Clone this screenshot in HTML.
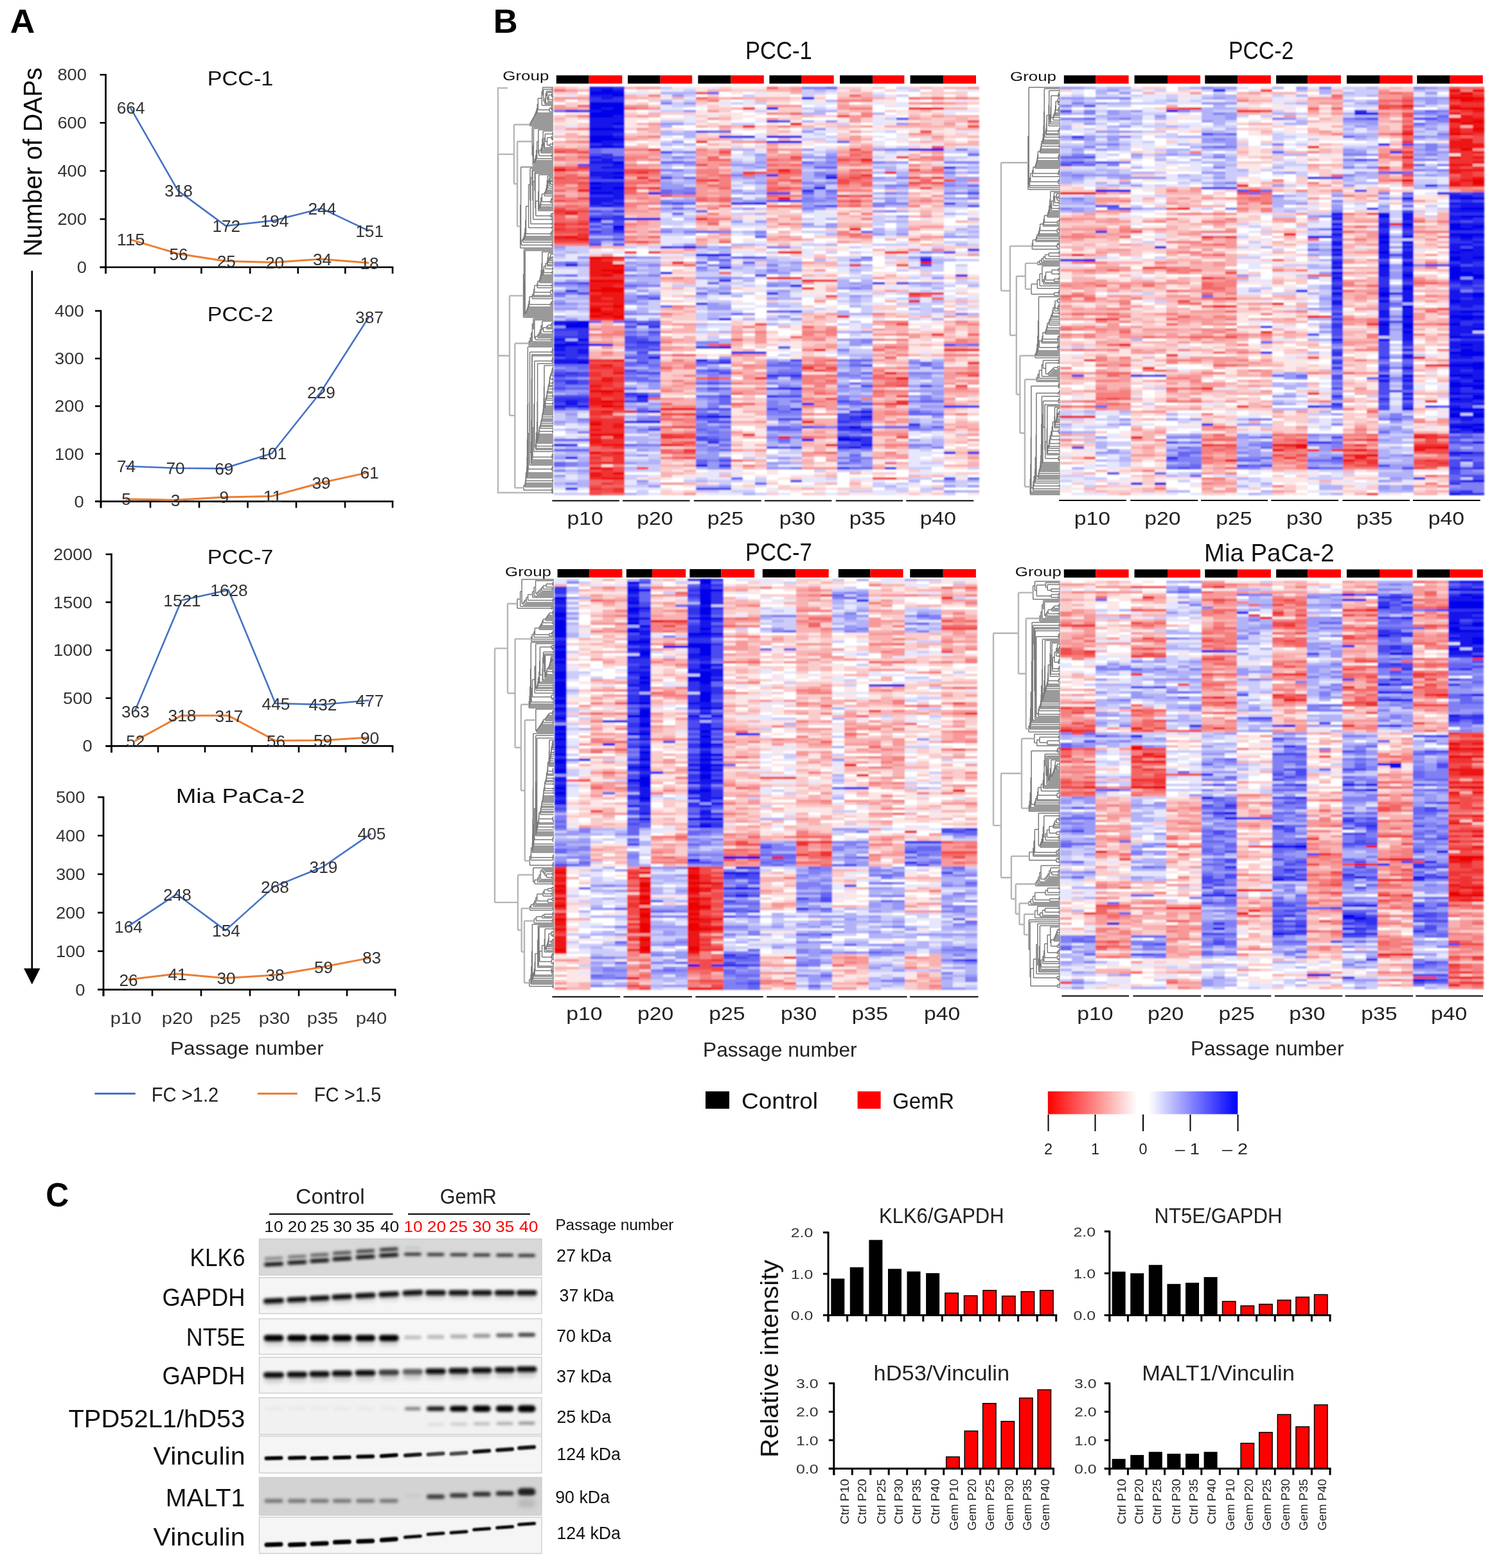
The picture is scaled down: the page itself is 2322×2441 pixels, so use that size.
<!DOCTYPE html>
<html><head><meta charset="utf-8"><title>Figure</title>
<style>html,body{margin:0;padding:0;background:#fff;overflow:hidden;}svg{display:block;}</style></head>
<body><svg width="2322" height="2441" viewBox="0 0 2322 2441" font-family="'Liberation Sans', Arial, sans-serif">
<rect x="0" y="0" width="2322" height="2441" fill="#fff"/>
<text x="15.8" y="50.8" font-size="52.5" font-weight="bold" textLength="38.6" lengthAdjust="spacingAndGlyphs">A</text>
<text x="64.5" y="399.5" font-size="40.5" textLength="294.5" lengthAdjust="spacingAndGlyphs" transform="rotate(-90 64.5 399.5)">Number of DAPs</text>
<line x1="155.5" y1="416.0" x2="164.5" y2="416.0" stroke="#000" stroke-width="2.6" />
<text x="135.0" y="425.0" font-size="25" text-anchor="end" fill="#333" textLength="15.2" lengthAdjust="spacingAndGlyphs">0</text>
<line x1="155.5" y1="341.1" x2="164.5" y2="341.1" stroke="#000" stroke-width="2.6" />
<text x="135.0" y="350.1" font-size="25" text-anchor="end" fill="#333" textLength="45.6" lengthAdjust="spacingAndGlyphs">200</text>
<line x1="155.5" y1="266.1" x2="164.5" y2="266.1" stroke="#000" stroke-width="2.6" />
<text x="135.0" y="275.1" font-size="25" text-anchor="end" fill="#333" textLength="45.6" lengthAdjust="spacingAndGlyphs">400</text>
<line x1="155.5" y1="191.2" x2="164.5" y2="191.2" stroke="#000" stroke-width="2.6" />
<text x="135.0" y="200.2" font-size="25" text-anchor="end" fill="#333" textLength="45.6" lengthAdjust="spacingAndGlyphs">600</text>
<line x1="155.5" y1="116.3" x2="164.5" y2="116.3" stroke="#000" stroke-width="2.6" />
<text x="135.0" y="125.3" font-size="25" text-anchor="end" fill="#333" textLength="45.6" lengthAdjust="spacingAndGlyphs">800</text>
<line x1="164.5" y1="115.0" x2="164.5" y2="426.0" stroke="#000" stroke-width="2.7" />
<line x1="155.5" y1="416.0" x2="612.3" y2="416.0" stroke="#000" stroke-width="2.7" />
<line x1="164.5" y1="416.0" x2="164.5" y2="426.0" stroke="#000" stroke-width="2.6" />
<line x1="240.7" y1="416.0" x2="240.7" y2="426.0" stroke="#000" stroke-width="2.6" />
<line x1="313.4" y1="416.0" x2="313.4" y2="426.0" stroke="#000" stroke-width="2.6" />
<line x1="389.2" y1="416.0" x2="389.2" y2="426.0" stroke="#000" stroke-width="2.6" />
<line x1="463.8" y1="416.0" x2="463.8" y2="426.0" stroke="#000" stroke-width="2.6" />
<line x1="537.3" y1="416.0" x2="537.3" y2="426.0" stroke="#000" stroke-width="2.6" />
<line x1="611.0" y1="416.0" x2="611.0" y2="426.0" stroke="#000" stroke-width="2.6" />
<text x="374.0" y="132.5" font-size="31.5" text-anchor="middle" fill="#111" textLength="102.6" lengthAdjust="spacingAndGlyphs">PCC-1</text>
<polyline points="202.6,372.9 277.0,395.0 351.3,406.6 426.5,408.5 500.5,403.3 574.1,409.3" fill="none" stroke="#ED7D31" stroke-width="3.0" stroke-linejoin="round"/>
<polyline points="202.6,167.2 277.0,296.9 351.3,351.6 426.5,343.3 500.5,324.6 574.1,359.4" fill="none" stroke="#4472C4" stroke-width="2.6" stroke-linejoin="round"/>
<text x="203.6" y="176.7" font-size="25" text-anchor="middle" fill="#333" textLength="43.8" lengthAdjust="spacingAndGlyphs">664</text>
<text x="278.0" y="306.4" font-size="25" text-anchor="middle" fill="#333" textLength="43.8" lengthAdjust="spacingAndGlyphs">318</text>
<text x="352.3" y="361.1" font-size="25" text-anchor="middle" fill="#333" textLength="43.8" lengthAdjust="spacingAndGlyphs">172</text>
<text x="427.5" y="352.8" font-size="25" text-anchor="middle" fill="#333" textLength="43.8" lengthAdjust="spacingAndGlyphs">194</text>
<text x="501.5" y="334.1" font-size="25" text-anchor="middle" fill="#333" textLength="43.8" lengthAdjust="spacingAndGlyphs">244</text>
<text x="575.1" y="368.9" font-size="25" text-anchor="middle" fill="#333" textLength="43.8" lengthAdjust="spacingAndGlyphs">151</text>
<text x="203.6" y="382.4" font-size="25" text-anchor="middle" fill="#333" textLength="43.8" lengthAdjust="spacingAndGlyphs">115</text>
<text x="278.0" y="404.5" font-size="25" text-anchor="middle" fill="#333" textLength="29.2" lengthAdjust="spacingAndGlyphs">56</text>
<text x="352.3" y="416.1" font-size="25" text-anchor="middle" fill="#333" textLength="29.2" lengthAdjust="spacingAndGlyphs">25</text>
<text x="427.5" y="418.0" font-size="25" text-anchor="middle" fill="#333" textLength="29.2" lengthAdjust="spacingAndGlyphs">20</text>
<text x="501.5" y="412.8" font-size="25" text-anchor="middle" fill="#333" textLength="29.2" lengthAdjust="spacingAndGlyphs">34</text>
<text x="575.1" y="418.8" font-size="25" text-anchor="middle" fill="#333" textLength="29.2" lengthAdjust="spacingAndGlyphs">18</text>
<line x1="148.0" y1="780.6" x2="157.0" y2="780.6" stroke="#000" stroke-width="2.6" />
<text x="130.6" y="789.6" font-size="25" text-anchor="end" fill="#333" textLength="15.2" lengthAdjust="spacingAndGlyphs">0</text>
<line x1="148.0" y1="706.5" x2="157.0" y2="706.5" stroke="#000" stroke-width="2.6" />
<text x="130.6" y="715.5" font-size="25" text-anchor="end" fill="#333" textLength="45.6" lengthAdjust="spacingAndGlyphs">100</text>
<line x1="148.0" y1="632.3" x2="157.0" y2="632.3" stroke="#000" stroke-width="2.6" />
<text x="130.6" y="641.3" font-size="25" text-anchor="end" fill="#333" textLength="45.6" lengthAdjust="spacingAndGlyphs">200</text>
<line x1="148.0" y1="558.1" x2="157.0" y2="558.1" stroke="#000" stroke-width="2.6" />
<text x="130.6" y="567.1" font-size="25" text-anchor="end" fill="#333" textLength="45.6" lengthAdjust="spacingAndGlyphs">300</text>
<line x1="148.0" y1="484.0" x2="157.0" y2="484.0" stroke="#000" stroke-width="2.6" />
<text x="130.6" y="493.0" font-size="25" text-anchor="end" fill="#333" textLength="45.6" lengthAdjust="spacingAndGlyphs">400</text>
<line x1="157.0" y1="482.7" x2="157.0" y2="790.6" stroke="#000" stroke-width="2.7" />
<line x1="148.0" y1="780.6" x2="612.3" y2="780.6" stroke="#000" stroke-width="2.7" />
<line x1="157.0" y1="780.6" x2="157.0" y2="790.6" stroke="#000" stroke-width="2.6" />
<line x1="234.0" y1="780.6" x2="234.0" y2="790.6" stroke="#000" stroke-width="2.6" />
<line x1="310.0" y1="780.6" x2="310.0" y2="790.6" stroke="#000" stroke-width="2.6" />
<line x1="385.5" y1="780.6" x2="385.5" y2="790.6" stroke="#000" stroke-width="2.6" />
<line x1="461.0" y1="780.6" x2="461.0" y2="790.6" stroke="#000" stroke-width="2.6" />
<line x1="537.0" y1="780.6" x2="537.0" y2="790.6" stroke="#000" stroke-width="2.6" />
<line x1="611.0" y1="780.6" x2="611.0" y2="790.6" stroke="#000" stroke-width="2.6" />
<text x="374.0" y="500.0" font-size="31.5" text-anchor="middle" fill="#111" textLength="102.6" lengthAdjust="spacingAndGlyphs">PCC-2</text>
<polyline points="195.5,776.9 272.0,778.4 347.8,773.9 423.2,772.4 499.0,751.7 574.0,735.4" fill="none" stroke="#ED7D31" stroke-width="3.0" stroke-linejoin="round"/>
<polyline points="195.5,725.7 272.0,728.7 347.8,729.4 423.2,705.7 499.0,610.8 574.0,493.6" fill="none" stroke="#4472C4" stroke-width="2.6" stroke-linejoin="round"/>
<text x="196.5" y="735.2" font-size="25" text-anchor="middle" fill="#333" textLength="29.2" lengthAdjust="spacingAndGlyphs">74</text>
<text x="273.0" y="738.2" font-size="25" text-anchor="middle" fill="#333" textLength="29.2" lengthAdjust="spacingAndGlyphs">70</text>
<text x="348.8" y="738.9" font-size="25" text-anchor="middle" fill="#333" textLength="29.2" lengthAdjust="spacingAndGlyphs">69</text>
<text x="424.2" y="715.2" font-size="25" text-anchor="middle" fill="#333" textLength="43.8" lengthAdjust="spacingAndGlyphs">101</text>
<text x="500.0" y="620.3" font-size="25" text-anchor="middle" fill="#333" textLength="43.8" lengthAdjust="spacingAndGlyphs">229</text>
<text x="575.0" y="503.1" font-size="25" text-anchor="middle" fill="#333" textLength="43.8" lengthAdjust="spacingAndGlyphs">387</text>
<text x="196.5" y="786.4" font-size="25" text-anchor="middle" fill="#333" textLength="14.6" lengthAdjust="spacingAndGlyphs">5</text>
<text x="273.0" y="787.9" font-size="25" text-anchor="middle" fill="#333" textLength="14.6" lengthAdjust="spacingAndGlyphs">3</text>
<text x="348.8" y="783.4" font-size="25" text-anchor="middle" fill="#333" textLength="14.6" lengthAdjust="spacingAndGlyphs">9</text>
<text x="424.2" y="781.9" font-size="25" text-anchor="middle" fill="#333" textLength="29.2" lengthAdjust="spacingAndGlyphs">11</text>
<text x="500.0" y="761.2" font-size="25" text-anchor="middle" fill="#333" textLength="29.2" lengthAdjust="spacingAndGlyphs">39</text>
<text x="575.0" y="744.9" font-size="25" text-anchor="middle" fill="#333" textLength="29.2" lengthAdjust="spacingAndGlyphs">61</text>
<line x1="164.5" y1="1161.4" x2="173.5" y2="1161.4" stroke="#000" stroke-width="2.6" />
<text x="143.7" y="1170.4" font-size="25" text-anchor="end" fill="#333" textLength="15.2" lengthAdjust="spacingAndGlyphs">0</text>
<line x1="164.5" y1="1086.8" x2="173.5" y2="1086.8" stroke="#000" stroke-width="2.6" />
<text x="143.7" y="1095.8" font-size="25" text-anchor="end" fill="#333" textLength="45.6" lengthAdjust="spacingAndGlyphs">500</text>
<line x1="164.5" y1="1012.2" x2="173.5" y2="1012.2" stroke="#000" stroke-width="2.6" />
<text x="143.7" y="1021.2" font-size="25" text-anchor="end" fill="#333" textLength="60.8" lengthAdjust="spacingAndGlyphs">1000</text>
<line x1="164.5" y1="937.5" x2="173.5" y2="937.5" stroke="#000" stroke-width="2.6" />
<text x="143.7" y="946.5" font-size="25" text-anchor="end" fill="#333" textLength="60.8" lengthAdjust="spacingAndGlyphs">1500</text>
<line x1="164.5" y1="862.9" x2="173.5" y2="862.9" stroke="#000" stroke-width="2.6" />
<text x="143.7" y="871.9" font-size="25" text-anchor="end" fill="#333" textLength="60.8" lengthAdjust="spacingAndGlyphs">2000</text>
<line x1="173.5" y1="861.6" x2="173.5" y2="1171.4" stroke="#000" stroke-width="2.7" />
<line x1="164.5" y1="1161.4" x2="612.3" y2="1161.4" stroke="#000" stroke-width="2.7" />
<line x1="173.5" y1="1161.4" x2="173.5" y2="1171.4" stroke="#000" stroke-width="2.6" />
<line x1="246.0" y1="1161.4" x2="246.0" y2="1171.4" stroke="#000" stroke-width="2.6" />
<line x1="319.0" y1="1161.4" x2="319.0" y2="1171.4" stroke="#000" stroke-width="2.6" />
<line x1="392.0" y1="1161.4" x2="392.0" y2="1171.4" stroke="#000" stroke-width="2.6" />
<line x1="465.0" y1="1161.4" x2="465.0" y2="1171.4" stroke="#000" stroke-width="2.6" />
<line x1="538.0" y1="1161.4" x2="538.0" y2="1171.4" stroke="#000" stroke-width="2.6" />
<line x1="611.0" y1="1161.4" x2="611.0" y2="1171.4" stroke="#000" stroke-width="2.6" />
<text x="374.0" y="877.8" font-size="31.5" text-anchor="middle" fill="#111" textLength="102.6" lengthAdjust="spacingAndGlyphs">PCC-7</text>
<polyline points="209.8,1153.6 282.5,1113.9 355.5,1114.1 428.5,1153.0 501.5,1152.6 574.5,1148.0" fill="none" stroke="#ED7D31" stroke-width="3.0" stroke-linejoin="round"/>
<polyline points="209.8,1107.2 282.5,934.4 355.5,918.4 428.5,1095.0 501.5,1096.9 574.5,1090.2" fill="none" stroke="#4472C4" stroke-width="2.6" stroke-linejoin="round"/>
<text x="210.8" y="1116.7" font-size="25" text-anchor="middle" fill="#333" textLength="43.8" lengthAdjust="spacingAndGlyphs">363</text>
<text x="283.5" y="943.9" font-size="25" text-anchor="middle" fill="#333" textLength="58.4" lengthAdjust="spacingAndGlyphs">1521</text>
<text x="356.5" y="927.9" font-size="25" text-anchor="middle" fill="#333" textLength="58.4" lengthAdjust="spacingAndGlyphs">1628</text>
<text x="429.5" y="1104.5" font-size="25" text-anchor="middle" fill="#333" textLength="43.8" lengthAdjust="spacingAndGlyphs">445</text>
<text x="502.5" y="1106.4" font-size="25" text-anchor="middle" fill="#333" textLength="43.8" lengthAdjust="spacingAndGlyphs">432</text>
<text x="575.5" y="1099.7" font-size="25" text-anchor="middle" fill="#333" textLength="43.8" lengthAdjust="spacingAndGlyphs">477</text>
<text x="210.8" y="1163.1" font-size="25" text-anchor="middle" fill="#333" textLength="29.2" lengthAdjust="spacingAndGlyphs">52</text>
<text x="283.5" y="1123.4" font-size="25" text-anchor="middle" fill="#333" textLength="43.8" lengthAdjust="spacingAndGlyphs">318</text>
<text x="356.5" y="1123.6" font-size="25" text-anchor="middle" fill="#333" textLength="43.8" lengthAdjust="spacingAndGlyphs">317</text>
<text x="429.5" y="1162.5" font-size="25" text-anchor="middle" fill="#333" textLength="29.2" lengthAdjust="spacingAndGlyphs">56</text>
<text x="502.5" y="1162.1" font-size="25" text-anchor="middle" fill="#333" textLength="29.2" lengthAdjust="spacingAndGlyphs">59</text>
<text x="575.5" y="1157.5" font-size="25" text-anchor="middle" fill="#333" textLength="29.2" lengthAdjust="spacingAndGlyphs">90</text>
<line x1="152.0" y1="1540.7" x2="161.0" y2="1540.7" stroke="#000" stroke-width="2.6" />
<text x="132.5" y="1549.7" font-size="25" text-anchor="end" fill="#333" textLength="15.2" lengthAdjust="spacingAndGlyphs">0</text>
<line x1="152.0" y1="1480.8" x2="161.0" y2="1480.8" stroke="#000" stroke-width="2.6" />
<text x="132.5" y="1489.8" font-size="25" text-anchor="end" fill="#333" textLength="45.6" lengthAdjust="spacingAndGlyphs">100</text>
<line x1="152.0" y1="1420.8" x2="161.0" y2="1420.8" stroke="#000" stroke-width="2.6" />
<text x="132.5" y="1429.8" font-size="25" text-anchor="end" fill="#333" textLength="45.6" lengthAdjust="spacingAndGlyphs">200</text>
<line x1="152.0" y1="1360.9" x2="161.0" y2="1360.9" stroke="#000" stroke-width="2.6" />
<text x="132.5" y="1369.9" font-size="25" text-anchor="end" fill="#333" textLength="45.6" lengthAdjust="spacingAndGlyphs">300</text>
<line x1="152.0" y1="1300.9" x2="161.0" y2="1300.9" stroke="#000" stroke-width="2.6" />
<text x="132.5" y="1309.9" font-size="25" text-anchor="end" fill="#333" textLength="45.6" lengthAdjust="spacingAndGlyphs">400</text>
<line x1="152.0" y1="1241.0" x2="161.0" y2="1241.0" stroke="#000" stroke-width="2.6" />
<text x="132.5" y="1250.0" font-size="25" text-anchor="end" fill="#333" textLength="45.6" lengthAdjust="spacingAndGlyphs">500</text>
<line x1="161.0" y1="1239.7" x2="161.0" y2="1550.7" stroke="#000" stroke-width="2.7" />
<line x1="152.0" y1="1540.7" x2="616.3" y2="1540.7" stroke="#000" stroke-width="2.7" />
<line x1="161.0" y1="1540.7" x2="161.0" y2="1550.7" stroke="#000" stroke-width="2.6" />
<line x1="237.0" y1="1540.7" x2="237.0" y2="1550.7" stroke="#000" stroke-width="2.6" />
<line x1="313.0" y1="1540.7" x2="313.0" y2="1550.7" stroke="#000" stroke-width="2.6" />
<line x1="389.0" y1="1540.7" x2="389.0" y2="1550.7" stroke="#000" stroke-width="2.6" />
<line x1="465.0" y1="1540.7" x2="465.0" y2="1550.7" stroke="#000" stroke-width="2.6" />
<line x1="540.0" y1="1540.7" x2="540.0" y2="1550.7" stroke="#000" stroke-width="2.6" />
<line x1="615.0" y1="1540.7" x2="615.0" y2="1550.7" stroke="#000" stroke-width="2.6" />
<text x="374.0" y="1250.4" font-size="31.5" text-anchor="middle" fill="#111" textLength="200.6" lengthAdjust="spacingAndGlyphs">Mia PaCa-2</text>
<polyline points="199.0,1525.1 275.0,1516.1 351.0,1522.7 427.0,1517.9 502.5,1505.3 577.5,1490.9" fill="none" stroke="#ED7D31" stroke-width="3.0" stroke-linejoin="round"/>
<polyline points="199.0,1442.4 275.0,1392.0 351.0,1448.4 427.0,1380.1 502.5,1349.5 577.5,1297.9" fill="none" stroke="#4472C4" stroke-width="2.6" stroke-linejoin="round"/>
<text x="200.0" y="1451.9" font-size="25" text-anchor="middle" fill="#333" textLength="43.8" lengthAdjust="spacingAndGlyphs">164</text>
<text x="276.0" y="1401.5" font-size="25" text-anchor="middle" fill="#333" textLength="43.8" lengthAdjust="spacingAndGlyphs">248</text>
<text x="352.0" y="1457.9" font-size="25" text-anchor="middle" fill="#333" textLength="43.8" lengthAdjust="spacingAndGlyphs">154</text>
<text x="428.0" y="1389.6" font-size="25" text-anchor="middle" fill="#333" textLength="43.8" lengthAdjust="spacingAndGlyphs">268</text>
<text x="503.5" y="1359.0" font-size="25" text-anchor="middle" fill="#333" textLength="43.8" lengthAdjust="spacingAndGlyphs">319</text>
<text x="578.5" y="1307.4" font-size="25" text-anchor="middle" fill="#333" textLength="43.8" lengthAdjust="spacingAndGlyphs">405</text>
<text x="200.0" y="1534.6" font-size="25" text-anchor="middle" fill="#333" textLength="29.2" lengthAdjust="spacingAndGlyphs">26</text>
<text x="276.0" y="1525.6" font-size="25" text-anchor="middle" fill="#333" textLength="29.2" lengthAdjust="spacingAndGlyphs">41</text>
<text x="352.0" y="1532.2" font-size="25" text-anchor="middle" fill="#333" textLength="29.2" lengthAdjust="spacingAndGlyphs">30</text>
<text x="428.0" y="1527.4" font-size="25" text-anchor="middle" fill="#333" textLength="29.2" lengthAdjust="spacingAndGlyphs">38</text>
<text x="503.5" y="1514.8" font-size="25" text-anchor="middle" fill="#333" textLength="29.2" lengthAdjust="spacingAndGlyphs">59</text>
<text x="578.5" y="1500.4" font-size="25" text-anchor="middle" fill="#333" textLength="29.2" lengthAdjust="spacingAndGlyphs">83</text>
<text x="196.0" y="1593.7" font-size="26" text-anchor="middle" fill="#333" textLength="48.5" lengthAdjust="spacingAndGlyphs">p10</text>
<text x="276.0" y="1593.7" font-size="26" text-anchor="middle" fill="#333" textLength="48.5" lengthAdjust="spacingAndGlyphs">p20</text>
<text x="350.7" y="1593.7" font-size="26" text-anchor="middle" fill="#333" textLength="48.5" lengthAdjust="spacingAndGlyphs">p25</text>
<text x="427.0" y="1593.7" font-size="26" text-anchor="middle" fill="#333" textLength="48.5" lengthAdjust="spacingAndGlyphs">p30</text>
<text x="502.0" y="1593.7" font-size="26" text-anchor="middle" fill="#333" textLength="48.5" lengthAdjust="spacingAndGlyphs">p35</text>
<text x="578.0" y="1593.7" font-size="26" text-anchor="middle" fill="#333" textLength="48.5" lengthAdjust="spacingAndGlyphs">p40</text>
<text x="384.4" y="1642.0" font-size="29.5" text-anchor="middle" fill="#222" textLength="238.7" lengthAdjust="spacingAndGlyphs">Passage number</text>
<line x1="147.4" y1="1702.6" x2="210.8" y2="1702.6" stroke="#4472C4" stroke-width="3" />
<text x="235.8" y="1715.0" font-size="31" fill="#222" textLength="104.5" lengthAdjust="spacingAndGlyphs">FC &gt;1.2</text>
<line x1="401.0" y1="1702.6" x2="462.7" y2="1702.6" stroke="#ED7D31" stroke-width="3" />
<text x="488.8" y="1715.0" font-size="31" fill="#222" textLength="104.5" lengthAdjust="spacingAndGlyphs">FC &gt;1.5</text>
<line x1="49.8" y1="421.6" x2="49.8" y2="1510.0" stroke="#000" stroke-width="2.7" />
<polygon points="37.0,1507.5 62.5,1507.5 49.8,1532.5" fill="#000" />
<text x="767.8" y="51.2" font-size="52.5" font-weight="bold" textLength="38.0" lengthAdjust="spacingAndGlyphs">B</text>
<defs><filter id="hb"><feGaussianBlur stdDeviation="0.9"/></filter></defs>
<polyline points="790.0,137.0 775.0,137.0 775.0,767.0 861.0,767.0" fill="none" stroke="#b9b9b9" stroke-width="2.4" />
<path d="M858.6 138.0V140.0M858.6 138.0H861.0M858.6 140.0H861.0M859.6 150.0V152.0M859.6 150.0H861.0M859.6 152.0H861.0M859.0 148.0V151.0M859.0 148.0H861.0M859.0 151.0H859.6M858.3 146.0V149.5M858.3 146.0H861.0M858.3 149.5H859.0M859.5 154.0V156.0M859.5 154.0H861.0M859.5 156.0H861.0M853.9 147.8V155.0M853.9 147.8H858.3M853.9 155.0H859.5M852.8 151.4V158.0M852.8 151.4H853.9M852.8 158.0H861.0M851.6 144.0V154.7M851.6 144.0H861.0M851.6 154.7H852.8M850.4 142.0V149.3M850.4 142.0H861.0M850.4 149.3H851.6M849.2 145.7V160.0M849.2 145.7H850.4M849.2 160.0H861.0M848.0 152.8V162.0M848.0 152.8H849.2M848.0 162.0H861.0M845.7 139.0V157.4M845.7 139.0H858.6M845.7 157.4H848.0M844.5 136.0V148.2M844.5 136.0H861.0M844.5 148.2H845.7M843.3 142.1V164.0M843.3 142.1H844.5M843.3 164.0H861.0M859.5 168.0V170.0M859.5 168.0H861.0M859.5 170.0H861.0M858.7 169.0V172.0M858.7 169.0H859.5M858.7 172.0H861.0M858.0 166.0V170.5M858.0 166.0H861.0M858.0 170.5H858.7M855.1 168.2V174.0M855.1 168.2H858.0M855.1 174.0H861.0M837.4 153.1V171.1M837.4 153.1H843.3M837.4 171.1H855.1M836.3 162.1V176.0M836.3 162.1H837.4M836.3 176.0H861.0M835.1 169.0V178.0M835.1 169.0H836.3M835.1 178.0H861.0M833.9 173.5V180.0M833.9 173.5H835.1M833.9 180.0H861.0M832.7 176.8V182.0M832.7 176.8H833.9M832.7 182.0H861.0M831.5 179.4V184.0M831.5 179.4H832.7M831.5 184.0H861.0M830.4 181.7V186.0M830.4 181.7H831.5M830.4 186.0H861.0M829.2 183.8V188.0M829.2 183.8H830.4M829.2 188.0H861.0M828.0 185.9V190.0M828.0 185.9H829.2M828.0 190.0H861.0M826.8 188.0V192.0M826.8 188.0H828.0M826.8 192.0H861.0M825.7 190.0V194.0M825.7 190.0H826.8M825.7 194.0H861.0M824.5 192.0V196.0M824.5 192.0H825.7M824.5 196.0H861.0M860.0 206.0V208.0M860.0 206.0H861.0M860.0 208.0H861.0M859.6 207.0V210.0M859.6 207.0H860.0M859.6 210.0H861.0M859.7 214.0V216.0M859.7 214.0H861.0M859.7 216.0H861.0M859.1 215.0V218.0M859.1 215.0H859.7M859.1 218.0H861.0M858.5 212.0V216.5M858.5 212.0H861.0M858.5 216.5H859.1M860.2 221.0V224.0M860.2 221.0H860.4M860.2 224.0H861.0M859.9 222.5V226.0M859.9 222.5H860.2M859.9 226.0H861.0M855.7 224.2V228.0M855.7 224.2H859.9M855.7 228.0H861.0M851.5 214.2V226.1M851.5 214.2H858.5M851.5 226.1H855.7M848.3 208.5V220.2M848.3 208.5H859.6M848.3 220.2H851.5M847.3 214.3V230.0M847.3 214.3H848.3M847.3 230.0H861.0M846.2 222.2V232.0M846.2 222.2H847.3M846.2 232.0H861.0M845.2 204.0V227.1M845.2 204.0H861.0M845.2 227.1H846.2M844.1 215.5V234.0M844.1 215.5H845.2M844.1 234.0H861.0M843.1 224.8V236.0M843.1 224.8H844.1M843.1 236.0H861.0M842.0 230.4V238.0M842.0 230.4H843.1M842.0 238.0H861.0M859.2 240.0V242.0M859.2 240.0H861.0M859.2 242.0H861.0M858.3 241.0V244.0M858.3 241.0H859.2M858.3 244.0H861.0M838.8 234.2V242.5M838.8 234.2H842.0M838.8 242.5H858.3M837.8 202.0V238.3M837.8 202.0H861.0M837.8 238.3H838.8M859.2 246.0V248.0M859.2 246.0H861.0M859.2 248.0H861.0M835.7 220.2V247.0M835.7 220.2H837.8M835.7 247.0H859.2M834.6 233.6V250.0M834.6 233.6H835.7M834.6 250.0H861.0M833.6 241.8V252.0M833.6 241.8H834.6M833.6 252.0H861.0M832.5 246.9V254.0M832.5 246.9H833.6M832.5 254.0H861.0M831.5 250.4V256.0M831.5 250.4H832.5M831.5 256.0H861.0M830.4 200.0V253.2M830.4 200.0H861.0M830.4 253.2H831.5M829.4 226.6V258.0M829.4 226.6H830.4M829.4 258.0H861.0M828.3 198.0V242.3M828.3 198.0H861.0M828.3 242.3H829.4M859.8 282.0V284.0M859.8 282.0H861.0M859.8 284.0H861.0M858.6 280.0V283.0M858.6 280.0H861.0M858.6 283.0H859.8M859.4 286.0V288.0M859.4 286.0H861.0M859.4 288.0H861.0M857.0 281.5V287.0M857.0 281.5H858.6M857.0 287.0H859.4M856.2 278.0V284.2M856.2 278.0H861.0M856.2 284.2H857.0M855.4 281.1V290.0M855.4 281.1H856.2M855.4 290.0H861.0M854.6 276.0V285.6M854.6 276.0H861.0M854.6 285.6H855.4M859.4 292.0V294.0M859.4 292.0H861.0M859.4 294.0H861.0M853.0 280.8V293.0M853.0 280.8H854.6M853.0 293.0H859.4M852.2 274.0V286.9M852.2 274.0H861.0M852.2 286.9H853.0M851.4 280.4V296.0M851.4 280.4H852.2M851.4 296.0H861.0M850.6 288.2V298.0M850.6 288.2H851.4M850.6 298.0H861.0M849.8 293.1V300.0M849.8 293.1H850.6M849.8 300.0H861.0M849.0 296.6V302.0M849.0 296.6H849.8M849.0 302.0H861.0M859.4 304.0V306.0M859.4 304.0H861.0M859.4 306.0H861.0M847.4 299.3V305.0M847.4 299.3H849.0M847.4 305.0H859.4M859.4 310.0V312.0M859.4 310.0H861.0M859.4 312.0H861.0M858.6 308.0V311.0M858.6 308.0H861.0M858.6 311.0H859.4M857.8 309.5V314.0M857.8 309.5H858.6M857.8 314.0H861.0M857.0 311.8V316.0M857.0 311.8H857.8M857.0 316.0H861.0M843.4 302.1V313.9M843.4 302.1H847.4M843.4 313.9H857.0M859.4 318.0V320.0M859.4 318.0H861.0M859.4 320.0H861.0M841.8 308.0V319.0M841.8 308.0H843.4M841.8 319.0H859.4M841.0 313.5V322.0M841.0 313.5H841.8M841.0 322.0H861.0M840.2 317.8V324.0M840.2 317.8H841.0M840.2 324.0H861.0M839.4 320.9V326.0M839.4 320.9H840.2M839.4 326.0H861.0M838.6 272.0V323.4M838.6 272.0H861.0M838.6 323.4H839.4M837.8 297.7V328.0M837.8 297.7H838.6M837.8 328.0H861.0M859.9 331.0V334.0M859.9 331.0H860.2M859.9 334.0H861.0M857.8 332.5V336.0M857.8 332.5H859.9M857.8 336.0H861.0M857.0 334.2V338.0M857.0 334.2H857.8M857.0 338.0H861.0M833.8 312.9V336.1M833.8 312.9H837.8M833.8 336.1H857.0M833.0 270.0V324.5M833.0 270.0H861.0M833.0 324.5H833.8M832.2 268.0V297.2M832.2 268.0H861.0M832.2 297.2H833.0M859.4 342.0V344.0M859.4 342.0H861.0M859.4 344.0H861.0M858.6 340.0V343.0M858.6 340.0H861.0M858.6 343.0H859.4M829.8 282.6V341.5M829.8 282.6H832.2M829.8 341.5H858.6M829.0 266.0V312.1M829.0 266.0H861.0M829.0 312.1H829.8M828.2 264.0V289.0M828.2 264.0H861.0M828.2 289.0H829.0M859.4 346.0V348.0M859.4 346.0H861.0M859.4 348.0H861.0M858.6 347.0V350.0M858.6 347.0H859.4M858.6 350.0H861.0M825.8 276.5V348.5M825.8 276.5H828.2M825.8 348.5H858.6M825.0 262.0V312.5M825.0 262.0H861.0M825.0 312.5H825.8M859.8 352.0V354.0M859.8 352.0H861.0M859.8 354.0H861.0M858.6 353.0V356.0M858.6 353.0H859.8M858.6 356.0H861.0M822.6 287.3V354.5M822.6 287.3H825.0M822.6 354.5H858.6M859.7 358.0V360.0M859.7 358.0H861.0M859.7 360.0H861.0M859.0 359.0V362.0M859.0 359.0H859.7M859.0 362.0H861.0M858.3 360.5V364.0M858.3 360.5H859.0M858.3 364.0H861.0M857.0 362.2V366.0M857.0 362.2H858.3M857.0 366.0H861.0M818.6 320.9V364.1M818.6 320.9H822.6M818.6 364.1H857.0M817.8 342.5V368.0M817.8 342.5H818.6M817.8 368.0H861.0M817.0 355.3V370.0M817.0 355.3H817.8M817.0 370.0H861.0M816.2 362.6V372.0M816.2 362.6H817.0M816.2 372.0H861.0M815.4 367.3V374.0M815.4 367.3H816.2M815.4 374.0H861.0M859.4 376.0V378.0M859.4 376.0H861.0M859.4 378.0H861.0M813.8 370.7V377.0M813.8 370.7H815.4M813.8 377.0H859.4M859.4 382.0V384.0M859.4 382.0H861.0M859.4 384.0H861.0M858.6 380.0V383.0M858.6 380.0H861.0M858.6 383.0H859.4M811.4 373.8V381.5M811.4 373.8H813.8M811.4 381.5H858.6M810.6 260.0V377.7M810.6 260.0H861.0M810.6 377.7H811.4M809.8 318.8V386.0M809.8 318.8H810.6M809.8 386.0H861.0M860.0 399.0V402.0M860.0 399.0H860.3M860.0 402.0H861.0M857.9 400.5V404.0M857.9 400.5H860.0M857.9 404.0H861.0M856.7 396.0V402.2M856.7 396.0H861.0M856.7 402.2H857.9M855.8 399.1V406.0M855.8 399.1H856.7M855.8 406.0H861.0M859.3 408.0V410.0M859.3 408.0H861.0M859.3 410.0H861.0M854.1 402.6V409.0M854.1 402.6H855.8M854.1 409.0H859.3M853.3 394.0V405.8M853.3 394.0H861.0M853.3 405.8H854.1M852.4 399.9V412.0M852.4 399.9H853.3M852.4 412.0H861.0M851.5 405.9V414.0M851.5 405.9H852.4M851.5 414.0H861.0M860.2 416.0V418.0M860.2 416.0H861.0M860.2 418.0H861.0M859.8 417.0V420.0M859.8 417.0H860.2M859.8 420.0H861.0M849.0 410.0V418.5M849.0 410.0H851.5M849.0 418.5H859.8M859.5 422.0V424.0M859.5 422.0H861.0M859.5 424.0H861.0M858.8 423.0V426.0M858.8 423.0H859.5M858.8 426.0H861.0M846.4 414.2V424.5M846.4 414.2H849.0M846.4 424.5H858.8M845.5 419.4V428.0M845.5 419.4H846.4M845.5 428.0H861.0M844.7 423.7V430.0M844.7 423.7H845.5M844.7 430.0H861.0M843.8 392.0V426.8M843.8 392.0H861.0M843.8 426.8H844.7M843.0 409.4V432.0M843.0 409.4H843.8M843.0 432.0H861.0M842.1 420.7V434.0M842.1 420.7H843.0M842.1 434.0H861.0M841.2 427.4V436.0M841.2 427.4H842.1M841.2 436.0H861.0M840.4 431.7V438.0M840.4 431.7H841.2M840.4 438.0H861.0M839.5 434.8V440.0M839.5 434.8H840.4M839.5 440.0H861.0M859.3 442.0V444.0M859.3 442.0H861.0M859.3 444.0H861.0M858.4 443.0V446.0M858.4 443.0H859.3M858.4 446.0H861.0M836.9 437.4V444.5M836.9 437.4H839.5M836.9 444.5H858.4M836.1 441.0V448.0M836.1 441.0H836.9M836.1 448.0H861.0M860.2 452.0V454.0M860.2 452.0H861.0M860.2 454.0H861.0M859.8 453.0V456.0M859.8 453.0H860.2M859.8 456.0H861.0M859.4 450.0V454.5M859.4 450.0H861.0M859.4 454.5H859.8M856.7 452.2V458.0M856.7 452.2H859.4M856.7 458.0H861.0M831.8 444.5V455.1M831.8 444.5H836.1M831.8 455.1H856.7M830.9 449.8V460.0M830.9 449.8H831.8M830.9 460.0H861.0M830.1 454.9V462.0M830.1 454.9H830.9M830.1 462.0H861.0M859.3 464.0V466.0M859.3 464.0H861.0M859.3 466.0H861.0M828.4 458.5V465.0M828.4 458.5H830.1M828.4 465.0H859.3M859.9 468.0V470.0M859.9 468.0H861.0M859.9 470.0H861.0M858.6 469.0V472.0M858.6 469.0H859.9M858.6 472.0H861.0M857.8 470.5V474.0M857.8 470.5H858.6M857.8 474.0H861.0M856.7 472.2V476.0M856.7 472.2H857.8M856.7 476.0H861.0M824.1 461.7V474.1M824.1 461.7H828.4M824.1 474.1H856.7M823.2 467.9V478.0M823.2 467.9H824.1M823.2 478.0H861.0M822.3 473.0V480.0M822.3 473.0H823.2M822.3 480.0H861.0M821.5 476.5V482.0M821.5 476.5H822.3M821.5 482.0H861.0M820.6 479.2V484.0M820.6 479.2H821.5M820.6 484.0H861.0M819.8 481.6V486.0M819.8 481.6H820.6M819.8 486.0H861.0M818.9 483.8V488.0M818.9 483.8H819.8M818.9 488.0H861.0M818.0 485.9V490.0M818.0 485.9H818.9M818.0 490.0H861.0M817.2 390.0V488.0M817.2 390.0H861.0M817.2 488.0H818.0M816.3 439.0V492.0M816.3 439.0H817.2M816.3 492.0H861.0M815.5 388.0V465.5M815.5 388.0H861.0M815.5 465.5H816.3M814.6 426.7V494.0M814.6 426.7H815.5M814.6 494.0H861.0M859.2 502.0V504.0M859.2 502.0H861.0M859.2 504.0H861.0M858.3 503.0V506.0M858.3 503.0H859.2M858.3 506.0H861.0M857.4 504.5V508.0M857.4 504.5H858.3M857.4 508.0H861.0M852.4 506.2V510.0M852.4 506.2H857.4M852.4 510.0H861.0M850.7 508.1V512.0M850.7 508.1H852.4M850.7 512.0H861.0M860.0 514.0V516.0M860.0 514.0H861.0M860.0 516.0H861.0M859.4 515.0V518.0M859.4 515.0H860.0M859.4 518.0H861.0M845.5 510.1V516.5M845.5 510.1H850.7M845.5 516.5H859.4M843.8 500.0V513.3M843.8 500.0H861.0M843.8 513.3H845.5M842.1 506.6V520.0M842.1 506.6H843.8M842.1 520.0H861.0M840.4 513.3V522.0M840.4 513.3H842.1M840.4 522.0H861.0M838.7 517.7V524.0M838.7 517.7H840.4M838.7 524.0H861.0M837.0 520.8V526.0M837.0 520.8H838.7M837.0 526.0H861.0M857.6 528.0V530.0M857.6 528.0H861.0M857.6 530.0H861.0M833.5 523.4V529.0M833.5 523.4H837.0M833.5 529.0H857.6M831.8 498.0V526.2M831.8 498.0H861.0M831.8 526.2H833.5M830.1 496.0V512.1M830.1 496.0H861.0M830.1 512.1H831.8M828.4 504.1V532.0M828.4 504.1H830.1M828.4 532.0H861.0M826.7 518.0V534.0M826.7 518.0H828.4M826.7 534.0H861.0M824.9 526.0V536.0M824.9 526.0H826.7M824.9 536.0H861.0M823.2 531.0V538.0M823.2 531.0H824.9M823.2 538.0H861.0M860.2 544.0V546.0M860.2 544.0H861.0M860.2 546.0H861.0M859.8 542.0V545.0M859.8 542.0H861.0M859.8 545.0H860.2M859.4 543.5V548.0M859.4 543.5H859.8M859.4 548.0H861.0M859.0 545.8V550.0M859.0 545.8H859.4M859.0 550.0H861.0M860.2 556.0V558.0M860.2 556.0H861.0M860.2 558.0H861.0M859.8 557.0V560.0M859.8 557.0H860.2M859.8 560.0H861.0M859.4 558.5V562.0M859.4 558.5H859.8M859.4 562.0H861.0M859.0 560.2V564.0M859.0 560.2H859.4M859.0 564.0H861.0M860.2 568.0V570.0M860.2 568.0H861.0M860.2 570.0H861.0M860.2 574.0V576.0M860.2 574.0H861.0M860.2 576.0H861.0M859.8 572.0V575.0M859.8 572.0H861.0M859.8 575.0H860.2M859.4 573.5V578.0M859.4 573.5H859.8M859.4 578.0H861.0M859.0 575.8V580.0M859.0 575.8H859.4M859.0 580.0H861.0M858.6 577.9V582.0M858.6 577.9H859.0M858.6 582.0H861.0M860.2 584.0V586.0M860.2 584.0H861.0M860.2 586.0H861.0M857.8 579.9V585.0M857.8 579.9H858.6M857.8 585.0H860.2M860.2 588.0V590.0M860.2 588.0H861.0M860.2 590.0H861.0M859.8 589.0V592.0M859.8 589.0H860.2M859.8 592.0H861.0M856.6 582.5V590.5M856.6 582.5H857.8M856.6 590.5H859.8M860.2 594.0V596.0M860.2 594.0H861.0M860.2 596.0H861.0M859.8 595.0V598.0M859.8 595.0H860.2M859.8 598.0H861.0M855.4 586.5V596.5M855.4 586.5H856.6M855.4 596.5H859.8M855.0 591.5V600.0M855.0 591.5H855.4M855.0 600.0H861.0M854.6 595.7V602.0M854.6 595.7H855.0M854.6 602.0H861.0M860.2 606.0V608.0M860.2 606.0H861.0M860.2 608.0H861.0M859.8 604.0V607.0M859.8 604.0H861.0M859.8 607.0H860.2M853.4 598.9V605.5M853.4 598.9H854.6M853.4 605.5H859.8M853.0 602.2V610.0M853.0 602.2H853.4M853.0 610.0H861.0M852.6 606.1V612.0M852.6 606.1H853.0M852.6 612.0H861.0M860.2 614.0V616.0M860.2 614.0H861.0M860.2 616.0H861.0M859.8 615.0V618.0M859.8 615.0H860.2M859.8 618.0H861.0M851.4 609.0V616.5M851.4 609.0H852.6M851.4 616.5H859.8M851.0 612.8V620.0M851.0 612.8H851.4M851.0 620.0H861.0M860.2 622.0V624.0M860.2 622.0H861.0M860.2 624.0H861.0M850.2 616.4V623.0M850.2 616.4H851.0M850.2 623.0H860.2M860.2 626.0V628.0M860.2 626.0H861.0M860.2 628.0H861.0M859.8 627.0V630.0M859.8 627.0H860.2M859.8 630.0H861.0M849.0 619.7V628.5M849.0 619.7H850.2M849.0 628.5H859.8M848.6 624.1V632.0M848.6 624.1H849.0M848.6 632.0H861.0M848.2 628.0V634.0M848.2 628.0H848.6M848.2 634.0H861.0M847.8 631.0V636.0M847.8 631.0H848.2M847.8 636.0H861.0M847.0 569.0V633.5M847.0 569.0H860.2M847.0 633.5H847.8M846.6 601.3V638.0M846.6 601.3H847.0M846.6 638.0H861.0M846.2 619.6V640.0M846.2 619.6H846.6M846.2 640.0H861.0M845.8 629.8V642.0M845.8 629.8H846.2M845.8 642.0H861.0M845.4 635.9V644.0M845.4 635.9H845.8M845.4 644.0H861.0M845.0 640.0V646.0M845.0 640.0H845.4M845.0 646.0H861.0M860.2 648.0V650.0M860.2 648.0H861.0M860.2 650.0H861.0M844.2 643.0V649.0M844.2 643.0H845.0M844.2 649.0H860.2M843.8 646.0V652.0M843.8 646.0H844.2M843.8 652.0H861.0M843.4 649.0V654.0M843.4 649.0H843.8M843.4 654.0H861.0M843.0 651.5V656.0M843.0 651.5H843.4M843.0 656.0H861.0M860.2 658.0V660.0M860.2 658.0H861.0M860.2 660.0H861.0M842.2 653.7V659.0M842.2 653.7H843.0M842.2 659.0H860.2M841.8 656.4V662.0M841.8 656.4H842.2M841.8 662.0H861.0M841.4 659.2V664.0M841.4 659.2H841.8M841.4 664.0H861.0M860.2 666.0V668.0M860.2 666.0H861.0M860.2 668.0H861.0M840.6 661.6V667.0M840.6 661.6H841.4M840.6 667.0H860.2M860.2 672.0V674.0M860.2 672.0H861.0M860.2 674.0H861.0M859.8 670.0V673.0M859.8 670.0H861.0M859.8 673.0H860.2M839.4 664.3V671.5M839.4 664.3H840.6M839.4 671.5H859.8M839.0 667.9V676.0M839.0 667.9H839.4M839.0 676.0H861.0M838.6 671.9V678.0M838.6 671.9H839.0M838.6 678.0H861.0M838.2 675.0V680.0M838.2 675.0H838.6M838.2 680.0H861.0M837.8 677.5V682.0M837.8 677.5H838.2M837.8 682.0H861.0M837.4 679.7V684.0M837.4 679.7H837.8M837.4 684.0H861.0M837.0 681.9V686.0M837.0 681.9H837.4M837.0 686.0H861.0M836.6 566.0V683.9M836.6 566.0H861.0M836.6 683.9H837.0M836.2 625.0V688.0M836.2 625.0H836.6M836.2 688.0H861.0M835.8 656.5V690.0M835.8 656.5H836.2M835.8 690.0H861.0M860.2 692.0V694.0M860.2 692.0H861.0M860.2 694.0H861.0M859.8 693.0V696.0M859.8 693.0H860.2M859.8 696.0H861.0M834.6 673.2V694.5M834.6 673.2H835.8M834.6 694.5H859.8M834.2 683.9V698.0M834.2 683.9H834.6M834.2 698.0H861.0M833.8 690.9V700.0M833.8 690.9H834.2M833.8 700.0H861.0M831.8 562.1V695.5M831.8 562.1H859.0M831.8 695.5H833.8M860.2 702.0V704.0M860.2 702.0H861.0M860.2 704.0H861.0M831.0 628.8V703.0M831.0 628.8H831.8M831.0 703.0H860.2M860.2 706.0V708.0M860.2 706.0H861.0M860.2 708.0H861.0M860.2 710.0V712.0M860.2 710.0H861.0M860.2 712.0H861.0M859.4 707.0V711.0M859.4 707.0H860.2M859.4 711.0H860.2M859.0 709.0V714.0M859.0 709.0H859.4M859.0 714.0H861.0M829.0 665.9V711.5M829.0 665.9H831.0M829.0 711.5H859.0M828.6 688.7V716.0M828.6 688.7H829.0M828.6 716.0H861.0M828.2 554.0V702.3M828.2 554.0H861.0M828.2 702.3H828.6M827.8 552.0V628.2M827.8 552.0H861.0M827.8 628.2H828.2M827.4 590.1V718.0M827.4 590.1H827.8M827.4 718.0H861.0M827.0 654.0V720.0M827.0 654.0H827.4M827.0 720.0H861.0M826.6 687.0V722.0M826.6 687.0H827.0M826.6 722.0H861.0M824.6 547.9V704.5M824.6 547.9H859.0M824.6 704.5H826.6M824.2 626.2V724.0M824.2 626.2H824.6M824.2 724.0H861.0M860.2 728.0V730.0M860.2 728.0H861.0M860.2 730.0H861.0M859.8 726.0V729.0M859.8 726.0H861.0M859.8 729.0H860.2M860.2 732.0V734.0M860.2 732.0H861.0M860.2 734.0H861.0M859.0 727.5V733.0M859.0 727.5H859.8M859.0 733.0H860.2M822.2 675.1V730.2M822.2 675.1H824.2M822.2 730.2H859.0M821.8 702.7V736.0M821.8 702.7H822.2M821.8 736.0H861.0M821.4 540.0V719.3M821.4 540.0H861.0M821.4 719.3H821.8M821.0 629.7V738.0M821.0 629.7H821.4M821.0 738.0H861.0M820.6 683.8V740.0M820.6 683.8H821.0M820.6 740.0H861.0M820.2 711.9V742.0M820.2 711.9H820.6M820.2 742.0H861.0M819.8 727.0V744.0M819.8 727.0H820.2M819.8 744.0H861.0M860.2 746.0V748.0M860.2 746.0H861.0M860.2 748.0H861.0M859.8 747.0V750.0M859.8 747.0H860.2M859.8 750.0H861.0M818.6 735.5V748.5M818.6 735.5H819.8M818.6 748.5H859.8M818.2 742.0V752.0M818.2 742.0H818.6M818.2 752.0H861.0M817.8 747.0V754.0M817.8 747.0H818.2M817.8 754.0H861.0M817.4 750.5V756.0M817.4 750.5H817.8M817.4 756.0H861.0M817.0 753.2V758.0M817.0 753.2H817.4M817.0 758.0H861.0M860.2 762.0V764.0M860.2 762.0H861.0M860.2 764.0H861.0M859.8 763.0V766.0M859.8 763.0H860.2M859.8 766.0H861.0M859.4 764.5V768.0M859.4 764.5H859.8M859.4 768.0H861.0M859.0 760.0V766.2M859.0 760.0H861.0M859.0 766.2H859.4M815.0 755.6V763.1M815.0 755.6H817.0M815.0 763.1H859.0" stroke="#7a7a7a" stroke-width="1.5" fill="none"/>
<path d="M805.1 220.2V352.4M805.1 220.2H828.3M805.1 352.4H809.8M800.0 194.0V286.3M800.0 194.0H824.5M800.0 286.3H805.1M801.3 534.5V759.4M801.3 534.5H823.2M801.3 759.4H815.0M793.0 460.4V646.9M793.0 460.4H814.6M793.0 646.9H801.3M775.0 240.1V553.7M775.0 240.1H800.0M775.0 553.7H793.0" stroke="#b5b5b5" stroke-width="2.4" fill="none"/>
<path d="M1648.8 140.0V142.0M1648.8 140.0H1650.0M1648.8 142.0H1650.0M1648.9 146.0V148.0M1648.9 146.0H1650.0M1648.9 148.0H1650.0M1648.4 147.0V150.0M1648.4 147.0H1648.9M1648.4 150.0H1650.0M1647.5 144.0V148.5M1647.5 144.0H1650.0M1647.5 148.5H1648.4M1646.9 146.2V152.0M1646.9 146.2H1647.5M1646.9 152.0H1650.0M1648.8 156.0V158.0M1648.8 156.0H1650.0M1648.8 158.0H1650.0M1648.1 157.0V160.0M1648.1 157.0H1648.8M1648.1 160.0H1650.0M1648.8 162.0V164.0M1648.8 162.0H1650.0M1648.8 164.0H1650.0M1646.9 158.5V163.0M1646.9 158.5H1648.1M1646.9 163.0H1648.8M1646.3 154.0V160.8M1646.3 154.0H1650.0M1646.3 160.8H1646.9M1648.8 166.0V168.0M1648.8 166.0H1650.0M1648.8 168.0H1650.0M1648.8 170.0V172.0M1648.8 170.0H1650.0M1648.8 172.0H1650.0M1647.5 167.0V171.0M1647.5 167.0H1648.8M1647.5 171.0H1648.8M1646.9 169.0V174.0M1646.9 169.0H1647.5M1646.9 174.0H1650.0M1643.2 157.4V171.5M1643.2 157.4H1646.3M1643.2 171.5H1646.9M1642.6 164.4V176.0M1642.6 164.4H1643.2M1642.6 176.0H1650.0M1642.0 170.2V178.0M1642.0 170.2H1642.6M1642.0 178.0H1650.0M1641.4 174.1V180.0M1641.4 174.1H1642.0M1641.4 180.0H1650.0M1648.8 182.0V184.0M1648.8 182.0H1650.0M1648.8 184.0H1650.0M1640.1 177.1V183.0M1640.1 177.1H1641.4M1640.1 183.0H1648.8M1648.8 186.0V188.0M1648.8 186.0H1650.0M1648.8 188.0H1650.0M1638.9 180.0V187.0M1638.9 180.0H1640.1M1638.9 187.0H1648.8M1635.8 149.1V183.5M1635.8 149.1H1646.9M1635.8 183.5H1638.9M1635.2 166.3V190.0M1635.2 166.3H1635.8M1635.2 190.0H1650.0M1648.8 192.0V194.0M1648.8 192.0H1650.0M1648.8 194.0H1650.0M1634.0 178.2V193.0M1634.0 178.2H1635.2M1634.0 193.0H1648.8M1632.7 141.0V185.6M1632.7 141.0H1648.8M1632.7 185.6H1634.0M1632.1 163.3V196.0M1632.1 163.3H1632.7M1632.1 196.0H1650.0M1649.2 198.0V200.0M1649.2 198.0H1650.0M1649.2 200.0H1650.0M1648.8 199.0V202.0M1648.8 199.0H1649.2M1648.8 202.0H1650.0M1648.4 200.5V204.0M1648.4 200.5H1648.8M1648.4 204.0H1650.0M1646.9 202.2V206.0M1646.9 202.2H1648.4M1646.9 206.0H1650.0M1629.0 179.6V204.1M1629.0 179.6H1632.1M1629.0 204.1H1646.9M1628.4 191.9V208.0M1628.4 191.9H1629.0M1628.4 208.0H1650.0M1627.8 199.9V210.0M1627.8 199.9H1628.4M1627.8 210.0H1650.0M1648.8 214.0V216.0M1648.8 214.0H1650.0M1648.8 216.0H1650.0M1648.1 212.0V215.0M1648.1 212.0H1650.0M1648.1 215.0H1648.8M1625.9 205.0V213.5M1625.9 205.0H1627.8M1625.9 213.5H1648.1M1625.3 138.0V209.2M1625.3 138.0H1650.0M1625.3 209.2H1625.9M1624.7 173.6V218.0M1624.7 173.6H1625.3M1624.7 218.0H1650.0M1624.1 195.8V220.0M1624.1 195.8H1624.7M1624.1 220.0H1650.0M1623.5 207.9V222.0M1623.5 207.9H1624.1M1623.5 222.0H1650.0M1622.8 215.0V224.0M1622.8 215.0H1623.5M1622.8 224.0H1650.0M1648.8 228.0V230.0M1648.8 228.0H1650.0M1648.8 230.0H1650.0M1648.1 226.0V229.0M1648.1 226.0H1650.0M1648.1 229.0H1648.8M1621.0 219.5V227.5M1621.0 219.5H1622.8M1621.0 227.5H1648.1M1620.4 223.5V232.0M1620.4 223.5H1621.0M1620.4 232.0H1650.0M1619.8 227.7V234.0M1619.8 227.7H1620.4M1619.8 234.0H1650.0M1619.1 230.9V236.0M1619.1 230.9H1619.8M1619.1 236.0H1650.0M1618.5 233.4V238.0M1618.5 233.4H1619.1M1618.5 238.0H1650.0M1648.8 242.0V244.0M1648.8 242.0H1650.0M1648.8 244.0H1650.0M1648.1 240.0V243.0M1648.1 240.0H1650.0M1648.1 243.0H1648.8M1647.5 241.5V246.0M1647.5 241.5H1648.1M1647.5 246.0H1650.0M1646.9 243.8V248.0M1646.9 243.8H1647.5M1646.9 248.0H1650.0M1615.4 235.7V245.9M1615.4 235.7H1618.5M1615.4 245.9H1646.9M1614.8 240.8V250.0M1614.8 240.8H1615.4M1614.8 250.0H1650.0M1614.2 245.4V252.0M1614.2 245.4H1614.8M1614.2 252.0H1650.0M1613.6 248.7V254.0M1613.6 248.7H1614.2M1613.6 254.0H1650.0M1613.0 251.3V256.0M1613.0 251.3H1613.6M1613.0 256.0H1650.0M1612.3 253.7V258.0M1612.3 253.7H1613.0M1612.3 258.0H1650.0M1611.7 255.8V260.0M1611.7 255.8H1612.3M1611.7 260.0H1650.0M1611.1 257.9V262.0M1611.1 257.9H1611.7M1611.1 262.0H1650.0M1648.8 264.0V266.0M1648.8 264.0H1650.0M1648.8 266.0H1650.0M1648.1 265.0V268.0M1648.1 265.0H1648.8M1648.1 268.0H1650.0M1647.5 266.5V270.0M1647.5 266.5H1648.1M1647.5 270.0H1650.0M1646.9 268.2V272.0M1646.9 268.2H1647.5M1646.9 272.0H1650.0M1608.0 260.0V270.1M1608.0 260.0H1611.1M1608.0 270.1H1646.9M1648.8 274.0V276.0M1648.8 274.0H1650.0M1648.8 276.0H1650.0M1606.8 265.0V275.0M1606.8 265.0H1608.0M1606.8 275.0H1648.8M1649.1 281.0V284.0M1649.1 281.0H1649.4M1649.1 284.0H1650.0M1648.8 278.0V282.5M1648.8 278.0H1650.0M1648.8 282.5H1649.1M1646.9 280.2V286.0M1646.9 280.2H1648.8M1646.9 286.0H1650.0M1603.7 270.0V283.1M1603.7 270.0H1606.8M1603.7 283.1H1646.9M1648.8 288.0V290.0M1648.8 288.0H1650.0M1648.8 290.0H1650.0M1602.5 276.6V289.0M1602.5 276.6H1603.7M1602.5 289.0H1648.8M1601.9 282.8V292.0M1601.9 282.8H1602.5M1601.9 292.0H1650.0M1601.2 136.0V287.4M1601.2 136.0H1650.0M1601.2 287.4H1601.9M1648.8 294.0V296.0M1648.8 294.0H1650.0M1648.8 296.0H1650.0M1600.0 211.7V295.0M1600.0 211.7H1601.2M1600.0 295.0H1648.8M1648.7 304.0V306.0M1648.7 304.0H1650.0M1648.7 306.0H1650.0M1648.7 308.0V310.0M1648.7 308.0H1650.0M1648.7 310.0H1650.0M1647.4 305.0V309.0M1647.4 305.0H1648.7M1647.4 309.0H1648.7M1645.3 307.0V312.0M1645.3 307.0H1647.4M1645.3 312.0H1650.0M1644.3 302.0V309.5M1644.3 302.0H1650.0M1644.3 309.5H1645.3M1648.9 316.0V318.0M1648.9 316.0H1650.0M1648.9 318.0H1650.0M1647.5 314.0V317.0M1647.5 314.0H1650.0M1647.5 317.0H1648.9M1641.5 305.8V315.5M1641.5 305.8H1644.3M1641.5 315.5H1647.5M1640.5 300.0V310.6M1640.5 300.0H1650.0M1640.5 310.6H1641.5M1639.6 305.3V320.0M1639.6 305.3H1640.5M1639.6 320.0H1650.0M1648.8 322.0V324.0M1648.8 322.0H1650.0M1648.8 324.0H1650.0M1648.2 323.0V326.0M1648.2 323.0H1648.8M1648.2 326.0H1650.0M1636.7 312.7V324.5M1636.7 312.7H1639.6M1636.7 324.5H1648.2M1635.8 318.6V328.0M1635.8 318.6H1636.7M1635.8 328.0H1650.0M1634.8 298.0V323.3M1634.8 298.0H1650.0M1634.8 323.3H1635.8M1633.9 310.6V330.0M1633.9 310.6H1634.8M1633.9 330.0H1650.0M1632.9 320.3V332.0M1632.9 320.3H1633.9M1632.9 332.0H1650.0M1632.0 326.2V334.0M1632.0 326.2H1632.9M1632.0 334.0H1650.0M1631.0 330.1V336.0M1631.0 330.1H1632.0M1631.0 336.0H1650.0M1630.1 333.0V338.0M1630.1 333.0H1631.0M1630.1 338.0H1650.0M1649.2 340.0V342.0M1649.2 340.0H1650.0M1649.2 342.0H1650.0M1648.8 341.0V344.0M1648.8 341.0H1649.2M1648.8 344.0H1650.0M1647.9 342.5V346.0M1647.9 342.5H1648.8M1647.9 346.0H1650.0M1645.3 344.2V348.0M1645.3 344.2H1647.9M1645.3 348.0H1650.0M1625.3 335.5V346.1M1625.3 335.5H1630.1M1625.3 346.1H1645.3M1624.4 340.8V350.0M1624.4 340.8H1625.3M1624.4 350.0H1650.0M1623.4 345.4V352.0M1623.4 345.4H1624.4M1623.4 352.0H1650.0M1648.9 356.0V358.0M1648.9 356.0H1650.0M1648.9 358.0H1650.0M1648.3 357.0V360.0M1648.3 357.0H1648.9M1648.3 360.0H1650.0M1647.7 354.0V358.5M1647.7 354.0H1650.0M1647.7 358.5H1648.3M1645.3 356.2V362.0M1645.3 356.2H1647.7M1645.3 362.0H1650.0M1618.7 348.7V359.1M1618.7 348.7H1623.4M1618.7 359.1H1645.3M1617.8 353.9V364.0M1617.8 353.9H1618.7M1617.8 364.0H1650.0M1616.8 359.0V366.0M1616.8 359.0H1617.8M1616.8 366.0H1650.0M1615.9 362.5V368.0M1615.9 362.5H1616.8M1615.9 368.0H1650.0M1648.1 370.0V372.0M1648.1 370.0H1650.0M1648.1 372.0H1650.0M1614.0 365.2V371.0M1614.0 365.2H1615.9M1614.0 371.0H1648.1M1613.0 368.1V374.0M1613.0 368.1H1614.0M1613.0 374.0H1650.0M1612.1 371.1V376.0M1612.1 371.1H1613.0M1612.1 376.0H1650.0M1648.7 382.0V384.0M1648.7 382.0H1650.0M1648.7 384.0H1650.0M1648.1 380.0V383.0M1648.1 380.0H1650.0M1648.1 383.0H1648.7M1647.3 378.0V381.5M1647.3 378.0H1650.0M1647.3 381.5H1648.1M1645.3 379.8V386.0M1645.3 379.8H1647.3M1645.3 386.0H1650.0M1607.3 373.5V382.9M1607.3 373.5H1612.1M1607.3 382.9H1645.3M1606.4 378.2V388.0M1606.4 378.2H1607.3M1606.4 388.0H1650.0M1649.0 392.0V394.0M1649.0 392.0H1650.0M1649.0 394.0H1650.0M1648.6 390.0V393.0M1648.6 390.0H1650.0M1648.6 393.0H1649.0M1648.1 391.5V396.0M1648.1 391.5H1648.6M1648.1 396.0H1650.0M1648.1 398.0V400.0M1648.1 398.0H1650.0M1648.1 400.0H1650.0M1632.4 393.8V399.0M1632.4 393.8H1648.1M1632.4 399.0H1648.1M1648.9 402.0V404.0M1648.9 402.0H1650.0M1648.9 404.0H1650.0M1626.5 396.4V403.0M1626.5 396.4H1632.4M1626.5 403.0H1648.9M1623.6 399.7V406.0M1623.6 399.7H1626.5M1623.6 406.0H1650.0M1620.7 402.8V408.0M1620.7 402.8H1623.6M1620.7 408.0H1650.0M1617.7 405.4V410.0M1617.7 405.4H1620.7M1617.7 410.0H1650.0M1614.8 407.7V412.0M1614.8 407.7H1617.7M1614.8 412.0H1650.0M1648.9 416.0V418.0M1648.9 416.0H1650.0M1648.9 418.0H1650.0M1648.3 417.0V420.0M1648.3 417.0H1648.9M1648.3 420.0H1650.0M1646.7 418.5V422.0M1646.7 418.5H1648.3M1646.7 422.0H1650.0M1648.5 424.0V426.0M1648.5 424.0H1650.0M1648.5 426.0H1650.0M1647.8 425.0V428.0M1647.8 425.0H1648.5M1647.8 428.0H1650.0M1636.9 420.2V426.5M1636.9 420.2H1646.7M1636.9 426.5H1647.8M1648.8 430.0V432.0M1648.8 430.0H1650.0M1648.8 432.0H1650.0M1648.2 431.0V434.0M1648.2 431.0H1648.8M1648.2 434.0H1650.0M1647.6 432.5V436.0M1647.6 432.5H1648.2M1647.6 436.0H1650.0M1640.6 434.2V438.0M1640.6 434.2H1647.6M1640.6 438.0H1650.0M1627.5 423.4V436.1M1627.5 423.4H1636.9M1627.5 436.1H1640.6M1625.7 429.8V440.0M1625.7 429.8H1627.5M1625.7 440.0H1650.0M1623.8 434.9V442.0M1623.8 434.9H1625.7M1623.8 442.0H1650.0M1621.9 414.0V438.4M1621.9 414.0H1650.0M1621.9 438.4H1623.8M1648.7 444.0V446.0M1648.7 444.0H1650.0M1648.7 446.0H1650.0M1618.2 426.2V445.0M1618.2 426.2H1621.9M1618.2 445.0H1648.7M1648.0 448.0V450.0M1648.0 448.0H1650.0M1648.0 450.0H1650.0M1614.4 435.6V449.0M1614.4 435.6H1618.2M1614.4 449.0H1648.0M1648.7 454.0V456.0M1648.7 454.0H1650.0M1648.7 456.0H1650.0M1648.1 452.0V455.0M1648.1 452.0H1650.0M1648.1 455.0H1648.7M1647.5 453.5V458.0M1647.5 453.5H1648.1M1647.5 458.0H1650.0M1640.6 455.8V460.0M1640.6 455.8H1647.5M1640.6 460.0H1650.0M1605.1 442.3V457.9M1605.1 442.3H1614.4M1605.1 457.9H1640.6M1649.1 466.0V468.0M1649.1 466.0H1650.0M1649.1 468.0H1650.0M1648.6 464.0V467.0M1648.6 464.0H1650.0M1648.6 467.0H1649.1M1648.4 470.0V472.0M1648.4 470.0H1650.0M1648.4 472.0H1650.0M1646.0 465.5V471.0M1646.0 465.5H1648.6M1646.0 471.0H1648.4M1648.4 476.0V478.0M1648.4 476.0H1650.0M1648.4 478.0H1650.0M1647.6 474.0V477.0M1647.6 474.0H1650.0M1647.6 477.0H1648.4M1646.8 475.5V480.0M1646.8 475.5H1647.6M1646.8 480.0H1650.0M1646.0 477.8V482.0M1646.0 477.8H1646.8M1646.0 482.0H1650.0M1642.0 468.2V479.9M1642.0 468.2H1646.0M1642.0 479.9H1646.0M1641.2 474.1V484.0M1641.2 474.1H1642.0M1641.2 484.0H1650.0M1648.4 488.0V490.0M1648.4 488.0H1650.0M1648.4 490.0H1650.0M1647.6 486.0V489.0M1647.6 486.0H1650.0M1647.6 489.0H1648.4M1638.8 479.0V487.5M1638.8 479.0H1641.2M1638.8 487.5H1647.6M1638.0 483.3V492.0M1638.0 483.3H1638.8M1638.0 492.0H1650.0M1637.2 487.6V494.0M1637.2 487.6H1638.0M1637.2 494.0H1650.0M1648.5 496.0V498.0M1648.5 496.0H1650.0M1648.5 498.0H1650.0M1635.6 490.8V497.0M1635.6 490.8H1637.2M1635.6 497.0H1648.5M1634.8 493.9V500.0M1634.8 493.9H1635.6M1634.8 500.0H1650.0M1648.4 502.0V504.0M1648.4 502.0H1650.0M1648.4 504.0H1650.0M1633.2 497.0V503.0M1633.2 497.0H1634.8M1633.2 503.0H1648.4M1632.4 500.0V506.0M1632.4 500.0H1633.2M1632.4 506.0H1650.0M1649.0 509.0V512.0M1649.0 509.0H1649.3M1649.0 512.0H1650.0M1630.0 503.0V510.5M1630.0 503.0H1632.4M1630.0 510.5H1649.0M1629.2 506.7V514.0M1629.2 506.7H1630.0M1629.2 514.0H1650.0M1628.4 510.4V516.0M1628.4 510.4H1629.2M1628.4 516.0H1650.0M1627.6 513.2V518.0M1627.6 513.2H1628.4M1627.6 518.0H1650.0M1626.8 515.6V520.0M1626.8 515.6H1627.6M1626.8 520.0H1650.0M1648.7 524.0V526.0M1648.7 524.0H1650.0M1648.7 526.0H1650.0M1648.0 522.0V525.0M1648.0 522.0H1650.0M1648.0 525.0H1648.7M1646.8 523.5V528.0M1646.8 523.5H1648.0M1646.8 528.0H1650.0M1646.0 525.8V530.0M1646.0 525.8H1646.8M1646.0 530.0H1650.0M1622.9 517.8V527.9M1622.9 517.8H1626.8M1622.9 527.9H1646.0M1622.1 522.8V532.0M1622.1 522.8H1622.9M1622.1 532.0H1650.0M1621.3 527.4V534.0M1621.3 527.4H1622.1M1621.3 534.0H1650.0M1648.4 538.0V540.0M1648.4 538.0H1650.0M1648.4 540.0H1650.0M1647.6 539.0V542.0M1647.6 539.0H1648.4M1647.6 542.0H1650.0M1646.8 536.0V540.5M1646.8 536.0H1650.0M1646.8 540.5H1647.6M1646.0 538.2V544.0M1646.0 538.2H1646.8M1646.0 544.0H1650.0M1617.3 530.7V541.1M1617.3 530.7H1621.3M1617.3 541.1H1646.0M1616.5 462.0V535.9M1616.5 462.0H1650.0M1616.5 535.9H1617.3M1615.7 499.0V546.0M1615.7 499.0H1616.5M1615.7 546.0H1650.0M1614.9 522.5V548.0M1614.9 522.5H1615.7M1614.9 548.0H1650.0M1614.1 535.2V550.0M1614.1 535.2H1614.9M1614.1 550.0H1650.0M1613.3 542.6V552.0M1613.3 542.6H1614.1M1613.3 552.0H1650.0M1612.5 547.3V554.0M1612.5 547.3H1613.3M1612.5 554.0H1650.0M1648.4 556.0V558.0M1648.4 556.0H1650.0M1648.4 558.0H1650.0M1610.9 550.7V557.0M1610.9 550.7H1612.5M1610.9 557.0H1648.4M1646.4 560.0V562.0M1646.4 560.0H1650.0M1646.4 562.0H1650.0M1646.6 564.0V566.0M1646.6 564.0H1650.0M1646.6 566.0H1650.0M1648.8 569.0V572.0M1648.8 569.0H1649.2M1648.8 572.0H1650.0M1646.1 570.5V574.0M1646.1 570.5H1648.8M1646.1 574.0H1650.0M1639.8 572.2V576.0M1639.8 572.2H1646.1M1639.8 576.0H1650.0M1637.7 574.1V578.0M1637.7 574.1H1639.8M1637.7 578.0H1650.0M1635.7 576.1V580.0M1635.7 576.1H1637.7M1635.7 580.0H1650.0M1633.6 578.0V582.0M1633.6 578.0H1635.7M1633.6 582.0H1650.0M1631.6 580.0V584.0M1631.6 580.0H1633.6M1631.6 584.0H1650.0M1627.5 565.0V582.0M1627.5 565.0H1646.6M1627.5 582.0H1631.6M1623.4 561.0V573.5M1623.4 561.0H1646.4M1623.4 573.5H1627.5M1621.4 567.3V586.0M1621.4 567.3H1623.4M1621.4 586.0H1650.0M1646.1 588.0V590.0M1646.1 588.0H1650.0M1646.1 590.0H1650.0M1617.3 576.6V589.0M1617.3 576.6H1621.4M1617.3 589.0H1646.1M1615.2 582.8V592.0M1615.2 582.8H1617.3M1615.2 592.0H1650.0M1613.2 587.4V594.0M1613.2 587.4H1615.2M1613.2 594.0H1650.0M1648.9 598.0V600.0M1648.9 598.0H1650.0M1648.9 600.0H1650.0M1648.4 599.0V602.0M1648.4 599.0H1648.9M1648.4 602.0H1650.0M1647.9 596.0V600.5M1647.9 596.0H1650.0M1647.9 600.5H1648.4M1647.3 598.2V604.0M1647.3 598.2H1647.9M1647.3 604.0H1650.0M1649.0 607.0V610.0M1649.0 607.0H1649.3M1649.0 610.0H1650.0M1648.7 608.5V612.0M1648.7 608.5H1649.0M1648.7 612.0H1650.0M1647.3 610.2V614.0M1647.3 610.2H1648.7M1647.3 614.0H1650.0M1648.9 616.0V618.0M1648.9 616.0H1650.0M1648.9 618.0H1650.0M1648.9 622.0V624.0M1648.9 622.0H1650.0M1648.9 624.0H1650.0M1648.4 620.0V623.0M1648.4 620.0H1650.0M1648.4 623.0H1648.9M1648.9 626.0V628.0M1648.9 626.0H1650.0M1648.9 628.0H1650.0M1647.3 621.5V627.0M1647.3 621.5H1648.4M1647.3 627.0H1648.9M1648.8 639.0V642.0M1648.8 639.0H1649.2M1648.8 642.0H1650.0M1648.4 640.5V644.0M1648.4 640.5H1648.8M1648.4 644.0H1650.0M1647.3 642.2V646.0M1647.3 642.2H1648.4M1647.3 646.0H1650.0M1648.9 648.0V650.0M1648.9 648.0H1650.0M1648.9 650.0H1650.0M1646.3 644.1V649.0M1646.3 644.1H1647.3M1646.3 649.0H1648.9M1645.8 646.6V652.0M1645.8 646.6H1646.3M1645.8 652.0H1650.0M1645.2 636.0V649.3M1645.2 636.0H1650.0M1645.2 649.3H1645.8M1644.7 642.6V654.0M1644.7 642.6H1645.2M1644.7 654.0H1650.0M1644.2 648.3V656.0M1644.2 648.3H1644.7M1644.2 656.0H1650.0M1643.6 652.2V658.0M1643.6 652.2H1644.2M1643.6 658.0H1650.0M1648.9 660.0V662.0M1648.9 660.0H1650.0M1648.9 662.0H1650.0M1642.6 655.1V661.0M1642.6 655.1H1643.6M1642.6 661.0H1648.9M1642.0 658.0V664.0M1642.0 658.0H1642.6M1642.0 664.0H1650.0M1641.5 634.0V661.0M1641.5 634.0H1650.0M1641.5 661.0H1642.0M1641.0 647.5V666.0M1641.0 647.5H1641.5M1641.0 666.0H1650.0M1648.9 668.0V670.0M1648.9 668.0H1650.0M1648.9 670.0H1650.0M1648.9 674.0V676.0M1648.9 674.0H1650.0M1648.9 676.0H1650.0M1648.4 672.0V675.0M1648.4 672.0H1650.0M1648.4 675.0H1648.9M1647.3 669.0V673.5M1647.3 669.0H1648.9M1647.3 673.5H1648.4M1638.3 656.8V671.2M1638.3 656.8H1641.0M1638.3 671.2H1647.3M1648.9 678.0V680.0M1648.9 678.0H1650.0M1648.9 680.0H1650.0M1637.3 664.0V679.0M1637.3 664.0H1638.3M1637.3 679.0H1648.9M1648.9 682.0V684.0M1648.9 682.0H1650.0M1648.9 684.0H1650.0M1648.4 683.0V686.0M1648.4 683.0H1648.9M1648.4 686.0H1650.0M1635.7 671.5V684.5M1635.7 671.5H1637.3M1635.7 684.5H1648.4M1648.9 688.0V690.0M1648.9 688.0H1650.0M1648.9 690.0H1650.0M1648.4 689.0V692.0M1648.4 689.0H1648.9M1648.4 692.0H1650.0M1634.1 678.0V690.5M1634.1 678.0H1635.7M1634.1 690.5H1648.4M1648.9 694.0V696.0M1648.9 694.0H1650.0M1648.9 696.0H1650.0M1633.0 684.3V695.0M1633.0 684.3H1634.1M1633.0 695.0H1648.9M1632.5 689.6V698.0M1632.5 689.6H1633.0M1632.5 698.0H1650.0M1648.9 702.0V704.0M1648.9 702.0H1650.0M1648.9 704.0H1650.0M1648.4 700.0V703.0M1648.4 700.0H1650.0M1648.4 703.0H1648.9M1630.9 693.8V701.5M1630.9 693.8H1632.5M1630.9 701.5H1648.4M1630.4 697.7V706.0M1630.4 697.7H1630.9M1630.4 706.0H1650.0M1629.8 632.0V701.8M1629.8 632.0H1650.0M1629.8 701.8H1630.4M1629.3 666.9V708.0M1629.3 666.9H1629.8M1629.3 708.0H1650.0M1648.9 710.0V712.0M1648.9 710.0H1650.0M1648.9 712.0H1650.0M1648.9 714.0V716.0M1648.9 714.0H1650.0M1648.9 716.0H1650.0M1648.4 715.0V718.0M1648.4 715.0H1648.9M1648.4 718.0H1650.0M1647.3 711.0V716.5M1647.3 711.0H1648.9M1647.3 716.5H1648.4M1626.7 687.5V713.8M1626.7 687.5H1629.3M1626.7 713.8H1647.3M1626.1 630.0V700.6M1626.1 630.0H1650.0M1626.1 700.6H1626.7M1623.5 624.2V665.3M1623.5 624.2H1647.3M1623.5 665.3H1626.1M1623.0 644.8V720.0M1623.0 644.8H1623.5M1623.0 720.0H1650.0M1622.4 682.4V722.0M1622.4 682.4H1623.0M1622.4 722.0H1650.0M1621.4 617.0V702.2M1621.4 617.0H1648.9M1621.4 702.2H1622.4M1620.8 659.6V724.0M1620.8 659.6H1621.4M1620.8 724.0H1650.0M1620.3 691.8V726.0M1620.3 691.8H1620.8M1620.3 726.0H1650.0M1619.8 708.9V728.0M1619.8 708.9H1620.3M1619.8 728.0H1650.0M1619.2 718.4V730.0M1619.2 718.4H1619.8M1619.2 730.0H1650.0M1618.7 724.2V732.0M1618.7 724.2H1619.2M1618.7 732.0H1650.0M1618.2 728.1V734.0M1618.2 728.1H1618.7M1618.2 734.0H1650.0M1648.9 736.0V738.0M1648.9 736.0H1650.0M1648.9 738.0H1650.0M1617.1 731.1V737.0M1617.1 731.1H1618.2M1617.1 737.0H1648.9M1616.6 734.0V740.0M1616.6 734.0H1617.1M1616.6 740.0H1650.0M1616.1 737.0V742.0M1616.1 737.0H1616.6M1616.1 742.0H1650.0M1615.5 739.5V744.0M1615.5 739.5H1616.1M1615.5 744.0H1650.0M1612.9 612.1V741.8M1612.9 612.1H1647.3M1612.9 741.8H1615.5M1612.4 676.9V746.0M1612.4 676.9H1612.9M1612.4 746.0H1650.0M1648.9 748.0V750.0M1648.9 748.0H1650.0M1648.9 750.0H1650.0M1611.3 711.5V749.0M1611.3 711.5H1612.4M1611.3 749.0H1648.9M1610.8 730.2V752.0M1610.8 730.2H1611.3M1610.8 752.0H1650.0M1648.9 754.0V756.0M1648.9 754.0H1650.0M1648.9 756.0H1650.0M1648.4 755.0V758.0M1648.4 755.0H1648.9M1648.4 758.0H1650.0M1609.2 741.1V756.5M1609.2 741.1H1610.8M1609.2 756.5H1648.4M1648.9 760.0V762.0M1648.9 760.0H1650.0M1648.9 762.0H1650.0M1608.1 748.8V761.0M1608.1 748.8H1609.2M1608.1 761.0H1648.9M1607.6 754.9V764.0M1607.6 754.9H1608.1M1607.6 764.0H1650.0M1604.9 601.1V759.5M1604.9 601.1H1647.3M1604.9 759.5H1607.6M1604.4 680.3V766.0M1604.4 680.3H1604.9M1604.4 766.0H1650.0M1603.9 723.1V768.0M1603.9 723.1H1604.4M1603.9 768.0H1650.0M1603.3 745.6V770.0M1603.3 745.6H1603.9M1603.3 770.0H1650.0" stroke="#7a7a7a" stroke-width="1.5" fill="none"/>
<path d="M1595.9 409.9V450.1M1595.9 409.9H1614.8M1595.9 450.1H1605.1M1594.9 590.7V757.8M1594.9 590.7H1613.2M1594.9 757.8H1603.3M1587.4 553.8V674.2M1587.4 553.8H1610.9M1587.4 674.2H1594.9M1581.9 430.0V614.0M1581.9 430.0H1595.9M1581.9 614.0H1587.4M1572.0 383.1V522.0M1572.0 383.1H1606.4M1572.0 522.0H1581.9M1558.0 253.3V452.6M1558.0 253.3H1600.0M1558.0 452.6H1572.0" stroke="#b5b5b5" stroke-width="2.4" fill="none"/>
<path d="M861.0 906.0V908.0M861.0 906.0H862.0M861.0 908.0H862.0M861.0 910.0V912.0M861.0 910.0H862.0M861.0 912.0H862.0M859.9 907.0V911.0M859.9 907.0H861.0M859.9 911.0H861.0M850.1 909.0V914.0M850.1 909.0H859.9M850.1 914.0H862.0M858.9 916.0V918.0M858.9 916.0H862.0M858.9 918.0H862.0M845.4 911.5V917.0M845.4 911.5H850.1M845.4 917.0H858.9M843.0 914.2V920.0M843.0 914.2H845.4M843.0 920.0H862.0M840.6 917.1V922.0M840.6 917.1H843.0M840.6 922.0H862.0M838.2 919.6V924.0M838.2 919.6H840.6M838.2 924.0H862.0M835.9 921.8V926.0M835.9 921.8H838.2M835.9 926.0H862.0M833.5 904.0V923.9M833.5 904.0H862.0M833.5 923.9H835.9M831.1 913.9V928.0M831.1 913.9H833.5M831.1 928.0H862.0M828.7 921.0V930.0M828.7 921.0H831.1M828.7 930.0H862.0M860.8 932.0V934.0M860.8 932.0H862.0M860.8 934.0H862.0M860.2 933.0V936.0M860.2 933.0H860.8M860.2 936.0H862.0M821.6 925.5V934.5M821.6 925.5H828.7M821.6 934.5H860.2M819.2 930.0V938.0M819.2 930.0H821.6M819.2 938.0H862.0M816.8 934.0V940.0M816.8 934.0H819.2M816.8 940.0H862.0M814.5 937.0V942.0M814.5 937.0H816.8M814.5 942.0H862.0M812.1 902.0V939.5M812.1 902.0H862.0M812.1 939.5H814.5M809.7 920.7V944.0M809.7 920.7H812.1M809.7 944.0H862.0M858.0 946.0V948.0M858.0 946.0H862.0M858.0 948.0H862.0M805.0 932.4V947.0M805.0 932.4H809.7M805.0 947.0H858.0M861.0 950.0V952.0M861.0 950.0H862.0M861.0 952.0H862.0M860.5 951.0V954.0M860.5 951.0H861.0M860.5 954.0H862.0M860.0 952.5V956.0M860.0 952.5H860.5M860.0 956.0H862.0M854.9 954.2V958.0M854.9 954.2H860.0M854.9 958.0H862.0M853.5 956.1V960.0M853.5 956.1H854.9M853.5 960.0H862.0M852.1 958.1V962.0M852.1 958.1H853.5M852.1 962.0H862.0M850.7 960.0V964.0M850.7 960.0H852.1M850.7 964.0H862.0M849.3 962.0V966.0M849.3 962.0H850.7M849.3 966.0H862.0M860.7 970.0V972.0M860.7 970.0H862.0M860.7 972.0H862.0M860.0 968.0V971.0M860.0 968.0H862.0M860.0 971.0H860.7M845.1 964.0V969.5M845.1 964.0H849.3M845.1 969.5H860.0M843.7 966.8V974.0M843.7 966.8H845.1M843.7 974.0H862.0M842.2 970.4V976.0M842.2 970.4H843.7M842.2 976.0H862.0M840.8 973.2V978.0M840.8 973.2H842.2M840.8 978.0H862.0M839.4 975.6V980.0M839.4 975.6H840.8M839.4 980.0H862.0M860.8 982.0V984.0M860.8 982.0H862.0M860.8 984.0H862.0M860.1 983.0V986.0M860.1 983.0H860.8M860.1 986.0H862.0M858.6 984.5V988.0M858.6 984.5H860.1M858.6 988.0H862.0M854.9 986.2V990.0M854.9 986.2H858.6M854.9 990.0H862.0M832.4 977.8V988.1M832.4 977.8H839.4M832.4 988.1H854.9M831.0 983.0V992.0M831.0 983.0H832.4M831.0 992.0H862.0M860.9 994.0V996.0M860.9 994.0H862.0M860.9 996.0H862.0M828.1 987.5V995.0M828.1 987.5H831.0M828.1 995.0H860.9M826.7 991.2V998.0M826.7 991.2H828.1M826.7 998.0H862.0M860.5 1004.0V1006.0M860.5 1004.0H862.0M860.5 1006.0H862.0M860.5 1010.0V1012.0M860.5 1010.0H862.0M860.5 1012.0H862.0M859.8 1008.0V1011.0M859.8 1008.0H862.0M859.8 1011.0H860.5M858.3 1005.0V1009.5M858.3 1005.0H860.5M858.3 1009.5H859.8M860.5 1014.0V1016.0M860.5 1014.0H862.0M860.5 1016.0H862.0M860.5 1026.0V1028.0M860.5 1026.0H862.0M860.5 1028.0H862.0M859.8 1027.0V1030.0M859.8 1027.0H860.5M859.8 1030.0H862.0M859.0 1024.0V1028.5M859.0 1024.0H862.0M859.0 1028.5H859.8M858.3 1026.2V1032.0M858.3 1026.2H859.0M858.3 1032.0H862.0M857.5 1022.0V1029.1M857.5 1022.0H862.0M857.5 1029.1H858.3M856.8 1025.6V1034.0M856.8 1025.6H857.5M856.8 1034.0H862.0M856.1 1029.8V1036.0M856.1 1029.8H856.8M856.1 1036.0H862.0M855.3 1032.9V1038.0M855.3 1032.9H856.1M855.3 1038.0H862.0M854.6 1035.4V1040.0M854.6 1035.4H855.3M854.6 1040.0H862.0M853.8 1037.7V1042.0M853.8 1037.7H854.6M853.8 1042.0H862.0M860.5 1046.0V1048.0M860.5 1046.0H862.0M860.5 1048.0H862.0M859.8 1044.0V1047.0M859.8 1044.0H862.0M859.8 1047.0H860.5M851.6 1039.9V1045.5M851.6 1039.9H853.8M851.6 1045.5H859.8M850.8 1042.7V1050.0M850.8 1042.7H851.6M850.8 1050.0H862.0M850.1 1046.3V1052.0M850.1 1046.3H850.8M850.1 1052.0H862.0M849.4 1049.2V1054.0M849.4 1049.2H850.1M849.4 1054.0H862.0M848.6 1020.0V1051.6M848.6 1020.0H862.0M848.6 1051.6H849.4M847.9 1035.8V1056.0M847.9 1035.8H848.6M847.9 1056.0H862.0M847.1 1018.0V1045.9M847.1 1018.0H862.0M847.1 1045.9H847.9M845.6 1015.0V1031.9M845.6 1015.0H860.5M845.6 1031.9H847.1M844.9 1023.5V1058.0M844.9 1023.5H845.6M844.9 1058.0H862.0M844.2 1040.7V1060.0M844.2 1040.7H844.9M844.2 1060.0H862.0M840.4 1007.2V1050.4M840.4 1007.2H858.3M840.4 1050.4H844.2M839.7 1028.8V1062.0M839.7 1028.8H840.4M839.7 1062.0H862.0M839.0 1045.4V1064.0M839.0 1045.4H839.7M839.0 1064.0H862.0M860.5 1066.0V1068.0M860.5 1066.0H862.0M860.5 1068.0H862.0M837.5 1054.7V1067.0M837.5 1054.7H839.0M837.5 1067.0H860.5M836.7 1060.9V1070.0M836.7 1060.9H837.5M836.7 1070.0H862.0M836.0 1065.4V1072.0M836.0 1065.4H836.7M836.0 1072.0H862.0M860.5 1074.0V1076.0M860.5 1074.0H862.0M860.5 1076.0H862.0M834.5 1068.7V1075.0M834.5 1068.7H836.0M834.5 1075.0H860.5M833.8 1002.0V1071.9M833.8 1002.0H862.0M833.8 1071.9H834.5M860.5 1078.0V1080.0M860.5 1078.0H862.0M860.5 1080.0H862.0M832.3 1036.9V1079.0M832.3 1036.9H833.8M832.3 1079.0H860.5M860.9 1085.0V1088.0M860.9 1085.0H861.3M860.9 1088.0H862.0M860.6 1086.5V1090.0M860.6 1086.5H860.9M860.6 1090.0H862.0M858.3 1082.0V1088.2M858.3 1082.0H862.0M858.3 1088.2H860.6M828.5 1058.0V1085.1M828.5 1058.0H832.3M828.5 1085.1H858.3M860.5 1092.0V1094.0M860.5 1092.0H862.0M860.5 1094.0H862.0M827.1 1071.5V1093.0M827.1 1071.5H828.5M827.1 1093.0H860.5M826.3 1000.0V1082.3M826.3 1000.0H862.0M826.3 1082.3H827.1M825.6 1041.1V1096.0M825.6 1041.1H826.3M825.6 1096.0H862.0M824.8 1068.6V1098.0M824.8 1068.6H825.6M824.8 1098.0H862.0M824.1 1083.3V1100.0M824.1 1083.3H824.8M824.1 1100.0H862.0M823.3 1091.6V1102.0M823.3 1091.6H824.1M823.3 1102.0H862.0M860.7 1106.0V1108.0M860.7 1106.0H862.0M860.7 1108.0H862.0M860.0 1107.0V1110.0M860.0 1107.0H860.7M860.0 1110.0H862.0M859.3 1108.5V1112.0M859.3 1108.5H860.0M859.3 1112.0H862.0M854.6 1110.2V1114.0M854.6 1110.2H859.3M854.6 1114.0H862.0M853.1 1112.1V1116.0M853.1 1112.1H854.6M853.1 1116.0H862.0M851.6 1114.1V1118.0M851.6 1114.1H853.1M851.6 1118.0H862.0M850.2 1116.0V1120.0M850.2 1116.0H851.6M850.2 1120.0H862.0M848.7 1118.0V1122.0M848.7 1118.0H850.2M848.7 1122.0H862.0M860.0 1124.0V1126.0M860.0 1124.0H862.0M860.0 1126.0H862.0M845.7 1120.0V1125.0M845.7 1120.0H848.7M845.7 1125.0H860.0M844.2 1122.5V1128.0M844.2 1122.5H845.7M844.2 1128.0H862.0M842.8 1125.3V1130.0M842.8 1125.3H844.2M842.8 1130.0H862.0M841.3 1127.6V1132.0M841.3 1127.6H842.8M841.3 1132.0H862.0M839.8 1129.8V1134.0M839.8 1129.8H841.3M839.8 1134.0H862.0M838.3 1131.9V1136.0M838.3 1131.9H839.8M838.3 1136.0H862.0M836.8 1134.0V1138.0M836.8 1134.0H838.3M836.8 1138.0H862.0M835.4 1136.0V1140.0M835.4 1136.0H836.8M835.4 1140.0H862.0M833.9 1104.0V1138.0M833.9 1104.0H862.0M833.9 1138.0H835.4M861.2 1158.0V1160.5M861.2 1158.0H862.0M861.2 1160.5H862.0M861.2 1163.0V1165.0M861.2 1163.0H862.0M861.2 1165.0H862.0M860.4 1159.2V1164.0M860.4 1159.2H861.2M860.4 1164.0H861.2M860.1 1156.0V1161.6M860.1 1156.0H862.0M860.1 1161.6H860.4M859.7 1154.0V1158.8M859.7 1154.0H862.0M859.7 1158.8H860.1M859.4 1156.4V1167.0M859.4 1156.4H859.7M859.4 1167.0H862.0M860.9 1170.0V1173.0M860.9 1170.0H861.2M860.9 1173.0H862.0M858.2 1161.7V1171.5M858.2 1161.7H859.4M858.2 1171.5H860.9M857.9 1166.6V1175.0M857.9 1166.6H858.2M857.9 1175.0H862.0M857.2 1170.8V1178.0M857.2 1170.8H857.9M857.2 1178.0H861.3M856.8 1174.4V1181.0M856.8 1174.4H857.2M856.8 1181.0H862.0M856.1 1177.7V1184.0M856.1 1177.7H856.8M856.1 1184.0H861.3M855.7 1180.9V1187.0M855.7 1180.9H856.1M855.7 1187.0H862.0M855.4 1183.9V1189.0M855.4 1183.9H855.7M855.4 1189.0H862.0M855.0 1152.0V1186.5M855.0 1152.0H862.0M855.0 1186.5H855.4M854.6 1169.2V1191.0M854.6 1169.2H855.0M854.6 1191.0H862.0M854.3 1180.1V1193.0M854.3 1180.1H854.6M854.3 1193.0H862.0M860.5 1196.0V1200.0M860.5 1196.0H861.3M860.5 1200.0H861.3M860.2 1198.0V1203.0M860.2 1198.0H860.5M860.2 1203.0H862.0M852.5 1186.6V1200.5M852.5 1186.6H854.3M852.5 1200.5H860.2M852.1 1193.5V1205.0M852.1 1193.5H852.5M852.1 1205.0H862.0M851.7 1199.3V1207.0M851.7 1199.3H852.1M851.7 1207.0H862.0M860.9 1210.0V1213.0M860.9 1210.0H861.3M860.9 1213.0H862.0M850.7 1203.1V1211.5M850.7 1203.1H851.7M850.7 1211.5H860.9M850.3 1207.3V1215.0M850.3 1207.3H850.7M850.3 1215.0H862.0M850.0 1211.2V1217.0M850.0 1211.2H850.3M850.0 1217.0H862.0M860.9 1219.0V1222.0M860.9 1219.0H862.0M860.9 1222.0H861.3M848.9 1214.1V1220.5M848.9 1214.1H850.0M848.9 1220.5H860.9M860.9 1226.0V1229.0M860.9 1226.0H861.3M860.9 1229.0H862.0M847.8 1217.3V1227.5M847.8 1217.3H848.9M847.8 1227.5H860.9M847.4 1222.4V1231.0M847.4 1222.4H847.8M847.4 1231.0H862.0M861.0 1233.0V1236.0M861.0 1233.0H862.0M861.0 1236.0H861.3M846.4 1226.7V1234.5M846.4 1226.7H847.4M846.4 1234.5H861.0M846.0 1230.6V1239.0M846.0 1230.6H846.4M846.0 1239.0H862.0M845.7 1234.8V1241.0M845.7 1234.8H846.0M845.7 1241.0H862.0M845.3 1237.9V1243.0M845.3 1237.9H845.7M845.3 1243.0H862.0M844.9 1240.4V1245.0M844.9 1240.4H845.3M844.9 1245.0H862.0M844.6 1242.7V1247.0M844.6 1242.7H844.9M844.6 1247.0H862.0M844.2 1244.9V1249.0M844.2 1244.9H844.6M844.2 1249.0H862.0M843.5 1246.9V1252.0M843.5 1246.9H844.2M843.5 1252.0H861.3M843.1 1249.5V1255.0M843.1 1249.5H843.5M843.1 1255.0H862.0M842.8 1252.2V1257.0M842.8 1252.2H843.1M842.8 1257.0H862.0M842.1 1254.6V1260.0M842.1 1254.6H842.8M842.1 1260.0H861.3M841.7 1257.3V1263.0M841.7 1257.3H842.1M841.7 1263.0H862.0M841.4 1260.2V1265.0M841.4 1260.2H841.7M841.4 1265.0H862.0M840.6 1262.6V1268.0M840.6 1262.6H841.4M840.6 1268.0H861.3M860.9 1276.0V1279.0M860.9 1276.0H861.3M860.9 1279.0H862.0M860.2 1272.0V1277.5M860.2 1272.0H861.3M860.2 1277.5H860.9M838.8 1265.3V1274.8M838.8 1265.3H840.6M838.8 1274.8H860.2M838.5 1270.0V1281.0M838.5 1270.0H838.8M838.5 1281.0H862.0M838.1 1275.5V1283.0M838.1 1275.5H838.5M838.1 1283.0H862.0M860.9 1286.0V1289.0M860.9 1286.0H861.3M860.9 1289.0H862.0M837.0 1279.3V1287.5M837.0 1279.3H838.1M837.0 1287.5H860.9M836.3 1283.4V1292.0M836.3 1283.4H837.0M836.3 1292.0H861.3M835.6 1149.0V1287.7M835.6 1149.0H861.3M835.6 1287.7H836.3M835.3 1218.3V1295.0M835.3 1218.3H835.6M835.3 1295.0H862.0M834.9 1256.7V1297.0M834.9 1256.7H835.3M834.9 1297.0H862.0M834.5 1276.8V1299.0M834.5 1276.8H834.9M834.5 1299.0H862.0M833.8 1145.0V1287.9M833.8 1145.0H861.3M833.8 1287.9H834.5M833.5 1216.5V1301.0M833.5 1216.5H833.8M833.5 1301.0H862.0M860.9 1303.0V1306.0M860.9 1303.0H862.0M860.9 1306.0H861.3M860.2 1304.5V1310.0M860.2 1304.5H860.9M860.2 1310.0H861.3M831.7 1258.7V1307.2M831.7 1258.7H833.5M831.7 1307.2H860.2M830.9 1283.0V1314.0M830.9 1283.0H831.7M830.9 1314.0H861.3M830.6 1298.5V1317.0M830.6 1298.5H830.9M830.6 1317.0H862.0M830.2 1307.7V1319.0M830.2 1307.7H830.6M830.2 1319.0H862.0M829.9 1142.0V1313.4M829.9 1142.0H862.0M829.9 1313.4H830.2M829.5 1227.7V1321.0M829.5 1227.7H829.9M829.5 1321.0H862.0M829.1 1274.3V1323.0M829.1 1274.3H829.5M829.1 1323.0H862.0M828.8 1298.7V1325.0M828.8 1298.7H829.1M828.8 1325.0H862.0M828.4 1311.8V1327.0M828.4 1311.8H828.8M828.4 1327.0H862.0M860.9 1330.0V1333.0M860.9 1330.0H861.3M860.9 1333.0H862.0M860.6 1331.5V1335.0M860.6 1331.5H860.9M860.6 1335.0H862.0M860.2 1333.2V1337.0M860.2 1333.2H860.6M860.2 1337.0H862.0M826.6 1319.4V1335.1M826.6 1319.4H828.4M826.6 1335.1H860.2M826.3 1327.3V1339.0M826.3 1327.3H826.6M826.3 1339.0H862.0M861.0 1342.0V1345.0M861.0 1342.0H861.3M861.0 1345.0H862.0M860.7 1343.5V1347.0M860.7 1343.5H861.0M860.7 1347.0H862.0M860.2 1345.2V1349.0M860.2 1345.2H860.7M860.2 1349.0H862.0M824.4 1333.1V1347.1M824.4 1333.1H826.3M824.4 1347.1H860.2M860.2 1361.0V1363.0M860.2 1361.0H862.0M860.2 1363.0H862.0M859.4 1359.0V1362.0M859.4 1359.0H862.0M859.4 1362.0H860.2M858.4 1365.0V1367.0M858.4 1365.0H862.0M858.4 1367.0H862.0M850.5 1360.5V1366.0M850.5 1360.5H859.4M850.5 1366.0H858.4M848.2 1357.0V1363.2M848.2 1357.0H862.0M848.2 1363.2H850.5M845.9 1355.0V1360.1M845.9 1355.0H862.0M845.9 1360.1H848.2M843.6 1353.0V1357.6M843.6 1353.0H862.0M843.6 1357.6H845.9M841.3 1355.3V1369.0M841.3 1355.3H843.6M841.3 1369.0H862.0M839.0 1362.1V1371.0M839.0 1362.1H841.3M839.0 1371.0H862.0M836.7 1366.6V1373.0M836.7 1366.6H839.0M836.7 1373.0H862.0M859.2 1375.0V1377.0M859.2 1375.0H862.0M859.2 1377.0H862.0M832.1 1369.8V1376.0M832.1 1369.8H836.7M832.1 1376.0H859.2M829.8 1351.0V1372.9M829.8 1351.0H862.0M829.8 1372.9H832.1M860.8 1380.0V1383.0M860.8 1380.0H861.2M860.8 1383.0H862.0M858.8 1381.5V1385.0M858.8 1381.5H860.8M858.8 1385.0H862.0M852.6 1383.2V1387.0M852.6 1383.2H858.8M852.6 1387.0H862.0M859.6 1389.0V1391.0M859.6 1389.0H862.0M859.6 1391.0H862.0M858.4 1390.0V1393.0M858.4 1390.0H859.6M858.4 1393.0H862.0M847.0 1385.1V1391.5M847.0 1385.1H852.6M847.0 1391.5H858.4M845.1 1388.3V1395.0M845.1 1388.3H847.0M845.1 1395.0H862.0M860.5 1397.0V1399.0M860.5 1397.0H862.0M860.5 1399.0H862.0M860.5 1401.0V1403.0M860.5 1401.0H862.0M860.5 1403.0H862.0M859.1 1398.0V1402.0M859.1 1398.0H860.5M859.1 1402.0H860.5M852.6 1400.0V1405.0M852.6 1400.0H859.1M852.6 1405.0H862.0M835.8 1391.7V1402.5M835.8 1391.7H845.1M835.8 1402.5H852.6M833.9 1397.1V1407.0M833.9 1397.1H835.8M833.9 1407.0H862.0M832.0 1402.0V1409.0M832.0 1402.0H833.9M832.0 1409.0H862.0M830.2 1405.5V1411.0M830.2 1405.5H832.0M830.2 1411.0H862.0M859.7 1413.0V1415.0M859.7 1413.0H862.0M859.7 1415.0H862.0M826.4 1408.3V1414.0M826.4 1408.3H830.2M826.4 1414.0H859.7M824.5 1411.1V1417.0M824.5 1411.1H826.4M824.5 1417.0H862.0M861.2 1419.0V1421.0M861.2 1419.0H862.0M861.2 1421.0H862.0M860.7 1420.0V1423.0M860.7 1420.0H861.2M860.7 1423.0H862.0M859.9 1421.5V1425.0M859.9 1421.5H860.7M859.9 1425.0H862.0M846.7 1423.2V1427.0M846.7 1423.2H859.9M846.7 1427.0H862.0M843.7 1425.1V1429.0M843.7 1425.1H846.7M843.7 1429.0H862.0M860.0 1431.0V1433.0M860.0 1431.0H862.0M860.0 1433.0H862.0M859.0 1432.0V1435.0M859.0 1432.0H860.0M859.0 1435.0H862.0M834.5 1427.1V1433.5M834.5 1427.1H843.7M834.5 1433.5H859.0M831.4 1430.3V1437.0M831.4 1430.3H834.5M831.4 1437.0H862.0M860.5 1445.0V1447.0M860.5 1445.0H862.0M860.5 1447.0H862.0M860.4 1449.5V1452.0M860.4 1449.5H862.0M860.4 1452.0H862.0M860.7 1454.0V1456.0M860.7 1454.0H862.0M860.7 1456.0H862.0M860.0 1455.0V1458.0M860.0 1455.0H860.7M860.0 1458.0H862.0M858.0 1450.8V1456.5M858.0 1450.8H860.4M858.0 1456.5H860.0M861.0 1461.0V1464.0M861.0 1461.0H861.3M861.0 1464.0H862.0M859.7 1462.5V1466.0M859.7 1462.5H861.0M859.7 1466.0H862.0M858.0 1464.2V1468.0M858.0 1464.2H859.7M858.0 1468.0H862.0M854.1 1453.6V1466.1M854.1 1453.6H858.0M854.1 1466.1H858.0M853.4 1459.9V1470.0M853.4 1459.9H854.1M853.4 1470.0H862.0M852.6 1464.9V1472.0M852.6 1464.9H853.4M852.6 1472.0H862.0M851.8 1468.5V1474.0M851.8 1468.5H852.6M851.8 1474.0H862.0M860.5 1476.0V1478.0M860.5 1476.0H862.0M860.5 1478.0H862.0M850.4 1471.2V1477.0M850.4 1471.2H851.8M850.4 1477.0H860.5M849.6 1474.1V1480.0M849.6 1474.1H850.4M849.6 1480.0H862.0M848.1 1446.0V1477.1M848.1 1446.0H860.5M848.1 1477.1H849.6M847.3 1461.5V1482.0M847.3 1461.5H848.1M847.3 1482.0H862.0M860.8 1486.0V1488.0M860.8 1486.0H862.0M860.8 1488.0H862.0M860.2 1484.0V1487.0M860.2 1484.0H862.0M860.2 1487.0H860.8M858.9 1485.5V1490.0M858.9 1485.5H860.2M858.9 1490.0H862.0M858.1 1487.8V1492.0M858.1 1487.8H858.9M858.1 1492.0H862.0M843.5 1471.8V1489.9M843.5 1471.8H847.3M843.5 1489.9H858.1M861.0 1497.0V1500.0M861.0 1497.0H861.3M861.0 1500.0H862.0M860.7 1498.5V1502.0M860.7 1498.5H861.0M860.7 1502.0H862.0M858.3 1494.0V1500.2M858.3 1494.0H862.0M858.3 1500.2H860.7M839.8 1480.8V1497.1M839.8 1480.8H843.5M839.8 1497.1H858.3M839.0 1443.0V1489.0M839.0 1443.0H862.0M839.0 1489.0H839.8M838.3 1466.0V1504.0M838.3 1466.0H839.0M838.3 1504.0H862.0M837.5 1441.0V1485.0M837.5 1441.0H862.0M837.5 1485.0H838.3M836.7 1463.0V1506.0M836.7 1463.0H837.5M836.7 1506.0H862.0M860.5 1512.0V1514.0M860.5 1512.0H862.0M860.5 1514.0H862.0M859.7 1510.0V1513.0M859.7 1510.0H862.0M859.7 1513.0H860.5M858.9 1511.5V1516.0M858.9 1511.5H859.7M858.9 1516.0H862.0M858.2 1508.0V1513.8M858.2 1508.0H862.0M858.2 1513.8H858.9M832.9 1484.5V1510.9M832.9 1484.5H836.7M832.9 1510.9H858.2M832.2 1497.7V1518.0M832.2 1497.7H832.9M832.2 1518.0H862.0M831.4 1507.8V1520.0M831.4 1507.8H832.2M831.4 1520.0H862.0M860.5 1522.0V1524.0M860.5 1522.0H862.0M860.5 1524.0H862.0M829.9 1513.9V1523.0M829.9 1513.9H831.4M829.9 1523.0H860.5M829.1 1518.5V1526.0M829.1 1518.5H829.9M829.1 1526.0H862.0M828.4 1439.0V1522.2M828.4 1439.0H862.0M828.4 1522.2H829.1M827.6 1480.6V1528.0M827.6 1480.6H828.4M827.6 1528.0H862.0M826.9 1504.3V1530.0M826.9 1504.3H827.6M826.9 1530.0H862.0M826.1 1517.2V1532.0M826.1 1517.2H826.9M826.1 1532.0H862.0M860.9 1536.0V1538.0M860.9 1536.0H862.0M860.9 1538.0H862.0M859.7 1534.0V1537.0M859.7 1534.0H862.0M859.7 1537.0H860.9M823.8 1524.6V1535.5M823.8 1524.6H826.1M823.8 1535.5H859.7" stroke="#7a7a7a" stroke-width="1.5" fill="none"/>
<path d="M816.8 1121.0V1340.1M816.8 1121.0H833.9M816.8 1340.1H824.4M810.9 1096.8V1230.6M810.9 1096.8H823.3M810.9 1230.6H816.8M801.6 994.6V1163.7M801.6 994.6H826.7M801.6 1163.7H810.9M790.0 939.7V1079.2M790.0 939.7H805.0M790.0 1079.2H801.6M816.0 1433.6V1530.0M816.0 1433.6H831.4M816.0 1530.0H823.8M811.7 1414.1V1481.8M811.7 1414.1H824.5M811.7 1481.8H816.0M806.0 1361.9V1448.0M806.0 1361.9H829.8M806.0 1448.0H811.7M770.0 1009.4V1404.9M770.0 1009.4H790.0M770.0 1404.9H806.0" stroke="#b5b5b5" stroke-width="2.4" fill="none"/>
<path d="M1648.4 909.0V911.0M1648.4 909.0H1650.0M1648.4 911.0H1650.0M1649.1 913.0V916.0M1649.1 913.0H1650.0M1649.1 916.0H1649.4M1648.9 914.5V919.0M1648.9 914.5H1649.1M1648.9 919.0H1650.0M1635.9 916.8V921.0M1635.9 916.8H1648.9M1635.9 921.0H1650.0M1630.2 910.0V918.9M1630.2 910.0H1648.4M1630.2 918.9H1635.9M1627.4 907.0V914.4M1627.4 907.0H1650.0M1627.4 914.4H1630.2M1648.2 923.0V925.0M1648.2 923.0H1650.0M1648.2 925.0H1650.0M1647.4 924.0V927.0M1647.4 924.0H1648.2M1647.4 927.0H1650.0M1646.4 929.0V931.0M1646.4 929.0H1650.0M1646.4 931.0H1650.0M1635.9 925.5V930.0M1635.9 925.5H1647.4M1635.9 930.0H1646.4M1613.3 910.7V927.8M1613.3 910.7H1627.4M1613.3 927.8H1635.9M1610.5 905.0V919.2M1610.5 905.0H1650.0M1610.5 919.2H1613.3M1607.7 912.1V933.0M1607.7 912.1H1610.5M1607.7 933.0H1650.0M1648.9 939.0V941.0M1648.9 939.0H1650.0M1648.9 941.0H1650.0M1648.3 940.0V943.0M1648.3 940.0H1648.9M1648.3 943.0H1650.0M1647.7 941.5V945.0M1647.7 941.5H1648.3M1647.7 945.0H1650.0M1640.6 943.2V947.0M1640.6 943.2H1647.7M1640.6 947.0H1650.0M1638.7 945.1V949.0M1638.7 945.1H1640.6M1638.7 949.0H1650.0M1636.8 947.1V951.0M1636.8 947.1H1638.7M1636.8 951.0H1650.0M1648.7 953.0V955.0M1648.7 953.0H1650.0M1648.7 955.0H1650.0M1647.7 954.0V957.0M1647.7 954.0H1648.7M1647.7 957.0H1650.0M1631.2 949.0V955.5M1631.2 949.0H1636.8M1631.2 955.5H1647.7M1629.3 952.3V959.0M1629.3 952.3H1631.2M1629.3 959.0H1650.0M1627.4 955.6V961.0M1627.4 955.6H1629.3M1627.4 961.0H1650.0M1625.6 937.0V958.3M1625.6 937.0H1650.0M1625.6 958.3H1627.4M1623.7 935.0V947.7M1623.7 935.0H1650.0M1623.7 947.7H1625.6M1621.8 941.3V963.0M1621.8 941.3H1623.7M1621.8 963.0H1650.0M1619.9 952.2V965.0M1619.9 952.2H1621.8M1619.9 965.0H1650.0M1618.0 958.6V967.0M1618.0 958.6H1619.9M1618.0 967.0H1650.0M1648.9 971.0V973.0M1648.9 971.0H1650.0M1648.9 973.0H1650.0M1648.3 972.0V975.0M1648.3 972.0H1648.9M1648.3 975.0H1650.0M1648.9 981.0V983.0M1648.9 981.0H1650.0M1648.9 983.0H1650.0M1648.9 985.0V987.0M1648.9 985.0H1650.0M1648.9 987.0H1650.0M1648.3 986.0V989.0M1648.3 986.0H1648.9M1648.3 989.0H1650.0M1647.7 987.5V991.0M1647.7 987.5H1648.3M1647.7 991.0H1650.0M1647.2 989.2V993.0M1647.2 989.2H1647.7M1647.2 993.0H1650.0M1649.2 1005.0V1007.0M1649.2 1005.0H1650.0M1649.2 1007.0H1650.0M1648.8 1006.0V1009.0M1648.8 1006.0H1649.2M1648.8 1009.0H1650.0M1648.3 1007.5V1011.0M1648.3 1007.5H1648.8M1648.3 1011.0H1650.0M1647.2 1009.2V1013.0M1647.2 1009.2H1648.3M1647.2 1013.0H1650.0M1646.6 1011.1V1015.0M1646.6 1011.1H1647.2M1646.6 1015.0H1650.0M1646.1 1013.1V1017.0M1646.1 1013.1H1646.6M1646.1 1017.0H1650.0M1645.5 1003.0V1015.0M1645.5 1003.0H1650.0M1645.5 1015.0H1646.1M1648.9 1019.0V1021.0M1648.9 1019.0H1650.0M1648.9 1021.0H1650.0M1648.3 1020.0V1023.0M1648.3 1020.0H1648.9M1648.3 1023.0H1650.0M1643.8 1009.0V1021.5M1643.8 1009.0H1645.5M1643.8 1021.5H1648.3M1648.9 1025.0V1027.0M1648.9 1025.0H1650.0M1648.9 1027.0H1650.0M1648.3 1026.0V1029.0M1648.3 1026.0H1648.9M1648.3 1029.0H1650.0M1647.7 1027.5V1031.0M1647.7 1027.5H1648.3M1647.7 1031.0H1650.0M1647.2 1029.2V1033.0M1647.2 1029.2H1647.7M1647.2 1033.0H1650.0M1641.0 1015.3V1031.1M1641.0 1015.3H1643.8M1641.0 1031.1H1647.2M1648.9 1036.0V1039.0M1648.9 1036.0H1649.3M1648.9 1039.0H1650.0M1648.3 1037.5V1041.0M1648.3 1037.5H1648.9M1648.3 1041.0H1650.0M1647.2 1039.2V1043.0M1647.2 1039.2H1648.3M1647.2 1043.0H1650.0M1638.2 1023.2V1041.1M1638.2 1023.2H1641.0M1638.2 1041.1H1647.2M1637.6 1032.2V1045.0M1637.6 1032.2H1638.2M1637.6 1045.0H1650.0M1637.1 1001.0V1038.6M1637.1 1001.0H1650.0M1637.1 1038.6H1637.6M1648.9 1047.0V1049.0M1648.9 1047.0H1650.0M1648.9 1049.0H1650.0M1648.3 1048.0V1051.0M1648.3 1048.0H1648.9M1648.3 1051.0H1650.0M1635.4 1019.8V1049.5M1635.4 1019.8H1637.1M1635.4 1049.5H1648.3M1634.8 999.0V1034.6M1634.8 999.0H1650.0M1634.8 1034.6H1635.4M1634.2 1016.8V1053.0M1634.2 1016.8H1634.8M1634.2 1053.0H1650.0M1649.0 1055.0V1057.0M1649.0 1055.0H1650.0M1649.0 1057.0H1650.0M1648.6 1056.0V1059.0M1648.6 1056.0H1649.0M1648.6 1059.0H1650.0M1648.9 1061.0V1063.0M1648.9 1061.0H1650.0M1648.9 1063.0H1650.0M1647.2 1057.5V1062.0M1647.2 1057.5H1648.6M1647.2 1062.0H1648.9M1631.4 1034.9V1059.8M1631.4 1034.9H1634.2M1631.4 1059.8H1647.2M1630.9 1047.3V1065.0M1630.9 1047.3H1631.4M1630.9 1065.0H1650.0M1630.3 1056.2V1067.0M1630.3 1056.2H1630.9M1630.3 1067.0H1650.0M1629.7 1061.6V1069.0M1629.7 1061.6H1630.3M1629.7 1069.0H1650.0M1648.9 1071.0V1073.0M1648.9 1071.0H1650.0M1648.9 1073.0H1650.0M1628.6 1065.3V1072.0M1628.6 1065.3H1629.7M1628.6 1072.0H1648.9M1628.0 1068.6V1075.0M1628.0 1068.6H1628.6M1628.0 1075.0H1650.0M1627.5 1071.8V1077.0M1627.5 1071.8H1628.0M1627.5 1077.0H1650.0M1626.9 1074.4V1079.0M1626.9 1074.4H1627.5M1626.9 1079.0H1650.0M1626.4 997.0V1076.7M1626.4 997.0H1650.0M1626.4 1076.7H1626.9M1625.8 1036.9V1081.0M1625.8 1036.9H1626.4M1625.8 1081.0H1650.0M1625.2 1058.9V1083.0M1625.2 1058.9H1625.8M1625.2 1083.0H1650.0M1624.7 1071.0V1085.0M1624.7 1071.0H1625.2M1624.7 1085.0H1650.0M1624.1 1078.0V1087.0M1624.1 1078.0H1624.7M1624.1 1087.0H1650.0M1623.5 1082.5V1089.0M1623.5 1082.5H1624.1M1623.5 1089.0H1650.0M1623.0 1085.7V1091.0M1623.0 1085.7H1623.5M1623.0 1091.0H1650.0M1622.4 995.0V1088.4M1622.4 995.0H1650.0M1622.4 1088.4H1623.0M1621.9 1041.7V1093.0M1621.9 1041.7H1622.4M1621.9 1093.0H1650.0M1648.9 1095.0V1097.0M1648.9 1095.0H1650.0M1648.9 1097.0H1650.0M1620.7 1067.3V1096.0M1620.7 1067.3H1621.9M1620.7 1096.0H1648.9M1620.2 1081.7V1099.0M1620.2 1081.7H1620.7M1620.2 1099.0H1650.0M1619.6 1090.3V1101.0M1619.6 1090.3H1620.2M1619.6 1101.0H1650.0M1619.0 1095.7V1103.0M1619.0 1095.7H1619.6M1619.0 1103.0H1650.0M1648.9 1105.0V1108.0M1648.9 1105.0H1650.0M1648.9 1108.0H1649.3M1617.4 1099.3V1106.5M1617.4 1099.3H1619.0M1617.4 1106.5H1648.9M1648.9 1111.0V1113.0M1648.9 1111.0H1650.0M1648.9 1113.0H1650.0M1616.2 1102.9V1112.0M1616.2 1102.9H1617.4M1616.2 1112.0H1648.9M1615.7 1107.5V1115.0M1615.7 1107.5H1616.2M1615.7 1115.0H1650.0M1612.8 991.1V1111.2M1612.8 991.1H1647.2M1612.8 1111.2H1615.7M1612.3 1051.2V1117.0M1612.3 1051.2H1612.8M1612.3 1117.0H1650.0M1611.2 982.0V1084.1M1611.2 982.0H1648.9M1611.2 1084.1H1612.3M1610.6 1033.0V1119.0M1610.6 1033.0H1611.2M1610.6 1119.0H1650.0M1610.0 979.0V1076.0M1610.0 979.0H1650.0M1610.0 1076.0H1610.6M1609.5 977.0V1027.5M1609.5 977.0H1650.0M1609.5 1027.5H1610.0M1607.8 973.5V1002.3M1607.8 973.5H1648.3M1607.8 1002.3H1609.5M1607.2 987.9V1121.0M1607.2 987.9H1607.8M1607.2 1121.0H1650.0M1606.7 1054.4V1123.0M1606.7 1054.4H1607.2M1606.7 1123.0H1650.0M1606.1 969.0V1088.7M1606.1 969.0H1650.0M1606.1 1088.7H1606.7M1605.5 1028.9V1125.0M1605.5 1028.9H1606.1M1605.5 1125.0H1650.0M1648.9 1127.0V1129.0M1648.9 1127.0H1650.0M1648.9 1129.0H1650.0M1604.4 1076.9V1128.0M1604.4 1076.9H1605.5M1604.4 1128.0H1648.9M1603.8 1102.5V1131.0M1603.8 1102.5H1604.4M1603.8 1131.0H1650.0M1603.3 1116.7V1133.0M1603.3 1116.7H1603.8M1603.3 1133.0H1650.0M1602.7 1124.9V1135.0M1602.7 1124.9H1603.3M1602.7 1135.0H1650.0M1649.1 1137.0V1139.0M1649.1 1137.0H1650.0M1649.1 1139.0H1650.0M1648.7 1138.0V1141.0M1648.7 1138.0H1649.1M1648.7 1141.0H1650.0M1601.0 1129.9V1139.5M1601.0 1129.9H1602.7M1601.0 1139.5H1648.7M1648.3 1145.0V1147.0M1648.3 1145.0H1650.0M1648.3 1147.0H1650.0M1647.5 1146.0V1149.0M1647.5 1146.0H1648.3M1647.5 1149.0H1650.0M1648.8 1154.0V1157.0M1648.8 1154.0H1649.2M1648.8 1157.0H1650.0M1648.4 1151.0V1155.5M1648.4 1151.0H1650.0M1648.4 1155.5H1648.8M1629.9 1153.2V1159.0M1629.9 1153.2H1648.4M1629.9 1159.0H1650.0M1617.9 1147.5V1156.1M1617.9 1147.5H1647.5M1617.9 1156.1H1629.9M1613.8 1151.8V1161.0M1613.8 1151.8H1617.9M1613.8 1161.0H1650.0M1609.8 1143.0V1156.4M1609.8 1143.0H1650.0M1609.8 1156.4H1613.8M1648.8 1165.0V1167.0M1648.8 1165.0H1650.0M1648.8 1167.0H1650.0M1648.3 1163.0V1166.0M1648.3 1163.0H1650.0M1648.3 1166.0H1648.8M1646.3 1164.5V1169.0M1646.3 1164.5H1648.3M1646.3 1169.0H1650.0M1645.2 1166.8V1171.0M1645.2 1166.8H1646.3M1645.2 1171.0H1650.0M1648.1 1173.0V1175.0M1648.1 1173.0H1650.0M1648.1 1175.0H1650.0M1649.2 1187.0V1189.0M1649.2 1187.0H1650.0M1649.2 1189.0H1650.0M1648.7 1188.0V1191.0M1648.7 1188.0H1649.2M1648.7 1191.0H1650.0M1648.1 1193.0V1195.0M1648.1 1193.0H1650.0M1648.1 1195.0H1650.0M1645.2 1189.5V1194.0M1645.2 1189.5H1648.7M1645.2 1194.0H1648.1M1644.3 1191.8V1197.0M1644.3 1191.8H1645.2M1644.3 1197.0H1650.0M1643.3 1194.4V1199.0M1643.3 1194.4H1644.3M1643.3 1199.0H1650.0M1642.4 1185.0V1196.7M1642.4 1185.0H1650.0M1642.4 1196.7H1643.3M1641.4 1190.8V1201.0M1641.4 1190.8H1642.4M1641.4 1201.0H1650.0M1640.5 1195.9V1203.0M1640.5 1195.9H1641.4M1640.5 1203.0H1650.0M1639.5 1199.5V1205.0M1639.5 1199.5H1640.5M1639.5 1205.0H1650.0M1638.5 1202.2V1207.0M1638.5 1202.2H1639.5M1638.5 1207.0H1650.0M1637.6 1204.6V1209.0M1637.6 1204.6H1638.5M1637.6 1209.0H1650.0M1636.6 1206.8V1211.0M1636.6 1206.8H1637.6M1636.6 1211.0H1650.0M1635.7 1183.0V1208.9M1635.7 1183.0H1650.0M1635.7 1208.9H1636.6M1634.7 1196.0V1213.0M1634.7 1196.0H1635.7M1634.7 1213.0H1650.0M1633.8 1204.5V1215.0M1633.8 1204.5H1634.7M1633.8 1215.0H1650.0M1632.8 1209.7V1217.0M1632.8 1209.7H1633.8M1632.8 1217.0H1650.0M1631.9 1181.0V1213.4M1631.9 1181.0H1650.0M1631.9 1213.4H1632.8M1630.9 1197.2V1219.0M1630.9 1197.2H1631.9M1630.9 1219.0H1650.0M1630.0 1179.0V1208.1M1630.0 1179.0H1650.0M1630.0 1208.1H1630.9M1629.0 1193.5V1221.0M1629.0 1193.5H1630.0M1629.0 1221.0H1650.0M1628.0 1177.0V1207.3M1628.0 1177.0H1650.0M1628.0 1207.3H1629.0M1626.1 1174.0V1192.1M1626.1 1174.0H1648.1M1626.1 1192.1H1628.0M1625.2 1183.1V1223.0M1625.2 1183.1H1626.1M1625.2 1223.0H1650.0M1624.2 1203.0V1225.0M1624.2 1203.0H1625.2M1624.2 1225.0H1650.0M1623.3 1214.0V1227.0M1623.3 1214.0H1624.2M1623.3 1227.0H1650.0M1648.5 1229.0V1231.0M1648.5 1229.0H1650.0M1648.5 1231.0H1650.0M1647.5 1230.0V1233.0M1647.5 1230.0H1648.5M1647.5 1233.0H1650.0M1620.4 1220.5V1231.5M1620.4 1220.5H1623.3M1620.4 1231.5H1647.5M1649.1 1237.0V1239.0M1649.1 1237.0H1650.0M1649.1 1239.0H1650.0M1648.6 1238.0V1241.0M1648.6 1238.0H1649.1M1648.6 1241.0H1650.0M1648.1 1239.5V1243.0M1648.1 1239.5H1648.6M1648.1 1243.0H1650.0M1645.2 1235.0V1241.2M1645.2 1235.0H1650.0M1645.2 1241.2H1648.1M1615.6 1226.0V1238.1M1615.6 1226.0H1620.4M1615.6 1238.1H1645.2M1614.7 1232.1V1245.0M1614.7 1232.1H1615.6M1614.7 1245.0H1650.0M1613.7 1238.5V1247.0M1613.7 1238.5H1614.7M1613.7 1247.0H1650.0M1648.1 1249.0V1251.0M1648.1 1249.0H1650.0M1648.1 1251.0H1650.0M1611.8 1242.8V1250.0M1611.8 1242.8H1613.7M1611.8 1250.0H1648.1M1610.9 1246.4V1253.0M1610.9 1246.4H1611.8M1610.9 1253.0H1650.0M1609.9 1249.7V1255.0M1609.9 1249.7H1610.9M1609.9 1255.0H1650.0M1605.1 1168.9V1252.3M1605.1 1168.9H1645.2M1605.1 1252.3H1609.9M1604.2 1210.6V1257.0M1604.2 1210.6H1605.1M1604.2 1257.0H1650.0M1603.2 1233.8V1259.0M1603.2 1233.8H1604.2M1603.2 1259.0H1650.0M1602.3 1246.4V1261.0M1602.3 1246.4H1603.2M1602.3 1261.0H1650.0M1601.3 1253.7V1263.0M1601.3 1253.7H1602.3M1601.3 1263.0H1650.0M1648.3 1265.0V1267.0M1648.3 1265.0H1650.0M1648.3 1267.0H1650.0M1647.8 1269.0V1271.0M1647.8 1269.0H1650.0M1647.8 1271.0H1650.0M1648.9 1277.0V1279.0M1648.9 1277.0H1650.0M1648.9 1279.0H1650.0M1648.4 1275.0V1278.0M1648.4 1275.0H1650.0M1648.4 1278.0H1648.9M1647.2 1273.0V1276.5M1647.2 1273.0H1650.0M1647.2 1276.5H1648.4M1644.0 1274.8V1281.0M1644.0 1274.8H1647.2M1644.0 1281.0H1650.0M1647.8 1283.0V1285.0M1647.8 1283.0H1650.0M1647.8 1285.0H1650.0M1641.6 1277.9V1284.0M1641.6 1277.9H1644.0M1641.6 1284.0H1647.8M1640.4 1280.9V1287.0M1640.4 1280.9H1641.6M1640.4 1287.0H1650.0M1639.2 1284.0V1289.0M1639.2 1284.0H1640.4M1639.2 1289.0H1650.0M1649.0 1293.0V1297.0M1649.0 1293.0H1649.2M1649.0 1297.0H1650.0M1644.0 1295.0V1299.0M1644.0 1295.0H1649.0M1644.0 1299.0H1650.0M1633.1 1286.5V1297.0M1633.1 1286.5H1639.2M1633.1 1297.0H1644.0M1648.1 1301.0V1303.0M1648.1 1301.0H1650.0M1648.1 1303.0H1650.0M1647.1 1302.0V1305.0M1647.1 1302.0H1648.1M1647.1 1305.0H1650.0M1629.5 1291.7V1303.5M1629.5 1291.7H1633.1M1629.5 1303.5H1647.1M1647.7 1307.0V1309.0M1647.7 1307.0H1650.0M1647.7 1309.0H1650.0M1627.1 1297.6V1308.0M1627.1 1297.6H1629.5M1627.1 1308.0H1647.7M1624.7 1270.0V1302.8M1624.7 1270.0H1647.8M1624.7 1302.8H1627.1M1623.5 1286.4V1311.0M1623.5 1286.4H1624.7M1623.5 1311.0H1650.0M1622.3 1298.7V1313.0M1622.3 1298.7H1623.5M1622.3 1313.0H1650.0M1621.1 1305.9V1315.0M1621.1 1305.9H1622.3M1621.1 1315.0H1650.0M1619.9 1310.4V1317.0M1619.9 1310.4H1621.1M1619.9 1317.0H1650.0M1618.7 1313.7V1319.0M1618.7 1313.7H1619.9M1618.7 1319.0H1650.0M1616.3 1266.0V1316.4M1616.3 1266.0H1648.3M1616.3 1316.4H1618.7M1649.0 1323.0V1325.0M1649.0 1323.0H1650.0M1649.0 1325.0H1650.0M1648.5 1321.0V1324.0M1648.5 1321.0H1650.0M1648.5 1324.0H1649.0M1646.8 1322.5V1327.0M1646.8 1322.5H1648.5M1646.8 1327.0H1650.0M1644.0 1324.8V1329.0M1644.0 1324.8H1646.8M1644.0 1329.0H1650.0M1610.3 1291.2V1326.9M1610.3 1291.2H1616.3M1610.3 1326.9H1644.0M1609.1 1309.0V1331.0M1609.1 1309.0H1610.3M1609.1 1331.0H1650.0M1607.9 1320.0V1333.0M1607.9 1320.0H1609.1M1607.9 1333.0H1650.0M1647.9 1337.0V1339.0M1647.9 1337.0H1650.0M1647.9 1339.0H1650.0M1646.8 1335.0V1338.0M1646.8 1335.0H1650.0M1646.8 1338.0H1647.9M1647.6 1341.0V1343.0M1647.6 1341.0H1650.0M1647.6 1343.0H1650.0M1644.0 1336.5V1342.0M1644.0 1336.5H1646.8M1644.0 1342.0H1647.6M1601.9 1326.5V1339.2M1601.9 1326.5H1607.9M1601.9 1339.2H1644.0M1649.1 1345.0V1347.0M1649.1 1345.0H1650.0M1649.1 1347.0H1650.0M1648.7 1346.0V1349.0M1648.7 1346.0H1649.1M1648.7 1349.0H1650.0M1648.8 1353.0V1355.0M1648.8 1353.0H1650.0M1648.8 1355.0H1650.0M1648.2 1354.0V1357.0M1648.2 1354.0H1648.8M1648.2 1357.0H1650.0M1647.0 1355.5V1359.0M1647.0 1355.5H1648.2M1647.0 1359.0H1650.0M1646.1 1361.0V1363.0M1646.1 1361.0H1650.0M1646.1 1363.0H1650.0M1637.2 1357.2V1362.0M1637.2 1357.2H1647.0M1637.2 1362.0H1646.1M1635.1 1351.0V1359.6M1635.1 1351.0H1650.0M1635.1 1359.6H1637.2M1632.9 1355.3V1365.0M1632.9 1355.3H1635.1M1632.9 1365.0H1650.0M1630.8 1360.2V1367.0M1630.8 1360.2H1632.9M1630.8 1367.0H1650.0M1628.6 1363.6V1369.0M1628.6 1363.6H1630.8M1628.6 1369.0H1650.0M1626.5 1366.3V1371.0M1626.5 1366.3H1628.6M1626.5 1371.0H1650.0M1620.1 1347.5V1368.6M1620.1 1347.5H1648.7M1620.1 1368.6H1626.5M1618.0 1358.1V1373.0M1618.0 1358.1H1620.1M1618.0 1373.0H1650.0M1615.8 1365.5V1375.0M1615.8 1365.5H1618.0M1615.8 1375.0H1650.0M1613.7 1370.3V1377.0M1613.7 1370.3H1615.8M1613.7 1377.0H1650.0M1611.6 1373.6V1379.0M1611.6 1373.6H1613.7M1611.6 1379.0H1650.0M1648.5 1383.0V1385.0M1648.5 1383.0H1650.0M1648.5 1385.0H1650.0M1647.8 1381.0V1384.0M1647.8 1381.0H1650.0M1647.8 1384.0H1648.5M1649.1 1387.0V1389.0M1649.1 1387.0H1650.0M1649.1 1389.0H1650.0M1648.6 1388.0V1391.0M1648.6 1388.0H1649.1M1648.6 1391.0H1650.0M1630.4 1382.5V1389.5M1630.4 1382.5H1647.8M1630.4 1389.5H1648.6M1627.1 1386.0V1393.0M1627.1 1386.0H1630.4M1627.1 1393.0H1650.0M1649.0 1395.0V1397.0M1649.0 1395.0H1650.0M1649.0 1397.0H1650.0M1648.5 1396.0V1399.0M1648.5 1396.0H1649.0M1648.5 1399.0H1650.0M1648.0 1397.5V1401.0M1648.0 1397.5H1648.5M1648.0 1401.0H1650.0M1633.6 1399.2V1403.0M1633.6 1399.2H1648.0M1633.6 1403.0H1650.0M1610.7 1389.5V1401.1M1610.7 1389.5H1627.1M1610.7 1401.1H1633.6M1607.5 1395.3V1405.0M1607.5 1395.3H1610.7M1607.5 1405.0H1650.0M1604.2 1400.2V1407.0M1604.2 1400.2H1607.5M1604.2 1407.0H1650.0M1600.9 1403.6V1409.0M1600.9 1403.6H1604.2M1600.9 1409.0H1650.0M1647.3 1413.0V1415.0M1647.3 1413.0H1650.0M1647.3 1415.0H1650.0M1649.1 1417.0V1419.0M1649.1 1417.0H1650.0M1649.1 1419.0H1650.0M1649.1 1421.0V1423.0M1649.1 1421.0H1650.0M1649.1 1423.0H1650.0M1648.2 1418.0V1422.0M1648.2 1418.0H1649.1M1648.2 1422.0H1649.1M1626.4 1414.0V1420.0M1626.4 1414.0H1647.3M1626.4 1420.0H1648.2M1622.5 1417.0V1425.0M1622.5 1417.0H1626.4M1622.5 1425.0H1650.0M1618.6 1421.0V1427.0M1618.6 1421.0H1622.5M1618.6 1427.0H1650.0M1614.6 1411.0V1424.0M1614.6 1411.0H1650.0M1614.6 1424.0H1618.6M1610.7 1417.5V1429.0M1610.7 1417.5H1614.6M1610.7 1429.0H1650.0M1648.2 1431.0V1433.0M1648.2 1431.0H1650.0M1648.2 1433.0H1650.0M1648.2 1437.0V1439.0M1648.2 1437.0H1650.0M1648.2 1439.0H1650.0M1648.6 1445.0V1447.0M1648.6 1445.0H1650.0M1648.6 1447.0H1650.0M1647.8 1446.0V1449.0M1647.8 1446.0H1648.6M1647.8 1449.0H1650.0M1648.2 1451.0V1453.0M1648.2 1451.0H1650.0M1648.2 1453.0H1650.0M1645.5 1447.5V1452.0M1645.5 1447.5H1647.8M1645.5 1452.0H1648.2M1644.6 1449.8V1455.0M1644.6 1449.8H1645.5M1644.6 1455.0H1650.0M1643.7 1452.4V1457.0M1643.7 1452.4H1644.6M1643.7 1457.0H1650.0M1642.8 1454.7V1459.0M1642.8 1454.7H1643.7M1642.8 1459.0H1650.0M1641.9 1456.8V1461.0M1641.9 1456.8H1642.8M1641.9 1461.0H1650.0M1641.0 1458.9V1463.0M1641.0 1458.9H1641.9M1641.0 1463.0H1650.0M1640.1 1461.0V1465.0M1640.1 1461.0H1641.0M1640.1 1465.0H1650.0M1649.0 1467.0V1469.0M1649.0 1467.0H1650.0M1649.0 1469.0H1650.0M1648.5 1468.0V1471.0M1648.5 1468.0H1649.0M1648.5 1471.0H1650.0M1648.0 1469.5V1473.0M1648.0 1469.5H1648.5M1648.0 1473.0H1650.0M1645.5 1471.2V1475.0M1645.5 1471.2H1648.0M1645.5 1475.0H1650.0M1635.6 1463.0V1473.1M1635.6 1463.0H1640.1M1635.6 1473.1H1645.5M1634.7 1443.0V1468.1M1634.7 1443.0H1650.0M1634.7 1468.1H1635.6M1649.0 1477.0V1479.0M1649.0 1477.0H1650.0M1649.0 1479.0H1650.0M1648.5 1478.0V1481.0M1648.5 1478.0H1649.0M1648.5 1481.0H1650.0M1647.2 1479.5V1483.0M1647.2 1479.5H1648.5M1647.2 1483.0H1650.0M1645.5 1481.2V1485.0M1645.5 1481.2H1647.2M1645.5 1485.0H1650.0M1630.2 1455.5V1483.1M1630.2 1455.5H1634.7M1630.2 1483.1H1645.5M1648.2 1487.0V1489.0M1648.2 1487.0H1650.0M1648.2 1489.0H1650.0M1648.6 1491.0V1493.0M1648.6 1491.0H1650.0M1648.6 1493.0H1650.0M1647.9 1492.0V1495.0M1647.9 1492.0H1648.6M1647.9 1495.0H1650.0M1645.5 1488.0V1493.5M1645.5 1488.0H1648.2M1645.5 1493.5H1647.9M1625.6 1469.3V1490.8M1625.6 1469.3H1630.2M1625.6 1490.8H1645.5M1624.7 1480.0V1497.0M1624.7 1480.0H1625.6M1624.7 1497.0H1650.0M1648.2 1499.0V1501.0M1648.2 1499.0H1650.0M1648.2 1501.0H1650.0M1622.9 1488.5V1500.0M1622.9 1488.5H1624.7M1622.9 1500.0H1648.2M1648.7 1503.0V1505.0M1648.7 1503.0H1650.0M1648.7 1505.0H1650.0M1648.1 1504.0V1507.0M1648.1 1504.0H1648.7M1648.1 1507.0H1650.0M1620.2 1494.3V1505.5M1620.2 1494.3H1622.9M1620.2 1505.5H1648.1M1619.3 1499.9V1509.0M1619.3 1499.9H1620.2M1619.3 1509.0H1650.0M1618.4 1441.0V1504.4M1618.4 1441.0H1650.0M1618.4 1504.4H1619.3M1617.5 1472.7V1511.0M1617.5 1472.7H1618.4M1617.5 1511.0H1650.0M1616.6 1491.9V1513.0M1616.6 1491.9H1617.5M1616.6 1513.0H1650.0M1614.8 1438.0V1502.4M1614.8 1438.0H1648.2M1614.8 1502.4H1616.6M1648.2 1515.0V1517.0M1648.2 1515.0H1650.0M1648.2 1517.0H1650.0M1613.0 1470.2V1516.0M1613.0 1470.2H1614.8M1613.0 1516.0H1648.2M1648.2 1519.0V1521.0M1648.2 1519.0H1650.0M1648.2 1521.0H1650.0M1648.2 1525.0V1527.0M1648.2 1525.0H1650.0M1648.2 1527.0H1650.0M1647.3 1523.0V1526.0M1647.3 1523.0H1650.0M1647.3 1526.0H1648.2M1645.5 1520.0V1524.5M1645.5 1520.0H1648.2M1645.5 1524.5H1647.3M1608.5 1493.1V1522.2M1608.5 1493.1H1613.0M1608.5 1522.2H1645.5M1648.9 1530.0V1533.0M1648.9 1530.0H1649.3M1648.9 1533.0H1650.0M1648.5 1531.5V1535.0M1648.5 1531.5H1648.9M1648.5 1535.0H1650.0M1645.5 1533.2V1537.0M1645.5 1533.2H1648.5M1645.5 1537.0H1650.0M1604.0 1507.7V1535.1M1604.0 1507.7H1608.5M1604.0 1535.1H1645.5M1603.1 1435.0V1521.4M1603.1 1435.0H1650.0M1603.1 1521.4H1604.0M1601.3 1432.0V1478.2M1601.3 1432.0H1648.2M1601.3 1478.2H1603.1" stroke="#7a7a7a" stroke-width="1.5" fill="none"/>
<path d="M1596.7 962.8V1134.7M1596.7 962.8H1618.0M1596.7 1134.7H1601.0M1585.0 922.6V1048.8M1585.0 922.6H1607.7M1585.0 1048.8H1596.7M1590.0 1149.7V1258.4M1590.0 1149.7H1609.8M1590.0 1258.4H1601.3M1594.0 1423.2V1455.1M1594.0 1423.2H1610.7M1594.0 1455.1H1601.3M1586.5 1406.3V1439.2M1586.5 1406.3H1600.9M1586.5 1439.2H1594.0M1580.7 1376.3V1422.7M1580.7 1376.3H1611.6M1580.7 1422.7H1586.5M1573.9 1332.9V1399.5M1573.9 1332.9H1601.9M1573.9 1399.5H1580.7M1558.0 1204.0V1366.2M1558.0 1204.0H1590.0M1558.0 1366.2H1573.9M1546.0 985.7V1285.1M1546.0 985.7H1585.0M1546.0 1285.1H1558.0" stroke="#b5b5b5" stroke-width="2.4" fill="none"/>
<g stroke-width="4" fill="none" filter="url(#hb)">
<path stroke="#0000e9" d="M936 141h18m-37 4h55m-18 4h18m-55 12h55m-55 4h55m-55 4h19m18 0h18m-36 4h36m-55 4h55m-55 4h37m0 12h18m-55 8h55m-55 12h37m202 0h19m18 0h18m-294 4h55m-55 4h19m275 0h19m-313 8h55m-18 24h18m-18 16h18m-18 8h18m-55 8h19m-19 8h19m18 0h18m-55 8h37m-37 40h19m36 0h19m-37 12h18m-73 148h18m-37 4h37m-37 4h37m-18 20h18m-55 8h37m0 28h18m202 84h19m184 16h18m-37 20h37m-478 8h18"/>
<path stroke="#1919eb" d="M917 137h37m-37 4h19m18 0h18m-55 8h37m-18 4h18m294 0h19m-331 16h18m239 0h18m-331 4h19m18 0h19m18 8h18m-55 4h55m-55 4h55m-55 4h37m-37 4h37m-37 8h55m-55 4h37m0 4h18m239 0h37m-312 8h36m258 0h18m-312 4h18m460 8h55m-552 12h19m0 4h18m-37 4h37m0 4h18m-36 4h36m-55 8h37m-37 4h55m-36 4h18m331 0h18m-367 8h36m-55 4h55m-36 4h18m313 0h18m-368 4h55m-18 4h18m37 0h19m-74 4h18m-55 4h55m-55 4h37m-37 4h19m18 0h18m203 0h18m-257 4h18m37 20h37m-74 16h18m92 28h19m0 12h55m294 8h18m-570 8h19m220 4h19m-110 8h18m184 20h18m-129 52h19m-276 4h37m-37 4h18m-18 24h18m0 4h19m0 4h37m-74 4h18m239 0h19m-276 4h18m19 0h18m-18 4h18m-55 4h18m129 4h19m-166 4h55m166 0h18m-239 4h37m331 40h18m-257 12h18m-129 8h19m-19 4h19m-37 4h18m19 0h18m92 8h19m312 0h18m-257 8h18m221 0h18m-367 8h37m312 12h18m-55 12h19m-74 4h19m73 8h18m-36 4h18m129 8h18m-607 8h19m184 12h18"/>
<path stroke="#3333ed" d="M954 137h18m-55 16h19m18 0h18m-55 4h55m-73 16h18m276 16h18m-257 8h18m-18 12h18m147 4h37m37 8h18m-294 4h19m18 0h18m-36 16h18m-18 4h36m-55 4h19m-19 8h37m-37 4h19m533 0h18m-570 4h55m221 8h18m-294 4h19m312 20h19m-350 8h37m0 8h18m239 0h19m-294 4h18m184 0h37m-258 4h19m18 0h18m-18 8h18m-18 8h18m-36 4h36m-55 4h19m-19 16h19m18 0h18m56 24h18m460 4h18m-37 40h19m-387 8h19m220 4h19m-497 12h19m294 4h18m-128 16h18m-110 32h18m0 4h19m-166 4h55m-18 4h18m-18 4h18m-55 4h55m-55 8h18m19 0h18m74 0h37m-92 4h18m-74 4h37m166 0h36m-239 4h19m-37 4h37m239 0h55m-313 4h37m-37 4h19m220 8h19m-258 16h19m-37 4h18m313 0h18m19 0h18m-368 8h19m-19 4h19m312 8h19m-258 8h19m202 4h18m-349 4h55m74 0h18m-147 4h18m19 0h18m74 0h18m239 4h19m-387 4h19m570 0h55m-294 4h18m74 4h18m-257 8h18m221 0h18m-18 4h36m-386 4h19m312 0h19m92 4h18m-129 4h19m-19 4h37m-18 12h36m-18 4h18m-257 4h18m221 0h18m-478 4h19m404 4h19m184 8h18m-405 20h19m165 4h19m55 0h18m-515 32h19"/>
<path stroke="#4c4cf0" d="M1395 185h19m-203 4h19m-147 16h18m-73 32h18m-129 4h19m18 8h18m-73 8h18m368 16h18m-275 4h18m-129 4h55m221 20h37m276 0h18m-294 12h18m-202 4h18m405 0h18m-202 4h18m203 0h18m-607 8h19m-19 8h37m0 8h18m-36 4h36m-55 4h19m18 20h18m-55 8h19m18 0h18m74 4h18m405 8h18m-331 8h19m257 0h18m-18 12h18m-275 16h18m-294 12h18m478 0h19m-515 16h18m92 8h19m202 20h18m-276 16h19m18 0h19m-19 4h19m-56 4h19m-129 8h37m110 0h19m-166 4h37m73 4h19m-19 4h37m-37 4h19m0 4h37m441 0h18m-515 4h37m202 0h19m-221 4h19m-37 4h18m-147 8h18m19 0h18m55 0h19m128 4h19m92 0h18m-257 4h18m92 0h18m221 4h18m-386 8h19m110 0h18m-257 4h18m19 0h18m74 0h37m91 0h19m-258 4h37m294 0h19m-368 8h18m19 0h18m-18 4h18m184 0h18m221 4h18m74 0h18m-588 4h18m221 0h18m74 0h18m-220 8h18m-147 4h55m55 0h19m128 0h19m73 0h37m-276 8h19m312 0h19m-460 4h18m19 0h18m423 0h18m-496 8h18m221 0h37m55 0h18m-220 4h18m92 4h18m184 0h19m18 0h18m-55 4h19m-111 4h37m55 0h19m-221 4h37m184 0h18m-92 8h19m73 0h18m-349 4h19m312 4h18m-275 8h18m-18 4h36m203 4h18m-37 4h37m-147 4h18m19 0h18m92 0h18m-239 20h19m331 28h18m-257 4h18m-165 12h55"/>
<path stroke="#6666f2" d="M1285 137h18m-202 8h18m-257 28h18m221 32h37m165 16h19m-405 12h19m-19 4h19m570 4h18m-496 12h36m184 0h19m0 8h36m-239 16h19m423 12h18m-496 8h18m239 0h18m-275 4h18m18 0h19m165 0h19m-74 12h18m-183 4h18m18 0h19m184 4h18m-239 4h18m-128 4h18m129 0h18m-165 4h18m92 0h18m-128 24h18m-18 4h18m129 0h36m221 0h18m-441 4h55m203 4h18m-276 4h37m-37 4h19m202 24h18m19 0h18m-74 4h19m-258 4h19m184 0h18m55 0h19m-295 20h19m-37 12h37m202 0h18m-147 4h19m-129 12h18m203 0h18m18 0h19m-147 4h18m19 16h18m147 8h37m-92 4h18m-239 12h19m18 0h18m19 0h18m-37 16h19m18 4h19m-37 4h18m-37 12h19m515 0h18m-515 4h19m-56 4h37m-18 8h37m-37 4h18m-18 4h18m313 0h36m-386 4h19m92 0h18m110 0h19m202 0h18m-588 4h55m55 0h19m18 0h19m165 0h55m74 0h18m92 0h18m-551 4h18m-55 4h18m203 0h18m18 0h19m-166 4h19m220 0h37m92 0h18m-496 8h18m92 0h37m184 0h18m19 0h18m-257 4h37m-166 4h18m203 0h18m18 0h19m184 0h18m-478 4h18m0 4h37m55 0h19m128 0h19m-129 12h19m55 0h36m0 4h19m-19 4h19m92 0h18m74 0h18m92 0h37m-350 4h19m184 0h18m-441 8h18m74 0h18m74 0h18m239 0h18m-147 4h19m184 0h18m-349 4h18m221 0h18m74 0h55m-386 8h36m221 4h18m-55 4h37m-221 4h19m55 0h37m37 0h18m92 0h55m18 0h19m-386 4h18m92 0h55m-147 4h18m203 0h18m-37 4h19m-221 4h18m-257 4h55m202 0h19m73 0h19m73 4h19m-350 4h19m128 0h19m73 4h19m-368 4h55m202 0h19m184 8h18m-257 8h18m221 0h18m-478 4h18m203 0h18m202 0h19m-460 4h18m442 4h36m-220 16h18m350 0h18m-349 8h18"/>
<path stroke="#8080f4" d="M1248 137h37m-257 24h18m-110 72h36m405 0h37m73 0h19m-570 4h36m92 0h19m-129 4h18m74 4h18m221 0h18m-239 8h19m202 0h18m55 0h19m92 0h55m-496 12h36m203 4h18m184 0h18m-349 4h18m111 0h18m110 4h19m-166 8h19m18 0h18m-36 4h18m92 0h37m55 0h18m-423 4h19m-37 4h37m-37 4h18m221 0h18m74 0h18m74 0h37m-258 8h19m18 0h18m203 0h18m-496 4h18m202 0h37m73 4h56m-56 4h19m-423 4h18m276 0h19m110 4h18m-478 4h19m18 0h18m-55 16h19m0 4h18m-37 4h19m92 4h18m18 0h19m36 0h19m37 0h18m-239 8h18m111 16h18m92 0h37m202 8h18m-478 8h19m110 0h18m221 0h18m-257 4h18m203 0h18m-478 4h18m-18 4h18m129 0h19m73 0h37m55 0h18m-128 4h18m-129 4h19m202 0h18m-349 8h18m92 0h19m18 0h19m91 4h19m-239 12h18m74 0h37m165 0h18m111 4h18m-460 8h19m-37 4h18m129 0h19m-37 4h18m-37 4h19m-129 4h18m92 16h19m496 0h19m-534 16h19m0 12h18m-37 4h19m18 4h19m-19 4h19m312 0h18m-275 4h36m221 0h18m129 4h19m-203 8h19m-350 8h19m18 8h19m73 0h18m184 0h19m-313 4h19m165 0h18m19 0h18m74 0h18m74 0h18m-441 4h18m74 0h18m-221 4h19m110 0h19m202 0h18m202 0h19m-589 4h37m74 0h18m202 0h37m-165 4h36m74 0h18m92 0h19m92 0h36m-478 4h19m18 0h19m73 0h18m184 0h37m-460 4h19m441 0h18m-386 4h19m110 0h18m74 4h18m-331 4h37m294 0h19m73 0h19m-239 4h18m-239 4h18m221 0h18m111 0h18m-349 4h18m92 0h19m202 0h18m55 4h19m110 0h18m-478 4h19m110 0h18m184 0h19m110 0h18m-257 4h18m203 0h18m-331 4h18m74 0h18m92 0h19m-221 4h18m74 0h37m-350 4h19m312 0h19m73 0h19m-239 4h18m18 0h19m55 0h18m19 0h18m184 0h18m-331 4h19m55 0h55m-239 4h19m-129 4h18m74 0h37m55 8h18m-92 4h19m55 0h36m111 0h18m37 0h18m55 0h19m-386 4h18m92 0h18m295 0h36m-551 4h18m166 0h18m18 0h19m165 0h19m-221 4h37m184 0h18m-221 4h19m55 0h18m19 0h18m-37 8h19m-239 4h37m55 0h18m313 0h36m-349 4h18m331 0h19m-368 4h18m184 0h19m18 0h18m-239 12h19m165 0h55m-257 4h18m-239 4h19m220 0h19m184 0h18m-460 4h19m220 4h19m92 0h18m-386 4h18m0 20h19"/>
<path stroke="#9999f6" d="M1046 149h18m0 12h19m-19 12h19m202 16h18m-275 4h36m331 0h19m-147 8h18m-37 4h19m-221 16h18m184 12h19m91 0h19m-331 4h18m111 4h18m92 0h18m-239 4h19m165 0h37m0 4h18m-128 4h18m74 0h18m92 0h37m-350 4h19m55 0h37m73 0h55m-128 4h18m294 0h19m-221 8h18m203 0h18m-496 4h18m129 0h18m-147 4h18m92 0h19m92 0h18m73 0h19m110 0h37m-37 4h19m-478 4h18m129 0h18m74 0h18m184 0h18m-459 4h36m423 0h19m-478 4h36m184 0h19m110 0h18m-257 4h18m350 0h18m-368 4h19m220 0h19m-166 4h19m18 0h18m-165 4h18m111 0h18m92 0h18m74 0h37m-460 4h37m73 0h37m92 0h18m74 0h18m-147 4h19m-19 4h19m-350 4h37m74 0h18m18 0h19m73 0h19m92 0h18m73 4h19m18 8h19m-276 8h18m19 0h18m55 4h19m18 0h18m-18 4h18m-275 4h18m129 8h18m165 0h19m18 0h19m55 4h37m-552 8h18m92 4h19m-221 4h18m239 0h19m312 8h19m-570 8h18m74 0h37m386 0h18m-92 4h18m-386 4h19m128 0h19m92 0h18m-349 4h18m74 0h18m-37 4h19m92 4h18m129 0h18m-55 4h37m-239 4h18m74 4h36m19 0h18m294 0h19m-589 4h19m73 4h37m184 0h37m92 0h18m74 0h36m-588 4h37m312 0h19m110 0h18m-459 4h18m55 0h19m92 0h18m18 0h19m165 0h19m18 0h18m-459 4h18m74 0h18m92 0h18m92 0h19m-258 8h19m331 0h18m-368 4h19m202 0h18m-349 4h18m0 4h19m73 0h37m92 0h18m-18 4h37m-276 4h37m202 0h37m-166 4h19m0 4h37m128 0h19m-313 4h18m331 0h19m-350 4h19m73 0h19m110 0h18m111 0h18m-386 12h18m92 4h19m18 0h19m312 4h18m-367 4h18m294 8h37m-18 4h18m-257 4h18m221 0h18m-221 20h19m55 4h18m203 0h18m18 4h19m-166 4h19m128 0h19m-607 4h18m221 0h18m74 0h37m92 0h18m74 0h18m-423 4h19m165 0h18m111 0h18m-18 4h18m110 0h19m-478 4h18m110 0h19m276 0h36m-551 4h18m92 0h19m294 0h18m92 0h18m-367 4h18m18 0h19m92 0h18m-239 4h19m183 0h19m110 0h18m-349 4h19m202 0h18m166 0h18m18 0h19m-460 4h19m275 0h55m-478 4h37m166 0h18m18 0h19m165 0h19m18 0h18m56 0h55m-589 4h19m220 0h19m73 0h19m220 0h19m-147 4h36m56 0h18m-349 4h18m92 0h55m202 0h19m-368 4h18m92 0h19m110 0h18m-349 4h19m183 0h19m-258 4h37m313 0h18m92 0h37m-460 4h19m386 0h18m18 4h19m-589 4h19m92 4h18m184 0h55m202 0h19m-350 4h19m55 0h18m-349 4h18m19 0h18m166 0h18m110 0h19m220 0h19m-350 4h19m92 0h18m92 0h18m-386 4h19m441 0h18m-331 4h19m312 0h19m-478 4h18m202 0h37m-165 4h18m92 0h18m129 0h18m-165 8h18m203 0h18m-313 4h19m-55 8h18m18 0h19m276 0h18m-441 4h18m74 0h18m221 0h18m-239 4h18m203 0h18m-349 4h18m74 0h36m-257 4h18m203 0h36m92 0h19m110 4h18m-459 4h18m55 0h19m110 0h18m74 0h37m110 0h18m-459 4h18m184 0h18m221 0h18m-257 4h18m74 0h37m-331 4h18m-55 8h18m111 8h18m460 0h18m-478 8h19m91 0h19m331 0h18m19 0h18m-55 8h18"/>
<path stroke="#b2b2f8" d="M1267 141h18m-257 4h55m-55 12h18m239 0h18m-36 16h36m-55 4h37m73 0h19m-129 12h19m-239 8h18m-18 8h18m18 0h19m-55 4h55m-19 4h19m-55 12h18m18 0h19m55 8h37m110 4h18m203 0h18m-496 4h18m202 0h19m-239 4h18m129 0h18m-147 4h18m111 0h18m-55 4h18m-128 4h18m129 0h18m-37 4h19m73 0h19m91 0h37m111 0h18m-460 4h19m202 0h18m74 0h18m74 0h18m-441 4h37m55 0h18m92 0h19m91 0h19m18 0h19m73 0h19m-460 4h18m184 0h19m128 0h19m55 0h18m-349 4h18m19 0h18m55 0h19m110 0h18m74 0h18m-459 4h18m18 0h19m92 0h18m55 0h19m18 0h18m55 0h37m-349 4h37m73 0h19m220 0h19m73 0h19m-258 4h19m91 0h19m18 4h19m55 0h55m-349 4h18m74 0h18m184 0h18m-349 4h18m19 0h18m74 0h18m73 0h19m-110 4h18m221 0h18m-460 4h19m92 0h18m165 0h19m18 0h19m-276 4h18m111 4h36m184 0h37m-478 4h18m313 0h37m55 0h37m-368 4h18m-128 4h18m202 0h19m128 0h19m-239 4h18m276 0h18m-423 8h19m202 0h18m203 0h18m-588 4h18m423 0h37m-166 8h37m221 0h18m-478 4h37m275 0h19m18 0h19m73 0h19m-460 4h18m92 0h19m183 0h19m18 0h19m92 0h18m-460 4h19m202 0h18m166 0h18m-570 4h37m552 0h18m-588 8h18m184 4h37m110 0h18m184 0h19m-405 4h18m-257 4h18m221 0h37m-258 4h19m220 0h19m-276 4h18m203 4h18m18 0h19m37 4h36m56 0h18m165 0h37m-588 4h18m74 0h37m165 0h37m220 0h19m-497 4h19m165 0h19m55 0h18m92 0h18m-349 4h19m110 0h18m37 0h55m166 0h18m-441 4h37m73 0h18m56 0h18m18 0h19m92 0h18m-331 4h19m147 0h18m-221 8h56m128 0h19m-276 4h18m74 0h37m128 0h19m128 0h19m18 0h18m-349 4h19m275 0h19m18 0h18m92 0h19m-350 4h19m165 0h37m92 0h18m56 0h18m-644 4h19m202 0h18m331 0h19m-607 4h18m239 0h19m55 0h18m-239 4h19m18 0h19m73 0h18m92 0h19m-331 4h18m166 0h18m37 0h18m55 0h19m110 0h18m-478 4h37m294 0h37m74 0h18m74 0h18m-441 4h18m313 0h18m110 0h19m-570 4h18m202 0h19m55 0h18m203 0h18m-570 4h37m294 0h37m92 0h18m-441 4h18m74 0h18m405 0h18m18 0h19m-478 4h18m294 0h19m128 0h19m-368 4h37m165 0h55m148 0h18m-423 4h18m-110 4h19m128 0h19m18 0h18m239 0h19m-386 8h18m92 0h18m-220 8h18m110 4h19m165 0h37m-460 12h19m220 0h19m-19 4h19m202 4h18m-386 12h19m312 0h19m0 4h36m-18 4h18m-386 4h19m220 0h19m220 0h19m-166 4h19m18 0h18m-257 4h18m295 0h18m-460 4h37m110 0h19m165 0h19m18 0h18m-275 12h18m239 0h18m-55 4h19m92 0h18m18 0h19m-276 4h37m220 0h19m-478 4h18m221 0h18m55 0h19m110 0h37m-497 4h19m110 0h18m-128 4h18m423 0h37m-276 4h37m92 0h18m-478 4h18m313 0h18m111 0h18m110 4h19m-147 4h18m74 0h18m-349 4h18m-129 4h19m92 0h18m129 0h18m166 0h55m-460 4h19m55 0h18m129 0h18m92 0h18m-386 4h19m331 0h18m92 0h37m-607 4h37m202 0h18m-239 8h19m73 0h19m-111 4h19m515 0h18m-552 4h19m515 0h18m-570 4h18m221 0h18m92 0h19m202 0h37m-478 4h18m-129 4h19m73 0h19m-19 4h19m202 0h18m-202 4h19m183 0h37m-276 4h37m-37 4h56m202 0h18m202 0h19m-478 4h18m74 0h18m92 0h18m19 0h18m202 0h19m-368 4h18m74 0h18m19 0h18m202 0h19m-589 4h37m55 0h56m404 0h18m-441 4h19m-148 4h37m166 0h18m202 0h19m-460 4h37m73 0h19m312 0h19m-423 4h18m276 0h18m19 0h18m-349 4h18m92 0h19m275 0h19m-331 4h37m202 0h18m-55 4h18m92 0h37m-368 4h19m92 0h18m-221 4h19m0 4h18m-18 12h18m166 0h18m313 0h18m18 0h19m37 0h18m-662 4h18m19 0h18m74 0h18m-110 4h18m166 0h36m258 0h18m55 4h19m18 4h37m-552 4h19m165 0h19"/>
<path stroke="#ccccfb" d="M1028 137h18m349 0h19m-350 4h19m165 0h19m18 0h18m111 0h18m-184 4h37m-221 4h19m73 0h19m73 0h19m91 0h19m18 0h19m-350 8h19m-37 4h18m74 0h18m19 0h18m-147 4h37m165 4h37m-257 4h36m111 0h18m184 12h18m-367 4h36m0 4h19m55 0h37m128 0h19m-74 8h19m-221 4h18m313 0h18m-128 4h18m0 4h18m-165 4h18m19 0h18m55 0h37m-257 4h18m239 0h18m-257 4h18m294 4h19m18 0h19m-368 4h18m221 0h18m166 0h18m19 0h18m-368 4h19m92 0h18m92 0h18m74 0h37m-442 4h19m73 0h19m183 4h19m92 0h37m-478 4h18m18 0h19m55 0h18m111 0h18m184 0h18m-331 4h19m-129 4h18m294 0h37m111 0h18m-496 4h18m92 0h18m-18 4h37m73 0h37m110 0h19m92 0h18m-496 4h18m0 12h18m74 0h37m92 0h18m110 0h19m92 4h18m-460 4h19m55 0h18m19 0h18m92 0h18m-128 4h18m92 0h18m55 0h19m-221 4h19m220 0h19m73 0h19m-129 8h37m55 0h18m-441 4h18m331 4h19m55 0h37m-478 8h18m129 4h18m92 0h18m-257 4h37m55 4h37m312 0h19m-460 4h37m275 0h37m-367 4h18m92 0h18m92 0h19m91 0h19m18 0h19m-386 4h55m275 0h19m-349 4h36m74 0h55m165 0h19m18 0h19m-19 4h19m92 4h18m-386 4h18m92 0h55m74 0h18m74 0h37m-478 4h36m92 0h19m202 0h18m111 0h18m-55 12h37m-570 4h18m92 0h18m111 0h18m55 0h37m73 0h56m92 0h18m-644 4h37m55 0h19m18 0h19m202 0h18m74 0h18m110 0h19m-589 4h37m166 0h18m-239 4h18m19 0h18m166 0h18m92 0h18m74 0h18m19 0h18m74 0h18m74 0h18m-460 4h19m-221 4h18m313 0h37m73 0h37m37 0h37m36 0h19m-570 4h18m74 0h37m55 0h18m55 0h19m36 0h37m55 0h19m92 0h18m55 0h37m-202 4h18m-257 4h18m37 0h18m19 0h18m18 0h19m73 0h19m128 0h19m18 0h19m-644 4h55m74 0h18m92 0h18m37 0h19m147 0h36m74 0h37m-570 4h18m221 0h37m165 0h18m37 0h19m18 0h37m-570 4h18m74 0h18m74 0h36m37 0h19m147 0h18m-441 4h18m166 0h55m73 0h19m110 0h18m74 0h37m-166 4h55m56 0h18m-570 4h18m92 0h19m110 0h18m92 0h37m239 0h19m-387 4h37m74 0h18m239 0h37m-478 4h37m73 0h19m239 0h18m18 0h37m-496 4h18m221 0h18m-239 4h19m55 0h18m129 0h18m74 0h36m74 0h18m-312 4h37m128 0h19m36 0h19m18 0h19m-534 4h19m294 0h18m92 0h19m128 0h19m-607 4h18m203 0h18m239 0h18m37 0h19m73 0h19m-626 4h37m92 0h19m73 0h37m165 0h19m18 0h18m-349 4h19m183 0h37m74 0h18m55 0h19m18 0h37m18 0h19m-607 4h18m74 0h37m55 0h18m129 0h18m92 0h18m74 0h18m-441 4h19m55 0h18m166 0h18m55 0h18m74 0h18m37 0h19m-644 4h18m19 0h18m184 0h55m92 0h19m73 0h18m74 0h18m-367 4h18m129 0h18m166 0h36m19 0h18m-607 4h37m166 0h18m18 0h19m55 0h18m-349 4h18m19 0h18m166 0h18m110 0h19m184 0h18m-110 4h18m-239 4h37m73 0h19m73 0h19m18 0h18m-367 4h18m74 0h18m239 0h18m-275 8h36m203 4h18m-239 4h18m-18 4h18m184 8h19m-19 4h19m0 4h36m-349 4h19m294 0h36m-147 4h19m73 0h19m0 4h18m-257 16h18m331 0h18m-147 4h19m18 0h18m56 0h55m-19 8h19m-258 4h19m73 4h19m18 0h18m56 0h18m-18 4h18m-441 4h18m74 0h18m18 0h19m184 0h18m74 4h18m-460 4h19m92 4h36m184 0h19m18 0h18m74 0h18m-441 12h19m-37 4h18m110 4h19m165 0h19m92 0h18m-533 8h18m386 0h19m-460 4h18m111 0h18m-147 4h18m-18 4h18m92 0h19m441 0h37m-239 4h18m184 0h18m-551 4h18m276 0h18m-349 8h18m19 0h18m-37 4h19m110 0h19m404 0h18m-588 8h18m19 0h18m92 0h19m422 0h19m-37 4h18m-588 4h55m92 0h19m386 0h36m-239 4h19m-368 4h18m350 4h18m184 0h18m-588 4h18m92 0h19m128 0h19m73 0h37m92 0h18m-459 4h18m92 0h19m165 0h18m129 0h18m-349 4h19m128 0h19m-313 4h18m92 0h37m202 0h19m202 4h37m-478 4h37m-166 4h18m19 0h18m92 0h19m386 0h36m56 0h18m-552 4h56m239 0h18m18 0h37m-460 4h19m220 0h19m-239 4h18m55 0h37m-147 4h18m19 0h18m55 0h19m92 0h18m74 0h18m92 0h18m111 0h36m-588 4h37m165 0h19m18 0h55m19 0h18m294 0h19m-497 4h19m91 0h19m220 0h19m18 0h19m55 0h37m-644 4h37m73 0h37m349 0h19m110 0h19m-129 4h37m18 0h18m-459 4h18m74 0h36m19 0h37m147 0h36m37 0h19m18 0h18m-588 4h55m74 0h18m166 0h18m276 0h18"/>
<path stroke="#e6e6fd" d="M1064 137h19m18 0h18m-91 4h36m331 0h19m73 0h37m-552 4h37m166 0h18m92 0h18m55 0h19m-497 4h19m129 0h18m331 0h18m-331 4h19m-37 4h18m92 0h19m73 0h19m220 0h19m-387 4h19m18 0h19m73 0h55m55 0h19m18 0h19m-386 4h18m221 0h18m92 0h37m-386 4h36m221 0h18m-294 4h19m128 0h19m73 0h19m202 0h55m-55 4h18m-423 4h19m18 0h18m258 0h18m-331 4h19m275 0h19m-313 4h19m92 0h18m74 0h18m73 0h19m-19 4h37m-515 4h19m386 4h18m-441 4h18m387 0h36m55 0h19m110 0h37m-349 4h18m55 0h19m128 0h19m-386 4h18m129 0h18m55 0h37m73 0h19m-331 4h37m73 0h19m110 0h18m74 0h37m18 0h18m-92 4h19m-239 4h18m19 0h18m221 0h18m18 0h19m-441 4h18m18 0h19m184 0h18m92 0h18m92 0h37m-496 4h18m18 0h19m92 0h18m74 0h18m-110 4h18m55 0h19m128 0h19m-368 4h18m74 0h18m111 0h18m73 0h56m-276 4h37m202 0h18m111 0h18m-368 4h19m73 0h19m91 0h19m110 0h37m-74 4h19m-74 4h19m55 0h37m-442 4h19m312 0h19m-239 4h18m165 0h19m110 0h19m-442 8h19m55 12h18m202 0h37m-239 4h19m-37 4h18m0 12h37m165 0h19m-349 4h18m110 0h19m183 4h19m-313 8h19m386 4h37m-239 4h18m184 0h18m-459 4h18m18 0h19m165 0h55m203 0h18m-496 4h18m221 0h36m166 0h18m-312 4h18m74 0h18m92 0h18m37 0h18m-294 4h19m73 0h37m-221 4h19m184 0h18m-239 4h18m74 0h55m165 0h19m92 0h37m-331 4h18m184 0h18m-257 8h18m111 0h18m202 0h19m-478 4h36m294 0h37m-367 4h55m423 0h18m-496 4h55m73 0h37m55 0h19m128 0h19m92 0h18m-496 4h18m55 0h18m350 0h18m-496 4h18m331 0h18m56 0h18m-423 4h19m220 0h37m92 0h18m37 0h18m-533 4h55m129 0h18m19 0h55m55 0h19m73 0h18m129 0h19m-626 4h37m55 0h19m37 0h36m92 0h19m73 0h19m147 0h36m-570 4h19m331 0h18m221 0h18m-625 4h37m73 0h19m37 0h36m74 0h18m129 0h18m74 0h18m-92 4h19m92 0h18m-55 4h18m19 0h18m-257 4h18m110 0h19m165 0h19m-644 4h37m220 0h19m165 0h19m165 0h19m-644 4h37m73 0h19m147 0h18m74 0h18m19 0h18m-147 4h18m166 0h18m74 0h18m-570 4h55m258 0h18m55 0h19m165 0h18m-367 4h18m37 0h18m37 0h18m295 0h18m-441 4h18m55 0h19m294 0h18m-404 4h36m19 0h18m19 0h18m184 0h18m-533 4h18m129 0h19m165 0h37m147 0h73m-478 4h19m55 0h18m111 0h18m221 0h18m18 0h56m-515 4h18m221 0h18m74 0h36m19 0h18m-294 4h37m92 0h55m184 0h18m19 0h18m-460 4h19m18 0h18m184 0h19m55 0h18m37 0h18m19 0h18m19 0h18m-441 4h18m110 0h19m202 0h18m-312 4h37m128 0h19m18 0h37m129 0h18m-349 4h18m221 0h18m-460 4h19m147 0h37m36 0h56m18 0h18m203 0h18m-644 4h19m110 0h19m55 0h18m257 0h19m18 0h37m-552 4h37m294 0h19m220 0h19m-497 4h56m202 0h18m74 0h36m-367 4h18m129 0h18m19 0h18m110 0h19m36 0h19m55 0h18m37 0h19m-313 4h18m19 0h18m-18 4h18m74 0h18m-239 4h37m184 0h18m92 0h18m-367 4h18m18 0h19m184 0h18m-257 8h18m239 0h18m-36 4h36m-275 4h18m110 4h19m73 0h19m0 8h18m-129 4h19m0 4h18m37 0h18m129 0h18m-367 8h18m92 0h18m239 0h19m-37 4h18m-331 8h19m294 24h18m-478 4h19m202 4h18m-220 8h18m-110 36h18m55 0h19m-92 4h18m497 0h36m-570 12h19m73 0h56m-148 4h37m497 8h18m18 0h19m18 0h19m-626 4h19m73 0h37m405 0h18m18 0h19m-589 4h19m533 0h18m-478 8h19m-19 12h19m220 0h19m184 0h18m-441 4h37m128 0h19m239 0h55m-350 4h19m73 0h37m166 0h36m-478 4h37m166 0h18m221 0h18m18 0h19m-589 4h19m478 0h18m19 0h36m-36 4h18m-460 4h19m220 0h37m166 0h55m-589 4h19m202 4h18m19 0h18m184 0h18m74 0h18m-588 4h18m203 0h36m295 0h55m-589 4h19m110 0h19m73 0h18m19 0h18m313 0h37m-626 4h19m165 0h19m18 0h37m110 0h37m37 0h36m-386 4h19m18 0h19m128 0h19m73 0h55m55 0h19m-405 4h19m386 0h18m19 0h18m74 0h18m-349 4h18m55 0h19m128 0h19m18 0h18m-588 4h18m19 0h18m55 0h56m110 0h37m-295 4h19m220 0h19m55 0h18m56 0h18m18 0h19m36 0h37m-386 4h19m73 0h55m55 0h19m55 0h18m55 0h37"/>
<path stroke="#ffffff" d="M1377 137h18m-423 4h19m18 0h19m330 0h19m55 0h18m19 0h18m-588 4h18m202 0h19m18 0h19m202 0h55m74 0h18m-441 4h18m18 0h37m74 0h18m37 0h18m111 0h18m37 0h18m19 0h18m-239 4h18m92 0h19m-534 4h19m92 0h18m129 0h18m239 0h19m18 0h18m-588 4h18m129 0h19m202 0h18m74 0h18m-202 4h18m19 0h18m55 0h19m18 0h18m55 0h19m55 0h18m56 0h18m-460 4h37m257 0h56m-423 4h18m129 0h18m202 0h19m-515 4h18m276 0h19m110 0h18m74 0h18m92 0h37m-496 4h36m111 0h36m184 0h19m-405 4h19m128 0h19m73 0h55m-404 4h18m74 0h18m92 0h18m19 0h37m0 4h18m18 0h19m110 0h18m-312 4h37m-19 4h55m111 0h18m92 0h18m-386 4h19m147 0h55m202 0h19m-258 4h19m110 0h18m37 0h55m-349 4h18m313 0h18m-533 4h18m148 0h18m147 0h18m147 0h19m37 0h18m55 0h19m-515 4h18m55 0h19m294 0h18m-423 4h19m92 0h18m55 0h19m92 0h55m55 0h37m-405 4h19m18 0h18m184 0h19m-129 8h18m313 4h37m-111 8h19m-423 4h18m405 0h18m-386 8h18m294 12h37m111 0h18m-368 20h19m183 4h19m37 0h18m-294 8h18m331 0h19m-295 12h19m-74 4h37m184 4h18m111 0h18m-386 4h18m74 0h18m239 0h19m-129 4h55m-184 4h19m220 0h19m-460 4h18m350 0h18m37 0h37m-221 4h18m166 0h18m-110 4h18m74 0h37m-478 4h18m18 0h19m294 0h18m-257 4h37m36 0h19m18 0h37m55 0h18m-165 4h18m221 0h37m-386 4h18m129 0h37m-203 4h19m55 0h37m73 0h19m-129 4h18m19 0h18m74 0h36m55 0h19m18 0h19m55 0h37m-368 4h18m111 0h18m73 0h37m37 0h18m-331 4h19m165 0h37m-92 4h19m91 0h19m-441 4h18m18 0h37m184 0h18m111 0h36m129 0h19m-515 4h18m258 0h18m18 0h19m-368 4h18m19 0h37m110 0h18m19 0h18m18 0h19m55 0h37m18 0h18m92 0h19m-111 4h19m110 0h37m-460 4h19m165 0h19m91 0h19m-276 4h18m221 0h37m92 0h55m-166 4h19m92 0h18m19 0h18m-496 4h36m313 0h18m74 0h18m19 0h18m-496 4h18m239 0h18m55 0h37m74 0h18m19 0h18m-184 4h18m37 0h37m18 0h37m19 0h18m-368 4h19m18 0h18m19 0h18m55 0h19m-147 8h18m129 0h18m18 0h19m37 0h18m37 0h18m-312 4h18m55 4h19m220 0h19m-37 4h18m-349 4h18m147 0h19m184 0h18m-460 4h19m92 0h18m92 0h18m166 0h18m-331 4h19m202 0h37m73 0h19m-478 4h36m55 0h56m73 0h19m91 0h19m-221 4h37m55 0h19m18 0h18m55 0h19m-349 4h55m92 0h18m55 0h19m18 0h18m74 0h18m-423 4h19m147 0h37m92 0h18m18 0h19m128 0h19m-294 4h36m92 0h37m55 0h19m55 0h18m-331 4h37m129 0h18m166 0h18m-662 4h18m295 0h18m-55 4h18m19 0h18m129 4h36m19 0h37m55 0h18m-386 4h37m73 0h19m73 0h19m18 0h18m56 0h36m-165 4h18m-275 4h18m147 0h18m92 0h19m36 0h19m37 0h18m18 0h19m-368 4h18m74 0h37m-19 4h37m-220 4h18m110 0h19m36 0h19m73 0h19m-203 4h19m165 0h19m55 0h18m55 4h19m-111 4h37m-239 8h19m18 0h18m129 0h18m92 0h19m-386 4h55m37 0h18m37 0h18m-220 4h18m18 0h74m55 0h37m-37 4h18m74 0h18m-202 4h18m92 0h19m73 0h19m92 0h18m-74 12h19m-239 20h18m166 4h18m166 8h18m-110 12h18m-368 4h19m55 0h18m19 0h18m294 4h19m-239 20h18m-18 8h36m166 0h18m19 0h18m-18 4h18m-662 12h18m258 0h37m-19 4h19m-313 4h18m-18 4h18m552 0h18m-36 4h18m74 0h18m-368 4h37m-294 8h18m570 0h19m-37 4h18m19 0h18m-331 4h18m239 0h19m-276 4h18m-73 4h18m294 0h19m-331 4h18m111 0h18m147 0h18m-257 4h18m56 0h18m110 0h19m-258 4h19m294 0h18m-37 8h19m-386 4h18m55 0h37m18 0h56m91 0h56m36 0h74m-552 4h56m147 0h18m18 0h56m36 0h19m73 0h19m-258 4h19m18 0h37m73 0h55m19 0h37m92 0h18m-478 4h18m92 0h19m18 0h18m92 0h19m128 0h19m-441 4h36m147 0h19m73 0h19m55 0h37m18 0h18m-312 4h18m55 0h56m36 0h19m18 0h18m74 0h37m-441 4h36m129 0h18m74 0h37m-276 4h37m92 0h18m165 0h19m37 0h18m37 0h55m-662 4h18m19 0h18m55 0h19m18 0h19m147 0h18m18 0h19m18 0h19m18 0h18m-73 4h18m239 0h19"/>
<path stroke="#fde6e6" d="M899 137h18m129 0h18m19 0h18m37 0h55m147 0h18m-367 4h18m74 0h18m202 0h19m18 0h18m-349 4h19m110 0h18m37 0h37m-368 4h18m295 0h55m37 0h18m147 0h18m-422 4h18m-74 4h19m128 0h19m92 0h18m19 0h18m73 0h37m19 0h18m37 0h18m19 0h18m-625 4h18m55 0h19m110 0h18m74 0h37m110 0h18m19 0h18m-312 4h18m18 0h19m18 0h19m239 0h18m18 0h56m-331 4h18m313 0h18m-552 4h19m92 0h18m92 0h18m184 0h19m36 0h19m-589 4h37m74 0h18m74 0h73m19 0h18m129 0h18m55 0h19m18 0h18m-312 4h37m36 0h19m128 0h19m-497 4h19m73 0h37m19 0h36m19 0h18m37 0h18m19 0h18m110 0h19m-442 4h19m73 0h19m18 0h19m91 0h19m92 0h18m55 0h19m55 0h55m-570 4h37m73 0h19m92 0h18m18 0h19m55 0h18m37 0h19m55 0h18m147 0h19m-534 4h37m258 0h18m73 0h19m-349 4h36m74 0h18m19 0h18m18 0h19m92 0h18m18 0h74m37 0h18m-607 4h37m313 0h18m55 0h19m92 0h18m18 0h37m-625 4h18m19 0h18m184 0h18m19 0h18m55 0h37m74 0h18m129 0h18m19 0h18m-129 4h19m-184 4h18m221 0h18m19 0h18m-552 4h19m18 0h19m73 0h37m110 0h19m73 0h18m37 0h19m73 0h19m-497 4h19m220 0h19m91 0h19m55 0h18m-349 4h37m18 0h19m36 0h37m37 0h18m129 0h18m-239 8h19m128 0h19m37 0h18m0 4h18m-73 8h18m-386 4h19m404 20h18m37 0h19m-515 24h18m423 0h18m-147 4h19m128 0h19m-37 4h18m56 8h18m-441 4h18m-92 4h19m110 0h18m276 0h18m-147 4h37m18 0h19m37 0h18m-331 4h18m37 0h37m92 0h18m203 0h18m-202 4h18m18 0h19m73 0h19m-313 4h55m295 0h18m-368 4h19m275 0h19m-129 4h18m92 0h19m-350 4h19m368 0h18m-331 8h18m92 0h19m147 0h18m-257 4h18m166 0h18m-18 4h18m18 0h19m-313 8h19m55 4h18m37 0h18m147 0h19m-276 4h18m19 0h18m92 0h18m56 0h18m-257 4h18m74 0h55m55 0h37m18 0h18m-533 4h19m18 0h18m166 0h37m36 0h19m73 0h19m36 4h19m-184 4h18m111 0h18m18 0h19m18 0h19m55 0h18m-423 4h19m165 0h19m-129 8h18m-92 8h19m165 0h55m55 0h19m18 0h19m-350 4h19m331 0h18m-184 4h19m18 0h37m36 0h37m92 0h19m-478 4h55m275 0h19m18 0h19m55 0h18m19 0h18m-257 4h36m74 4h37m18 0h37m-441 4h18m221 0h36m-275 4h18m221 0h18m73 0h19m18 0h19m-350 4h19m73 0h37m74 0h18m73 0h19m110 0h37m-496 4h18m18 0h19m73 0h19m73 0h37m-257 4h36m184 0h37m221 0h18m-496 4h18m129 0h18m165 0h19m-202 4h18m-129 4h19m55 0h18m74 0h18m147 0h19m-147 4h18m184 0h18m-202 4h18m184 0h19m-239 8h36m74 0h18m92 0h19m-313 4h18m-55 4h19m275 0h19m-441 4h18m460 0h18m-478 4h55m55 0h37m257 0h19m-515 4h18m184 0h19m239 0h55m-423 4h18m166 0h18m-92 4h19m55 0h18m55 0h19m110 0h37m-552 4h19m478 0h18m55 0h19m-460 4h37m36 0h19m55 0h18m19 0h18m239 0h19m-460 4h18m19 0h18m92 0h37m128 0h19m18 0h19m0 4h18m-239 4h18m19 0h18m166 0h55m-423 4h37m73 0h19m36 0h37m-331 4h19m294 0h18m166 0h36m-496 4h18m221 0h18m203 0h55m-423 4h18m203 0h18m129 0h18m18 0h19m37 0h18m-423 4h18m111 0h18m19 0h18m-257 4h18m129 0h18m37 0h18m147 0h19m18 0h18m56 0h18m-368 8h19m312 0h19m-129 4h18m74 0h37m-368 4h18m19 4h18m55 4h37m-147 20h37m294 0h18m-92 4h19m-405 4h19m0 8h36m442 4h18m-386 4h18m-18 12h18m111 0h18m221 0h18m-386 4h18m331 0h37m-515 4h19m110 0h37m0 4h18m55 0h19m220 0h19m-368 4h37m294 0h18m-294 4h18m258 0h18m-129 4h19m-239 8h18m19 0h18m-18 4h18m-294 4h18m258 0h18m276 0h18m-349 4h18m313 0h18m-349 4h18m129 0h18m92 0h19m-258 4h37m313 0h18m-368 4h19m294 0h18m-349 4h55m55 4h19m18 0h18m55 0h37m-257 4h18m0 4h19m294 0h18m-129 8h19m92 0h37m-460 4h18m74 0h18m129 0h18m55 0h19m110 0h19m-570 4h18m313 0h36m74 0h18m-331 4h19m55 0h18m313 0h37m-460 4h18m55 0h19m55 0h18m74 0h18m-165 4h37m18 0h18m56 0h18m55 0h18m111 0h18m-441 4h55m74 0h18m37 0h37m91 0h19m-386 4h18m19 0h18m165 0h19m257 0h19m-313 4h18m129 0h18m-257 4h18m37 0h19m-111 4h19m55 0h18m74 0h18m19 0h18m55 0h18m56 0h18m-404 4h18m147 0h18m74 0h18m-257 4h18m166 0h18m166 0h18m18 0h19m-386 4h18m221 0h36m37 0h19m18 0h18m56 0h18"/>
<path stroke="#fbcccc" d="M880 137h19m220 0h19m165 0h37m18 0h19m37 0h18m18 0h19m-331 4h55m184 0h18m55 0h19m-607 4h37m404 0h37m92 0h74m-607 4h18m74 0h18m92 0h18m184 0h19m128 0h19m18 0h19m-497 4h19m202 0h18m19 0h18m92 0h18m-496 4h18m92 0h19m165 0h37m220 0h19m-589 4h19m92 0h18m74 0h18m405 0h18m-644 4h19m110 0h19m73 0h18m-18 4h37m73 0h37m-129 4h19m73 0h37m55 0h19m55 0h18m19 0h18m-460 4h19m37 0h55m331 0h18m18 0h19m-607 4h18m203 0h18m18 0h19m92 0h18m19 0h36m129 0h18m-551 4h18m294 0h37m92 0h18m92 0h37m19 0h18m-662 4h18m203 0h18m239 0h18m74 0h37m-570 4h18m184 0h18m148 0h36m147 0h19m-607 4h18m19 0h18m184 0h18m56 0h18m92 0h18m184 0h19m-644 4h18m92 0h19m165 0h19m18 0h18m92 0h19m110 0h37m-478 4h18m184 0h18m129 0h18m-386 4h56m55 0h18m18 0h19m55 0h18m92 0h19m128 0h19m18 0h19m-423 4h36m184 0h19m18 0h18m56 0h36m19 0h37m-626 4h37m92 0h19m239 4h18m129 0h18m18 0h37m-625 4h55m74 0h18m110 0h19m73 0h37m74 0h18m-460 4h19m184 0h18m37 0h18m19 0h18m110 0h19m92 0h18m37 0h18m-625 12h18m239 4h19m-276 8h18m552 0h18m0 4h19m-350 4h19m165 0h55m74 0h18m0 12h19m-19 8h19m-92 16h18m55 0h19m-239 4h18m74 0h36m74 0h18m-36 4h18m18 4h19m-497 4h19m110 4h18m74 0h18m19 0h18m202 0h19m-386 8h18m18 0h19m73 0h19m110 0h18m37 0h19m18 0h37m-350 4h19m55 0h37m73 0h19m18 0h18m56 0h18m18 0h19m-386 4h18m18 0h19m55 0h55m-276 4h19m147 0h18m147 0h19m18 0h18m92 0h19m-258 4h19m73 0h37m-368 4h19m128 0h19m73 0h37m55 0h37m74 0h36m56 0h18m-331 4h18m203 0h55m-386 4h55m73 0h19m-221 4h19m73 0h18m111 0h18m37 0h18m129 0h37m-147 4h18m-368 4h19m18 0h19m73 0h18m74 0h37m202 0h18m-367 4h18m18 0h19m129 0h36m92 0h37m-331 4h18m184 0h37m110 0h19m-368 4h18m74 0h37m110 0h18m56 0h18m-460 4h19m18 0h19m422 0h19m-313 4h19m294 0h55m-496 4h36m111 0h18m37 0h18m37 0h18m92 0h19m55 0h18m-423 4h19m-166 4h19m294 0h18m19 0h18m92 0h18m92 0h19m-478 4h36m221 0h18m92 4h19m-460 4h18m56 0h18m129 0h18m184 0h37m-166 4h37m-239 8h18m184 0h19m-221 4h37m349 0h18m-183 4h18m92 4h37m55 0h18m19 0h18m-478 8h18m313 0h18m-110 4h18m-275 4h18m92 0h18m202 4h19m110 4h19m-460 4h18m203 4h18m-257 4h36m129 0h18m258 0h18m19 0h18m-276 8h19m91 0h56m55 0h18m19 0h18m-460 4h19m275 0h37m-367 4h36m0 4h19m184 0h18m110 0h19m-368 4h37m165 0h19m18 0h18m74 0h18m19 0h18m55 0h19m-460 4h37m165 0h19m18 0h18m-165 4h18m111 0h36m-386 4h19m202 0h18m92 0h37m184 0h18m0 4h19m-478 4h18m294 0h18m56 0h18m55 0h19m-313 4h18m147 0h37m37 0h37m-368 4h18m350 0h18m-331 4h19m257 0h18m37 0h19m-589 4h19m18 0h18m221 0h18m19 0h18m37 0h18m129 0h18m19 0h18m-331 4h19m73 0h55m-275 4h18m129 0h36m37 0h19m147 0h18m18 0h19m-515 4h18m166 0h18m19 0h18m-276 4h37m184 0h18m129 0h18m-55 4h19m91 0h19m110 0h19m-423 4h18m18 0h19m110 0h19m165 0h18m-514 4h36m74 0h37m55 0h18m202 0h19m110 0h19m-478 4h18m92 0h18m239 0h19m73 0h37m-166 4h19m92 0h18m-92 4h19m-368 8h37m294 0h37m-386 4h55m202 0h18m-275 4h18m92 0h18m-128 4h55m404 0h37m-496 8h18m441 0h19m-331 4h18m55 0h19m18 0h18m74 4h18m-331 4h19m-55 4h36m92 4h19m92 0h36m166 0h18m19 0h18m-349 4h18m165 0h19m18 0h19m-258 4h37m294 0h19m0 4h18m-368 4h37m165 0h19m18 0h19m-258 4h37m294 0h19m-258 4h19m18 0h18m166 0h18m19 4h18m-386 4h37m220 0h19m-239 4h18m184 0h18m92 0h19m0 4h18m-496 4h18m92 0h55m202 0h19m-239 4h18m276 0h18m-441 4h18m184 0h19m91 0h19m110 0h19m-350 4h19m110 0h18m166 0h18m19 0h18m-166 8h37m92 0h19m-239 4h18m73 0h19m92 0h37m-368 4h18m111 0h36m55 0h19m92 0h18m19 4h18m-496 4h36m184 0h19m18 0h18m55 0h19m110 0h19m-111 4h19m55 0h37m-331 4h18m202 0h19m-386 4h18m129 0h18m294 0h19m-258 4h19m202 0h37m-478 4h18m18 0h19m147 0h18m202 0h19m37 0h18m-496 4h18m18 0h19m92 0h18m74 0h18m-147 4h18m92 0h19m128 0h19m-386 4h36m111 0h18m202 0h19m-386 4h18m368 0h18m-368 4h19m202 0h18m55 0h37m92 0h37m-257 4h18m147 0h18m-441 4h19m202 0h18m74 4h18m-257 4h18m92 0h18m56 0h18m-129 4h19m36 0h19m92 0h18m110 0h19m-258 4h37m19 0h18m18 0h55m-330 4h18m18 0h19m-55 4h36m129 0h18m37 0h37m18 0h19m92 0h18m18 0h19"/>
<path stroke="#f9b2b2" d="M862 137h18m92 0h19m220 0h19m202 0h18m19 0h37m-607 4h18m184 0h37m55 0h37m92 0h18m-110 4h18m92 0h18m-386 4h19m349 0h18m-386 4h37m37 0h18m55 0h19m18 0h74m73 0h37m18 0h19m-515 4h18m203 0h18m74 0h18m110 4h19m165 0h19m-184 4h36m-459 4h18m221 0h18m313 0h37m-184 4h36m74 0h18m-441 4h19m275 0h19m-442 4h19m73 0h19m18 0h19m220 0h19m147 0h18m37 0h55m-662 4h18m239 0h19m294 0h18m37 0h19m-37 4h37m-515 4h18m423 0h18m56 0h18m-515 4h19m55 0h18m37 0h18m37 0h18m19 0h37m36 0h37m37 0h110m-478 4h19m91 0h19m349 0h37m-515 4h19m183 0h19m-350 4h19m-37 4h37m73 0h19m515 0h18m-533 4h18m74 0h18m18 0h19m73 0h19m73 0h19m18 0h18m92 0h19m-607 4h18m442 0h18m92 0h18m56 0h18m-423 4h18m221 0h18m111 0h55m-662 4h18m19 0h18m55 0h37m184 0h18m111 0h18m-239 4h18m184 0h19m-350 4h37m221 0h18m184 0h18m-570 4h19m202 0h18m74 0h18m92 0h19m92 0h18m18 0h19m-460 4h19m55 0h18m313 0h18m-552 8h37m55 0h19m239 0h18m-386 4h18m552 0h18m-441 4h19m55 0h18m313 0h18m-129 4h19m-423 4h18m202 0h19m276 4h18m-460 4h19m239 0h18m166 4h18m-331 4h18m92 0h19m-350 4h19m92 0h37m202 0h18m184 0h18m-110 4h18m56 0h18m18 0h19m-368 4h18m-257 4h37m515 0h18m-552 4h19m110 0h19m73 0h18m111 4h18m55 0h19m18 0h18m56 0h18m-441 4h18m-147 4h18m239 0h19m202 0h18m56 0h36m-459 4h18m441 0h19m-478 4h18m184 0h18m19 0h18m-239 4h19m294 0h18m92 0h18m-478 4h56m404 0h18m-570 4h19m92 0h37m73 0h37m73 0h37m74 0h18m74 0h18m-423 8h19m165 0h18m276 0h19m-497 4h19m55 0h18m202 0h55m-367 4h37m165 0h18m19 0h18m55 0h19m18 0h18m56 0h18m-460 4h37m74 0h18m-110 4h18m202 0h19m-239 4h18m92 4h18m74 0h18m19 0h18m55 0h19m-331 4h37m183 0h19m18 0h19m73 0h18m19 0h18m37 0h18m-367 4h18m221 0h18m-349 4h18m74 0h18m110 0h19m202 0h18m-514 4h36m166 0h18m202 4h19m-349 4h36m203 8h18m-221 8h19m184 0h36m-275 4h18m239 0h18m-55 16h19m18 0h18m74 0h18m-331 4h19m404 0h19m-478 4h55m-19 4h19m-37 8h18m221 0h18m-18 4h18m92 0h19m-350 8h19m202 4h18m74 4h18m92 0h19m-478 12h18m18 4h19m386 0h18m-441 4h18m184 0h19m110 0h18m-367 4h18m312 0h19m18 0h19m18 0h18m56 0h18m-257 4h18m-257 4h18m202 0h19m202 0h18m19 0h18m-588 4h18m74 0h18m312 0h19m-460 4h19m128 0h19m55 0h18m19 0h18m18 0h19m37 0h18m92 0h37m55 0h18m19 0h18m-478 4h37m55 0h18m19 0h18m74 0h18m92 0h37m92 0h18m-478 4h37m73 0h19m220 0h19m55 0h18m19 0h18m-386 4h18m111 0h18m147 0h18m-533 4h19m18 0h18m56 0h18m18 0h19m55 0h18m129 0h18m147 0h37m19 0h18m-588 4h18m110 0h19m73 0h19m36 0h19m-276 4h18m74 0h37m55 0h18m239 0h19m-276 4h18m111 0h18m73 0h19m55 0h18m-386 4h19m165 0h37m221 0h18m-478 4h37m73 0h19m202 0h18m-478 4h19m18 0h18m423 0h19m55 0h18m-570 4h19m18 0h18m405 0h18m19 0h18m18 0h19m-552 4h19m220 0h19m110 0h18m166 0h18m-423 4h19m73 0h37m184 0h18m-257 4h18m19 0h18m55 0h19m18 0h18m74 0h37m-368 4h18m74 8h37m294 0h37m-350 4h19m-129 4h18m111 0h18m-165 8h18m18 0h19m55 0h55m276 0h18m-441 4h18m-36 4h18m18 0h19m-37 4h37m55 0h37m110 0h18m55 0h19m129 0h18m-349 4h18m-129 4h19m165 0h19m202 0h55m-276 4h19m110 0h18m92 0h19m-442 4h19m55 0h37m202 0h18m-367 4h55m275 0h19m92 0h18m19 0h18m-478 4h37m92 0h18m294 0h19m-258 8h19m91 0h56m55 0h18m-441 4h37m73 0h37m-239 4h18m203 0h18m276 0h18m-441 4h18m313 0h18m-128 4h36m-275 4h18m92 0h37m92 0h36m55 0h19m110 0h19m-258 4h19m18 0h18m74 0h18m74 0h55m-18 4h18m-460 4h19m184 0h36m74 0h37m-166 4h19m-129 4h18m92 0h55m184 0h19m-350 4h37m55 8h19m110 0h37m73 0h19m-368 4h18m19 0h18m55 0h37m-221 4h19m184 0h18m110 0h19m-258 4h19m92 0h18m221 0h18m-166 4h19m110 0h19m-239 4h36m55 0h19m129 0h18m-239 4h18m74 0h18m-349 4h18m111 0h18m55 0h19m-19 4h19m128 0h19m92 0h18m-496 4h36m111 0h18m165 0h19m92 0h55m-368 4h19m-111 4h19m-55 4h36m258 0h18m-312 4h18m73 0h19m147 0h18m111 0h18m18 0h19m-74 4h19m-350 8h19m202 0h18m19 0h18m-92 8h19"/>
<path stroke="#f79999" d="M991 137h37m202 0h18m258 0h18m-644 4h19m331 0h18m-386 12h55m184 0h18m19 0h18m184 0h18m111 0h18m19 0h18m-110 8h18m37 0h18m-625 4h18m92 0h37m184 0h55m55 0h19m-460 4h37m110 0h19m275 0h19m-221 4h18m92 4h19m-239 4h18m313 0h18m110 0h19m-368 4h18m74 0h18m111 0h18m74 0h18m-110 4h18m-331 4h19m386 0h18m37 0h18m-368 4h19m202 0h18m-478 4h19m92 0h18m313 4h18m74 4h36m-551 4h18m74 0h18m313 0h18m110 0h19m-497 4h19m110 0h18m203 0h18m-460 4h19m239 0h37m18 4h18m129 4h18m-459 4h18m294 0h37m92 0h18m-349 4h19m55 0h36m74 0h18m92 0h19m128 0h19m-570 4h18m55 0h56m55 0h18m110 0h37m-368 4h19m294 0h37m-350 4h37m74 0h18m74 0h18m331 0h18m-367 4h55m55 0h37m92 0h18m-460 4h19m92 0h37m73 0h18m184 0h19m18 0h18m-386 4h37m92 0h18m74 0h55m-129 4h19m294 0h18m-570 4h19m404 0h19m18 0h18m56 0h18m-533 4h18m166 0h18m-92 4h19m73 0h18m74 0h18m-128 12h18m110 0h19m92 0h18m110 0h19m-607 4h18m203 0h36m184 0h37m-460 4h19m110 0h19m55 0h18m18 0h19m92 0h18m-349 4h18m166 0h55m-239 4h18m55 0h37m74 0h18m18 0h19m312 0h19m-497 4h19m18 0h19m294 0h18m92 0h18m-441 4h19m386 0h18m18 0h19m-589 4h37m386 0h19m-239 4h36m221 0h18m-386 4h19m-19 4h37m294 4h19m-239 4h18m331 0h18m-257 4h18m19 0h18m-257 4h18m74 0h18m-110 4h18m221 0h18m-276 4h19m331 0h18m92 0h37m-350 4h19m276 0h18m-313 8h19m202 0h18m-367 4h18m202 0h19m202 0h37m-497 4h19m92 0h18m18 0h19m55 0h18m19 0h18m55 4h19m-405 8h19m128 4h19m-147 8h18m552 0h18m-276 12h19m-221 4h18m203 8h18m-257 12h18m312 0h19m-129 8h19m110 12h18m-128 16h18m-221 8h19m-37 4h18m221 8h18m-36 4h18m184 0h18m-551 8h18m404 0h19m-331 4h37m294 0h18m92 0h19m-570 4h36m313 0h18m-367 4h36m276 0h19m91 0h19m92 0h18m-551 4h18m74 0h18m92 0h18m19 4h18m165 0h37m19 0h18m-496 4h18m221 0h18m55 0h37m129 0h18m-404 4h36m111 0h18m55 0h19m110 0h18m111 0h18m-607 4h37m221 0h18m276 0h18m19 0h18m-570 4h18m313 0h18m74 0h37m-478 4h18m74 0h36m221 0h18m55 0h19m92 0h37m-478 4h18m349 0h19m-37 4h18m-459 4h18m74 0h18m110 0h37m165 0h19m-129 4h37m-37 4h19m91 0h19m92 0h18m-459 4h55m-55 4h18m92 0h18m19 0h18m313 0h18m-478 4h18m92 0h37m74 0h18m73 0h37m74 0h37m-478 4h18m460 0h18m-349 4h18m165 0h19m92 0h18m-331 4h19m202 0h37m55 0h37m-350 4h19m110 0h18m166 0h18m-220 4h18m73 0h19m110 0h37m-368 4h37m165 0h19m92 0h18m19 0h18m-478 4h18m-36 4h18m221 0h18m184 0h18m-441 4h18m74 0h37m73 0h19m18 0h18m166 0h55m-368 4h37m184 0h37m-386 8h36m203 0h18m184 0h18m-239 4h19m18 0h18m74 0h18m-128 4h36m166 0h18m-459 4h18m92 0h18m129 0h18m-18 4h18m-275 4h18m312 0h19m18 0h19m-147 4h36m55 0h19m-313 4h19m275 0h19m-129 4h19m91 0h19m18 0h19m-368 4h18m111 0h18m202 0h19m-368 4h37m184 0h18m202 4h19m-478 4h18m423 0h18m19 0h18m-496 4h36m74 0h18m111 0h18m73 0h56m-56 4h37m111 0h18m-239 4h18m-257 4h37m294 0h18m111 0h18m-166 8h19m0 4h18m-257 4h18m19 0h18m55 4h19m-221 4h37m165 0h19m110 0h37m-56 4h19m18 0h19m92 0h18m-368 4h19m110 0h18m-239 8h19m165 4h55m55 0h19m-349 24h36m0 16h19"/>
<path stroke="#f58080" d="M1009 149h19m404 4h18m37 0h19m-405 4h18m184 0h55m74 4h37m-478 8h18m313 0h36m-165 8h18m129 0h18m-459 4h18m423 0h18m-147 16h19m-331 4h18m92 12h19m-129 8h18m258 0h18m-221 12h37m74 0h18m18 0h19m55 0h18m111 4h18m-221 4h19m202 0h18m-496 4h18m92 0h37m294 0h55m74 0h37m-607 4h18m92 0h19m18 0h19m183 0h19m184 0h18m18 0h19m-166 4h19m-350 4h19m128 0h19m73 0h19m92 0h18m74 0h18m18 4h19m-386 4h36m-257 4h18m203 0h36m74 0h18m111 0h18m92 0h37m-607 4h18m92 0h56m73 0h18m92 0h37m55 0h19m-239 4h18m18 0h19m73 0h19m202 0h18m-551 4h18m55 0h37m110 0h19m55 0h18m129 0h18m148 0h18m-515 4h19m55 0h18m18 0h19m92 0h18m74 0h18m-478 4h18m92 0h19m128 0h19m55 0h18m92 0h19m92 0h18m-552 4h19m312 4h19m73 0h55m-367 4h18m37 4h37m128 0h37m-386 4h37m92 0h18m92 0h18m74 0h18m-312 4h18m184 0h18m221 0h18m74 0h18m-478 4h56m294 0h18m-478 4h18m19 0h18m55 0h19m312 0h19m92 0h18m-552 4h19m110 0h19m73 0h18m-18 8h18m221 0h18m-478 8h19m202 0h37m202 0h18m-257 4h18m-147 4h19m220 0h19m-258 12h19m18 0h19m275 0h19m-19 4h19m-350 4h19m331 0h36m56 4h18m-423 4h19m-166 4h55m497 8h18m18 0h19m-423 44h18m-18 44h18m-36 12h18m312 0h19m0 12h37m73 0h19m0 4h18m-368 4h19m-258 4h19m349 0h18m-349 4h18m203 0h18m55 0h55m-386 4h55m276 0h19m18 0h18m92 0h19m-147 8h18m73 0h19m18 0h19m73 0h19m-478 4h18m441 0h19m-111 8h19m-166 4h19m-331 4h18m184 4h18m239 0h19m55 0h55m-478 8h18m203 0h18m-18 4h18m-221 4h19m73 0h19m110 0h18m-239 4h19m312 0h19m92 0h18m-276 4h19m91 0h19m-239 4h18m239 0h19m-350 4h19m165 0h37m-37 4h37m-239 4h18m184 0h19m110 0h18m-331 4h19m55 0h18m92 0h55m-36 4h18m-110 4h18m55 0h19m220 0h19m-478 4h18m221 0h18m92 0h37m-129 4h18m55 0h19m-19 4h19m-129 4h19m73 0h18m-91 4h18m-239 8h37m165 0h37m92 0h18m-18 8h18m-147 4h19m110 0h37m73 0h19m-478 4h18m18 4h19m-19 4h19m294 0h18m-331 16h19m312 4h19m-478 4h18m313 0h18m-257 4h18m-18 4h18m331 4h37m-368 8h18m203 4h18m92 0h18m-367 8h18m-92 12h18m184 0h19"/>
<path stroke="#f36666" d="M1193 137h18m-349 4h18m442 8h18m-257 4h18m313 0h18m18 0h19m-570 12h18m55 4h19m239 8h18m-386 56h37m-19 4h19m441 0h18m-36 4h18m-441 4h18m184 0h18m-18 4h37m55 0h18m19 0h18m74 0h18m0 4h18m-165 4h18m19 0h18m-368 4h19m0 4h18m276 0h18m19 0h18m74 0h36m92 0h19m-460 4h19m202 0h18m-368 4h19m220 0h19m18 0h19m147 0h18m-460 4h19m404 0h19m18 0h18m-496 4h37m312 0h19m92 0h18m92 0h18m-588 4h37m73 0h37m184 0h18m129 0h18m74 0h18m-551 4h18m184 0h18m221 0h18m-459 4h18m74 0h18m110 0h19m55 0h18m19 0h18m-386 4h18m92 0h19m202 0h18m-239 4h19m-129 4h18m313 0h18m111 0h18m-257 4h18m18 0h19m-258 4h19m184 0h18m18 0h19m165 0h19m-442 8h19m220 0h19m55 0h18m19 0h18m74 0h18m-441 4h18m-18 8h18m-55 4h18m19 0h18m-55 4h18m19 0h18m-55 4h37m202 4h18m-239 4h37m-55 12h37m423 0h18m-331 4h19m-56 8h19m128 0h19m-74 36h19m36 12h19m294 36h18m0 4h19m-221 44h19m239 12h18m-294 4h18m-110 4h18m-55 8h18m258 4h18m-37 4h19m-331 8h37m294 4h18m-110 4h18m-55 8h37m-257 4h18m239 4h18m184 4h37m-239 4h18m55 0h19m-294 4h18m18 0h19m220 0h37m-110 4h18m92 0h19m-37 4h37m-56 4h37m-37 8h19m-239 4h18m111 0h18m-276 8h19m0 8h18m92 0h37m183 0h19m-441 20h18m74 4h36m-36 12h18m202 16h19m-221 8h18m0 4h19m-166 4h19m-19 4h55m56 0h18m-18 4h36m221 0h18m-367 8h18m92 0h18m-128 4h18m184 0h18m221 4h18m-478 4h19m-19 24h37m-37 4h19m0 4h36m-36 12h36"/>
<path stroke="#f14c4c" d="M1083 145h18m202 36h19m184 8h18m-18 8h18m-92 8h18m0 24h19m-147 4h18m-478 4h18m19 0h18m202 0h19m92 8h18m55 4h19m-239 8h18m-239 4h18m0 4h19m73 0h56m386 0h18m-460 4h19m184 0h18m18 0h19m-368 8h18m19 0h18m405 0h18m74 0h18m-423 4h19m55 0h18m129 0h18m55 0h19m147 0h18m-588 4h18m386 0h19m92 0h18m18 0h19m-497 8h19m220 0h19m202 0h18m-422 12h18m294 0h18m-459 4h18m-55 4h18m442 0h18m-129 8h19m-368 4h18m19 4h18m-55 4h18m19 12h18m-37 4h19m-37 4h18m0 4h19m-37 4h55m-55 16h55m74 0h18m-55 28h18m423 8h19m18 44h18m-165 4h18m111 0h18m-257 44h18m202 0h19m-295 32h19m-221 28h55m-18 4h18m313 4h18m-386 4h37m313 0h18m-349 4h18m-18 4h36m534 0h18m-607 4h19m165 0h18m-165 8h18m-18 4h18m423 0h19m73 0h19m-570 4h18m441 12h19m-478 4h18m331 0h18m74 8h18m-478 8h37m0 4h18m56 4h36m-147 4h19m18 0h18m74 16h37m-37 12h37m-19 4h19m312 0h19m-350 8h19m-147 8h18m110 8h19m-166 4h19m128 4h19m-166 4h19m18 12h18m19 0h18m-92 4h19m18 0h18m386 12h19m-423 4h18m-18 4h18m-55 4h19m0 4h18m-37 4h37m-37 4h19"/>
<path stroke="#ef3333" d="M1156 169h19m239 0h18m-349 52h18m-92 12h19m367 12h19m-515 16h18m74 8h18m147 0h19m165 4h18m-367 4h18m441 0h19m-368 4h18m-110 12h19m275 12h19m-460 24h37m184 12h18m-239 8h18m19 0h18m-55 8h18m19 0h18m-18 8h18m-18 4h18m-55 4h37m73 20h19m18 0h19m349 0h37m-478 12h18m368 8h18m-386 16h18m-55 4h55m258 0h18m19 4h36m-349 8h18m276 4h19m-350 8h19m478 0h18m18 0h19m-533 8h18m-37 8h37m-18 8h18m-37 16h37m496 24h19m0 24h55m-607 16h37m552 4h18m-607 4h19m-19 4h55m276 0h19m-313 4h18m-55 4h19m-19 4h19m18 4h18m203 0h18m-276 4h19m18 0h18m-55 4h37m-18 4h18m-37 4h19m18 0h18m-55 8h19m18 0h18m-55 4h55m-18 4h18m423 4h19m-460 4h18m423 0h19m-497 4h19m18 4h18m-55 4h19m-19 4h37m110 0h19m-166 8h55m-36 4h36m-36 4h18m-37 4h37m-18 4h36m-55 4h55m56 4h18m110 0h19m-258 4h19m92 0h36m-128 4h36m-36 4h36m-55 4h19m110 0h18m-110 4h18m92 4h19m-147 4h18m-18 4h36m-55 4h19m18 0h18m-18 4h18m-55 4h19m18 0h18m-36 12h18m-18 4h18m-18 4h36m-55 4h19m441 0h18m-459 8h18m-37 8h19m18 0h18m-18 4h18"/>
<path stroke="#ed1919" d="M1450 169h19m-239 24h18m-92 4h19m165 52h18m-147 16h19m147 4h18m-496 28h18m-37 36h19m423 24h18m-478 12h18m19 4h18m294 20h37m-294 8h18m-55 4h19m-19 4h37m92 0h18m368 0h18m-533 4h37m-37 4h55m-55 4h19m-19 4h37m-37 4h19m257 4h37m18 4h19m-350 4h55m-55 4h37m-37 4h19m0 8h36m-55 4h55m-55 4h19m18 0h18m-55 4h55m442 0h18m-478 4h18m-55 4h37m0 4h18m-36 4h36m-55 4h19m18 0h18m-36 4h18m349 0h19m-368 4h18m295 48h18m-331 16h18m-36 8h18m0 12h18m405 0h18m-459 8h18m441 0h19m-478 4h18m-37 8h19m18 8h18m-36 4h18m-37 8h19m-19 4h19m18 0h18m-55 4h37m0 4h18m56 4h55m-147 4h18m18 0h19m-74 16h19m312 0h19m-313 4h18m-18 4h18m-55 4h19m18 12h18m239 0h19m-313 4h19m-19 4h19m0 4h36m56 0h18m239 0h18m-349 12h18m-36 16h18m-18 8h18m-37 8h19m-19 4h19m0 4h36"/>
<path stroke="#eb0000" d="M1432 169h18m-588 96h18m331 44h19m-350 60h19m18 32h37m0 12h18m-36 8h36m-18 4h18m-36 4h18m-37 8h55m-36 12h36m-55 4h55m-18 24h18m-55 4h19m-19 4h19m0 4h18m-37 4h19m18 0h18m-55 116h37m-18 16h18m-18 8h18m-37 28h19m-19 16h55m-55 28h19m-19 24h19m18 8h18"/>
</g>
<g stroke-width="4" fill="none" filter="url(#hb)">
<path stroke="#0000e9" d="M1742 297h18m513 12h37m-37 16h37m-165 12h18m110 0h37m-128 12h18m55 0h18m-18 4h18m19 0h18m-238 4h18m165 0h37m-37 8h55m-165 4h18m19 0h18m73 0h19m-147 8h18m19 0h18m-128 12h18m183 0h19m-147 4h18m92 0h18m-18 8h18m19 0h18m-55 4h18m-128 8h18m19 0h18m-128 4h18m165 0h18m-18 4h18m-201 4h18m165 0h37m-110 4h18m55 0h55m-55 4h18m19 0h18m-128 16h18m-128 8h18m55 0h18m129 0h18m-165 4h18m129 0h18m-165 8h18m92 0h18m-91 8h18m73 8h37m-128 8h18m55 0h55m-37 4h19m-147 8h18m19 0h18m55 0h18m-91 4h18m92 4h18m-128 4h18m55 8h55m-165 4h18m110 8h19m-19 8h19m-37 4h55m-37 4h37m-18 12h18m-55 4h55m-18 4h18m-165 12h18m19 0h18m55 0h37m0 8h18m-55 4h18m-18 4h55m-18 4h18m-55 8h18m19 4h18m-55 4h18m19 0h18m-55 16h55m-55 8h18m19 0h18m-55 4h18m19 0h18m-18 12h18m-55 4h37m0 4h18m-37 36h19m-495 48h18"/>
<path stroke="#1919eb" d="M1888 141h19m-92 32h18m275 4h37m0 48h18m-128 52h18m-348 20h37m495 4h18m0 4h37m-110 4h18m55 0h18m-18 8h55m-37 4h37m-55 4h18m-18 4h55m-238 4h18m55 0h18m19 0h18m-18 4h18m55 0h18m-201 4h18m92 0h18m55 0h37m-220 8h18m55 0h18m110 0h37m-165 4h18m19 0h18m73 0h19m0 4h18m-238 8h18m55 0h18m-128 4h37m183 0h18m19 0h18m-165 4h18m110 0h19m-220 4h18m202 0h18m-238 4h18m55 0h18m92 0h37m-495 4h18m330 0h18m19 0h18m55 0h18m19 0h18m-165 4h18m92 0h18m19 0h18m-128 4h18m73 0h37m-238 4h18m55 0h18m19 0h18m55 0h55m-165 4h18m19 0h18m73 0h19m-642 4h18m19 0h18m568 0h37m-238 4h18m92 0h18m73 0h19m-37 4h18m-128 4h18m110 0h37m-165 4h18m110 0h37m-165 4h18m19 0h18m92 0h18m-165 4h18m-91 4h18m92 0h18m55 4h37m-19 4h19m-110 4h18m-128 4h18m55 0h18m-146 4h18m110 0h18m19 0h18m55 0h18m-91 4h18m55 0h37m-110 4h18m55 0h37m-110 4h18m55 0h18m19 0h18m-238 4h18m92 0h18m73 0h37m-238 4h18m165 0h55m-37 4h19m-110 4h18m-55 4h18m19 0h18m55 0h18m-128 4h18m19 0h18m55 0h37m-147 4h18m19 4h18m55 0h18m19 0h18m-165 4h18m19 0h18m55 0h18m19 4h18m-165 4h18m92 0h55m-165 4h18m19 0h18m55 0h37m-147 4h18m92 0h37m-147 4h18m19 0h18m55 0h18m-91 4h18m-128 4h18m92 0h18m55 4h55m-55 4h18m19 0h18m-55 4h55m-128 4h18m92 0h18m-128 8h18m55 0h18m-91 4h18m55 0h37m-37 8h37m-110 8h18m55 0h37m-37 4h18m19 0h18m-55 4h55m-18 4h18m-37 4h37m-165 4h18m19 0h18m55 0h18m0 4h37m-55 8h18m-18 4h18m-91 4h18m73 0h37m-128 8h18m73 0h19m-37 4h37m0 4h18m-275 4h18m202 0h18m-91 4h18m55 4h55m-37 8h19m-19 4h19m-37 8h37m0 4h18m-37 4h19m-37 4h18m19 0h18m-18 16h18m-55 16h18m0 44h37m-550 4h18m477 16h18"/>
<path stroke="#3333ed" d="M2108 173h19m-459 40h19m476 24h19m36 52h19m18 12h18m19 0h18m-18 4h18m-37 8h19m-37 8h18m-146 4h18m110 8h55m-238 4h18m55 4h18m129 0h18m-165 4h18m19 0h18m55 0h18m19 0h18m-165 12h18m19 0h18m-495 4h18m422 0h18m92 0h55m-128 4h18m-128 4h18m165 4h18m19 0h18m-55 4h37m-110 4h18m92 0h18m-128 8h18m-128 4h18m-422 12h19m385 0h18m55 4h18m92 0h18m19 0h18m-238 4h18m202 0h18m-128 4h18m-18 4h18m-128 8h18m55 4h18m-91 4h18m55 0h18m19 0h18m92 0h18m-165 4h18m92 0h18m19 0h18m-238 4h18m55 0h18m110 0h19m-37 4h18m19 0h18m-147 8h19m-110 4h18m55 4h18m110 0h19m-147 8h18m-18 4h18m92 0h18m19 0h18m-165 4h18m92 0h55m-238 8h18m202 0h18m-238 8h18m183 4h37m-238 4h18m183 0h19m-330 4h18m92 0h18m183 12h37m-37 8h37m-128 4h18m-18 4h18m55 8h18m-311 4h18m92 0h18m-18 4h18m55 4h18m129 0h18m-55 4h55m-238 4h18m-18 8h18m55 0h18m110 4h19m-532 8h18m19 0h18m367 4h18m55 0h18m0 4h19m-110 8h18m-18 4h18m73 0h19m-19 4h37m-238 8h18m165 0h37m-147 4h18m129 4h18m-238 4h18m165 0h37m-110 4h18m18 0h19m36 0h19m-37 20h18m19 0h18m-37 4h37m-440 4h18m367 8h18m0 4h19m-257 16h37m220 16h18m-55 4h18m-458 4h18m440 4h19m-37 12h18m19 0h18m-110 16h18m37 8h18m0 12h19m-19 4h37"/>
<path stroke="#4c4cf0" d="M1687 165h18m-55 8h18m459 12h18m55 0h37m-367 24h18m294 16h18m-513 20h18m403 4h19m-459 4h19m18 0h18m-73 4h18m495 12h19m-129 8h37m-220 16h55m0 4h18m165 0h19m146 4h19m-37 12h18m19 0h18m-605 8h37m0 4h18m422 4h18m73 16h19m-220 8h18m-18 8h18m92 0h18m-128 12h18m-18 12h18m183 0h19m-129 12h19m-37 8h18m19 0h18m18 8h37m18 0h19m-220 28h18m92 0h18m55 4h18m19 0h18m-37 4h19m-220 4h18m202 0h18m-238 12h18m-18 12h18m-18 4h18m55 16h18m0 4h19m-110 12h18m-18 4h18m-55 4h18m19 0h18m165 8h18m-201 4h18m55 0h18m-18 4h18m-18 4h18m-91 4h18m55 0h18m-18 4h18m-18 4h18m-91 8h18m55 8h18m19 0h18m-55 8h18m19 0h18m-532 8h19m91 0h19m275 0h18m-18 4h18m55 0h18m-18 8h18m19 0h18m-55 4h18m-91 4h18m55 0h18m-18 4h37m-37 4h18m19 4h18m-55 8h18m19 4h18m-147 4h37m55 0h18m74 0h18m-110 4h18m92 20h18m-201 24h18m165 0h37m-477 8h18m422 0h37m-624 8h19m586 12h37m-238 4h18m165 4h18m-18 4h18m19 0h18m-385 4h18m19 0h18m165 0h18m92 0h18m19 0h18m-477 4h19m183 0h18m129 0h18m73 0h19m-37 4h18m-550 4h19m513 0h18m0 4h37m-18 4h18m-55 4h18m-18 16h18"/>
<path stroke="#6666f2" d="M2218 173h19m0 8h18m-568 4h18m403 0h19m73 8h18m-311 16h18m165 4h18m-220 16h19m73 8h18m-348 8h37m440 4h18m-495 4h18m55 0h19m-55 4h18m495 0h18m-73 12h18m19 0h18m-238 28h18m-37 4h19m220 0h18m-18 12h18m-18 8h18m-477 4h19m330 20h18m-55 44h18m19 12h18m-18 20h18m-220 40h18m275 12h19m-110 12h18m-18 8h18m-18 8h18m-18 24h18m-128 8h18m202 8h18m-55 20h18m19 0h18m-18 4h18m-18 16h18m-220 4h18m19 0h18m92 4h18m-73 8h18m92 12h18m-55 8h18m-91 4h18m92 4h18m-55 4h18m-458 4h18m440 20h19m-37 20h18m110 4h19m-330 4h18m312 0h18m-55 4h18m-421 4h18m202 0h18m183 4h19m-459 4h19m110 0h18m275 4h18m-440 4h37m-37 4h19m110 4h18m293 0h37m-495 4h18m92 0h37m73 0h55m202 0h18m-458 8h18m73 0h19m-147 4h18m19 0h18m183 0h37m-293 8h18m37 4h18m385 0h18m-18 4h18"/>
<path stroke="#8080f4" d="M1870 137h18m165 0h19m128 0h18m-476 16h18m-92 8h19m-37 4h18m19 8h18m128 0h19m385 0h18m-568 4h18m183 0h19m293 0h37m-587 8h37m55 0h18m220 0h18m92 0h18m129 0h18m-18 4h18m-367 20h19m330 0h18m-513 4h18m440 0h18m-550 4h19m201 0h19m-184 8h19m238 0h18m220 0h19m-550 4h18m165 0h18m19 0h18m293 0h19m-19 4h19m-569 8h19m403 0h37m91 0h19m-349 4h19m183 4h18m92 0h37m-550 4h18m37 0h18m-92 4h19m36 0h19m495 0h18m-367 4h19m183 0h18m19 0h18m55 4h18m19 0h18m-587 8h19m403 0h18m-201 12h18m220 16h18m-183 4h18m184 0h18m-532 4h19m458 0h18m-91 4h18m-440 12h18m239 0h18m147 4h18m-37 8h19m-19 20h19m128 56h18m55 40h19m-129 24h19m-19 16h19m-110 44h18m92 12h18m-55 16h18m-91 4h18m73 4h19m-110 4h18m55 4h18m-146 8h18m128 0h19m-110 4h18m-18 8h18m-18 12h18m-18 24h18m73 8h19m-19 4h37m-257 4h37m165 0h18m-91 8h18m-55 16h18m202 0h18m19 0h18m-495 4h55m73 0h19m330 4h18m-477 4h19m110 0h18m-37 4h37m92 0h18m165 0h18m19 0h18m-458 4h18m202 0h18m165 0h18m19 0h18m-495 4h18m19 0h18m403 0h37m-385 4h18m239 4h18m-367 4h37m55 0h37m293 0h18m-440 4h37m-18 4h18m202 0h18m-275 4h37m73 4h37m311 4h19m-19 4h37m-37 16h37m-37 4h37m-55 4h55m-18 4h18"/>
<path stroke="#9999f6" d="M1650 137h37m201 0h37m92 0h18m183 0h19m-514 4h19m0 4h18m458 0h19m-587 8h37m18 0h37m146 0h19m293 0h55m-37 4h19m-532 4h18m147 0h55m202 0h18m73 0h19m-37 4h18m-495 8h19m18 0h18m422 0h18m-568 4h18m55 0h19m165 0h18m312 0h18m-458 4h18m92 0h18m-202 4h19m165 0h18m73 0h19m-147 4h18m202 0h55m73 0h19m-550 4h18m422 0h18m73 0h19m-495 4h18m348 0h19m73 0h18m0 4h19m-532 4h55m-110 8h18m19 0h18m18 0h19m366 0h19m91 0h37m-568 4h18m18 0h19m128 0h18m19 0h18m-55 4h55m-220 4h18m184 0h18m275 0h18m19 4h18m-587 4h19m18 0h18m367 0h18m92 0h18m-128 4h37m91 0h37m-568 4h18m55 0h18m37 0h18m19 0h18m18 0h19m220 0h18m55 0h18m-568 8h37m531 16h19m-587 4h18m202 0h37m91 0h19m91 0h19m-477 4h18m19 0h73m458 0h19m-569 4h19m55 0h73m73 0h19m-165 8h18m128 0h19m-147 4h18m202 0h18m92 0h18m129 0h18m-183 16h18m-440 4h18m0 4h19m0 4h18m312 0h18m37 4h18m55 0h18m-495 4h19m73 0h18m294 0h18m-422 4h19m348 8h18m110 16h19m-147 4h18m110 12h19m-147 12h18m110 4h19m-129 4h19m-37 8h18m110 4h19m-19 12h19m-19 4h19m-129 8h19m91 0h19m-257 4h18m220 0h19m-147 4h18m110 0h19m91 0h19m-129 16h19m-19 12h19m-129 4h19m91 4h19m-147 12h37m91 24h19m-129 4h19m91 4h19m-129 4h19m0 24h18m-18 16h18m73 0h19m-184 24h19m55 0h18m-92 4h19m-19 4h19m146 4h19m-110 16h18m-110 8h37m-37 12h18m294 4h18m-238 12h18m55 4h18m-421 4h18m55 0h18m19 0h18m312 0h18m-37 4h19m-440 4h18m165 0h37m201 4h19m-37 4h37m-532 4h18m514 0h18m-348 4h18m55 0h18m110 0h37m-385 4h18m202 0h18m92 0h18m19 4h18m55 0h18m110 0h19m-349 4h19m73 4h37m-147 4h18m110 0h19m-349 4h19m91 0h19m91 0h19m91 0h19m-367 4h37m201 0h19m-147 4h18m19 0h18m73 0h19m91 0h37m73 0h19m-147 4h37m73 0h18m-330 8h19m110 0h18m55 0h37m-37 4h18m110 0h37m-55 4h37m110 4h18m-147 12h19m-37 4h18m-18 8h18m19 0h18m55 0h18m-128 4h18m19 0h18"/>
<path stroke="#b2b2f8" d="M1687 137h18m18 0h37m92 0h18m110 0h18m129 0h18m92 0h18m-550 4h18m294 0h18m18 0h19m128 0h18m-513 4h18m330 0h19m18 0h18m-220 4h37m92 0h18m92 0h18m-458 4h18m165 0h18m19 0h18m-257 4h19m128 0h18m257 0h18m19 0h18m55 0h18m19 0h18m-568 4h18m18 0h37m257 0h18m73 0h19m110 0h18m-587 4h19m201 0h19m-37 4h55m-183 4h18m92 0h36m239 0h18m-477 4h19m55 0h18m110 0h18m92 0h37m73 0h18m-403 4h73m92 0h37m201 0h37m73 0h19m-477 4h18m19 0h18m55 0h37m-239 4h37m183 0h19m110 0h18m-275 4h18m110 0h19m91 0h37m55 0h37m110 0h18m-605 4h18m55 0h19m73 0h18m294 0h18m73 0h19m-587 4h18m239 0h18m165 0h18m19 0h18m-385 4h18m92 0h37m293 0h18m19 0h18m-165 4h55m-440 4h18m110 0h92m202 0h18m-495 4h18m440 0h19m73 0h18m19 0h18m-568 4h18m18 0h19m-55 4h18m37 0h18m73 0h19m385 0h18m-605 4h37m36 0h19m110 0h18m257 0h18m55 0h18m-495 4h19m73 0h37m18 0h55m183 0h19m-459 4h19m128 0h18m367 0h18m-568 4h18m129 0h18m18 0h19m146 0h37m202 0h18m-495 4h18m92 0h18m19 0h18m275 0h18m19 0h18m-568 4h18m92 0h18m37 0h18m37 0h18m312 0h18m-385 4h37m183 0h37m-239 4h37m165 0h18m-348 4h18m202 0h18m110 0h19m91 0h19m-532 4h37m183 0h18m-275 4h37m18 0h19m18 0h37m183 0h18m129 0h18m92 0h18m-422 4h19m36 0h19m201 0h37m55 0h18m19 0h18m-605 4h18m55 0h19m348 0h18m19 0h18m-495 4h37m165 0h18m220 0h18m-458 4h18m37 0h18m147 0h18m220 0h37m-422 4h19m146 0h19m293 0h18m-18 4h37m-165 8h18m-92 4h19m-330 4h18m275 0h18m165 0h19m-532 4h18m19 0h18m275 0h37m-367 4h37m293 0h37m55 0h18m92 0h18m-220 4h18m-311 4h18m73 0h37m330 0h18m-513 4h18m19 0h18m293 0h19m128 0h18m0 48h19m-129 4h19m-110 4h18m55 0h18m0 8h19m91 0h19m-129 4h19m-19 8h19m-37 8h18m-18 4h37m91 4h19m-129 24h19m91 0h19m-129 4h19m-129 4h19m201 0h19m-147 4h18m0 4h19m-19 8h19m-19 4h19m110 0h18m-37 12h19m-19 4h19m-147 8h37m91 0h19m-129 8h19m91 4h19m-19 8h19m-19 4h19m-19 4h19m-422 4h18m257 0h37m91 0h19m-147 20h18m110 4h19m-19 12h19m-19 4h19m-165 12h18m128 4h19m-202 12h18m19 0h18m-55 4h55m128 0h19m-184 4h19m-19 8h19m-37 12h18m74 0h18m-92 4h19m-37 8h55m-348 4h18m37 0h18m293 0h19m110 0h18m-385 4h18m312 0h18m-238 8h18m129 0h18m-440 8h18m55 0h19m220 0h18m165 4h18m19 4h18m-532 4h37m458 0h19m-367 4h37m110 0h18m165 0h18m-110 4h19m91 0h37m-275 4h18m92 0h18m110 0h19m-477 4h18m202 0h18m202 0h55m-495 4h18m202 0h18m-238 4h18m92 0h18m110 0h19m201 0h19m91 0h19m-367 4h18m202 0h18m-421 4h18m55 0h18m129 0h18m55 0h37m73 0h18m-201 4h18m55 0h18m92 0h18m-421 4h18m403 0h37m-495 4h18m19 0h18m202 0h18m202 0h18m-385 4h18m110 0h19m183 0h55m-147 4h37m183 0h19m-624 4h19m275 0h18m202 4h18m-348 4h18m275 0h55m-385 4h18m312 0h55m-275 4h18m239 0h18m-37 4h19m-220 4h18m-55 4h18m110 0h37m73 0h19m-129 4h37m73 0h19m-367 4h37m110 0h18m165 0h55m-257 4h19m110 0h18"/>
<path stroke="#ccccfb" d="M1705 137h18m110 0h19m238 0h37m-385 4h36m19 0h18m55 0h18m19 0h18m183 0h37m73 0h37m-367 4h19m201 0h37m-477 4h19m18 0h37m18 0h18m37 0h18m37 0h18m92 0h18m92 0h37m91 0h19m-422 4h18m-183 4h18m19 0h18m37 0h18m37 0h18m37 0h18m37 0h18m183 0h19m-477 4h18m92 0h55m183 0h19m183 0h18m-495 4h37m330 0h55m73 0h19m-587 4h18m569 0h18m-587 4h19m18 0h18m165 0h37m55 0h18m-238 4h55m202 0h18m-110 4h18m19 0h18m110 0h18m92 0h18m-513 4h18m294 0h18m-385 4h18m55 0h19m18 0h18m129 0h18m-275 4h18m37 0h18m19 0h18m37 0h18m-37 4h37m18 0h19m36 0h37m165 0h18m129 0h18m-568 4h18m18 0h19m128 0h18m312 0h18m19 0h18m-477 4h37m92 0h18m165 0h18m19 0h18m73 0h19m-550 4h18m18 0h19m73 0h18m147 0h18m202 0h37m-477 4h18m19 0h36m147 0h37m-37 4h18m37 0h18m74 0h18m73 0h19m-532 4h18m19 0h18m18 0h19m-147 4h37m165 0h55m18 0h18m19 0h18m37 0h18m-293 4h18m330 0h37m-477 4h18m19 0h18m37 0h18m37 0h18m165 0h18m129 0h18m92 0h18m-605 4h18m165 0h19m-129 4h19m36 0h19m73 0h18m19 0h18m55 0h18m-201 4h18m275 0h18m110 0h19m-257 4h18m-183 4h37m55 0h18m73 0h19m110 0h18m-440 4h18m257 0h55m92 0h18m73 0h19m-532 4h18m147 0h18m19 0h18m275 0h18m-568 4h55m37 0h18m110 0h18m19 0h18m37 0h18m-275 4h18m19 0h18m37 0h18m92 0h36m74 0h18m183 0h19m-385 4h18m37 0h36m74 0h18m-348 4h18m128 0h55m19 0h18m183 0h19m-239 4h37m183 0h19m73 0h37m-569 4h19m146 0h19m238 0h18m92 0h37m-532 4h18m19 0h18m37 0h18m92 0h18m73 0h19m220 4h18m-238 8h18m-348 4h18m92 0h18m202 0h18m110 0h18m-146 8h18m73 4h19m18 0h18m-513 4h55m55 0h18m440 0h19m-367 4h18m92 0h55m147 0h18m37 0h18m-275 4h18m165 0h19m18 0h18m-183 4h37m91 0h19m-202 4h37m146 0h19m36 0h19m-202 8h18m110 0h19m-257 4h18m0 4h19m55 0h18m128 4h19m-220 4h18m55 0h18m-18 4h37m91 0h19m-257 4h18m220 4h37m-422 4h19m146 0h19m73 0h37m-147 8h18m110 0h19m-92 4h18m37 4h18m-348 8h18m74 0h18m110 0h37m73 4h18m-55 8h37m18 0h19m-129 16h19m55 0h18m-110 8h18m92 8h18m-110 4h37m55 0h18m0 4h19m-294 4h19m183 0h37m36 0h19m91 8h19m-385 4h18m220 4h18m0 4h19m-55 4h18m18 4h19m-37 20h18m0 8h19m220 4h18m-165 8h18m0 12h19m-514 4h19m476 4h19m18 8h18m-238 28h18m165 0h19m-184 16h19m146 0h19m-385 8h18m348 0h19m-165 12h18m92 0h18m92 0h18m-92 4h19m-184 4h37m-257 4h19m256 0h19m91 4h19m-19 4h19m-532 4h37m458 0h37m-532 4h18m19 0h18m37 0h18m275 0h37m110 0h18m73 0h19m-569 4h19m-92 4h37m18 0h37m91 0h19m183 0h18m-311 4h18m73 0h19m183 0h18m19 0h18m92 0h18m-55 4h55m-550 4h18m19 0h55m220 0h18m73 0h19m-129 12h19m201 0h37m-513 4h18m440 0h18m-348 4h18m19 0h18m73 0h19m91 0h19m-385 4h18m18 0h37m-37 4h37m55 0h55m275 4h18m19 0h18m-458 4h18m403 0h37m-128 4h18m73 0h19m-477 4h18m19 0h18m165 0h18m-220 8h19m403 0h37m-440 4h18m165 0h18m330 0h19m-587 4h18m19 0h18m293 8h37m55 0h37m-349 4h19m238 0h18m-458 4h37m146 0h19m55 0h18m128 0h19m-385 4h36m220 0h19m73 0h55m183 0h19m-642 4h18m165 0h19m91 0h19m-239 4h19m311 0h19m-385 4h18m257 0h18m-18 12h18m73 0h19"/>
<path stroke="#e6e6fd" d="M1925 137h18m92 0h18m19 0h18m-422 4h19m91 0h19m146 0h19m128 0h18m-440 4h19m36 0h19m458 0h18m-568 4h18m74 0h18m18 0h37m18 0h37m128 0h19m36 0h19m128 0h18m19 0h18m-495 4h55m37 0h18m110 0h18m19 0h18m55 0h18m-330 4h19m36 0h19m18 0h37m73 0h37m-202 4h55m110 0h18m92 0h18m-403 4h18m184 0h36m294 0h18m-568 4h36m55 0h19m201 0h19m91 0h19m-349 4h37m275 0h18m-403 4h18m110 0h19m-165 4h18m73 0h19m18 0h18m-55 4h19m18 0h18m19 0h18m-165 4h18m19 0h18m183 0h19m36 0h19m183 0h18m-550 4h19m91 0h19m36 0h37m37 0h18m55 0h18m-293 4h18m37 0h18m74 0h36m-220 4h19m146 0h19m36 0h19m201 0h19m-459 4h37m275 0h18m110 0h19m-477 4h18m37 0h18m37 0h18m220 0h37m-18 4h18m-330 4h18m19 0h36m37 0h37m73 0h18m55 0h19m73 0h18m-458 4h18m92 0h18m55 0h19m128 0h18m19 0h18m92 0h18m73 0h19m-477 4h37m18 0h18m165 0h19m73 0h55m-440 4h18m55 0h19m-19 4h19m55 0h18m128 0h19m-312 4h18m19 0h18m110 0h18m19 0h18m202 0h18m-440 4h18m330 0h19m-367 4h18m110 0h19m256 0h19m-404 4h19m18 0h18m37 0h18m37 0h37m91 0h19m-165 4h18m147 0h18m165 0h18m19 0h18m-495 4h18m19 0h18m37 0h18m238 0h19m-459 4h37m18 0h19m36 0h37m18 0h37m128 0h37m-183 4h18m18 0h19m73 0h18m19 0h18m55 0h55m-202 4h19m110 0h36m92 0h18m-403 4h18m37 0h18m92 0h18m-293 4h18m92 0h18m367 0h55m-568 4h18m92 0h55m18 0h18m74 0h18m257 0h18m-568 4h18m18 0h19m18 0h18m74 0h18m367 0h18m-568 4h18m73 0h19m18 0h37m18 0h18m129 0h18m73 0h37m18 0h19m-404 4h19m440 4h18m-257 4h19m201 0h19m-587 4h37m73 0h37m201 4h37m37 0h18m-330 4h18m257 0h18m92 0h18m-366 4h18m73 0h19m183 0h18m129 0h18m-220 4h18m55 0h19m-275 4h18m165 0h18m37 0h37m91 0h19m-477 4h37m220 0h18m183 0h19m-275 4h18m-238 4h36m385 4h19m-129 4h19m-312 4h18m165 0h19m73 0h37m-110 4h18m55 0h37m55 4h18m-202 4h19m91 0h19m-312 4h18m19 0h18m55 0h37m18 0h18m74 0h18m-238 4h18m147 4h18m-220 4h18m19 0h18m128 4h19m201 0h19m-239 4h19m146 0h19m-110 4h18m128 0h19m18 0h18m-275 8h37m-257 4h19m18 0h18m220 0h19m73 0h18m-183 8h55m55 0h37m91 0h19m-532 4h37m256 0h19m18 0h18m-55 4h19m-37 4h18m92 0h37m-92 4h37m18 0h18m-293 4h18m0 4h19m256 0h19m-129 4h37m73 0h19m91 0h19m-220 8h18m-55 4h18m55 0h37m-110 4h18m-220 4h19m18 0h18m147 0h37m55 0h18m0 4h18m-18 4h18m-275 4h19m165 0h18m37 0h18m-37 12h19m146 0h19m-55 4h18m-202 16h37m73 0h19m-92 8h37m18 8h18m0 4h19m-37 4h18m-73 4h37m36 4h19m-422 8h18m19 0h18m128 0h19m311 0h19m-129 8h19m-404 4h19m91 0h19m36 0h19m165 0h18m183 0h19m-239 4h19m-239 8h19m18 8h18m220 0h19m-239 4h19m311 0h19m36 4h19m-257 8h18m55 0h19m-19 8h19m146 0h19m-459 4h19m403 0h18m19 0h18m-367 4h37m18 0h19m55 0h55m128 0h18m19 0h18m-202 4h19m-92 4h18m19 0h18m128 0h19m-514 4h19m73 0h18m275 0h19m18 0h18m55 0h19m-202 4h37m146 4h19m18 0h18m-568 4h18m202 0h37m110 0h36m110 0h19m-477 12h37m165 0h18m312 0h18m-587 4h19m18 0h37m91 0h37m73 0h19m-147 4h18m92 0h37m256 0h37m-568 4h18m348 0h19m-349 4h19m110 0h18m37 0h36m110 0h19m-404 4h55m37 0h37m256 0h19m-404 4h19m128 0h55m55 0h18m92 0h18m129 0h18m18 0h19m-587 4h18m19 0h18m348 0h19m-220 4h18m55 0h55m-257 4h19m-92 4h37m36 0h37m-55 4h18m110 0h19m110 0h18m202 0h18m-55 8h37m-147 4h18m-366 4h36m239 0h18m202 4h18m-550 4h18m55 0h19m-19 4h19m-19 8h19m-55 4h18m18 0h19m-55 4h18m18 0h19m-92 4h37m256 0h19m73 0h18m-238 4h18m110 0h19m36 0h19m55 0h18m-403 4h18m183 0h19m128 0h18m19 0h18m-440 4h37m55 0h18m202 0h18m165 0h18m-495 4h37m220 0h18m19 0h18m110 0h18m74 0h18m-513 4h18m37 0h18m92 0h18m55 0h37m73 0h18m55 0h55m19 0h18m-550 4h18m275 0h19m-37 4h18m165 0h19m-92 4h37m-404 4h55m55 0h19m18 0h18m19 0h18m55 0h18m202 0h18"/>
<path stroke="#ffffff" d="M1815 137h18m110 0h19m36 0h19m-330 4h18m110 0h18m92 0h18m37 0h37m-367 4h18m19 0h18m55 0h18m92 0h18m19 0h18m110 0h18m184 0h18m-568 4h18m403 4h37m-440 4h37m18 0h18m-18 8h55m18 0h55m74 0h18m-312 4h19m36 0h55m239 0h18m55 0h18m92 0h37m-220 4h18m-220 4h18m19 0h18m-220 4h37m256 0h19m-37 4h37m73 0h18m-275 4h19m36 0h37m55 0h18m19 0h18m-257 4h19m128 0h18m-201 4h18m220 0h18m74 0h18m-293 4h55m183 0h18m-348 4h18m147 0h18m92 0h18m74 0h18m-367 4h19m146 0h37m55 0h18m-165 4h19m128 0h55m-202 4h37m128 0h37m37 0h18m110 0h18m-495 4h19m110 0h18m128 0h19m36 0h19m36 0h74m18 0h18m37 0h18m-421 4h18m128 0h19m-147 4h37m110 0h18m18 0h19m-257 4h18m239 0h18m-348 4h18m18 0h19m146 0h19m-165 4h18m275 0h18m-330 4h37m55 0h18m19 0h18m128 0h19m110 0h18m-440 4h18m55 0h19m36 0h19m73 0h37m-202 4h37m238 0h37m146 0h19m-495 4h18m18 0h19m36 0h19m18 0h18m74 0h18m-165 4h18m404 0h18m-495 4h37m18 4h55m92 0h18m-37 4h37m18 0h19m18 0h18m-91 4h55m-257 4h18m147 0h18m55 0h19m18 0h18m74 0h18m-367 4h55m19 4h18m73 0h19m183 0h18m-476 4h18m312 0h18m128 0h19m-422 4h18m92 0h18m312 0h37m-477 4h37m73 0h18m19 0h18m55 0h18m165 0h19m18 0h18m-476 4h18m147 0h18m128 0h19m-275 8h18m238 0h19m165 0h18m-495 4h18m92 0h18m19 0h18m202 0h18m-367 4h19m110 0h18m73 0h19m73 0h18m19 0h18m18 0h19m18 0h18m19 0h18m-550 4h18m165 0h19m146 0h19m91 0h19m-385 4h18m18 0h19m18 0h18m19 0h18m165 0h18m-348 4h37m421 0h19m-459 4h37m147 0h18m37 0h18m-73 4h18m73 0h19m-294 8h37m147 0h18m18 0h19m-257 4h18m92 0h18m110 0h19m-92 4h37m-37 4h18m220 0h19m-404 4h19m146 0h19m18 0h18m-238 4h18m184 0h18m37 0h18m-257 4h19m183 0h18m55 0h19m-330 4h18m165 0h18m74 8h18m-385 4h18m294 0h18m18 0h19m220 0h18m-330 4h37m55 0h18m183 0h19m-514 4h19m36 0h37m-73 4h18m18 0h19m165 0h36m19 0h18m18 0h19m55 0h18m73 0h37m-238 4h18m128 0h19m-495 8h18m220 0h18m19 0h18m110 0h37m-367 4h18m129 0h36m0 4h37m-18 4h18m220 0h37m-532 4h37m36 0h19m18 0h55m92 0h18m257 0h18m-293 4h18m110 0h18m-458 4h18m367 0h18m-55 4h19m18 0h37m91 0h19m-257 4h37m55 0h18m-55 4h18m-18 4h18m-293 4h18m477 0h18m-256 4h18m-220 8h18m202 0h18m37 0h18m-275 4h19m201 0h19m183 0h18m-421 4h18m18 0h19m183 0h18m165 0h19m-147 4h18m-55 8h19m36 0h19m-184 4h37m-330 8h37m348 0h18m-311 4h18m165 0h18m19 0h18m37 0h18m-165 4h18m19 0h18m92 0h18m-73 4h18m55 0h18m-385 4h19m366 8h19m-404 4h19m91 0h37m128 0h19m55 0h18m-92 4h19m201 0h19m18 0h18m-366 4h18m128 0h19m36 0h19m-55 4h18m183 0h37m-293 4h18m55 0h37m-422 4h37m293 0h18m165 0h19m36 0h19m-440 4h18m73 0h19m73 0h18m92 0h18m19 0h18m-202 4h19m165 0h18m-92 4h19m91 0h19m-495 4h18m330 0h37m128 0h18m-568 4h18m147 0h55m257 0h18m-477 4h37m92 0h18m18 0h55m55 0h37m-293 4h18m55 0h18m110 0h19m330 0h18m-477 4h19m403 0h18m19 0h18m-477 8h37m73 0h19m18 0h37m73 0h18m55 0h19m-257 4h18m19 0h18m55 0h92m146 0h19m-550 4h18m-55 4h37m73 0h18m275 0h19m146 0h19m-569 4h19m275 0h36m220 0h19m-459 4h19m183 0h37m-239 4h19m293 0h18m-458 4h18m110 0h19m128 0h18m19 0h18m55 0h18m55 0h19m73 0h18m-568 4h18m294 0h18m37 0h18m202 4h18m-587 4h19m73 0h18m19 0h36m74 0h18m165 0h18m19 0h18m73 0h37m-275 4h55m-275 4h18m55 4h74m18 0h18m129 0h18m18 0h19m91 0h19m-312 4h18m275 0h19m-532 4h18m19 0h18m18 0h37m18 0h19m110 0h18m73 0h37m110 0h18m-238 4h18m-293 4h18m55 0h55m129 0h18m165 0h18m-366 4h36m165 0h19m-275 4h18m18 0h19m275 0h18m-422 4h19m18 0h55m73 0h37m165 0h18m19 0h18m-367 4h19m73 0h37m183 0h55m-385 4h18m74 4h18m-92 4h37m-92 4h19m495 4h18m-477 4h37m-110 4h18m37 12h18m-73 4h18m37 4h18m55 0h19m-147 4h37m91 0h19m-147 4h18m37 0h18m-36 4h18m110 0h55m55 0h18m-238 4h18m37 0h18m147 0h18m19 0h36m55 0h19m36 0h37m55 0h55m-550 4h55m110 0h18m55 0h37m18 0h19m-294 4h19m73 4h18m19 0h18m238 0h19m-477 4h18m37 0h18m92 0h37m128 0h18m19 0h18m-367 4h19m128 0h37m183 0h18m-220 4h37m92 0h18m55 0h18m-385 4h19m165 0h18m55 0h37m55 0h18m92 0h18m-495 4h18m165 0h19m183 0h18m129 0h18"/>
<path stroke="#fde6e6" d="M1760 137h18m184 0h18m-128 4h18m-73 4h55m165 0h18m-73 4h18m55 0h18m-220 4h19m146 0h19m-92 8h18m19 0h18m-37 4h19m18 0h55m18 0h19m-92 4h18m129 0h18m-147 4h19m36 0h19m-239 8h37m110 0h18m19 0h18m18 0h19m-239 4h19m110 0h18m183 0h19m-385 4h36m147 0h18m-183 4h18m202 0h55m-422 4h19m256 0h37m18 0h19m18 0h37m-367 4h18m129 0h18m128 0h37m18 0h37m-257 4h19m91 0h19m36 0h19m-275 4h18m18 0h37m128 0h19m73 4h55m-238 4h18m183 0h37m73 0h19m-330 4h18m165 0h18m184 0h18m-220 4h18m-293 4h18m19 0h18m128 0h19m55 0h18m18 0h37m73 0h19m-239 4h19m73 0h18m-275 4h19m146 0h19m-19 4h37m92 0h18m165 0h18m-495 4h19m128 0h18m74 0h73m-128 4h18m37 0h18m18 0h19m-275 4h18m165 0h18m74 0h18m73 0h19m-367 4h18m92 0h37m201 0h19m-440 4h18m165 0h55m73 0h19m-275 4h55m91 0h19m36 0h19m55 0h18m-55 4h18m-256 4h18m110 4h37m-257 4h37m36 0h19m146 0h19m91 0h19m-129 4h19m36 0h19m36 0h19m-404 4h19m385 0h18m-440 4h18m74 0h36m220 0h19m36 0h19m36 0h19m55 0h18m-422 4h19m91 0h19m183 0h18m-403 8h37m146 0h19m128 0h18m110 0h19m18 0h37m-477 4h18m19 0h18m275 0h18m19 0h18m55 0h55m-385 4h55m238 0h19m-404 4h19m256 0h19m128 0h37m-495 4h18m55 0h18m184 0h18m18 0h19m128 4h18m-403 4h18m19 0h18m257 0h18m-495 4h18m74 0h18m37 0h18m110 0h37m-257 4h37m73 0h73m19 0h36m184 0h18m-385 4h18m74 0h18m147 0h18m-275 4h18m74 0h18m73 0h37m37 0h18m-55 4h18m92 0h55m55 0h37m-514 4h19m36 0h37m92 0h36m37 0h18m-146 4h55m73 0h18m19 0h18m-257 4h19m110 4h18m312 0h18m-477 4h19m36 0h19m91 0h19m128 0h18m-366 4h18m55 0h18m19 0h18m55 0h37m55 0h18m202 0h18m-293 4h18m18 0h19m73 0h18m92 0h18m-568 4h18m37 0h18m74 0h36m92 0h18m19 0h18m37 0h18m202 0h18m-513 4h18m55 0h18m147 0h37m110 0h18m-458 4h18m147 0h18m18 0h19m18 0h37m256 0h19m-587 4h55m73 0h19m110 0h18m37 0h18m220 0h18m-385 4h19m128 0h37m220 0h18m-605 4h37m128 0h18m19 0h18m238 0h19m73 0h18m-513 4h73m92 0h37m18 0h37m275 0h18m-477 4h19m183 0h55m-293 4h55m330 0h18m-183 4h18m37 0h18m202 0h18m-165 4h18m-458 4h18m74 0h36m19 0h18m110 0h18m74 0h18m202 0h18m-605 4h18m19 0h18m92 0h18m165 0h37m110 0h18m-495 4h18m37 0h55m55 0h18m110 0h19m36 0h19m91 0h19m110 0h18m-513 4h18m37 0h18m37 4h18m55 0h55m-165 4h18m147 0h37m-202 4h37m238 0h18m92 0h18m19 0h18m-587 4h19m275 0h18m55 0h18m-311 4h18m37 0h18m18 0h19m110 0h18m-275 4h18m294 0h18m-110 8h37m36 0h19m110 0h18m-477 4h37m55 0h18m92 0h18m19 0h18m183 0h19m91 0h37m-568 4h18m18 0h19m110 0h18m55 0h18m19 0h18m220 0h18m19 0h18m-495 4h18m19 0h18m37 0h18m110 0h18m-220 4h37m147 0h18m55 0h18m37 0h18m-183 4h37m18 0h37m18 0h18m37 0h18m19 0h18m-458 4h18m220 0h18m37 0h37m220 0h18m-458 4h18m110 0h18m74 0h18m-348 4h18m220 0h18m-293 4h18m37 0h18m37 0h18m19 0h18m128 0h19m18 0h18m37 4h18m37 0h37m-202 4h37m36 0h37m183 0h19m-587 4h18m19 0h18m238 0h19m18 0h18m129 0h18m55 0h55m-275 8h18m-348 4h18m19 0h18m495 0h18m-531 4h18m220 0h18m294 0h18m-495 4h37m36 0h19m18 0h37m36 0h19m18 0h18m-128 4h18m37 0h37m18 0h37m73 0h18m-366 4h18m128 0h19m73 0h18m220 0h19m-550 4h36m19 0h18m55 0h55m238 0h37m55 0h18m19 0h18m-605 4h18m55 0h55m74 0h36m19 0h18m18 0h19m36 0h19m36 0h19m36 0h19m110 0h18m-605 4h18m19 0h18m55 0h18m19 0h18m165 0h18m55 0h19m36 0h19m110 0h18m-605 4h37m91 0h19m183 0h73m-293 4h18m19 0h18m183 0h37m183 0h19m-550 4h18m73 0h19m73 0h18m110 0h37m18 0h19m-367 4h18m37 0h18m129 0h36m37 0h37m18 0h18m37 0h18m19 0h18m-495 4h37m220 0h18m73 0h19m110 0h18m-348 4h18m92 0h18m-238 4h18m183 0h19m128 0h37m18 0h18m19 0h18m92 0h18m-495 4h18m92 0h18m19 0h18m37 0h18m110 0h18m92 0h37m-477 4h18m330 0h19m-349 4h37m110 0h18m184 0h18m55 0h18m19 0h18m-568 4h18m422 0h18m-458 4h18m55 0h18m312 0h18m19 0h18m-348 4h18m403 0h19m-550 4h18m92 0h18m-128 4h18m92 0h18m37 0h36m19 0h18m18 0h19m256 0h19m-569 4h37m73 0h19m73 0h37m146 0h19m55 0h18m92 0h18m-477 4h19m128 0h18m-256 4h18m128 0h37m55 0h18m165 0h19m73 0h18m-440 4h19m73 0h18m19 0h18m202 0h18m55 0h18m-550 4h19m91 0h19m91 0h19m330 0h18m-440 4h18m110 0h37m18 0h19m73 0h18m-330 4h19m91 0h37m37 0h18m18 0h19m183 0h18m19 0h18m-495 4h18m74 0h18m165 0h18m55 0h19m-239 4h19m220 0h18m73 0h19m-587 4h18m19 0h18m55 0h18m110 0h19m91 0h19m73 0h18m-275 4h37m37 0h18m92 0h36m147 0h18m-275 4h19m128 0h18m129 0h18m-440 4h18m110 0h19m238 0h55m-513 4h18m110 0h37m220 0h18m-403 4h18m0 12h37m-147 8h18m19 0h18m-37 4h19m110 0h18m-165 4h55m-37 4h37m92 4h18m-147 4h37m73 0h19m-110 4h18m55 0h18m19 0h18m-55 4h18m19 0h18m-73 4h18m-37 4h19m55 0h18m92 0h18m37 0h18m128 0h19m73 0h55m-605 4h18m74 0h18m18 0h19m220 0h36m-128 4h18m165 0h37m-385 4h18m19 0h73m110 0h55m55 0h18m-385 4h55m19 0h18m165 0h73m19 0h18m37 0h18m55 0h37m-239 4h19m55 0h36m55 0h19m18 0h18m19 0h18m-495 4h37m55 0h18m147 0h18m73 0h19m-477 4h37m18 0h55m55 0h18m55 0h19m73 0h18m19 0h18m55 0h18m92 0h18m19 0h18m-605 4h18m404 0h18m-330 4h18m19 0h18m92 0h18m73 0h37m55 0h18m55 0h19m55 0h18"/>
<path stroke="#fbcccc" d="M1778 137h37m330 0h18m19 0h18m-550 4h18m165 0h19m183 0h18m110 0h37m-238 4h18m92 0h18m-165 4h37m-19 4h37m37 4h18m-92 4h19m-165 8h18m128 0h37m73 0h19m-110 8h18m73 0h19m-37 4h18m19 0h18m165 0h18m-201 4h18m-37 4h37m-165 4h18m202 0h37m-202 4h18m165 0h19m-385 4h36m92 0h55m183 0h19m-330 4h18m202 0h18m-128 4h18m55 0h18m92 4h18m-348 8h18m92 0h18m19 0h18m183 0h19m-110 4h18m-165 4h18m37 0h18m-73 4h18m19 0h18m92 0h18m-330 4h18m19 0h18m147 0h18m92 0h18m-165 4h18m0 4h19m18 0h18m-256 4h18m312 0h18m-165 4h55m165 4h18m-513 4h18m404 0h18m-55 4h37m-19 4h19m-312 4h37m256 0h19m91 0h19m-165 4h18m-18 4h18m37 0h18m-165 4h18m74 0h18m128 0h19m-532 4h18m294 0h18m-312 4h19m36 0h19m55 0h18m18 0h19m128 0h18m37 0h18m19 0h36m19 0h36m-513 4h55m92 0h18m92 0h18m73 0h19m18 0h18m74 0h18m18 0h37m-403 4h18m73 0h19m128 0h37m18 0h55m-330 4h55m367 0h18m-403 4h18m183 0h19m-294 4h19m36 0h19m238 0h37m91 0h19m-514 4h37m92 0h18m165 0h18m110 0h19m-385 4h18m147 0h18m-92 8h19m36 0h19m73 0h37m36 0h19m110 0h18m-587 4h19m18 0h18m257 0h37m183 0h18m-568 4h18m220 0h19m36 0h19m146 0h19m73 0h18m-476 4h18m18 0h19m36 0h19m18 0h18m37 0h37m256 0h19m-550 4h18m110 0h18m92 0h18m-293 4h73m19 0h18m55 0h37m55 0h18m-275 4h18m165 0h37m367 0h18m-422 4h19m110 0h18m18 0h19m73 0h37m91 0h37m-587 4h19m128 0h18m184 0h18m-220 4h18m129 0h18m110 0h37m73 0h18m-403 4h18m19 0h18m110 0h18m220 0h19m-550 4h36m37 0h18m55 0h19m146 0h19m183 0h18m-550 4h74m128 0h18m129 0h18m92 0h18m73 0h19m-569 4h19m36 0h19m36 0h19m36 0h19m128 0h18m202 0h18m-531 4h55m18 0h37m403 0h37m-477 4h55m92 0h18m165 0h37m-367 4h18m19 0h18m55 0h18m110 0h19m220 0h18m-495 4h18m147 0h18m74 0h18m55 0h55m55 0h18m-531 4h18m128 0h19m183 0h18m-275 4h37m147 0h18m18 0h19m91 0h19m73 0h18m-568 4h18m165 0h19m275 0h18m55 0h18m-403 4h37m-202 4h55m293 0h19m-257 4h18m330 0h37m55 0h37m-514 4h19m128 0h37m36 0h19m-294 4h19m403 0h37m73 0h37m-477 4h18m19 0h18m37 0h18m110 0h18m19 0h18m183 0h19m-514 4h19m110 0h18m128 0h37m-18 4h18m73 0h19m-404 4h19m91 0h37m348 0h19m-532 4h18m37 0h37m311 0h19m91 0h19m-587 4h18m37 0h18m19 0h18m18 0h37m183 0h19m-367 4h18m147 0h18m19 0h18m348 0h37m-477 4h37m37 0h18m55 0h37m-294 4h19m36 0h19m36 0h19m183 0h18m19 0h18m183 0h19m-367 4h18m202 0h18m92 0h18m19 0h18m-605 4h18m37 0h37m55 0h36m55 0h19m183 0h18m19 0h18m-477 4h19m91 0h19m18 0h18m110 0h19m18 0h37m91 0h19m-349 4h19m73 0h18m19 0h36m-293 4h18m74 0h36m55 0h19m73 0h37m146 0h19m73 0h18m-458 4h18m129 0h18m92 0h18m183 0h19m-587 4h18m37 0h18m37 0h55m293 0h37m73 0h19m-495 4h18m18 0h19m421 0h19m-477 4h18m19 0h36m74 0h18m275 0h18m-550 4h37m73 0h19m55 0h18m128 0h19m-239 4h92m18 0h19m293 0h55m-495 4h18m312 0h55m-385 4h18m74 0h18m55 0h18m74 0h18m-238 4h18m18 0h19m36 0h19m201 0h19m91 0h19m-514 4h19m275 0h18m55 0h37m73 0h18m19 0h18m-550 4h18m19 0h18m55 0h37m18 0h18m349 0h18m-605 4h37m73 0h18m37 0h18m19 0h18m128 0h55m165 0h19m-587 4h18m19 0h18m92 0h18m147 0h18m37 0h18m92 0h18m55 0h37m-532 4h37m18 0h73m19 0h18m18 0h37m37 0h18m55 0h37m36 0h19m73 0h18m-403 4h18m110 0h19m36 0h19m-294 4h19m128 0h18m110 0h37m55 0h18m-421 4h18m220 0h18m19 0h18m55 0h18m-385 4h19m146 0h19m110 0h18m37 0h18m183 0h19m-294 4h19m238 0h18m-568 4h37m146 0h19m18 0h18m92 0h18m92 0h55m92 0h18m-587 4h19m73 0h18m19 0h18m220 0h18m55 0h19m73 0h18m-476 4h18m257 0h18m73 0h19m73 0h18m19 0h18m-513 4h18m92 0h18m110 0h18m19 0h36m37 0h37m91 0h19m-477 4h18m37 0h37m91 0h19m-55 4h18m183 0h19m91 0h19m0 4h18m-605 4h55m183 0h19m183 0h18m92 0h18m-550 4h19m73 0h18m55 0h19m91 0h37m128 0h19m-330 4h55m55 0h18m110 0h18m37 0h37m-477 4h18m110 0h19m128 0h18m-293 4h18m92 0h18m55 0h19m73 0h37m55 0h18m165 0h18m19 0h18m-587 4h19m73 0h18m92 0h37m146 0h19m-257 4h18m55 0h19m-110 4h18m18 0h19m55 0h18m18 0h19m73 0h18m55 0h19m73 0h37m-495 4h36m19 0h18m73 0h19m36 0h19m146 0h19m-165 4h18m-220 4h18m37 0h37m36 0h19m183 0h37m-477 4h18m19 0h18m92 0h18m55 0h18m19 0h73m55 0h37m36 0h19m91 0h19m-202 4h18m147 0h18m-458 4h18m19 0h18m165 0h18m19 0h18m55 0h37m-257 4h18m19 0h18m73 0h37m55 0h18m-348 4h18m19 0h18m55 0h18m19 0h18m73 0h37m55 0h37m-459 4h19m183 0h18m92 0h18m19 0h18m73 0h19m-147 4h18m92 0h18m19 0h18m73 0h19m-440 4h18m165 0h37m110 0h18m55 0h18m-440 4h19m128 0h18m37 0h37m-312 4h18m37 0h18m220 0h37m55 0h18m129 0h18m-495 4h18m19 0h18m92 0h18m-275 12h18m129 0h18m73 0h19m201 0h19m-440 4h18m55 0h18m19 4h18m-55 4h18m-18 4h18m19 0h18m-165 8h18m92 0h37m-129 8h19m183 4h18m19 0h18m-165 4h55m422 0h18m-513 4h18m110 0h18m110 0h37m92 0h18m-477 4h19m73 4h18m19 0h18m165 0h18m19 0h18m55 0h18m92 0h18m-440 4h19m110 0h18m183 0h37m73 0h37m-550 4h18m55 0h19m440 0h18m-587 4h19m91 0h19m-74 4h37m147 0h18m73 0h19m73 0h18m19 0h18m-385 4h18m165 0h19m36 0h19m110 0h18m73 0h19m-550 4h18m18 0h55m19 0h18m275 0h37m73 0h18m-495 4h19m128 0h37m73 0h18"/>
<path stroke="#f9b2b2" d="M2163 137h19m-110 4h18m-312 4h19m128 0h18m37 0h37m-92 8h18m0 4h37m55 0h55m-55 4h18m-238 4h18m202 0h18m19 0h18m-165 4h18m129 4h18m55 0h37m-257 4h37m73 0h18m110 4h19m-129 4h19m73 0h18m-128 4h18m92 0h18m-220 4h37m92 4h18m55 0h18m110 0h19m-257 4h18m92 0h18m-201 4h18m55 0h18m92 0h37m-129 4h19m91 4h19m-129 12h19m91 0h19m-37 4h18m-110 4h19m-147 4h18m55 0h37m18 0h19m91 4h19m-220 4h18m55 4h18m92 0h18m-18 4h18m-110 4h37m202 0h18m-275 4h18m110 0h19m-19 4h19m-19 12h19m-440 4h18m202 4h36m74 0h18m55 0h18m-128 4h18m-348 4h18m92 0h18m92 0h18m19 0h18m-147 4h19m128 0h18m55 0h19m183 0h18m-550 4h19m73 0h55m0 4h18m220 0h19m-385 4h18m18 0h19m18 0h18m55 0h19m201 0h19m-312 4h18m19 0h18m257 0h18m-440 4h18m110 0h19m91 0h19m-129 4h74m18 0h37m-19 4h19m-239 8h19m73 0h18m275 0h19m110 0h18m-587 4h37m385 0h18m129 0h18m-550 4h18m74 0h18m73 0h19m183 0h55m92 0h18m-605 4h37m146 0h19m128 0h18m92 0h18m110 0h19m-514 4h19m110 0h36m129 0h18m202 0h18m-587 4h55m92 0h18m55 0h19m311 0h19m-514 4h19m36 0h19m18 0h18m367 0h18m-568 4h18m19 0h18m18 0h19m55 0h18m18 0h19m128 0h37m-367 4h18m37 0h18m19 0h18m458 0h19m-514 4h19m256 0h19m91 0h19m73 0h18m-568 4h18m55 0h19m55 0h18m73 0h19m220 0h18m-495 4h18m220 0h19m73 0h18m110 0h19m110 0h18m-568 4h18m55 0h18m220 0h19m73 0h37m91 0h19m-587 4h37m165 0h55m183 0h18m-440 4h19m18 0h18m92 0h37m275 0h18m-422 4h37m128 0h19m73 0h18m92 0h18m-403 4h18m19 0h18m55 0h18m74 0h18m-55 4h55m-110 4h55m37 0h18m293 0h19m-514 4h55m92 0h18m19 0h18m183 0h19m110 0h18m-550 4h37m55 0h18m37 0h36m19 0h18m-73 4h55m73 0h18m92 0h55m55 0h18m-421 4h18m55 0h37m91 0h19m220 0h18m-587 4h19m18 0h18m55 0h19m55 0h18m238 0h19m-385 4h18m110 0h55m-257 4h37m128 0h19m275 0h18m-477 4h37m55 0h37m36 0h19m128 0h18m129 0h18m92 0h18m-275 4h18m129 0h18m-385 4h18m19 0h18m422 0h18m-605 4h18m19 0h18m18 0h19m55 0h18m37 0h18m257 0h18m-458 4h18m55 0h18m422 0h55m-568 4h18m183 0h19m183 0h37m-367 4h18m110 0h37m55 0h37m73 0h18m19 0h18m55 0h18m-476 4h18m37 0h55m73 0h55m18 0h19m73 0h18m19 0h18m55 0h18m19 0h18m-550 4h18m92 0h18m19 0h18m37 0h18m183 0h19m-202 4h18m74 0h18m-330 4h18m19 0h18m257 0h18m55 0h18m19 0h18m-495 4h18m19 0h18m110 0h37m36 0h19m55 0h18m-312 4h74m73 0h18m147 0h18m239 0h18m-477 4h19m36 0h74m-239 4h19m128 0h18m37 0h18m129 0h18m-275 4h18m165 0h19m18 0h18m239 0h18m-532 4h19m36 0h19m55 0h18m18 0h19m73 0h55m183 0h37m-422 4h19m256 0h19m-422 4h18m19 0h18m165 0h37m165 0h18m-312 4h19m128 0h18m202 0h18m19 0h18m-532 4h19m36 0h74m55 0h18m165 0h37m-422 4h37m18 0h37m183 0h55m55 0h18m-440 4h19m18 0h18m220 0h19m36 0h19m201 0h19m-514 4h19m165 0h36m19 0h18m110 0h55m73 0h19m-514 4h37m18 0h37m73 0h37m55 0h18m-330 4h19m18 0h18m92 0h18m74 0h18m110 0h18m55 0h19m110 0h18m-513 4h18m18 4h19m55 0h36m129 0h18m55 0h18m92 0h18m-421 4h18m92 0h18m-220 4h18m0 4h19m36 0h19m18 0h18m92 0h18m147 0h18m-385 4h19m18 0h18m19 0h18m55 0h18m202 0h18m19 0h18m73 0h19m-532 4h18m129 0h18m37 0h36m19 0h18m-37 4h55m92 0h18m-385 4h19m146 0h19m311 0h19m-514 4h19m128 0h18m37 0h18m110 0h19m128 0h18m-366 4h18m55 0h18m-293 4h18m37 0h18m92 0h18m37 0h18m37 0h37m238 0h18m-568 4h18m19 0h55m36 4h19m18 0h37m73 0h18m19 0h18m147 0h18m92 0h18m-605 4h18m37 0h55m147 0h18m110 0h18m37 0h18m-385 4h37m92 0h18m55 0h18m19 0h18m-257 4h19m-74 4h19m165 0h18m18 0h37m110 0h18m37 0h55m-495 4h18m147 0h37m55 0h73m128 0h37m55 0h55m-422 4h19m-92 4h18m147 0h18m147 0h18m-385 4h19m128 0h18m74 0h18m147 0h18m-202 4h19m-165 4h18m37 0h18m73 0h19m-147 4h37m348 0h18m-458 4h18m349 4h18m-257 4h19m73 0h18m129 0h18m-367 4h19m146 4h19m165 0h18m73 0h19m-349 4h19m201 0h19m110 0h18m-495 4h18m19 4h18m92 0h18m37 0h18m37 0h18m55 0h18m19 0h18m-367 4h19m110 0h18m55 0h18m202 0h37m-569 4h37m73 0h19m-19 4h19m-129 4h37m73 0h19m73 4h18m19 0h18m165 0h18m-458 4h18m110 0h37m-55 4h18m349 0h18m-367 4h19m-19 4h19m0 4h18m73 0h19m293 0h37m-569 4h19m73 4h18m19 0h18m-165 4h18m220 4h19m73 0h37m-147 4h18m-183 4h18m37 0h18m110 0h19m73 0h18m92 0h18m-421 4h18m183 0h19m-129 4h19m73 8h18m19 0h18m128 0h19m-367 8h18m74 0h18m55 0h37m311 0h19m-550 4h18m73 0h19m-92 4h18m55 0h19m73 0h18m110 0h19m201 0h37m-513 4h18m348 0h19m73 0h37"/>
<path stroke="#f79999" d="M2145 141h18m-311 4h18m73 0h19m183 4h37m-147 4h37m73 0h37m-129 8h37m73 0h19m-147 12h18m129 0h18m-128 4h18m73 0h19m-184 4h19m128 0h18m0 8h19m-129 16h19m73 28h18m129 0h18m-165 4h18m0 12h19m-147 8h18m92 16h18m-18 4h18m-110 12h19m-220 4h18m73 0h19m330 0h18m-458 4h18m275 0h18m-421 4h18m165 4h37m165 0h18m-440 4h37m91 0h19m18 0h18m19 0h18m110 0h18m-348 4h37m183 0h18m257 0h18m-403 4h18m-110 12h19m183 0h18m-256 4h18m165 0h18m19 0h18m92 0h18m-367 8h37m18 0h19m238 0h37m18 0h18m147 0h18m-513 4h55m18 0h19m110 0h18m73 0h19m91 0h37m-257 4h19m-165 4h18m330 0h18m19 0h18m55 0h18m-568 4h55m55 0h18m19 0h18m92 0h18m-73 4h18m238 0h37m-458 4h18m18 0h19m91 0h37m257 0h18m-440 4h18m404 0h18m-477 4h19m220 0h18m165 0h18m110 0h19m-330 4h18m-183 4h18m92 0h18m37 0h18m202 0h18m-312 4h19m55 0h18m312 0h18m-532 4h37m110 0h18m-183 4h18m92 0h18m275 0h37m-495 4h18m19 0h18m147 0h18m348 0h19m-147 8h18m19 0h18m-330 4h18m19 0h18m18 0h19m183 0h18m-220 4h19m-202 4h55m-110 4h37m18 0h18m19 0h18m18 0h19m110 0h18m-238 4h18m110 0h18m257 0h18m19 0h18m-238 8h36m257 0h18m-513 4h18m92 0h18m37 0h37m183 0h37m91 0h19m-587 4h37m18 0h73m19 0h55m-184 4h37m403 0h19m73 0h18m-550 4h19m55 0h18m147 0h18m-202 4h19m110 0h36m19 0h18m183 0h37m-422 8h37m55 0h37m256 0h19m110 0h18m-550 4h18m129 0h18m238 0h19m-477 4h37m36 0h19m146 0h19m311 0h19m-294 4h37m-330 4h18m92 0h18m-110 4h19m18 0h18m220 0h19m146 0h37m55 0h18m-366 4h55m91 0h19m-367 4h18m74 0h18m37 0h18m385 0h18m19 0h18m-532 4h19m110 0h18m37 0h18m165 0h18m92 0h18m-568 4h55m128 0h74m55 0h18m18 0h19m91 0h19m73 0h18m-385 4h19m18 0h18m202 0h37m-404 4h19m128 0h37m183 0h18m-440 4h19m36 0h19m18 0h18m-91 4h18m18 0h19m36 0h55m19 0h18m18 0h19m-202 4h18m147 0h18m110 0h19m-349 4h19m55 0h18m55 0h18m19 0h36m55 0h19m275 0h18m-605 4h18m74 0h36m37 0h18m92 0h18m19 0h18m-128 4h18m18 0h19m-202 4h18m110 0h19m18 0h18m202 0h55m-55 4h18m19 4h18m-495 4h18m37 0h18m37 0h18m19 0h18m92 0h36m-183 4h37m146 0h19m-110 8h73m-183 4h18m128 0h37m37 0h18m257 0h18m-532 4h37m128 0h19m36 0h19m-239 4h19m-37 8h18m92 0h18m129 0h18m-312 4h37m257 0h18m73 0h19m36 0h37m-403 4h18m73 0h37m92 0h18m-312 4h19m55 0h18m92 0h18m-128 4h18m37 0h18m128 0h19m-147 4h18m19 0h55m-202 4h18m147 0h37m36 0h19m-220 4h18m348 0h19m-440 4h55m128 0h18m74 0h18m-128 4h18m-55 8h18m19 0h18m-220 4h18m37 0h18m184 0h18m110 0h18m37 0h18m-385 8h37m202 0h18m-257 4h37m92 0h18m257 0h18m-367 4h37m165 0h18m19 0h18m165 12h18m19 0h18m-18 4h18m-385 8h18m129 0h18m73 0h19m-367 4h18m92 0h37m-110 4h18m293 0h19m-477 4h18m202 0h18m-18 4h18m92 0h18m19 0h18m55 0h37m-367 4h18m422 0h18m19 0h18m-128 4h18m-477 4h19m91 4h19m91 8h19m73 0h18m-238 4h37m73 0h18m19 0h18m-37 4h37m73 4h19m-129 4h37m55 0h18m19 0h18m-147 8h19m73 0h37m-147 8h18m349 4h18m-367 8h19m-19 4h37m275 4h18m-348 4h18m19 0h18m-37 4h37m55 0h18"/>
<path stroke="#f58080" d="M2273 141h19m-147 4h18m19 0h18m-18 4h18m-128 4h18m-165 4h18m202 4h18m-18 16h18m19 8h18m-18 8h18m-128 16h18m55 0h18m0 24h37m-348 4h18m165 0h18m92 4h18m-18 4h37m-37 20h18m19 0h18m-18 12h18m-220 4h18m147 0h18m-128 4h18m129 4h18m55 4h37m-477 4h18m184 0h18m37 0h18m183 0h19m-587 4h18m239 4h18m110 0h18m-183 4h18m19 0h18m-238 4h18m183 0h37m-55 4h18m-18 8h18m19 0h18m-275 4h18m19 0h18m202 0h18m-147 4h37m18 0h19m183 0h18m-458 8h18m147 0h18m74 0h18m-128 4h18m55 0h37m330 0h18m-550 12h18m19 0h18m-18 4h18m110 0h55m275 0h55m-587 4h19m-37 4h55m532 0h18m-385 4h18m220 0h19m-312 4h55m0 4h18m-55 12h37m0 4h18m-220 12h19m18 0h18m74 0h18m403 0h19m-422 8h37m366 0h19m-550 4h18m128 0h19m128 0h18m19 0h18m-202 4h19m55 12h18m275 0h18m-531 4h18m73 0h19m91 0h37m165 0h18m129 0h18m-605 4h18m74 0h18m128 0h37m165 0h18m-275 8h19m36 0h19m-239 4h19m220 0h18m202 0h18m-458 4h18m513 0h19m-587 4h18m92 0h18m-91 4h18m37 0h18m-18 4h18m73 0h19m-129 8h37m458 0h19m-220 4h18m-348 4h36m92 0h18m129 0h18m-238 4h18m128 0h19m0 4h18m165 0h18m19 0h18m-440 4h18m19 0h18m367 0h18m-238 4h18m275 0h37m-587 4h18m19 0h18m-37 4h19m18 0h18m19 0h18m110 0h18m0 4h19m-257 4h18m19 0h18m202 0h36m19 0h18m147 0h18m55 0h18m-531 4h18m92 0h18m18 0h19m36 0h19m220 0h18m-220 12h18m-256 8h18m18 0h19m91 0h19m256 0h37m92 0h18m-330 4h18m-238 8h18m19 0h18m-55 4h18m92 0h55m55 0h18m165 0h19m-312 4h18m92 4h18m-293 4h18m110 4h19m146 0h19m-312 4h18m37 0h18m147 0h37m128 0h18m-238 8h37m-147 4h37m110 0h18m-165 12h18m110 0h19m-110 4h18m55 0h18m-128 4h55m-55 4h55m-92 8h19m146 0h19m201 0h19m-367 4h18m19 0h18m-92 4h19m18 4h18m367 0h18m-238 8h18m312 12h18m-311 8h18m183 4h19m-129 8h19m73 0h37m-239 4h37m73 0h19m110 0h18m-495 4h18m129 0h18m165 0h18m-18 4h37m110 4h18m-275 4h37m183 0h37m-257 4h18m19 0h18m92 0h18m-165 4h18m19 0h18m73 0h37m55 0h37m-129 4h19m220 0h18m-275 4h18m19 0h18m165 0h55m-385 4h37m73 0h18m-128 4h18m110 0h19m0 4h18m-18 4h18m55 0h55m-367 4h19m110 4h18m-55 8h37m-37 8h18m330 0h19m-257 4h18m239 0h18m-458 4h18"/>
<path stroke="#f36666" d="M2273 137h37m-147 8h19m-110 4h18m92 4h18m-55 4h37m0 4h18m-385 8h18m202 0h18m19 0h18m73 0h19m0 20h18m-18 12h18m-37 8h19m0 4h18m73 0h19m-110 4h18m-18 12h18m-18 12h18m-18 8h18m-18 4h18m-128 20h18m165 0h18m-110 8h19m0 4h18m92 12h18m-348 4h18m-37 8h19m0 8h18m220 28h18m-110 8h19m-37 8h18m-366 8h18m128 0h19m128 4h18m-165 8h19m-19 16h19m73 8h18m-311 4h18m18 12h19m73 0h18m19 0h18m165 8h37m-184 4h19m-37 8h18m312 0h37m-532 4h18m55 0h19m73 0h18m239 0h18m-275 4h37m-92 4h18m257 0h18m-238 4h18m-238 4h37m0 4h18m165 0h37m-55 8h18m0 4h18m19 8h18m293 0h19m-569 4h19m36 0h19m91 4h19m-37 4h18m-18 8h18m404 0h18m-605 8h18m239 0h18m-183 4h18m18 8h19m55 0h36m-165 12h19m-74 8h19m201 4h19m-202 20h18m19 0h18m128 0h37m-128 8h18m-92 4h37m330 0h18m-385 4h19m73 20h18m19 0h18m-165 16h18m19 0h18m-73 4h18m110 0h18m19 0h18m-147 4h19m-92 4h18m19 0h18m422 8h18m-257 24h19m-19 12h19m73 0h18m19 0h18m92 0h18m92 0h18m-385 8h55m73 0h19m73 0h18m-91 4h18m165 0h18m19 0h18m-165 4h18m-201 4h18m55 0h18m-110 4h19m91 0h19m110 4h18m55 0h18m-348 8h18m202 0h18m19 0h18m-128 4h18m73 4h19m-37 4h18m92 0h18m-311 4h18m293 0h19m-19 12h19"/>
<path stroke="#f14c4c" d="M2255 137h18m19 8h18m-128 12h18m55 4h18m-128 4h37m-37 4h18m19 0h18m-238 4h18m275 0h18m-91 4h18m73 0h19m-110 4h18m-18 16h18m55 16h18m19 0h18m-18 4h18m-18 4h18m-18 20h18m-128 20h18m73 0h19m0 8h18m-128 4h18m92 0h18m-55 4h18m-348 24h18m-128 24h18m294 8h18m-385 28h18m0 56h37m92 8h18m-18 40h18m-92 4h19m385 12h18m-532 16h19m165 28h18m110 32h18m-330 64h19m275 64h18m73 0h19m91 0h19m-19 4h19m-349 4h37m73 4h19m110 4h18m73 0h37m-37 4h37m-275 4h18m19 0h18m-348 4h18m403 4h19m73 0h18m19 0h18m-165 4h18m92 0h37m-129 4h37m73 0h37m-55 4h18m-91 40h18"/>
<path stroke="#ef3333" d="M1962 141h18m275 4h18m19 4h18m-55 8h18m0 4h37m-37 4h37m-477 4h19m73 4h37m311 0h19m0 4h18m-18 4h18m-55 12h18m-18 4h18m0 4h19m-110 4h18m73 0h19m0 4h18m-55 8h18m-91 4h18m55 12h18m-91 4h18m55 0h37m-19 4h19m-19 4h19m-37 4h55m-55 4h37m-110 4h18m-55 4h18m92 0h18m19 0h18m-37 8h19m-19 4h19m-19 4h19m-37 4h18m0 4h19m-19 4h19m-349 8h19m-92 72h18m19 0h18m-55 64h18m19 44h18m128 16h19m-367 4h18m404 8h18m-183 12h18m-165 36h18m-146 8h18m513 8h19m-459 4h19m73 32h18m147 8h18m-128 20h18m257 44h37m-19 4h37m-128 4h18m-275 8h18m220 0h19m73 0h55m-183 8h36m-18 8h18m-110 4h19m110 4h18m73 0h19m-110 4h18m92 0h18"/>
<path stroke="#ed1919" d="M2255 149h37m0 8h18m-128 8h18m55 0h18m-421 4h18m422 4h18m-55 4h18m0 4h19m-37 4h55m-37 4h19m0 4h18m-18 4h18m-55 4h18m-18 4h18m19 0h18m-128 4h18m73 0h19m-19 8h19m-37 4h37m-37 4h55m-275 4h18m202 0h55m-18 8h18m-128 8h18m92 0h18m-18 8h18m-55 4h37m-37 8h55m-55 4h18m19 8h18m-37 4h19m-37 4h18m-348 4h18m312 0h18m19 0h18m-477 36h19m311 24h19m-184 16h19m-349 32h19m293 76h18m-110 4h19m-165 60h18m440 20h18m19 12h18m-37 56h19m-569 24h19m73 32h18m422 0h18m-238 12h37m0 4h18m165 0h37m-257 4h18m37 0h18m147 0h18m-110 8h19m-19 4h19m-220 4h18m165 0h18"/>
<path stroke="#eb0000" d="M2255 141h18m19 0h18m-37 4h19m-37 8h55m-37 4h19m-37 12h55m-55 20h18m19 0h18m-37 4h19m0 8h18m-55 8h18m0 24h19m-37 12h18m-91 36h18m92 0h18m-18 4h18m-660 16h55m330 192h18m-403 156h18m19 0h18m312 44h18m202 4h18m-147 4h19m0 8h18"/>
</g>
<g stroke-width="4" fill="none" filter="url(#hb)">
<path stroke="#0000e9" d="M1089 903h18m-131 4h19m94 0h18m-131 12h37m76 0h37m-37 4h18m-18 4h18m-244 4h19m207 0h18m-18 4h18m-131 4h19m94 0h18m-131 8h19m94 0h18m-131 4h19m94 0h18m-244 4h19m207 0h18m-244 4h19m94 4h19m94 0h18m-244 4h19m-19 4h19m94 0h19m-132 4h19m113 0h18m-150 4h19m207 0h18m-244 4h19m94 0h19m-132 4h19m188 0h37m-244 4h19m94 8h37m57 4h37m-244 4h19m169 0h56m-18 4h18m-244 4h19m113 0h18m76 0h18m-244 4h19m113 0h18m76 0h18m-244 4h19m-19 8h19m207 4h18m-18 4h18m-244 8h19m207 0h18m-244 4h19m207 0h18m-244 4h19m113 0h18m57 0h37m-37 4h37m-244 4h19m113 0h18m76 0h18m-244 4h19m489 0h37m-545 4h19m-19 4h19m-19 4h19m207 0h18m-244 4h19m207 0h18m-18 4h18m-244 4h19m207 0h18m-244 4h19m113 0h18m-150 8h19m207 0h18m-112 4h18m-18 4h18m-37 4h37m-150 4h19m207 0h18m-112 8h18m-150 4h19m113 0h18m-150 4h19m207 4h18m-244 4h19m94 0h37m76 4h18m-244 4h19m207 8h18m-244 4h19m113 0h18m76 0h18m-112 8h18m-150 4h19m207 0h37m-263 8h19m113 0h18m76 0h18m-244 4h19m207 4h37m-131 4h18m76 0h18m-244 4h19m207 0h18m-244 4h19m207 4h18m-112 4h18m76 0h18m-131 4h37m-18 4h18m-18 4h18m-150 4h19m207 4h18m-244 4h19m113 8h18m57 32h56m-37 12h18m19 48h57"/>
<path stroke="#1919eb" d="M1089 911h18m-131 4h19m94 0h18m-131 8h19m-19 8h19m-132 4h19m94 0h19m-132 4h19m207 4h18m-244 4h19m113 0h18m-150 4h19m94 4h19m94 4h18m-244 4h19m113 0h18m57 0h19m18 0h19m-150 4h19m94 0h18m-18 4h18m-18 4h18m-131 4h19m0 4h18m76 0h18m-112 4h18m94 0h19m-56 4h37m-112 4h18m-150 4h19m-19 4h19m94 0h37m19 4h19m-188 4h19m94 0h37m57 8h19m-113 4h37m57 0h37m-244 4h19m207 0h18m-244 8h19m225 0h19m-263 4h19m113 0h18m-150 4h19m188 0h56m-150 4h37m57 0h19m18 0h19m-131 4h18m94 0h19m-263 8h19m113 0h18m94 0h19m-150 8h37m76 0h18m-112 4h18m76 0h18m-112 4h18m76 0h18m-112 8h18m-150 4h19m113 0h18m-18 4h18m-37 4h19m75 0h37m-18 4h18m-112 4h18m94 0h19m-263 4h19m207 4h18m-244 4h19m188 0h19m18 0h19m-131 4h18m-75 4h38m19 0h18m76 4h18m-18 4h18m-18 4h37m-263 4h19m113 0h18m76 4h18m38 0h19m-301 4h19m113 4h18m76 0h18m-244 4h19m207 0h18m-244 4h19m56 0h19m150 0h19m-263 8h19m-19 4h19m207 0h18m-112 4h18m-18 4h18m76 0h18m-206 4h18m188 0h19m-37 4h18m-244 4h19m113 0h18m57 0h19m-226 4h19m94 0h19m0 4h18m57 0h19m18 0h19m-113 4h19m57 0h18m-112 4h18m-150 4h19m-19 4h19m207 0h37m-56 4h37m-244 4h19m113 4h18m76 0h18m-244 4h19m113 0h18m57 0h19m-94 4h18m57 0h37m-244 4h19m113 0h18m76 0h18m-37 4h56m-263 4h19m113 0h18m76 0h18m-244 4h19m225 0h19m-150 4h19m94 0h18m-18 8h18m-112 4h18m76 0h18m-112 8h18m76 8h18m-37 56h19m56 12h19m-38 8h38m-19 24h19m-19 12h19m-94 108h19"/>
<path stroke="#3333ed" d="M1070 903h19m18 0h19m-150 8h19m112 0h19m-263 4h19m-19 4h19m188 0h19m-226 4h19m225 0h19m-150 4h19m75 0h19m18 0h19m-19 4h19m-19 4h19m207 0h19m-245 4h19m-263 4h19m94 0h19m75 4h19m18 0h19m-131 4h18m57 0h19m-19 4h19m-113 4h19m112 8h19m-56 8h19m18 0h19m-131 4h18m57 0h19m-19 4h19m-113 8h37m94 0h19m-263 4h19m94 0h19m75 0h37m-37 4h37m0 4h19m-131 4h18m57 4h19m-113 4h19m75 0h19m-113 12h37m57 0h19m-113 4h37m76 0h18m-112 4h18m57 0h19m-113 4h19m75 0h19m-113 4h37m-37 8h19m112 4h19m-150 4h19m-19 4h19m75 0h19m-19 4h19m263 0h19m-301 4h19m18 0h19m-150 4h19m75 0h19m18 0h19m-19 4h19m-150 4h19m75 0h19m-113 4h19m75 0h19m-113 4h19m75 0h19m18 4h19m-263 4h19m188 0h19m18 0h19m-56 4h19m0 4h18m-244 4h19m188 8h19m-226 4h19m94 4h19m-19 4h19m0 4h18m57 0h19m75 8h19m-188 4h18m-37 4h19m75 0h19m18 0h19m-131 8h18m57 0h19m-113 4h19m75 0h19m18 0h19m-131 4h18m76 0h18m-37 8h19m-226 4h19m94 4h19m75 0h19m-94 4h18m-37 4h19m112 4h19m-150 4h19m0 4h18m57 4h19m18 0h19m-56 4h19m-226 8h19m94 0h19m112 0h19m-37 4h18m-131 4h19m319 0h38m-245 4h19m-19 4h19m-150 4h19m112 0h19m-263 4h19m94 0h19m75 8h19m-94 4h18m57 0h19m-94 4h18m-18 4h18m94 4h19m-37 4h18m0 12h19m-56 4h19m18 0h19m376 4h19m-113 20h57m-57 32h19m-263 8h19m-19 8h19m-38 4h19m-38 20h19m19 0h19m56 32h19m-132 72h19m357 8h19m-414 8h57"/>
<path stroke="#4c4cf0" d="M995 907h18m57 8h19m18 0h19m-56 8h19m-19 8h19m-94 8h18m-18 4h18m57 0h19m18 8h19m-131 4h18m94 0h19m-131 4h18m57 0h19m-94 8h18m-18 4h18m57 0h19m18 8h19m-19 4h19m-150 4h19m-19 20h19m112 0h19m-19 4h19m-19 4h19m-19 4h19m-19 4h19m-56 8h19m-113 4h19m112 4h19m-150 16h19m-19 16h19m-19 8h19m112 4h19m-19 4h19m-131 12h18m-37 4h19m-19 8h19m75 0h19m18 0h19m-150 8h19m112 0h19m-150 4h19m75 0h19m-19 4h19m18 0h19m-56 4h19m18 0h19m-150 4h19m-19 4h19m75 4h19m18 0h19m-131 12h18m19 0h19m-75 4h19m75 20h19m18 0h19m-56 8h19m-19 8h19m18 8h19m-150 4h19m-19 4h19m112 0h19m-56 4h19m-113 8h19m75 4h19m18 0h19m-150 4h19m0 20h18m94 4h19m-263 4h19m207 0h18m-131 4h19m-19 4h19m75 0h19m-113 8h19m0 4h18m76 0h37m-150 4h19m470 8h18m-18 4h37m-526 20h19m188 4h18m207 8h19m-357 16h37m-244 4h19m432 0h19m94 0h19m19 12h18m-357 4h19m19 0h19m-57 4h57m-19 8h19m131 4h19m-188 12h19m-38 4h19m19 0h19m56 4h19m19 0h18m-169 4h19m132 0h18m-169 16h19m19 0h19m-57 8h19m132 28h18m-131 32h19m-57 4h38m319 4h19m-376 4h19m19 4h19m-19 28h19"/>
<path stroke="#6666f2" d="M995 903h18m94 4h19m-56 4h19m-94 4h18m-18 8h18m-150 4h19m113 0h18m282 0h19m-319 4h18m301 0h19m-338 4h18m57 0h19m-38 8h19m37 16h19m301 0h19m-376 8h19m18 4h19m301 0h19m-226 12h19m-132 16h19m57 12h18m19 0h19m-132 16h19m-19 36h19m-19 4h19m-19 24h19m-150 8h19m-19 8h19m112 16h19m-56 16h19m18 0h19m-56 8h19m18 0h19m-150 8h19m75 0h19m-19 12h19m18 0h19m-150 4h19m75 0h19m18 0h19m-150 8h19m112 8h19m0 4h19m-75 12h19m206 24h19m-376 8h19m113 4h19m-113 8h19m112 0h19m-150 4h19m-132 4h19m188 4h19m18 0h19m-263 4h19m188 0h19m-94 8h18m94 0h19m-263 8h19m94 0h19m75 0h19m-94 4h18m57 0h19m-226 4h19m94 0h37m-37 4h19m488 0h19m-526 4h19m75 0h37m395 0h19m-545 4h19m75 0h19m413 0h19m-545 8h19m75 8h19m94 0h18m226 4h38m-602 4h19m526 0h57m-602 4h19m188 4h19m94 0h56m188 0h19m-226 4h19m94 0h19m56 0h19m-226 4h19m-319 4h18m188 0h19m57 0h18m19 0h19m207 0h19m-583 4h19m300 0h19m75 0h19m-56 4h19m206 0h19m-131 12h18m-225 8h19m188 4h18m113 0h19m-376 4h19m-263 4h18m207 8h19m19 0h19m94 0h18m-18 4h18m-282 8h19m339 0h18m-263 4h57m-226 8h19m150 0h38m113 0h18m-282 4h38m94 0h19m0 8h19m300 4h19m0 4h19m-282 20h19m-301 12h19m338 4h19m-169 8h19m319 0h19m-169 4h19m-226 4h19m0 4h19m-38 4h38m-226 4h19m75 0h19m169 4h19m-226 8h19m75 0h19m-19 4h19m-226 4h19m207 0h38m94 0h18m-338 4h19m188 4h19m-38 4h19m0 4h19m75 0h19m-113 4h19"/>
<path stroke="#8080f4" d="M882 907h19m413 16h19m0 4h19m-57 4h19m0 24h19m-132 4h38m207 0h19m-19 4h19m-57 8h19m-94 8h19m-151 4h19m94 0h19m94 0h19m-414 8h19m56 4h19m-19 36h19m-56 76h19m18 0h19m-37 8h18m0 40h19m-150 12h19m-19 8h19m-113 8h19m75 4h19m-19 16h19m75 20h19m18 0h19m-263 48h19m188 0h19m-226 4h19m-19 8h19m-19 8h19m19 0h18m170 0h37m-225 4h18m188 0h19m207 0h19m-263 4h18m376 0h19m-432 8h19m18 0h19m-150 4h19m94 0h18m188 0h57m-489 4h19m207 0h18m94 0h19m94 0h19m-432 4h18m282 0h38m56 0h19m19 0h19m56 0h19m-545 4h37m264 0h56m56 0h19m-131 4h18m226 0h38m-489 4h19m94 0h37m320 0h19m-583 4h37m57 0h19m319 0h19m-244 4h18m76 0h18m19 0h19m207 0h19m-602 4h19m319 0h19m207 0h19m-545 4h18m188 0h19m57 0h18m207 0h19m-376 4h19m207 0h18m170 0h18m-357 4h19m19 0h19m75 0h37m57 0h37m94 0h19m-244 4h19m112 0h19m-169 4h19m94 0h19m18 0h19m75 0h38m-150 4h18m-263 4h19m132 0h18m-169 4h38m75 0h38m75 0h19m18 0h19m-470 4h19m282 0h56m170 0h18m19 0h19m-282 4h19m19 0h18m-169 4h57m56 4h38m206 0h19m-131 4h37m-150 4h19m-132 4h38m56 0h38m112 0h19m94 0h19m-357 8h19m282 0h37m-338 4h19m75 0h19m206 0h19m-451 4h19m207 0h18m170 0h37m-489 8h57m75 0h19m319 12h38m-564 4h19m150 0h38m225 0h19m-244 8h19m-57 4h19m19 0h19m75 0h19m-226 12h19m169 0h19m19 0h18m-263 4h19m338 0h19m75 4h19m-263 4h19m207 0h37m-376 4h38m75 0h19m19 0h18m19 0h19m38 0h37m-395 4h19m451 0h19m-583 4h38m169 4h19m113 0h19m188 0h18m-470 4h19m113 0h38m56 0h38m225 0h19m-263 4h19m-339 4h19m75 0h19m94 0h19m-226 4h38m37 0h19m19 0h19m94 0h19m-38 4h38m282 0h18m-545 4h19m169 0h19m94 0h19m-339 4h38m188 0h19m338 0h19m-395 4h38m207 0h37m94 0h19m-395 4h19m-226 4h19m188 0h38m-38 4h38"/>
<path stroke="#9999f6" d="M1295 923h19m19 0h19m-470 8h19m432 20h19m-470 4h19m526 0h19m-263 4h18m94 0h57m56 0h19m-545 4h19m413 0h19m94 0h19m-132 12h19m-132 4h19m75 0h38m75 0h19m-94 4h19m-489 144h19m94 20h19m432 4h19m-151 32h19m-451 24h19m188 40h19m0 4h18m-131 8h19m112 4h19m-56 28h19m206 0h38m-451 4h19m-38 4h38m56 0h19m131 0h19m339 0h18m0 4h19m-601 4h18m170 0h18m-244 4h56m151 0h19m131 0h19m-132 4h19m282 0h57m-602 4h38m169 0h19m225 0h19m-451 8h19m75 0h19m75 0h56m207 0h19m-451 4h18m395 0h19m-470 4h19m188 0h19m18 0h19m57 0h18m94 0h19m113 0h19m-583 4h19m19 0h18m57 0h19m112 0h19m188 0h19m94 0h19m-470 4h19m319 0h38m-376 4h19m75 0h37m113 0h19m94 0h19m94 0h19m-452 4h38m301 0h19m18 0h19m-451 4h19m263 0h19m207 0h18m-206 4h18m57 0h19m131 0h19m-470 4h19m188 0h19m188 0h18m-244 4h19m19 0h18m-37 4h19m225 0h19m-56 4h18m-564 4h19m19 0h19m150 0h19m338 0h19m-244 4h19m75 0h37m-432 4h19m75 0h19m207 0h18m207 4h19m-169 4h19m94 0h37m-357 4h19m301 0h18m-244 8h19m94 0h19m18 0h19m-357 4h19m188 0h19m75 0h19m18 0h19m94 0h19m-602 4h38m56 0h57m319 0h19m-169 4h19m94 0h19m-226 4h19m338 0h19m-263 4h56m38 0h19m-57 4h19m-56 4h18m57 0h19m18 0h19m-169 4h19m19 0h18m-282 4h57m131 0h19m38 0h19m18 0h19m57 0h18m94 0h19m-376 4h38m244 0h19m-395 4h19m207 0h19m18 0h19m38 0h19m-414 4h19m56 0h19m376 0h94m-263 4h19m-226 4h19m-38 4h19m207 0h19m-320 4h19m37 0h19m19 0h19m282 0h37m-188 4h19m245 0h18m-225 4h37m57 0h37m-376 4h19m19 0h19m94 0h19m75 0h19m18 0h19m19 0h19m113 0h56m-489 4h38m188 0h19m75 0h37m-432 4h19m75 0h19m169 0h19m-226 4h19m188 0h19m-339 4h19m94 0h19m226 0h18m188 0h19m-131 4h18m-470 4h19m19 0h19m75 0h19m56 0h19m207 0h19m112 0h19m-583 4h19m207 0h19m225 0h19m-470 4h38m37 0h57m207 0h18m-338 4h19m75 0h19m188 0h19m225 0h19m-395 4h19m19 0h19m75 0h37m94 0h19m57 0h18m-225 4h19m-339 8h38m56 0h38m188 4h19m188 0h37"/>
<path stroke="#b2b2f8" d="M976 903h19m338 0h19m56 0h19m-432 8h18m-131 4h19m-19 4h19m432 0h19m-451 12h18m414 0h19m-57 4h19m-432 4h19m169 0h19m206 0h19m-432 8h19m394 0h19m19 0h19m75 4h38m-19 4h19m-282 8h18m0 4h19m94 0h38m-470 4h19m394 0h19m19 0h19m94 0h19m-489 4h19m338 0h19m-169 4h18m245 0h19m-57 4h19m-545 4h19m-19 4h19m-19 84h19m94 4h18m282 24h19m-19 16h19m-225 4h18m113 4h19m-338 8h18m376 28h19m-19 44h19m-19 8h19m113 12h19m-470 8h19m300 8h19m-451 24h19m94 4h19m188 4h37m-301 16h38m38 0h18m320 0h19m-395 4h19m338 0h19m-432 4h37m132 4h37m395 0h19m-658 4h38m94 4h18m94 0h19m57 0h37m-338 4h37m76 0h18m207 0h19m56 0h19m19 0h19m-282 8h19m18 0h19m188 0h38m-451 4h18m282 0h38m56 0h38m-451 4h19m507 0h19m-338 4h18m339 0h19m-170 4h19m19 0h19m56 0h19m-545 4h19m94 4h18m-75 4h19m282 0h19m-339 4h19m94 0h19m94 0h19m225 0h19m94 0h19m-282 4h19m113 0h18m94 0h19m-489 4h38m226 0h18m-282 4h38m207 0h19m112 0h19m57 0h37m-470 4h38m75 0h19m75 0h19m207 0h37m-489 4h19m245 0h18m188 0h19m-338 4h19m-170 4h19m19 0h19m319 0h19m-489 4h38m56 0h19m207 0h38m75 0h56m94 0h19m-508 4h19m19 0h19m282 0h19m18 0h19m-169 4h38m-339 4h19m169 0h19m338 0h19m-451 4h19m282 0h19m94 0h37m-131 4h18m76 0h18m-564 4h19m75 0h38m75 0h38m75 0h19m113 0h18m-75 4h19m19 0h37m76 0h18m19 0h19m-620 4h18m339 0h19m94 0h18m113 0h19m-320 4h19m94 0h19m150 0h19m-583 4h57m225 0h38m75 0h38m113 0h18m19 0h19m-357 4h19m169 0h19m18 0h19m-395 4h19m132 0h19m75 0h19m18 0h57m19 0h18m76 0h18m-470 4h38m75 0h38m37 0h19m38 0h19m37 0h19m56 0h19m-470 4h19m207 0h37m38 0h19m56 0h19m19 0h19m37 0h19m38 0h18m19 0h19m-508 4h57m94 0h19m131 0h19m132 0h56m-583 4h19m94 0h19m169 0h19m19 0h18m19 0h38m37 0h19m-489 4h38m56 0h19m19 0h19m75 0h19m19 0h18m151 0h37m19 0h19m-526 4h18m207 0h19m94 0h19m19 0h18m57 0h75m38 0h18m19 0h19m-357 4h19m56 0h19m-245 4h19m113 0h19m150 0h38m75 0h19m19 0h18m-545 4h19m244 0h76m18 0h19m19 0h19m75 0h19m19 0h18m19 0h19m-602 4h19m301 0h38m112 0h57m56 0h19m-132 4h38m19 0h19m-433 4h19m395 0h19m-546 4h19m339 0h18m94 0h19m57 0h18m19 0h19m-263 4h19m188 0h18m19 0h19m-244 4h18m-357 4h19m508 0h18m-564 4h19m19 0h19m376 0h19m131 0h19m-357 4h19m206 0h19m57 0h18m19 0h19m-282 4h38m169 0h19m37 0h19m-602 4h19m564 0h19m-508 4h19m433 0h37m-489 4h57m282 0h19m-339 4h19m226 0h18m57 0h19m94 0h18m-564 4h19m19 0h19m282 0h19m112 0h19m57 0h18m-470 4h19m207 0h19m19 0h18m76 0h18m76 0h18m-131 4h19m131 0h19"/>
<path stroke="#ccccfb" d="M882 903h19m394 0h19m113 0h38m-564 4h18m132 0h19m150 0h19m244 0h19m-188 8h19m-38 4h38m-451 4h19m131 0h19m263 4h19m150 4h19m-188 8h38m-245 4h19m169 0h19m19 0h19m-169 4h18m207 0h38m-245 4h19m94 0h19m75 0h19m-132 4h19m-432 4h19m300 4h38m56 0h19m19 0h19m56 0h19m-207 4h19m56 0h19m94 0h19m-244 4h56m75 0h19m-451 4h19m300 0h38m188 0h38m-583 4h19m244 0h19m56 0h19m188 0h19m-564 4h19m282 0h18m94 0h19m132 0h19m-414 8h19m225 8h19m113 0h38m-583 16h19m112 0h19m395 0h19m-470 4h19m338 0h19m-320 4h19m282 12h19m-470 12h37m564 0h19m-620 4h19m169 0h19m-207 4h19m18 0h19m19 0h19m432 0h38m-132 4h19m113 0h19m-245 4h19m75 4h19m113 4h19m-583 8h19m169 0h19m338 8h38m-57 4h19m-545 12h19m150 0h19m357 0h38m-583 4h19m-19 8h19m470 0h18m57 0h19m-564 4h18m282 0h38m-357 8h19m-19 8h19m282 0h18m94 12h19m-432 16h19m507 0h38m-564 12h19m319 0h19m56 0h19m-94 4h19m-301 4h19m508 0h18m-601 4h19m-19 12h19m-19 4h19m545 0h19m-583 4h19m394 4h19m-357 4h19m319 4h19m94 0h19m19 0h19m-583 4h19m507 4h19m19 0h19m-264 4h19m0 4h19m-226 4h19m263 0h19m-282 4h19m113 0h19m0 12h18m94 8h38m-113 12h19m75 8h19m-451 8h19m56 0h19m395 0h18m-526 4h19m37 0h38m38 0h18m282 0h19m-376 4h19m38 0h18m282 0h19m-451 4h19m19 0h18m38 0h38m112 0h19m-188 4h19m376 0h19m131 0h38m-602 4h19m38 8h19m94 0h37m-37 4h18m-244 8h19m113 0h18m282 0h19m-395 12h19m282 8h19m132 0h18m113 0h19m-508 4h19m151 0h18m226 0h19m-545 8h18m0 4h19m113 0h19m-151 4h19m19 0h19m37 0h19m320 0h19m-452 4h57m56 0h38m-151 8h19m94 0h19m414 0h56m-583 8h19m75 0h19m320 0h18m76 0h18m-601 4h19m601 0h19m-602 4h19m19 0h19m37 0h38m113 0h19m-282 4h37m19 0h19m56 0h19m-132 4h19m320 0h37m-338 4h19m301 0h18m38 4h19m-57 4h19m75 0h19m-395 4h19m226 0h19m131 0h38m19 0h18m-300 4h18m38 0h19m113 0h37m19 0h19m37 0h19m-545 4h19m75 0h19m75 0h19m37 0h19m57 0h18m38 0h19m19 0h18m-357 4h19m75 0h19m56 0h57m-94 4h19m150 0h19m19 0h18m76 0h18m-564 4h19m282 0h19m38 0h18m132 0h19m-489 4h19m207 0h56m94 0h38m-452 4h19m75 0h19m94 0h38m207 0h18m57 0h37m19 0h19m-639 4h37m301 0h19m56 0h38m56 0h19m-395 4h57m150 0h19m207 0h19m18 0h19m-489 4h38m94 0h19m150 0h38m131 0h38m-639 4h19m37 0h19m169 0h19m263 0h19m19 0h19m37 0h19m-620 4h37m226 0h37m207 0h19m56 0h19m-601 4h18m113 0h19m75 0h38m56 0h19m132 0h18m57 0h19m-546 4h38m94 0h19m56 0h19m150 0h19m-395 4h57m432 0h19m-489 4h38m263 0h19m-245 4h19m245 0h18m57 0h19m112 0h19m-583 4h38m56 0h19m357 0h19m-56 4h37m-488 4h18m94 0h19m357 0h19m75 0h19m-489 4h19m207 0h19m113 0h18m-112 4h18m57 0h37m19 0h38m-207 4h38m206 0h19m-131 4h18m-150 4h19m113 0h18m94 0h19m-583 4h38m56 0h19m19 0h19m169 0h19m225 0h19m-489 4h19m19 0h19m282 0h37m-37 4h19m18 0h19m94 0h19m-508 4h19m245 0h18"/>
<path stroke="#e6e6fd" d="M863 903h19m263 0h56m170 0h37m-545 4h19m131 0h19m38 0h19m94 0h37m151 0h18m-470 4h19m19 0h19m432 0h38m-151 4h19m-169 8h19m263 0h38m-414 8h19m75 0h19m19 0h18m151 0h19m18 0h19m94 0h19m-639 4h19m300 0h38m75 0h19m-451 8h19m413 0h19m-132 4h38m75 0h19m113 0h19m-583 4h19m282 0h18m19 0h19m56 0h19m-131 4h56m94 0h19m56 0h19m-282 4h19m-282 8h19m282 0h18m226 0h38m-170 8h19m94 0h19m-526 4h18m-18 8h18m94 0h19m-131 4h18m94 0h19m301 8h19m56 0h19m-226 12h19m-169 4h19m225 0h19m19 0h19m56 0h19m19 0h19m-151 4h19m75 0h38m19 0h18m-94 4h19m-526 12h19m-19 8h19m18 0h19m19 0h19m207 0h18m207 0h19m-244 4h18m19 0h19m113 0h19m-470 4h18m339 0h19m75 0h56m-207 4h19m75 0h19m19 0h19m-470 4h19m394 0h19m94 0h38m-414 4h19m338 0h19m-470 4h19m75 0h38m75 0h19m19 0h18m-319 4h19m601 4h19m-338 4h18m94 0h57m-470 4h19m526 0h19m-113 4h19m56 0h19m0 4h19m-263 4h56m-207 4h19m-113 4h19m56 0h19m151 0h18m113 0h19m-432 4h18m376 4h19m-169 4h56m207 0h19m-244 4h18m132 0h19m19 0h18m57 0h19m-57 4h38m-282 4h19m112 0h19m132 0h19m-583 4h19m319 4h19m-357 4h19m150 0h19m225 0h19m-432 4h19m282 4h18m-319 4h19m545 0h19m-583 4h19m-19 4h19m526 0h19m-245 4h38m207 0h19m-57 8h19m-244 4h37m-37 4h18m-244 4h19m244 0h19m-56 4h18m94 0h19m94 0h19m75 0h19m-226 4h19m-94 4h19m-338 4h18m245 0h37m19 0h19m56 0h19m94 0h19m-526 4h18m264 4h56m169 4h19m19 0h19m-527 4h19m-75 4h19m300 0h38m19 0h19m150 0h19m-564 8h19m282 0h18m-319 4h19m282 0h18m94 0h19m-432 4h19m282 0h18m94 0h19m-432 4h19m150 0h19m357 0h19m-433 4h19m19 0h19m413 0h19m-207 8h19m19 4h19m-470 4h19m507 4h19m19 0h19m-245 4h19m-357 16h19m225 0h19m-113 4h19m150 0h19m113 0h56m19 0h38m-433 4h38m338 0h19m38 0h19m-452 4h19m376 4h19m-545 4h19m94 0h18m452 0h18m-564 4h19m19 0h19m19 0h18m301 0h19m132 0h18m-526 4h19m19 8h18m-18 4h18m-18 4h18m320 4h19m-470 8h19m94 0h18m-18 4h18m282 0h19m-432 8h56m188 0h19m38 0h37m75 0h57m-414 4h19m94 0h19m150 0h19m169 0h19m-526 4h37m75 0h57m244 0h38m-433 4h19m0 4h19m357 0h19m19 0h19m131 0h19m-583 4h19m376 0h19m-339 8h19m19 0h19m225 0h19m38 0h37m19 0h57m-527 4h38m319 0h19m-432 4h19m131 0h19m263 0h19m132 0h37m-620 4h19m18 0h19m19 0h19m-75 4h18m38 0h19m319 0h19m-263 4h19m301 0h18m113 0h19m-639 4h19m37 0h19m489 0h19m-527 4h38m-75 4h18m376 4h19m113 0h19m-113 4h19m-451 4h18m38 0h19m56 0h38m56 0h19m19 0h19m37 0h38m19 0h37m19 0h56m57 0h19m-564 4h18m94 4h19m94 0h19m150 0h19m94 0h75m-582 4h18m38 0h19m75 0h19m75 0h19m244 0h19m19 0h19m18 0h19m-601 4h37m19 0h19m75 0h19m113 0h18m19 0h19m56 0h19m38 0h19m75 0h19m-564 4h18m414 0h19m94 0h19m-226 4h56m94 0h19m-451 4h19m432 0h38m37 0h19m-301 4h19m-282 4h19m188 0h19m19 0h18m-282 4h19m19 0h19m225 0h19m38 0h19m75 0h37m19 0h19m19 0h37m-319 4h75m56 0h19m169 0h19m-620 4h19m225 0h19m132 0h18m151 0h19m-527 4h38m37 0h19m132 0h37m94 0h19m19 0h38m-470 4h18m38 0h19m37 0h19m113 0h19m37 0h38m75 0h19m94 0h19m-564 4h37m282 0h38m188 0h19m-414 8h19m320 0h37m-357 4h19m282 0h37m-451 8h19m75 0h38m207 0h18m170 0h18m-300 4h18m57 0h19m-76 4h38m226 0h37m-601 4h18m433 0h56m-376 4h19m301 0h19m18 0h19m-451 8h19m-38 4h19m75 0h19m188 0h19m19 0h18m188 0h38m-38 4h19m-470 4h38m169 0h19m113 0h37"/>
<path stroke="#ffffff" d="M901 903h18m207 0h19m75 0h19m75 0h19m19 0h19m-433 4h19m75 0h19m75 0h38m169 0h19m75 0h19m-564 4h19m131 0h19m150 0h19m94 0h38m94 0h37m-582 4h18m414 0h38m-188 4h37m-207 4h19m151 0h56m-357 4h19m225 0h57m-19 4h19m18 0h19m188 0h38m-263 4h18m207 0h57m-564 4h18m508 0h38m-282 4h37m169 0h19m-19 4h19m57 0h56m-620 4h18m339 4h19m-376 4h18m433 0h19m-470 4h18m-18 4h18m-18 4h18m0 4h38m226 0h18m-37 4h19m-57 4h19m19 0h19m-151 4h19m132 0h56m56 0h19m-395 4h19m188 4h19m169 0h19m-451 4h19m56 0h19m338 0h19m-132 4h19m75 0h57m-470 4h19m112 0h19m151 0h18m94 0h19m-432 4h19m37 0h19m357 0h19m113 0h19m-339 4h19m357 0h19m-583 4h38m37 0h19m151 0h18m19 0h19m56 0h19m38 0h19m-470 4h18m414 0h38m-188 4h18m19 0h19m-357 4h56m357 0h57m-433 4h19m188 0h19m38 0h56m75 0h19m150 0h38m-602 4h19m19 0h19m432 0h57m18 0h19m-601 4h18m19 0h19m94 0h19m150 0h19m188 0h19m-527 4h38m244 0h19m38 0h19m18 0h38m38 0h37m57 0h18m19 0h19m-602 4h57m207 0h18m19 0h19m169 0h38m-545 4h18m19 0h19m169 0h19m38 0h18m19 0h19m19 0h19m37 0h19m19 0h19m18 0h19m38 0h19m37 0h19m-620 4h18m113 0h19m188 0h19m75 0h19m37 0h19m-526 4h19m282 0h37m132 0h37m-507 4h37m38 0h19m37 0h19m301 0h19m-451 4h18m207 0h19m19 0h19m112 0h19m19 0h19m75 0h19m-301 4h19m37 0h19m75 0h19m19 0h19m94 0h19m-546 4h19m19 0h19m244 0h19m-338 4h18m282 0h38m94 0h19m56 0h19m-244 4h18m19 0h19m56 0h19m132 4h19m-564 4h18m395 0h19m75 0h19m19 0h19m-583 4h19m150 0h19m131 0h19m-301 4h19m94 0h19m94 0h19m56 0h38m150 0h19m38 0h18m-188 4h19m-131 4h18m0 4h57m169 0h19m-564 4h19m37 0h19m320 0h18m57 0h19m56 0h19m19 0h18m-451 4h19m244 0h19m-357 4h19m56 0h19m376 0h19m-545 4h18m339 0h37m151 0h19m-264 4h19m-263 4h19m225 0h19m113 0h19m-451 4h18m264 0h18m19 0h19m56 0h19m38 0h19m18 0h19m19 0h19m-564 4h19m300 0h38m-338 4h18m376 0h19m94 0h19m-132 8h19m132 0h56m-601 4h18m564 0h38m-508 4h19m263 0h19m-432 4h19m131 0h38m113 0h18m19 0h19m56 0h19m-413 4h56m357 0h57m37 0h19m75 0h19m-639 4h19m131 0h19m150 0h19m207 0h19m-263 4h18m207 0h19m19 0h19m18 0h38m-620 4h18m282 0h38m207 0h19m-583 4h19m150 0h19m75 0h19m19 0h18m132 0h38m112 0h19m-545 4h19m225 0h19m-19 4h19m57 0h18m151 0h19m-245 4h19m169 0h19m-113 4h19m19 0h19m37 0h19m-545 4h19m357 0h19m150 0h19m-113 4h19m37 0h19m-376 4h19m432 0h38m-508 4h19m263 0h19m113 0h38m-264 4h19m-319 4h18m433 0h37m113 0h19m-320 4h19m38 0h19m112 0h19m-376 4h19m263 0h19m169 0h19m-639 4h19m225 0h19m169 0h38m37 0h19m38 0h37m-545 4h38m225 0h38m56 0h19m94 0h19m19 0h19m-452 4h19m376 0h19m-414 4h19m169 0h19m94 0h19m56 0h19m-94 4h19m-451 4h19m282 0h18m132 0h19m37 0h19m-207 4h19m38 0h19m150 0h19m56 0h19m-564 4h19m225 0h19m169 0h19m-507 4h18m38 0h19m338 0h19m38 0h18m94 0h19m-601 4h18m301 0h19m38 0h37m151 0h18m-338 4h19m56 0h19m150 0h76m-452 4h19m357 0h19m38 0h37m-282 4h19m151 4h37m19 0h38m-452 4h19m282 0h38m75 0h19m-527 4h38m338 0h19m19 0h19m-57 4h19m-376 4h19m19 12h19m-57 8h19m38 4h18m358 4h18m-451 4h19m56 4h19m357 0h19m-451 4h19m432 0h19m-226 4h19m226 0h19m-527 4h38m451 0h19m-564 4h19m37 0h19m376 0h19m94 0h19m-564 4h18m38 0h19m-94 4h19m470 0h37m-526 4h19m300 0h19m113 0h19m56 0h38m-564 4h37m113 0h19m282 0h19m37 0h19m-507 8h18m301 0h19m56 0h19m19 0h19m-451 4h18m414 0h19m56 0h38m-527 4h38m226 0h18m226 0h38m-264 4h19m113 0h38m18 0h19m-225 4h18m113 0h19m-320 4h19m263 0h57m131 0h38m-583 4h19m-56 4h18m527 0h19m-546 4h38m226 0h56m75 0h19m-451 4h19m18 0h19m245 0h18m188 0h19m-526 4h19m507 0h19m19 0h19m-546 4h38m75 0h19m132 0h18m19 0h38m-339 4h38m226 0h18m226 0h19m-564 4h19m37 0h19m451 0h38m-545 8h56m338 0h19m57 0h18m57 0h19m-564 4h18m414 4h19m-470 4h19m18 0h19m226 0h19m18 0h19m75 0h57m75 0h19m-320 4h19m75 0h19m38 0h37m75 0h19m19 0h19m-545 4h37m414 0h37m-244 4h19m-113 4h19m207 0h18m19 0h19m-451 4h19m131 0h19m132 0h18m132 0h19m-169 4h18m-319 4h37m508 0h19m-226 8h19m-357 8h19m376 4h18m-432 8h19m-19 8h19m37 16h38"/>
<path stroke="#fde6e6" d="M919 903h19m19 0h19m75 0h19m131 0h19m57 0h18m170 0h56m-602 4h19m19 0h19m282 0h19m37 0h19m56 0h38m38 0h18m19 0h19m-583 4h19m94 0h19m56 0h19m19 0h37m38 0h19m19 0h37m-37 4h18m94 0h19m19 0h19m-395 4h19m94 0h19m37 0h19m150 0h19m75 0h19m-601 4h75m150 0h19m19 0h19m225 0h19m-395 8h19m226 0h18m76 0h18m57 0h19m-452 4h38m132 4h37m38 0h19m131 0h19m-508 4h19m75 0h19m188 0h19m226 0h37m-601 4h56m320 0h18m76 0h18m-470 4h19m-37 4h18m226 0h19m113 0h18m-169 4h19m320 0h18m-564 4h19m433 0h18m-432 4h19m376 12h19m18 0h19m-507 4h18m245 4h19m75 0h19m37 0h38m-395 4h19m319 0h38m56 0h19m38 0h19m-583 4h19m244 0h19m19 0h18m57 0h19m18 0h19m19 0h19m94 0h19m-564 4h37m113 0h19m169 0h38m-151 4h19m75 0h19m244 0h19m-601 4h37m320 0h19m37 0h19m56 0h19m38 0h19m-546 4h19m19 0h19m75 0h19m357 0h19m-545 4h18m113 0h19m150 0h19m94 0h19m-451 4h19m131 0h19m395 0h19m37 0h19m-639 4h19m37 0h19m56 0h19m19 0h19m188 0h19m37 0h19m75 0h19m-526 4h18m282 0h19m226 0h19m-320 8h19m113 0h37m38 0h19m18 0h57m-564 4h37m19 0h19m56 0h38m113 0h19m37 0h19m56 0h19m19 0h19m19 0h37m57 0h18m19 0h19m-508 4h19m263 0h19m151 0h56m-564 4h19m37 0h19m19 0h19m56 0h19m132 0h18m-150 4h38m18 0h19m19 0h19m19 0h37m132 0h19m18 0h19m-489 4h38m113 0h19m56 0h19m207 0h37m-357 4h19m37 0h38m19 0h37m170 0h18m-582 4h18m94 0h19m19 0h19m225 0h19m19 0h19m56 0h19m-508 4h19m188 0h19m19 0h19m37 0h19m226 0h56m-564 4h19m169 0h19m150 0h19m-169 4h37m113 0h19m75 0h38m19 0h37m-601 4h18m19 0h19m432 0h19m-263 4h56m94 0h38m19 0h19m18 0h19m38 0h19m-583 4h37m38 0h19m37 0h19m113 0h38m18 0h19m94 0h19m19 0h19m131 0h19m-639 4h37m19 0h19m75 0h19m75 0h38m94 0h19m188 0h56m-376 4h19m0 4h37m94 0h19m151 0h18m-282 4h19m38 0h19m56 0h75m75 0h38m-564 4h19m37 0h57m75 0h19m19 0h37m-19 4h19m113 0h19m-451 4h18m132 0h19m56 0h19m132 0h18m-263 4h19m94 0h38m56 0h19m150 0h19m56 0h19m-620 4h19m282 0h56m94 0h19m94 0h19m-527 4h19m56 0h19m151 0h37m132 0h19m94 0h18m-188 4h19m94 0h19m75 0h19m-583 4h19m338 0h19m94 0h38m19 0h37m-601 4h18m19 0h19m263 0h19m207 0h19m-414 4h19m56 0h19m56 0h19m19 0h19m150 0h19m19 0h19m-414 4h19m188 0h19m56 0h19m37 0h19m19 0h19m-545 8h18m132 0h19m225 0h19m113 0h19m-433 4h38m113 0h37m19 0h19m132 0h18m19 0h19m75 0h19m-602 4h38m56 0h19m19 0h19m75 0h19m19 0h18m113 0h38m113 0h18m-601 4h19m131 0h19m150 0h94m113 0h19m19 0h19m-264 4h19m226 0h19m37 0h19m-263 4h19m150 0h19m19 0h18m-526 4h19m282 0h19m-358 4h19m113 0h19m75 0h38m18 0h19m19 0h19m75 0h19m75 0h19m19 4h37m-583 4h38m56 0h19m132 0h19m18 0h38m19 0h19m169 0h19m-583 4h75m226 0h18m38 0h75m132 0h75m-489 4h19m75 0h38m263 0h19m56 0h19m-226 4h19m19 0h19m19 0h18m38 0h19m-545 4h18m94 0h57m169 0h19m19 0h18m76 0h18m57 0h19m-546 4h19m75 0h38m263 0h38m-433 4h19m207 0h38m18 0h38m19 0h37m113 0h19m19 0h19m18 0h19m-601 4h18m264 0h18m76 0h18m19 0h19m132 0h18m-432 4h19m244 0h19m-432 4h18m94 0h19m188 0h38m94 0h19m94 0h18m19 0h19m-301 4h19m150 0h19m19 0h38m-564 4h18m395 0h19m19 0h37m19 0h19m-489 4h19m244 0h19m19 0h19m94 0h19m37 0h19m19 0h56m-601 4h18m38 0h19m207 0h18m151 0h19m37 0h19m-545 4h19m18 0h19m75 0h19m151 0h18m226 0h19m-527 4h19m113 0h19m357 0h38m-583 4h94m75 0h19m94 0h19m37 0h19m169 0h19m38 0h37m-545 4h19m37 0h38m169 0h75m38 0h19m113 0h37m-601 4h18m38 0h19m56 0h19m169 0h75m57 0h37m38 0h19m-564 4h19m282 0h18m76 0h18m19 0h38m94 0h56m-583 4h19m75 0h57m113 0h18m57 0h19m18 0h19m19 0h19m56 0h19m19 0h37m19 0h19m-639 4h19m150 0h19m263 0h38m18 0h19m-526 4h19m37 0h38m75 0h19m113 0h18m188 0h38m19 0h19m18 0h38m-620 4h18m245 0h19m18 0h19m75 0h19m19 0h19m-470 4h19m394 0h38m150 0h38m-338 4h18m207 0h38m-414 4h38m56 0h19m38 0h56m113 0h19m-339 4h19m132 0h18m19 0h19m113 0h37m-75 4h19m75 4h19m-395 4h19m338 0h19m-489 4h57m150 4h19m207 8h19m0 16h18m-470 4h57m451 4h38m-583 4h19m-19 4h19m319 0h19m169 0h19m19 0h19m-508 4h19m207 0h37m94 0h19m75 0h19m-132 4h19m-413 4h18m489 0h19m-132 4h19m132 0h19m-264 4h19m-338 4h19m319 0h19m169 0h19m-132 8h38m-320 4h57m131 0h38m75 0h38m56 0h19m-545 4h37m301 0h19m56 0h38m94 0h19m-245 4h19m75 0h19m19 0h19m56 0h38m-395 4h19m-188 4h19m545 0h19m-583 4h19m319 0h19m169 0h19m-545 4h19m56 0h19m-38 4h19m301 8h19m225 0h19m-639 4h19m-19 8h19m526 4h19m-564 4h19m282 0h56m-357 12h37m19 0h19m226 0h18m188 4h19m-526 8h19m206 8h19m-263 4h19m301 0h56m-376 4h38m56 4h19m-113 4h19m94 0h19m225 0h19m150 0h19m-545 4h19m545 0h19m-226 4h19m56 0h38m-451 4h37m-37 4h19m394 0h19m94 0h19m-545 4h37m282 0h38m75 0h38m56 0h19m-545 4h37m282 0h19m75 0h38m75 0h19m-545 4h37m376 0h19m-451 8h19m75 4h19m225 0h19m113 0h19"/>
<path stroke="#fbcccc" d="M1013 903h19m207 0h38m-113 4h19m56 0h19m37 0h19m38 0h19m75 0h19m-564 4h18m94 0h19m113 0h19m56 0h19m19 0h19m-76 4h38m132 0h18m19 0h19m19 0h19m-546 4h19m19 0h19m37 0h38m301 0h19m37 0h19m-150 4h18m57 0h56m75 0h38m-620 4h18m19 0h38m207 0h56m-301 4h19m56 0h19m188 0h19m-338 4h18m132 0h19m56 0h19m19 0h19m169 0h19m18 0h19m-489 4h19m19 0h19m75 0h19m207 0h18m94 0h19m75 0h19m-601 4h18m38 0h19m150 0h19m113 0h37m57 0h19m37 0h19m-470 4h19m56 0h38m75 0h38m169 0h19m-245 4h57m319 0h19m-602 4h19m94 0h19m75 0h19m19 0h19m56 0h19m94 0h19m131 0h19m-150 4h37m-451 4h19m413 0h19m-263 8h38m94 0h18m94 0h19m-507 4h18m358 0h18m76 0h18m-470 4h19m188 0h19m226 0h18m-244 4h19m338 0h19m-602 4h57m75 0h19m56 0h19m94 0h19m150 0h38m19 0h18m-300 4h18m19 0h19m19 0h19m56 0h19m56 0h38m-527 4h38m263 0h19m38 0h18m132 0h19m37 0h19m-489 4h19m188 0h19m38 0h18m57 0h19m18 0h19m-526 4h37m19 0h38m188 0h19m225 0h19m75 0h19m-583 4h19m244 0h57m19 0h18m38 0h19m19 0h18m19 0h19m-526 4h18m320 0h38m56 0h19m56 0h19m-282 4h19m19 0h18m19 0h19m-338 4h37m113 0h19m131 0h19m263 0h19m-583 4h19m19 0h19m150 0h94m19 0h19m169 0h38m-583 4h19m56 0h19m150 0h19m132 0h18m57 0h56m19 0h19m19 0h37m-545 4h19m225 0h19m38 0h19m150 0h19m-545 4h18m19 0h38m37 0h19m207 0h38m169 0h37m-357 4h38m19 0h37m38 0h19m37 0h19m19 0h19m-339 4h19m75 0h19m19 0h19m18 0h19m38 0h19m37 0h38m94 0h19m-433 4h19m113 0h19m56 0h19m75 0h19m56 0h19m-414 4h19m19 0h19m56 0h19m320 0h18m19 0h19m-244 4h18m-338 4h19m75 0h19m56 0h19m38 0h18m151 0h19m112 0h38m-602 4h19m301 0h56m19 0h19m94 0h38m-264 4h19m19 0h38m18 0h19m94 0h38m-527 4h19m245 0h18m19 0h19m132 0h18m19 0h19m-526 4h18m94 0h19m188 0h19m-75 4h19m18 0h19m132 0h37m19 0h57m18 0h38m-602 4h19m188 0h19m94 0h56m76 0h18m94 0h19m-564 4h19m169 0h19m113 0h19m112 0h19m57 0h37m-583 4h19m113 0h19m131 0h19m19 0h19m75 0h19m-470 4h19m131 0h38m56 0h19m19 0h19m244 0h19m-527 4h57m37 0h19m188 0h19m113 0h37m-488 4h18m38 0h19m150 0h19m19 0h19m-264 4h38m301 0h37m38 0h19m75 0h19m-564 4h19m131 0h19m75 0h19m19 0h19m37 0h19m19 0h19m169 0h19m-546 4h19m19 0h19m56 0h19m207 0h19m75 0h19m18 0h19m57 0h18m-526 4h19m37 0h19m94 0h19m113 0h19m37 0h19m56 0h19m94 0h19m-620 4h18m132 0h19m75 0h19m207 0h18m76 0h18m19 0h19m-620 4h37m113 0h19m56 0h38m94 0h37m207 0h19m-583 4h19m94 0h19m94 0h37m38 0h19m131 0h19m-376 4h38m301 0h18m57 0h19m37 0h19m-602 4h19m94 0h19m113 0h37m76 0h18m57 0h19m37 0h38m-433 4h38m207 0h19m94 0h18m-470 4h38m56 0h19m113 0h19m113 0h18m57 0h19m37 0h19m19 0h19m37 0h19m-564 4h19m37 4h19m151 0h18m170 0h18m19 0h19m-376 4h19m56 0h19m94 0h19m-226 4h19m113 0h19m56 0h19m-207 4h19m56 0h38m19 0h18m113 0h19m94 0h19m-508 4h19m56 0h19m94 0h19m19 0h19m244 0h19m19 0h37m-545 4h19m37 0h19m19 0h19m56 0h19m244 0h19m38 0h19m-564 4h18m94 0h19m19 0h19m169 0h19m37 0h19m94 0h19m19 0h19m-452 4h19m94 0h19m169 0h19m19 0h19m-452 4h19m19 0h19m301 0h18m57 0h19m56 0h19m-489 4h19m56 0h19m188 0h19m150 0h38m-433 4h38m-132 4h19m19 0h19m282 0h19m75 0h37m76 0h37m-376 4h19m19 0h56m19 0h19m56 0h19m150 0h19m-583 4h19m19 0h19m150 0h19m113 0h19m150 0h19m19 0h37m-601 4h18m207 0h38m75 0h19m19 0h18m188 0h19m-489 4h57m113 0h18m38 0h19m56 0h19m19 0h19m56 0h19m19 0h18m19 0h19m-376 4h38m56 0h19m75 0h19m-451 4h18m38 0h19m56 0h19m150 0h38m19 0h19m56 0h19m56 0h19m-376 4h19m56 0h19m132 0h18m-282 4h19m94 0h38m75 0h56m19 0h38m113 0h18m-526 4h19m56 0h38m94 0h19m56 0h19m188 0h19m37 0h19m-620 4h18m264 0h18m19 0h19m38 0h18m38 0h19m37 0h19m-489 4h19m207 0h19m37 0h57m19 0h18m76 0h18m38 0h19m56 0h19m-620 4h18m113 0h38m75 0h19m301 0h18m19 0h19m-639 4h19m37 0h19m75 0h19m132 0h56m75 0h19m38 0h18m-357 4h19m75 0h38m75 0h75m38 0h19m56 0h19m-545 4h37m113 0h19m56 0h19m38 0h18m94 0h19m38 0h19m37 0h19m19 0h19m37 0h19m-508 4h19m19 0h19m75 0h38m18 0h19m282 0h19m-620 4h18m132 0h19m94 0h19m112 0h19m-432 4h37m226 0h19m56 0h38m56 0h19m150 0h19m-583 4h38m56 0h19m94 0h19m19 0h19m112 0h19m94 0h57m-546 4h19m75 0h38m263 0h38m75 0h19m-527 4h19m19 0h19m37 0h19m207 0h19m19 0h18m57 0h19m94 0h37m-564 4h38m75 0h19m56 0h19m38 0h18m38 0h56m-169 4h19m19 0h19m37 0h19m19 0h37m-150 4h19m113 0h18m-94 4h19m169 0h19m0 4h57m-264 4h38m19 0h19m169 0h19m-452 4h19m19 0h19m282 0h19m-452 8h19m75 0h19m19 0h19m301 0h18m-432 4h19m75 0h19m282 0h37m-470 4h38m94 0h19m-113 4h19m56 0h38m-151 4h19m433 0h37m-470 4h38m376 4h19m-320 4h19m-169 8h18m414 0h19m-169 4h18m94 0h19m-319 4h18m207 0h19m56 0h19m113 0h19m-113 4h19m-132 4h19m56 0h19m113 0h38m-564 4h18m264 0h18m19 0h19m75 0h19m-150 4h18m-18 4h37m94 0h19m113 0h19m-38 4h19m-470 4h19m206 0h38m207 0h19m-282 8h18m207 0h19m-207 4h19m-357 4h37m113 0h19m132 0h18m207 0h19m-244 4h18m132 0h19m75 0h19m-564 36h19m56 12h19m131 8h19m207 20h19m56 0h19m-526 4h18m-18 4h18m264 0h37m188 0h19m-545 4h37m282 0h19m207 0h19m-545 8h18m282 0h19m226 0h19m-602 4h19m113 0h18m170 0h18m132 0h19m-19 4h19m94 0h19m-282 4h18m245 0h19m-132 4h19m-489 4h19m338 0h19m75 0h38m75 0h19m-564 4h19m94 0h18m395 0h19m-545 4h19m282 0h18m94 0h57m56 0h19m-19 4h19"/>
<path stroke="#f9b2b2" d="M938 903h19m75 0h19m226 4h18m-432 4h19m489 0h37m75 0h38m-602 4h19m19 0h19m150 0h57m56 0h19m-357 4h18m19 0h19m169 0h19m226 0h18m38 0h56m-244 4h38m188 0h18m-131 4h19m75 0h19m18 0h19m-583 4h19m19 0h19m150 0h19m94 0h38m-132 4h19m75 0h19m19 0h18m-282 4h19m94 0h57m37 0h38m113 0h18m76 0h18m-545 4h19m75 0h19m188 0h19m169 0h38m37 0h19m-508 4h19m94 0h19m-207 4h19m56 0h19m357 0h19m57 0h37m-564 4h38m37 0h19m19 0h19m301 0h37m57 0h18m-564 4h19m94 0h38m94 0h19m300 0h38m-583 4h19m56 0h57m169 0h19m244 0h19m-602 4h38m414 4h18m76 0h18m19 0h19m-564 4h19m263 0h19m-301 4h19m263 0h38m-38 4h38m75 0h37m76 0h18m-338 4h19m113 0h18m151 0h19m37 0h19m-583 4h19m244 0h19m19 0h19m19 0h18m57 0h37m76 0h37m-601 4h18m38 0h19m37 0h38m113 0h19m56 0h19m94 0h37m19 0h19m75 0h19m-583 4h19m75 0h19m75 0h19m19 0h56m151 0h18m-470 4h19m245 0h18m226 0h56m-526 4h19m188 0h19m169 0h19m56 0h19m19 0h37m-470 4h19m113 0h19m94 0h18m57 0h37m94 0h19m-583 4h57m188 0h19m56 0h56m57 0h19m112 0h19m-357 4h38m56 0h19m113 0h18m-169 4h19m132 0h18m76 0h56m-583 4h19m56 0h19m19 0h19m75 0h19m75 0h19m37 0h19m19 0h19m56 0h19m-395 4h38m113 0h18m76 0h18m188 0h19m-470 4h19m113 0h19m-132 4h19m169 0h19m19 0h18m-150 4h19m75 0h19m19 0h18m-150 4h19m-132 4h19m263 0h38m-301 4h19m75 0h19m207 0h18m-451 4h19m56 0h19m132 0h19m188 0h18m-451 4h19m169 0h19m320 0h56m-583 8h19m75 0h19m150 0h19m19 0h19m19 0h18m57 0h19m-320 4h19m56 0h19m244 0h19m-357 4h19m395 0h18m-451 8h19m188 0h19m113 0h18m-432 4h19m37 0h19m132 0h19m94 0h37m57 0h18m-451 4h19m56 0h19m245 0h37m19 0h56m-244 4h19m94 0h19m37 0h38m37 0h19m-131 4h18m-169 4h19m19 0h19m37 0h38m56 0h19m38 0h18m19 0h19m19 0h37m-432 4h19m75 0h19m188 0h75m-489 4h19m56 0h19m263 0h19m169 0h38m-602 4h19m188 4h19m19 0h19m75 0h19m37 0h19m56 0h19m-169 4h19m75 0h19m19 0h18m94 0h19m-583 4h19m19 0h19m56 0h19m75 0h38m56 0h19m75 0h19m94 0h19m19 0h18m-470 4h19m113 0h38m-170 4h19m207 0h38m37 0h19m38 0h37m-451 4h19m301 0h18m170 0h18m-582 4h18m38 0h19m56 0h19m75 0h19m19 0h19m188 0h18m76 0h18m-357 4h75m38 0h19m19 0h18m19 0h75m76 0h18m-338 4h19m37 0h38m19 0h19m37 0h38m94 0h19m-546 4h19m19 0h19m169 0h19m-207 4h19m150 0h19m113 0h37m76 0h37m-507 4h18m245 0h19m169 0h19m-470 4h18m226 0h19m94 0h19m37 0h38m19 0h37m-376 4h19m94 0h38m94 0h18m76 0h18m94 0h19m-583 4h38m357 0h19m132 0h18m19 0h19m-263 4h37m-282 4h19m19 0h19m94 0h19m56 0h19m56 0h19m56 0h19m-507 4h18m358 0h18m76 0h18m76 0h18m-432 4h19m56 0h38m150 0h38m37 0h57m-508 4h19m56 0h19m207 0h19m56 0h38m37 0h19m-357 4h19m75 0h19m113 0h18m57 0h19m18 0h19m57 0h18m-338 4h38m206 0h19m94 0h19m-583 4h38m188 0h19m169 0h19m-245 4h19m226 0h18m-470 4h19m75 0h19m19 0h19m75 4h19m19 0h18m38 0h19m19 0h18m76 0h37m57 0h18m-451 4h19m207 0h19m94 0h18m94 0h19m-583 4h38m94 0h19m94 0h19m225 0h19m-508 4h19m188 0h38m169 0h19m131 0h19m-545 4h19m150 0h19m113 0h19m-339 4h19m301 0h19m-151 4h19m207 0h19m112 0h19m-601 4h18m38 0h19m169 0h19m75 0h38m56 0h19m37 0h19m-37 4h18m57 0h19m37 0h19m-583 4h19m207 0h19m18 0h19m207 0h19m-508 4h19m169 0h19m320 0h37m-583 4h19m75 0h38m188 0h19m150 0h19m-489 4h19m169 0h19m19 0h19m94 0h18m57 0h37m38 0h19m-414 4h19m94 0h19m94 0h37m170 0h18m19 0h19m-395 4h19m19 0h19m18 0h19m19 0h38m75 0h19m-433 4h19m75 0h38m113 0h18m57 0h19m94 0h18m113 0h19m-602 4h19m207 0h19m56 0h19m-188 4h19m75 0h19m75 0h19m-94 4h19m75 0h19m-132 8h19m19 0h37m132 0h19m-339 4h19m75 0h19m38 0h18m38 0h19m131 0h19m19 0h19m-75 4h18m-376 4h19m19 0h19m319 0h19m-470 4h38m56 0h19m94 0h38m169 0h19m18 0h19m-470 4h19m301 0h19m112 0h19m-451 4h19m395 0h18m-470 4h19m75 0h19m-94 4h38m263 4h19m131 0h19m75 0h19m-545 4h19m413 0h19m-376 4h19m301 0h37m113 0h19m-226 8h38m-132 4h19m-338 8h19m282 0h37m188 0h57m-282 4h37m94 0h19m-113 8h19m94 4h19m75 0h19m-245 4h19m188 0h19m-244 4h18m245 8h19m-245 12h19m56 0h38m-150 4h37m-338 16h37m188 24h19m-131 32h18m282 0h38m113 0h19m-282 4h37m226 0h19m-170 4h19m113 0h38m-470 4h18m170 0h18m94 0h19m94 0h19m19 0h19m-151 4h38m56 0h19m19 0h19m-602 4h38m432 0h19m75 0h19m-151 4h19m-338 4h19m112 0h19m188 0h19m94 0h19m-583 4h19m413 0h19m-244 4h19m94 0h18m19 0h19m188 0h38m-489 4h37m-112 4h18m376 0h38m94 0h38m-564 4h18m282 0h38m188 0h19m-564 4h37m264 0h18m19 0h19m188 0h19"/>
<path stroke="#f79999" d="M1032 915h38m188 0h19m206 0h19m-357 4h19m75 0h19m19 0h18m207 0h19m-602 8h19m75 0h38m188 0h19m113 0h37m19 0h19m19 0h18m-526 8h19m282 0h19m94 0h18m76 0h56m-583 4h19m75 0h19m94 4h19m207 0h18m-150 4h38m-245 4h19m301 0h37m-451 8h19m56 0h19m207 0h56m57 4h19m94 0h18m-357 4h57m75 0h19m75 0h56m-489 4h38m169 0h19m94 0h19m94 0h19m112 0h19m-451 4h19m282 0h19m-433 4h19m75 0h19m-113 4h19m94 0h19m207 0h18m94 0h19m75 0h19m-150 4h56m75 0h19m-376 4h19m357 0h19m-320 4h19m245 0h18m-338 4h19m319 0h38m-508 4h19m19 0h19m75 0h19m75 0h56m-169 4h38m338 0h19m-508 4h19m94 0h38m131 0h19m75 0h19m-19 4h19m-282 4h19m113 0h37m94 0h19m-131 4h37m-395 4h19m226 0h19m75 0h19m37 0h19m-395 4h19m263 0h38m150 0h19m19 0h19m-94 4h18m-37 8h56m19 4h19m-527 12h19m19 4h19m169 0h19m113 4h18m151 0h19m-452 4h19m226 0h19m112 0h19m57 0h18m-564 4h38m75 0h19m226 0h18m57 0h19m-226 4h19m75 0h19m-320 4h38m37 0h19m433 0h18m19 0h19m-602 4h19m113 0h19m207 0h18m-112 4h18m19 0h19m75 0h19m19 0h19m-113 4h19m188 0h18m19 0h19m-620 4h18m207 0h19m94 0h19m188 0h19m18 0h38m-38 8h38m-620 4h18m19 0h19m56 0h19m207 0h19m56 0h19m94 0h19m19 0h18m-169 4h19m-282 4h19m-57 4h19m245 0h18m57 0h19m112 0h19m-188 4h19m56 0h19m-395 4h19m301 0h56m94 0h19m-583 4h19m188 0h19m94 0h56m38 0h19m-226 4h19m320 0h18m-564 4h38m376 0h19m131 0h38m-207 4h19m150 0h19m-564 4h19m94 0h19m150 0h19m19 0h19m112 0h19m75 0h38m-282 4h19m94 0h19m18 0h19m75 0h19m-601 4h18m282 0h19m38 0h37m19 0h57m18 0h19m-75 8h19m37 0h19m94 0h19m-564 4h19m263 0h19m19 0h18m57 0h19m-132 4h19m-132 4h19m19 0h19m94 0h18m38 0h19m19 0h18m94 0h19m-470 4h19m320 0h18m-451 4h19m75 0h19m75 0h38m94 0h19m56 0h19m37 4h19m94 0h19m-357 4h19m-132 4h19m-151 4h19m19 0h19m56 0h19m-113 4h19m414 4h37m57 0h18m19 0h19m-583 8h38m150 0h19m226 0h18m-451 4h19m207 0h19m169 0h19m112 0h38m-583 4h19m432 0h19m-451 4h19m301 4h18m-376 4h19m207 0h38m-19 8h19m56 0h38m37 0h38m19 0h18m-225 4h19m94 0h18m57 0h19m94 0h37m-357 8h19m225 0h19m-470 8h38m169 0h19m188 0h37m-150 8h19m-113 4h19m207 0h18m-488 8h18m245 0h19m169 4h19m-320 8h19m75 0h38m75 0h37m151 0h19m-339 4h19m226 0h37m-395 4h19m113 0h38m94 0h18m57 0h19m-207 4h19m-151 4h19m207 0h19m188 0h37m-244 4h19m188 0h18m-564 4h19m75 0h38m226 0h18m170 0h56m-489 4h19m113 0h19m206 0h19m-37 4h37m-357 4h19m169 0h19m94 0h19m131 0h19m-602 4h19m75 0h38m94 0h19m94 0h19m75 0h19m94 0h18m19 0h19m-395 4h19m19 0h19m282 0h18m-357 4h57m56 0h38m188 0h37m-526 4h19m188 36h18m0 20h38m188 0h38m-470 4h18m188 0h19m188 0h19m-19 8h57m-489 36h37m-37 12h19m-19 24h37m282 0h19m19 0h19m75 0h19m-583 4h38m413 0h38m-19 4h19m-376 4h19m188 0h56m-263 8h19m319 0h19m-150 4h37m-244 4h19m75 0h19m18 0h19m301 0h19m-339 4h19m282 4h19m19 0h19m-602 4h19m319 0h19m-131 4h18m188 4h38m113 0h19"/>
<path stroke="#f58080" d="M1352 911h19m-433 4h19m56 0h19m151 0h18m57 4h19m-226 8h19m188 0h19m131 0h19m75 0h19m-583 8h19m395 4h19m131 0h19m-357 4h19m-226 8h19m75 0h19m169 0h56m188 4h19m-545 4h19m150 4h19m19 0h19m300 0h19m-263 4h19m19 0h18m188 0h19m-545 4h19m37 0h38m-38 4h19m113 0h38m206 0h19m-395 4h19m19 0h19m207 0h18m-376 4h19m19 0h19m37 0h19m113 8h38m-132 4h19m319 0h19m57 4h18m-131 4h37m76 8h18m19 0h19m-150 4h18m-357 12h19m451 0h19m-508 4h19m113 0h19m207 0h18m76 0h18m19 0h19m-470 4h19m376 12h19m-301 16h19m-132 8h19m432 0h19m-564 4h19m263 0h38m94 0h18m-357 4h19m75 0h19m113 0h37m-263 4h38m319 8h19m-489 4h19m301 0h19m131 0h19m0 4h19m-38 8h19m-451 4h19m301 0h18m188 0h19m-583 12h19m301 0h19m-57 8h19m-263 4h19m338 0h19m19 0h19m18 0h19m75 4h38m-282 8h19m-339 4h19m75 0h38m150 0h19m-301 4h38m169 0h19m19 0h19m282 0h18m19 0h19m-602 12h38m414 0h18m76 0h18m-131 12h19m18 0h19m-19 4h19m-37 4h18m-37 8h37m-131 8h19m225 0h19m-470 8h19m282 8h19m18 0h19m-489 4h19m188 0h19m-188 4h19m188 0h19m-151 4h19m-38 4h19m395 0h19m19 0h18m-112 4h18m-112 8h18m94 0h19m-282 4h19m357 0h19m-150 8h18m-263 8h19m94 28h19m-132 4h19m94 0h19m-245 4h38m169 0h19m-188 4h19m301 0h18m-263 4h19m338 0h38m-395 4h19m132 0h18m57 0h37m113 0h19m-282 4h19m19 0h18m188 0h19m-338 4h19m56 0h19m-245 4h19m94 0h38m75 0h19m-113 4h19m188 0h19m131 0h19m-508 4h19m433 0h18m-432 4h19m207 0h18m-282 4h57m75 0h19m113 0h18m207 0h19m-414 12h19m94 12h19m-263 16h19m451 4h19m-602 32h19m94 16h19m94 20h18m0 8h19m-150 12h19m-19 8h19m94 0h18m-131 4h19m94 0h18m-18 4h18m207 0h19m75 0h19m-451 4h19m319 4h19m-357 8h19m413 0h19m-432 8h18m57 0h19m131 0h19m-150 4h18m-112 4h18m76 0h18m76 4h37m-244 4h19m75 0h19m94 0h18m132 0h19m-282 4h19m357 0h19m-602 4h19m94 0h19"/>
<path stroke="#f36666" d="M1465 915h18m19 0h19m-470 8h19m-151 12h19m207 28h19m94 0h37m207 4h19m-470 4h19m188 0h19m-151 4h19m113 0h19m188 0h56m-489 8h19m-19 20h19m338 0h19m-282 28h19m19 0h19m169 0h19m18 0h19m75 40h19m-489 8h19m-75 16h19m301 4h18m132 0h19m-527 12h19m395 4h19m56 12h19m-282 12h19m150 4h19m-376 12h19m301 0h18m57 8h19m-414 4h19m-57 4h19m207 8h19m-226 24h19m-75 12h19m18 12h19m207 0h19m225 40h19m-357 36h19m94 0h19m56 0h56m207 16h19m-395 4h38m94 4h19m-151 4h19m113 0h19m188 0h37m-470 4h19m207 0h37m-131 4h19m56 4h38m206 0h19m-225 4h18m-300 8h18m94 8h19m-150 8h19m112 0h19m-150 4h19m112 12h19m-37 4h18m0 12h19m-19 12h19m-19 8h19m-150 4h19m112 12h19m-150 4h19m-19 28h19m112 0h19m-19 16h19m-56 4h19m18 0h19m-131 4h18m57 4h19m18 0h19m-131 4h18m282 0h19m-319 4h18m57 4h37m-18 4h18m-112 4h18m57 8h19m0 4h37m94 0h19m-244 4h18"/>
<path stroke="#f14c4c" d="M1277 927h18m170 40h18m-451 8h19m414 4h56m-56 36h18m0 80h19m-150 12h19m112 60h19m-319 44h37m-319 4h18m0 48h19m207 48h19m94 0h19m188 0h18m-338 4h38m282 12h56m-357 4h19m300 4h19m-376 4h19m-56 12h37m-150 4h19m94 0h18m-18 4h37m-150 4h19m-19 16h19m94 0h18m-131 8h19m112 4h19m-263 4h19m94 0h19m94 0h37m-19 4h19m-150 4h19m112 4h19m-19 4h19m-150 4h19m-19 4h19m94 0h37m-150 4h19m94 0h18m0 4h19m-19 8h19m-19 16h19m-263 4h19m94 4h19m94 0h37m-37 8h18m-18 8h37m-56 12h19m-19 8h37m-18 4h18m-18 4h18m-37 4h56m-19 4h19m-37 16h37m-150 8h19m112 0h19m-131 4h18"/>
<path stroke="#ef3333" d="M1465 931h18m-451 36h38m432 144h19m-301 100h19m0 100h19m19 0h18m-56 4h19m19 12h18m-56 4h19m19 0h18m-432 20h19m94 8h19m-132 4h19m207 0h18m-131 4h19m94 0h37m-131 4h18m76 0h18m-244 4h19m225 4h19m-19 4h19m-131 8h18m57 4h19m-113 4h19m-132 4h19m207 0h18m-131 4h19m94 0h18m-131 4h19m-132 4h19m-19 12h19m207 0h18m-131 4h19m-19 8h19m94 0h18m-244 4h19m94 4h19m-132 4h19m94 0h19m94 0h18m-131 12h19m94 0h18m-18 8h18m-131 8h19m94 0h37m94 12h19m-132 4h19m-19 44h19"/>
<path stroke="#ed1919" d="M1013 967h19m282 224h19m0 16h19m131 24h19m-94 64h19m-226 40h19m-225 16h18m-150 4h19m188 0h19m-19 4h19m-226 8h19m-19 4h19m188 0h19m18 4h19m-56 4h19m-226 4h19m113 0h18m76 0h18m-18 4h18m-244 4h19m188 0h19m0 8h18m-112 4h18m57 0h19m-226 4h19m207 8h18m-112 4h18m57 0h19m-226 4h19m188 4h19m-94 4h18m76 0h37m-263 4h19m113 0h18m57 0h37m-244 4h19m207 4h37m-19 4h19m-56 4h19m-19 4h19m-226 4h19m113 0h18m57 0h19m-226 4h19m188 0h19m-226 4h19m113 0h18m57 0h19m-226 4h19m113 0h18m57 0h19m-226 4h19m-19 8h19m113 0h18m57 0h19m-113 40h19m75 16h37"/>
<path stroke="#eb0000" d="M1070 1351h19m-226 8h19m113 0h18m57 4h19m-94 4h18m57 0h19m-94 8h18m57 0h37m-244 4h19m113 0h18m57 4h19m-226 4h19m113 0h18m57 0h19m-94 8h18m-150 4h19m113 0h18m57 0h19m-94 8h18m57 0h19m-226 4h19m188 0h37m-112 4h18m57 0h19m-94 8h18m57 0h19m-94 4h18m-150 4h19m188 0h19m-94 8h18m57 0h19m-94 4h18m57 0h19m-226 4h19m113 0h18m57 0h37m-112 4h18m-18 12h18m-18 12h18m57 0h19m-226 4h19m113 0h18m57 0h19"/>
</g>
<g stroke-width="4" fill="none" filter="url(#hb)">
<path stroke="#0000e9" d="M2254 918h18m19 0h18m-37 8h19m0 4h18m-55 8h55m-55 4h55m-55 4h55m-18 8h18m-55 16h18m19 0h18m-18 4h18m-55 4h18m-18 4h55m-55 12h18m19 0h18m-18 4h18m-18 4h18m-55 8h18m-109 8h18m110 4h18m-165 44h19m-19 124h37m-55 40h18m-238 36h19m91 52h18m55 108h19m0 4h18"/>
<path stroke="#1919eb" d="M2272 906h37m-37 12h19m-202 8h19m183 0h18m-55 4h37m-37 4h55m-128 4h18m-55 8h19m-238 8h18m311 0h37m-37 4h37m-110 4h18m55 0h55m-55 4h18m-18 8h37m-37 12h55m-165 4h19m109 0h37m-37 4h19m-19 4h19m-19 4h19m-19 4h19m0 4h18m-439 4h18m366 0h55m-128 4h18m55 0h37m-128 40h18m-37 20h19m18 0h18m92 4h18m-146 8h18m73 24h18m-274 16h18m-256 16h18m385 48h18m-92 28h19m18 0h18m-274 20h18m18 32h19m55 44h36m220 8h18m-146 40h18m73 0h18m-237 4h18m-92 24h19m183 16h36m-55 20h19m-385 8h19m146 8h18m183 0h19m-128 8h18m36 64h37m128 8h18"/>
<path stroke="#3333ed" d="M2254 906h18m19 4h18m-37 4h19m-165 12h18m110 0h18m-128 4h55m-110 4h37m18 4h19m-19 4h19m91 8h55m-18 8h18m-165 4h19m128 4h18m-37 4h19m-19 8h37m-165 4h19m-19 4h55m-18 4h18m55 0h18m-18 8h18m-183 8h19m55 0h18m73 0h18m19 0h18m-146 4h18m-293 4h18m348 8h37m-128 12h18m0 8h18m73 0h19m-37 16h18m-91 8h18m55 0h18m-109 12h18m-37 12h19m18 0h18m92 24h18m-55 4h55m-55 4h18m-421 8h19m293 0h18m55 16h18m-256 16h18m-146 44h18m128 16h18m-18 20h18m-128 12h19m-37 12h18m183 12h19m-128 8h18m128 0h18m73 56h19m-92 4h19m36 0h18m-311 4h19m274 0h18m-219 4h18m73 8h19m-128 4h36m220 0h18m-238 4h18m165 0h18m-347 24h36m183 16h19m91 0h18m-219 16h18m92 0h18m73 0h18m-91 4h18m-164 4h18m110 0h36m-256 4h18m183 0h19m18 0h18m-128 4h18m74 4h18m-110 4h18m165 0h18m-219 4h18m73 0h55m-18 40h18m-55 28h19m109 4h19"/>
<path stroke="#4c4cf0" d="M2272 910h19m-37 4h18m19 0h18m-37 8h37m-146 4h18m-18 8h18m-18 8h18m0 4h18m-18 4h18m37 0h18m-91 12h18m91 4h19m-128 16h18m-18 8h18m-37 16h19m18 0h18m-55 4h19m18 0h18m-293 4h19m219 0h19m18 0h18m-165 4h19m238 0h18m-18 12h18m-165 4h19m18 0h18m-55 4h55m92 0h18m-55 4h18m-109 4h18m-92 12h19m55 8h18m-421 4h18m18 0h19m110 12h18m329 0h19m-19 32h19m-348 4h37m311 4h18m-256 4h18m220 0h18m-329 4h18m146 0h19m-458 16h18m476 0h37m-256 4h18m-311 4h18m384 16h19m109 0h37m-274 4h54m202 16h18m-18 4h18m-256 4h36m55 0h37m-110 4h18m-54 4h18m18 0h18m-36 4h18m-36 4h18m-110 8h18m92 0h18m92 0h18m73 0h18m-494 8h19m347 0h37m-146 12h36m-18 8h18m220 0h18m-384 4h18m-220 4h19m219 0h19m292 0h19m-19 4h37m-165 4h19m-183 8h36m128 0h19m18 0h18m-36 8h36m-36 4h18m73 0h18m-237 4h36m73 0h19m18 0h18m-476 4h19m201 0h18m92 0h18m-128 4h18m183 0h37m110 8h18m-146 4h18m-146 4h18m18 0h18m55 0h55m-128 8h18m-128 4h19m274 0h18m-183 4h19m-147 8h19m55 0h18m-92 4h19m91 0h18m74 0h18m55 0h18m-201 4h18m92 4h18m91 0h37m-238 4h18m-36 4h18m-110 4h19m91 0h18m183 0h19m-366 4h18m18 0h19m164 0h19m18 0h18m73 0h19m-366 4h36m92 0h18m-146 4h18m0 4h18m-36 4h18m220 0h18m-238 8h18m-36 16h18m92 0h18m-18 4h36m220 0h18m-183 4h18m-91 4h36m55 4h37m91 0h19m-256 4h18m128 0h18m73 0h19m-238 8h36m165 0h55m-238 4h18m74 0h18m-146 4h36m110 0h18m73 0h19m-110 4h18m73 0h19m-256 4h36m92 0h18m-256 4h36m110 0h18m55 4h37m-238 8h18m165 0h18m-293 4h19m73 0h18m348 0h18m-512 16h36m421 12h19m-37 4h18m-18 16h55m-18 8h18m-55 4h18"/>
<path stroke="#6666f2" d="M2254 910h18m-439 12h18m403 0h18m-347 4h18m165 0h18m55 0h18m-494 8h18m421 0h19m0 4h18m-18 8h18m-37 4h37m36 0h19m-73 4h18m-18 12h36m-146 4h36m55 0h37m-37 8h73m-73 16h37m-18 4h18m-18 16h18m-37 4h19m0 8h18m73 8h37m-37 4h37m-531 4h18m385 8h36m-55 8h19m18 0h18m73 0h19m-147 4h19m18 0h18m92 0h18m-531 8h18m37 8h18m403 4h18m-439 4h18m293 0h19m91 0h37m-19 4h19m-19 4h37m-256 4h36m183 24h19m-37 4h18m-585 16h18m439 12h19m54 0h19m-586 4h18m-18 4h18m348 0h18m92 0h18m-128 4h18m74 4h18m73 4h37m-220 4h18m-128 4h19m183 0h18m-128 4h36m-164 4h18m128 0h18m74 0h18m-18 4h18m-73 4h18m-238 4h18m129 0h18m201 0h18m-18 4h18m-311 4h19m91 0h18m55 0h19m91 0h18m0 4h37m-165 4h19m-128 4h18m219 0h19m-531 8h18m257 0h54m183 0h37m-366 12h18m-18 4h18m110 0h18m-128 4h19m91 0h18m183 0h19m-256 4h18m-128 4h36m110 0h18m165 0h18m-18 4h18m-347 4h18m92 0h36m110 0h18m55 0h37m-348 4h18m110 0h18m-384 4h55m256 0h19m128 0h18m73 0h18m-237 4h18m128 0h18m-55 4h19m-110 4h36m202 0h18m-604 8h18m202 0h18m18 0h19m201 0h18m73 0h19m-37 4h18m-347 4h18m18 0h19m183 0h18m110 0h18m-238 4h18m74 0h36m55 0h37m-494 4h18m110 0h36m220 0h18m-494 4h55m201 0h19m73 0h18m-366 4h18m238 0h19m164 0h19m-238 4h18m92 0h36m183 0h18m-347 4h18m92 0h18m-110 4h18m-18 8h18m110 0h18m55 0h19m91 0h18m-549 4h19m311 0h18m-146 4h36m110 0h18m202 0h18m-476 4h18m184 0h18m-92 4h19m55 0h18m91 0h19m18 0h18m-164 4h18m110 0h36m55 0h18m-347 4h18m92 0h18m-330 4h19m329 0h18m55 4h19m18 0h18m-256 4h18m0 4h19m201 0h18m-256 8h18m-146 8h36m220 0h18m-54 4h18m219 0h37m-348 4h19m-202 4h19m146 0h37m73 0h36m55 0h37m73 0h18m19 0h18m-238 8h55m128 0h37m-256 4h18m91 0h55m-402 4h18m220 0h36m183 0h18m19 0h18m-238 4h18m202 0h18m-274 4h18m219 0h19m-147 4h19m-128 4h18m110 4h18m-146 4h18m18 0h18m165 0h18m0 4h19m-330 4h19m311 0h18m-567 4h18m55 0h55m165 0h18m219 0h37m-586 4h19m201 0h18m-238 4h37m201 0h19m73 0h36m74 0h18m-348 4h18m74 0h18m18 0h19m-275 4h18m-18 4h18m202 4h18m128 0h18m-347 4h18m91 0h19m55 0h18m18 0h19m311 12h18m-37 4h19m-37 4h18m0 24h37"/>
<path stroke="#8080f4" d="M2163 910h18m-348 8h37m274 0h37m-366 4h18m18 0h19m73 4h37m91 0h18m55 0h19m-129 4h19m128 4h18m-366 4h18m0 4h19m201 0h18m92 0h18m-329 4h18m311 4h18m-73 4h19m18 0h18m-128 8h18m-146 4h18m183 0h19m18 4h18m-55 4h55m-146 4h36m-146 8h18m110 4h18m-274 4h18m92 0h18m201 4h19m-19 4h55m-146 8h18m73 16h19m18 0h18m73 0h19m-531 4h18m366 0h19m91 0h37m-220 4h18m202 0h18m-604 4h18m19 0h18m-55 4h55m36 0h19m36 0h19m274 0h19m128 0h18m-238 4h18m55 0h19m18 0h18m92 0h18m-165 4h19m91 0h37m-257 4h19m18 0h18m202 0h18m-366 4h18m330 0h18m-293 4h18m129 0h18m-110 4h18m183 0h37m-256 4h18m201 0h19m-220 4h18m55 0h37m-366 4h18m18 0h19m183 0h18m-18 4h18m92 4h18m-439 4h18m531 0h18m-128 4h18m55 0h18m-238 4h19m110 0h18m73 0h55m-458 4h19m164 0h19m128 0h18m55 0h55m-275 4h55m55 0h19m91 0h18m19 4h18m-146 4h18m-256 4h18m220 0h18m-238 4h37m164 0h19m109 4h19m-549 4h18m421 0h18m55 0h37m-19 8h19m-641 4h18m330 0h18m-293 4h19m347 0h37m-128 4h36m-292 4h18m220 0h18m-330 8h19m91 0h18m184 0h18m110 0h18m-128 4h18m37 0h18m37 0h18m-128 4h18m183 0h18m-109 4h18m110 0h18m-274 4h36m-128 4h18m74 0h54m55 0h19m18 0h18m-238 4h19m55 0h18m110 0h18m73 0h18m19 0h18m-274 4h18m-18 4h18m128 0h18m55 0h18m-237 4h18m128 0h18m55 0h18m19 0h18m-165 4h19m109 0h37m-256 4h18m201 0h37m-274 4h18m110 0h18m91 0h37m-384 4h55m73 0h36m74 0h36m55 0h18m-91 4h18m-274 4h18m18 0h19m311 0h18m-238 4h18m-292 4h18m110 0h18m18 0h19m274 0h18m-91 8h18m55 0h18m-549 4h19m219 0h19m164 0h55m-274 4h18m18 0h19m73 0h18m73 0h55m-256 4h18m74 0h18m-110 4h18m92 0h36m-347 4h18m275 0h36m73 0h19m18 0h18m-256 4h18m202 4h18m-458 4h19m219 0h19m55 0h18m201 0h37m-366 4h36m74 0h36m220 0h18m-238 4h18m74 0h18m-476 4h37m201 0h18m293 0h37m-330 4h19m292 0h19m-568 4h19m183 0h18m348 0h18m-274 4h18m201 0h18m-347 4h18m18 0h19m55 0h54m92 0h18m73 0h37m-366 4h18m74 0h18m91 0h19m18 0h18m55 0h18m-347 4h18m92 0h36m73 0h19m-458 4h18m330 0h36m55 0h19m109 0h19m-440 4h19m55 0h36m293 0h55m-476 4h18m74 0h18m220 0h18m73 0h18m-329 4h37m292 0h19m-476 4h18m110 0h18m92 0h18m-256 4h18m92 0h18m92 0h18m-18 4h36m110 0h18m-274 4h18m110 0h18m92 0h18m-476 4h18m220 0h18m183 0h19m109 4h19m-440 4h19m73 0h18m92 0h36m-146 4h18m202 0h18m91 0h19m-549 4h18m165 0h18m128 0h18m55 0h19m128 0h18m-366 4h18m92 0h18m92 0h36m55 0h18m19 0h18m-366 4h18m0 4h19m292 0h37m-348 4h19m-55 4h18m110 0h18m201 0h19m-330 8h19m73 0h18m92 0h18m-256 4h18m18 0h19m-74 8h19m36 0h19m91 0h18m165 0h18m-347 4h18m92 0h18m18 0h18m92 4h18m73 0h19m-348 4h37m91 0h18m183 0h19m-256 4h36m-128 4h37m274 0h18m-201 12h18m165 0h18m19 0h18m-366 4h37m-55 4h18m18 0h19m73 0h18m201 0h37m-384 4h55m164 0h19m91 0h18m19 0h18m-384 4h18m110 0h18m110 4h18m92 0h18m-55 4h37m-586 4h37m183 0h55m201 0h18m-494 4h18m19 0h18m-55 4h18m92 0h36m74 0h18m92 0h18m-238 4h18m202 0h54m-256 4h18m74 0h18m18 0h19m164 0h19m128 0h18m-476 4h37m183 4h18m-128 4h18m92 0h18m-220 4h19m201 0h18m165 4h18m-530 4h18m403 0h18m73 0h18m-128 4h19m128 0h18m-37 4h19m0 4h18m-18 12h18m-586 8h19m512 4h18"/>
<path stroke="#9999f6" d="M1851 906h19m274 4h19m18 0h18m-366 4h18m183 12h37m-18 4h18m0 4h18m-128 8h19m54 0h37m0 4h18m-146 4h18m-146 4h18m311 4h19m-220 4h18m73 0h37m-37 4h55m-55 4h19m-92 4h19m54 0h19m-110 4h37m-55 4h18m91 0h19m128 0h18m-274 8h18m-110 4h18m183 8h37m-37 4h19m18 0h18m-55 4h19m18 4h18m-164 4h18m128 0h18m-55 4h19m18 0h18m55 0h19m18 0h18m55 4h18m-476 4h19m36 0h19m293 0h18m-458 4h19m91 4h18m183 0h55m-311 4h18m129 0h18m91 0h19m-293 4h36m19 0h18m92 0h55m54 0h19m201 0h37m-366 4h18m110 0h18m220 0h18m-146 4h36m-494 4h18m73 0h74m91 0h19m292 4h19m-220 8h18m55 0h37m73 0h18m19 0h18m-494 4h18m348 0h18m55 0h37m-586 4h18m37 0h18m147 0h18m311 0h55m-549 4h18m403 0h18m-439 4h36m19 0h18m220 0h36m92 0h18m92 0h18m-586 4h19m421 4h18m-330 4h19m274 0h19m18 0h18m-457 4h18m73 0h18m92 0h18m92 0h18m-220 4h19m73 0h18m311 0h37m-604 4h18m531 0h37m-586 4h37m439 0h18m-55 4h19m18 0h18m-384 4h18m348 0h18m-494 4h18m311 4h19m18 0h18m-238 4h19m402 0h37m-366 4h37m274 0h18m19 0h18m-403 4h19m55 0h18m18 0h18m-347 4h18m37 0h18m366 0h18m-384 4h18m18 0h19m-92 4h19m-74 4h55m403 0h18m92 0h18m-567 4h18m91 0h19m55 0h18m201 0h19m-202 8h19m91 0h18m92 0h18m-274 4h36m183 0h19m18 0h18m55 4h18m-18 4h18m19 0h18m-384 4h36m183 0h19m18 0h18m-238 4h19m73 0h18m73 0h19m18 0h18m55 0h37m-348 4h18m110 0h18m55 0h19m109 0h19m-19 4h19m-348 4h37m73 0h18m110 8h18m-55 4h19m-110 4h18m220 0h18m-274 8h36m73 0h19m-128 8h18m110 0h18m73 0h18m19 0h18m-403 4h19m128 0h18m201 0h19m-549 4h18m512 0h19m-586 4h18m19 0h18m275 0h18m219 0h19m-586 4h18m19 0h18m91 0h19m274 0h37m73 0h18m-457 4h55m384 0h18m-567 4h18m568 0h18m-384 4h18m18 0h19m73 0h18m-366 4h18m19 0h18m311 0h18m202 0h18m-567 4h18m293 0h18m92 0h36m-128 4h18m183 0h19m-586 4h18m19 0h18m165 0h18m18 0h19m73 0h18m183 0h55m-567 4h18m201 0h19m311 0h18m-586 4h37m165 0h36m183 0h19m-458 4h18m19 0h18m403 0h18m73 0h37m-549 4h18m311 0h18m202 0h18m-586 4h37m91 0h19m183 4h18m-329 4h18m183 0h37m-19 4h19m55 0h18m238 0h18m-476 4h18m-36 4h18m110 0h18m311 0h19m-147 4h55m92 0h18m-476 4h37m201 0h18m92 0h18m73 0h19m-549 4h18m91 0h19m183 0h36m165 0h18m19 0h18m-238 4h18m183 0h19m-19 4h37m-494 4h18m92 0h18m92 0h18m128 0h18m92 0h18m-348 4h19m55 0h18m-238 4h18m92 0h18m201 0h19m18 0h18m-274 4h18m311 0h18m-567 4h37m201 0h37m-275 8h18m92 0h18m311 8h37m-146 4h18m91 0h19m128 0h18m-274 4h36m73 0h19m18 0h18m55 0h55m-55 4h55m-274 4h36m73 0h19m109 0h19m-366 8h18m201 0h55m-256 4h18m92 0h18m73 0h19m109 0h19m-366 8h18m348 4h18m-384 4h18m329 0h37m-348 4h19m91 0h18m92 0h18m-256 4h18m-36 8h18m18 12h19m311 0h18m-384 4h18m18 0h19m164 0h19m-110 8h18m183 0h18m-347 4h18m18 0h19m55 0h36m-220 4h19m274 0h19m18 0h18m55 0h37m-37 4h18m-549 4h19m109 0h19m-55 4h18m238 0h18m-366 4h37m183 0h37m55 0h18m91 0h55m55 4h37m-458 4h18m330 0h18m-494 8h18m440 8h18m110 0h18m-55 4h37m-568 4h19m55 4h18m128 4h18m-238 4h19m183 0h18m201 0h55m-274 4h18m-18 4h18m-220 4h19m421 0h18"/>
<path stroke="#b2b2f8" d="M1815 906h36m293 0h55m-384 8h18m311 0h55m-384 4h18m92 0h36m220 0h18m-55 4h19m18 0h18m-366 8h18m92 0h18m110 0h18m-146 4h37m73 0h18m-220 4h19m73 0h37m73 0h36m-164 4h18m18 4h19m54 0h37m-329 4h18m165 0h18m-92 4h19m164 0h55m92 4h18m-457 4h18m165 0h18m-18 4h18m18 0h19m-55 4h18m18 0h19m-55 4h36m92 0h36m-164 4h18m91 0h19m-238 4h18m110 0h18m92 0h36m-274 4h55m183 4h18m-220 4h19m164 0h19m128 0h18m-18 4h18m-274 4h36m-146 4h18m220 0h18m-256 4h55m55 0h18m18 0h19m91 0h18m-55 4h19m0 4h18m92 4h18m-385 4h19m-37 4h18m37 0h18m220 0h18m-238 4h19m164 0h37m-348 4h19m54 0h19m146 0h19m-165 4h18m128 0h19m73 0h18m-366 4h18m73 0h19m18 0h37m183 0h18m-348 4h19m54 0h74m164 0h19m18 0h18m-256 4h18m202 0h18m-293 4h18m129 0h18m91 0h19m-257 4h19m36 0h19m164 0h19m201 0h18m-567 4h55m274 0h19m-238 4h18m18 0h19m164 4h37m220 0h18m-567 4h18m201 0h19m54 0h19m18 0h18m-311 4h37m219 0h19m91 0h37m-385 4h19m36 0h19m-165 4h18m73 0h74m73 0h18m92 0h18m183 0h18m-567 4h55m165 0h18m201 0h19m-458 4h18m92 0h36m92 0h18m-146 4h18m311 0h19m-238 4h18m18 0h19m-257 4h19m402 0h55m-457 4h18m73 0h18m183 0h55m55 0h19m-330 4h18m202 0h36m-384 4h37m91 0h37m55 0h18m91 0h55m-347 4h18m403 0h36m-494 4h18m220 0h37m73 0h18m220 0h18m-366 4h18m202 0h18m-256 4h18m128 0h18m92 0h18m-494 4h37m146 0h18m183 0h19m-458 4h37m183 0h18m110 0h18m-366 4h18m110 0h18m293 0h37m91 0h37m-549 4h18m37 0h55m183 0h36m165 0h18m19 0h18m-531 4h19m146 0h37m73 0h18m73 0h37m73 0h18m-494 4h19m347 4h19m109 0h19m-531 4h18m147 0h36m74 0h18m110 8h18m110 0h18m-384 4h18m329 0h19m-19 4h19m-348 4h18m19 0h18m-73 4h18m110 0h18m-91 4h18m-73 4h18m220 0h18m-421 8h18m19 0h18m110 0h36m-201 8h18m385 0h18m73 0h37m-110 8h18m92 0h18m-366 4h18m-201 4h18m275 0h36m55 0h19m18 0h18m73 0h19m-366 4h18m18 0h19m164 0h37m110 0h18m-604 4h18m531 0h18m19 0h18m-586 4h19m73 0h18m421 0h18m19 0h18m-494 4h18m92 0h18m201 4h37m110 0h18m-494 4h18m18 0h19m165 4h18m91 0h19m18 0h18m-476 4h19m73 0h36m-146 4h18m92 0h18m92 0h18m201 0h19m128 0h18m-494 4h36m-128 4h19m73 0h36m92 0h18m92 4h36m-384 4h18m92 4h18m110 0h37m91 0h18m-384 8h18m549 4h19m-586 4h37m-19 4h37m494 0h18m-549 8h19m109 0h19m421 0h18m-567 4h18m55 0h18m-128 4h18m421 0h19m-458 4h18m238 0h19m164 0h55m73 0h19m-348 4h18m183 0h37m110 0h18m-476 4h37m311 0h18m-366 4h37m-147 4h19m109 0h19m-55 8h55m402 4h19m-568 4h37m73 4h18m-36 4h18m18 0h19m293 0h18m0 4h18m55 0h37m-220 4h18m165 0h18m-549 4h37m183 0h37m-55 4h18m201 0h19m18 0h18m-128 4h18m74 0h36m92 0h18m-274 4h18m-311 4h18m183 0h18m92 0h18m92 4h36m92 0h18m-348 12h19m201 0h18m-476 4h19m183 4h18m-18 4h18m18 0h19m-55 4h18m18 0h19m73 0h18m-128 20h18m110 8h18m-238 4h19m201 0h18m55 0h37m110 4h18m-604 4h18m19 0h18m512 0h37m-567 4h18m183 0h18m74 0h36m92 0h36m-457 4h18m165 0h18m18 0h19m55 0h18m-348 8h18m458 0h18m-494 4h37m73 0h18m92 0h18m-220 4h19m402 0h19m109 0h37m-586 4h19m18 0h18m257 0h36m73 0h19m18 0h18m-494 4h18m202 0h55m-55 4h18m128 0h18m55 0h19m18 0h18m-494 4h18m19 4h18m512 0h37m-531 4h19m146 8h37m91 0h18m-347 4h18m183 0h18m202 0h18m-238 4h37m91 0h18m202 0h18m-494 4h55m402 0h19"/>
<path stroke="#ccccfb" d="M1961 906h19m73 8h18m-110 4h19m183 4h18m-220 8h19m-129 4h19m55 0h18m91 0h19m-19 4h19m-220 8h18m92 0h18m-256 4h18m92 0h18m18 0h19m183 0h18m-238 4h18m-36 4h36m312 0h18m-476 4h37m54 0h19m36 0h19m73 8h18m-165 12h19m18 0h18m110 0h19m-55 4h18m91 0h19m18 0h18m-146 4h37m54 0h19m-110 4h18m-36 4h55m54 0h55m-274 4h55m201 0h18m-256 4h18m421 4h19m-440 4h19m183 0h18m-256 8h18m110 0h37m73 0h18m-311 4h18m37 0h18m18 0h19m73 0h18m-238 4h19m73 0h18m220 0h18m-329 4h18m18 0h18m19 0h36m-91 4h36m55 0h19m55 0h36m-128 4h18m92 0h18m110 0h18m-366 4h19m-37 4h18m238 0h19m-220 4h36m19 0h18m311 0h19m-440 4h19m18 0h18m275 0h36m-329 4h18m37 0h36m74 0h36m-274 4h18m55 0h18m18 0h19m36 0h19m55 0h36m92 0h18m-366 4h55m73 0h18m92 0h18m73 0h19m-330 4h19m36 0h18m55 0h19m73 0h37m-257 4h19m36 0h37m128 0h18m-256 4h18m348 0h18m-366 4h37m274 0h19m-275 4h18m129 0h18m-147 4h37m-110 4h19m36 0h18m129 0h18m18 0h19m-275 4h37m183 0h18m128 0h18m74 0h18m-366 4h36m312 0h36m-384 8h18m18 0h19m73 0h37m-238 4h18m91 0h19m164 0h19m-311 4h18m403 0h18m-458 4h19m91 0h37m55 0h18m18 0h19m164 0h19m-348 4h36m74 0h18m-128 4h18m311 0h19m18 0h18m-457 8h73m18 0h18m19 0h18m220 0h36m-366 4h18m92 0h18m74 0h18m-330 4h92m110 0h36m220 0h18m-476 4h19m402 0h19m18 0h18m-402 4h36m92 0h18m92 0h18m18 0h18m-292 4h18m128 0h37m274 0h18m-347 4h36m74 0h18m128 0h18m55 0h18m19 0h18m-439 4h55m-165 4h18m19 0h18m110 4h36m183 0h19m18 0h18m73 0h19m-494 4h18m55 0h18m-128 4h37m-19 4h19m109 0h19m73 0h18m110 0h18m-183 4h37m-128 4h18m37 0h36m55 0h19m54 0h19m-238 4h18m18 0h19m164 0h37m55 0h18m-256 4h55m146 0h55m-421 4h19m73 0h18m92 0h18m-220 8h37m128 0h18m74 0h18m18 0h18m-292 4h18m55 0h55m36 4h19m183 0h18m73 0h18m-402 4h55m91 0h19m-110 4h36m55 0h19m-275 4h18m257 0h18m-238 4h55m-147 8h19m439 0h18m-494 4h37m530 0h19m-458 4h18m312 0h18m-348 4h18m220 0h18m74 0h18m-330 12h19m-19 4h19m55 4h18m92 0h18m-238 4h36m0 4h19m293 4h18m-366 4h36m-146 4h37m73 0h18m18 0h19m201 0h18m-238 4h19m-55 8h18m165 0h18m-274 4h18m-55 4h37m-19 4h37m403 0h18m-458 4h19m91 0h18m-146 4h18m19 0h18m165 0h18m18 0h19m274 0h18m-567 4h18m92 0h18m-91 4h18m-55 4h18m19 0h18m73 0h18m-146 8h18m19 0h18m531 0h18m-604 8h18m19 4h18m37 0h18m36 0h19m-147 4h19m91 0h18m184 4h54m202 0h18m-421 8h18m129 4h18m18 0h18m-366 4h19m238 4h18m55 0h18m-348 4h19m128 4h18m37 12h36m183 0h37m-238 8h18m-18 8h18m293 8h18m-530 12h18m421 12h18m55 0h18m-128 8h37m-366 4h18m238 0h18m165 0h37m-568 4h19m201 0h18m92 0h18m-238 4h37m384 0h55m-586 4h19m293 0h18m18 0h18m-146 4h18m92 0h18m201 0h19m-549 4h18m403 0h18m-110 4h18m19 0h18m-403 4h19m421 0h36m-457 4h18m110 0h18m18 0h19m18 0h55m-55 8h18m220 0h18m55 0h18m-549 4h37m183 0h18m19 0h18m-73 4h18m18 0h19m183 0h36m-494 4h18m128 0h19m183 0h18m-311 4h18m183 0h19m73 0h18m18 0h37m18 0h19m18 0h18m-476 4h19m293 0h18m110 0h36m73 0h19m-586 4h18m220 0h18m37 0h18m128 0h19m18 0h18m92 0h18"/>
<path stroke="#e6e6fd" d="M1815 910h18m18 4h19m164 0h19m-403 4h18m19 0h18m55 0h18m293 0h18m-256 8h18m-36 4h18m18 0h19m-55 8h18m-18 4h36m-36 4h18m18 0h19m55 0h18m-220 4h19m91 0h18m110 0h19m54 0h19m-348 4h18m37 0h18m183 0h19m-129 4h19m55 0h18m110 0h18m-293 4h18m19 0h18m-18 4h36m0 4h19m-37 8h18m110 8h19m73 0h18m-366 4h18m19 0h18m91 0h19m91 4h19m-275 4h55m73 0h37m91 4h19m274 0h18m-421 4h19m73 0h18m-256 4h18m220 0h18m-146 4h36m74 0h55m-37 4h37m-275 4h55m73 0h18m74 0h18m-238 4h18m110 0h18m74 0h18m18 0h19m73 0h18m-384 4h18m37 0h18m165 0h36m73 0h19m-403 4h18m19 0h36m37 0h18m18 0h19m-165 4h18m147 0h18m-165 8h19m55 0h18m-73 4h18m37 0h18m18 0h18m147 0h18m-165 4h19m36 0h19m384 0h18m-530 4h18m-55 4h18m19 0h18m201 0h19m73 0h36m-311 4h18m165 0h19m-19 4h19m201 0h18m-494 4h18m19 0h36m18 0h19m18 0h18m74 0h18m-220 8h19m73 0h18m110 0h18m-293 4h19m238 0h36m-201 4h18m183 0h19m54 0h19m-275 4h18m55 0h19m91 0h19m54 0h19m-311 4h18m36 0h19m146 4h19m-238 8h18m201 0h19m73 0h36m-164 4h18m146 0h19m-403 4h18m73 0h37m-18 8h18m110 0h18m-238 4h19m183 4h18m18 0h19m54 4h37m73 0h37m-366 4h18m18 0h19m329 0h18m19 0h18m-458 4h19m91 0h19m91 0h18m-183 4h19m36 0h19m274 0h18m-347 4h18m18 0h19m-147 4h37m146 0h19m237 0h19m-531 4h18m183 4h19m-202 4h19m-19 4h19m73 0h18m18 0h19m36 0h19m-92 4h18m-146 4h18m110 0h18m74 0h18m-128 4h18m18 0h19m-165 4h18m19 0h18m73 0h18m110 0h19m-275 4h18m128 0h19m73 0h18m-110 4h19m36 0h19m18 0h18m110 4h18m-384 4h55m183 0h18m-128 4h37m-55 4h55m55 0h18m-92 4h19m-165 4h18m238 0h19m54 0h19m-202 4h19m347 0h19m-311 4h36m-238 8h37m73 0h18m37 0h18m110 0h18m-256 8h18m-18 4h18m-109 4h18m421 0h18m-494 8h18m19 0h18m55 0h18m18 0h19m-19 4h19m-37 4h37m219 4h19m-275 8h18m0 4h19m-37 4h18m-36 4h36m-109 8h18m73 8h37m-147 24h19m91 0h18m-128 4h37m18 4h19m18 4h18m-55 8h19m109 0h19m-110 4h55m-55 4h55m-92 4h19m-92 4h18m-18 4h37m-19 4h19m274 0h19m128 0h18m-275 4h19m146 0h18m-384 4h18m19 0h36m-73 4h18m19 0h18m256 0h19m219 0h18m-567 4h18m19 0h18m256 0h19m109 0h37m73 0h55m-604 4h18m531 4h18m-54 28h18m-494 12h18m-55 8h18m257 0h18m-183 12h18m458 0h18m-586 8h19m347 0h19m18 0h18m37 0h18m-18 8h18m55 0h18m-457 4h18m311 4h37m110 0h18m-567 4h18m201 0h19m55 0h18m91 0h19m128 0h18m-403 4h37m18 0h55m-238 4h19m439 0h18m-512 4h18m18 0h19m18 0h73m147 0h36m18 0h19m-403 4h37m146 0h18m129 0h36m-348 4h37m183 0h18m74 0h18m55 0h18m-421 4h18m202 0h18m18 0h19m73 0h36m55 0h19m-458 4h18m37 0h18m73 0h37m18 0h37m183 0h18m-274 4h18m311 0h19m18 0h18m-512 4h18m18 0h37m220 0h18m-275 4h37m183 0h18m110 0h18m-439 4h18m19 0h36m73 0h19m128 0h37m18 0h18m-329 4h18m37 0h18m110 0h18m37 0h18m18 0h19"/>
<path stroke="#ffffff" d="M1668 906h19m73 0h18m18 0h19m238 0h36m-311 4h37m18 0h37m329 0h18m-237 4h18m73 0h18m-421 4h19m18 0h37m36 0h37m55 0h18m165 0h18m-311 8h18m37 0h18m18 0h19m55 4h18m183 0h18m-421 4h19m0 4h18m-55 4h18m19 0h36m-73 4h18m19 0h18m311 4h18m-366 4h37m183 0h18m0 4h19m91 0h18m-256 4h18m-146 8h18m19 0h18m55 0h36m0 4h19m-55 4h18m18 0h19m-165 4h18m128 0h19m-128 4h18m-37 4h19m73 0h36m202 4h36m-366 12h19m183 0h18m18 0h19m-257 4h37m238 0h18m-293 4h37m457 0h37m-549 4h18m92 0h18m18 0h19m347 4h19m-513 4h19m36 0h18m238 0h19m-403 4h37m18 0h18m-55 4h19m274 0h19m146 0h18m-494 8h55m-18 4h18m0 8h55m512 0h19m-641 4h18m19 4h18m73 0h18m184 0h18m-348 4h18m147 0h18m-165 4h37m-55 8h37m55 4h18m73 0h37m-183 4h36m238 0h19m91 4h18m147 0h18m-494 4h18m55 0h18m92 0h18m92 0h36m-73 8h18m55 0h19m-293 8h18m201 0h19m-183 4h18m238 0h18m73 0h19m-513 4h19m329 8h18m-256 8h18m220 0h18m165 0h18m-549 4h19m183 4h55m237 0h19m-202 4h37m110 0h18m-384 4h36m110 0h19m91 0h18m-439 4h18m220 0h18m37 0h18m73 0h19m55 0h18m-311 4h18m18 0h19m55 0h18m-18 4h18m91 0h55m55 0h19m54 0h37m-439 4h18m18 0h19m274 0h19m-238 4h55m-147 4h18m220 0h18m-384 4h37m73 0h18m73 0h19m36 0h19m-257 4h19m109 0h19m73 0h18m-128 4h18m183 0h19m-238 4h18m220 0h18m-329 4h18m-18 4h18m73 0h18m-146 4h18m19 0h18m201 4h19m-37 4h37m73 0h18m-128 4h37m91 0h18m-274 4h36m55 0h19m109 0h19m18 0h18m-366 4h19m201 0h18m92 0h36m-274 4h36m19 0h18m55 0h18m92 4h36m-347 4h18m55 0h18m18 0h19m-55 4h18m-37 8h19m219 4h19m-19 4h19m18 0h18m-421 8h19m18 20h18m37 0h18m18 12h19m110 0h18m18 0h19m109 0h19m-385 4h19m109 0h19m-92 4h18m-18 4h18m37 4h37m91 4h19m-202 8h55m110 0h18m-165 12h19m36 4h19m91 0h19m-55 4h36m-293 8h19m238 0h18m18 0h19m-238 4h18m55 0h18m0 4h18m92 0h37m-165 4h18m-128 4h18m92 0h18m-18 8h18m-146 4h18m55 0h18m18 0h19m-165 4h18m147 0h18m-110 4h55m18 0h19m0 4h18m18 0h19m73 0h18m-18 4h18m165 0h18m-366 4h73m-18 4h37m-202 4h19m-37 4h18m19 0h18m-18 8h18m348 12h18m183 0h18m-622 4h37m91 0h18m-128 4h19m128 0h18m-183 4h37m457 4h19m-220 4h18m220 4h18m-274 4h18m-165 4h18m421 0h19m-385 8h19m91 0h19m109 8h19m109 0h37m-604 4h18m257 0h55m128 8h18m73 0h18m-567 4h18m37 0h73m110 0h18m55 0h19m-238 4h18m91 0h19m36 0h37m18 0h19m91 0h18m-347 4h18m256 0h18m19 0h18m-366 4h18m220 0h37m54 0h19m-275 4h18m74 0h18m18 0h19m73 0h36m37 0h18m37 0h18m19 0h18m-238 4h55m110 0h18m-366 4h36m37 0h18m55 0h19m18 0h37m-330 4h18m19 0h36m37 0h18m73 0h19m55 0h18m18 0h19m18 0h18m-311 4h18m37 0h36m275 0h18m-329 4h55m110 0h18m37 0h18m18 0h18m129 0h18m-256 4h18m146 0h19m-202 4h19m73 0h18m128 0h37m18 0h18"/>
<path stroke="#fde6e6" d="M1650 906h18m19 0h18m73 0h18m110 0h55m73 0h19m-348 4h18m19 0h36m293 0h18m-402 4h18m183 4h37m55 0h18m36 0h19m55 0h18m-348 4h37m238 0h36m-402 4h18m37 0h18m238 0h18m-329 4h18m18 0h55m-36 4h18m55 0h36m-183 4h74m-55 4h18m18 0h19m36 0h37m311 0h18m-476 4h37m18 0h19m54 0h19m-147 16h19m73 0h18m202 0h36m-165 4h19m-147 4h19m347 0h19m18 0h18m-439 4h18m0 4h37m-110 4h18m55 0h19m18 0h36m440 0h18m-549 4h37m347 0h19m-348 4h18m202 0h18m-256 4h18m55 4h18m-73 4h18m-36 4h18m439 0h18m-530 4h18m275 0h18m-275 8h37m73 0h18m19 0h18m329 0h19m-385 4h19m329 0h18m19 0h18m-604 4h18m74 0h18m311 0h18m-128 4h19m-55 4h36m128 0h37m-458 4h19m512 4h18m19 0h18m-604 4h18m-18 4h18m275 4h18m-293 4h19m201 0h18m-238 4h19m36 0h19m-74 4h19m-37 4h18m257 0h18m-256 8h18m311 0h18m-73 4h19m-330 4h18m-18 12h55m91 4h19m-92 4h19m146 0h18m-73 4h37m73 0h18m19 0h18m201 0h18m-530 4h18m183 0h18m92 0h36m202 0h18m-348 4h19m91 0h18m202 4h18m-220 4h19m-348 8h18m311 0h37m-366 4h18m19 0h18m55 8h55m73 0h18m183 0h37m-256 4h36m73 0h19m110 4h18m-348 4h18m92 0h18m110 0h18m-256 4h18m92 0h37m201 0h18m-476 4h19m91 0h18m312 0h18m-147 4h19m-128 4h55m54 0h37m-329 4h18m91 0h19m201 0h18m-128 4h19m54 0h37m-329 4h18m311 0h18m-55 4h19m128 0h18m-476 4h19m73 0h36m110 0h19m201 0h18m-128 4h18m55 0h19m18 0h18m-476 4h19m183 0h36m183 0h19m-92 4h18m-55 8h19m-183 4h18m37 4h18m220 0h18m-293 4h18m128 4h19m91 0h19m-440 4h19m91 0h18m55 0h55m73 4h19m-238 4h36m92 4h37m73 4h36m-146 4h18m0 4h19m54 0h19m-348 8h18m92 0h18m348 0h18m-494 8h18m348 0h18m55 0h19m-421 4h18m-37 4h19m292 8h55m-146 4h18m-256 4h18m92 0h18m238 0h18m-164 4h55m-220 4h18m385 0h18m-366 4h18m92 0h18m18 0h19m-257 4h19m91 0h18m74 0h18m201 4h19m-458 4h18m128 0h19m91 0h19m-147 4h18m110 0h19m-220 8h18m37 0h18m-110 4h19m-37 4h18m19 0h18m73 0h18m110 0h19m-275 4h37m91 0h37m55 0h18m18 0h19m-330 4h18m19 0h18m37 0h18m-92 4h19m55 4h18m55 0h18m0 4h37m55 4h18m-238 4h37m109 0h19m-183 4h18m128 0h37m-220 4h18m275 4h37m-312 4h19m91 0h18m19 0h18m-165 8h19m18 0h18m19 4h36m-128 4h18m19 0h18m18 0h37m-73 4h18m128 0h18m-183 4h19m73 0h36m147 0h18m-293 4h37m55 4h18m366 0h37m-531 4h18m92 0h18m18 0h19m128 0h18m202 0h36m-549 4h37m-19 4h19m238 0h18m18 0h19m-184 4h19m366 0h18m-348 4h19m55 4h36m-274 4h18m55 0h18m147 0h18m110 0h18m92 0h36m-531 4h19m274 0h19m201 0h18m-549 4h55m146 0h19m55 0h18m18 0h19m-147 12h18m74 0h36m-36 4h36m92 0h18m-110 4h19m-275 8h37m311 4h18m-220 4h19m73 0h37m-202 4h73m147 0h18m18 0h37m73 0h19m-385 4h18m19 0h36m19 0h36m37 0h18m73 0h19m91 0h37m-476 4h18m110 0h18m74 0h18m128 0h18m-366 4h73m257 0h36m-329 4h18m18 0h19m219 0h19m36 0h37m-348 4h18m129 0h18m146 4h37m-458 4h19m36 0h37m18 0h37m18 0h18m92 0h18m19 0h18m18 0h18m129 0h18m-256 4h55m54 0h37m-110 4h19m164 0h19m-421 4h18m18 0h18m238 0h37m-348 4h19m274 0h37m128 0h18"/>
<path stroke="#fbcccc" d="M1705 906h18m19 0h18m220 0h18m-275 4h19m238 0h36m37 0h18m18 0h19m18 0h18m92 0h18m-604 4h37m256 0h37m-238 4h18m238 0h36m55 0h19m18 0h18m-110 4h19m183 0h18m-604 4h37m36 0h19m-92 4h37m421 0h18m73 0h18m-530 4h18m-55 4h18m92 0h36m293 0h19m-458 4h18m-18 4h18m110 0h18m-146 4h18m110 4h37m384 0h18m-457 4h18m256 0h19m-403 4h18m202 0h18m-183 4h18m19 0h18m110 0h18m348 0h18m-146 4h18m73 0h18m-494 4h19m91 0h18m-201 4h18m0 4h19m55 0h18m220 0h18m219 0h19m-440 8h19m201 0h18m-329 4h18m55 8h18m-91 4h18m385 0h18m-110 4h18m165 0h18m-237 4h54m-146 4h37m201 0h18m55 0h18m19 0h18m-238 4h18m55 0h19m18 0h18m-457 4h18m494 4h18m-530 8h18m512 4h19m-348 4h18m92 0h18m-366 8h18m19 0h18m220 0h18m-37 4h19m-275 4h18m330 0h18m-110 8h19m-19 8h19m55 0h18m91 0h19m-440 12h37m494 0h18m-347 12h18m92 0h36m110 0h18m-439 4h18m147 0h18m18 0h19m55 0h18m110 0h18m-201 4h18m73 0h18m183 0h19m-330 4h19m183 0h18m73 0h18m-237 4h18m91 0h37m91 0h37m-274 4h18m201 0h37m-256 4h18m219 4h19m-494 4h18m220 0h36m92 4h18m-55 4h18m55 0h19m-238 4h18m128 0h18m-36 4h18m73 0h37m-348 4h18m74 0h18m18 0h19m54 4h19m91 0h37m-330 4h19m73 4h18m73 0h19m18 0h18m-347 4h18m311 0h18m55 0h19m0 4h18m-256 4h36m73 0h19m-366 4h18m366 0h18m-146 4h18m92 0h18m-421 4h18m19 0h18m329 4h55m55 0h19m-458 4h37m421 0h18m0 4h18m-146 4h18m-37 4h19m18 0h18m92 0h18m-494 4h18m19 0h18m293 0h18m73 0h19m-220 4h37m-55 8h18m18 0h19m54 0h55m74 4h36m-146 4h18m73 0h19m-92 4h18m-384 4h18m19 0h18m201 0h19m54 0h55m55 0h19m18 0h18m-457 4h18m55 0h55m55 0h18m-220 4h19m73 4h18m-110 4h19m201 0h18m110 0h18m-366 4h19m183 0h18m18 0h19m-129 4h19m55 0h18m18 0h19m54 0h19m18 0h18m74 0h18m-366 4h18m92 0h18m110 0h18m-329 4h18m55 0h36m74 4h36m311 0h19m-549 4h18m36 0h19m476 0h18m-476 4h18m74 4h18m18 0h19m183 4h18m-348 4h18m92 0h37m54 0h37m-220 4h19m183 0h18m-18 4h36m55 0h19m-403 4h18m366 4h19m-440 4h19m-19 4h19m183 0h18m-201 4h18m91 0h19m384 0h18m-457 4h18m110 0h37m-257 4h19m109 0h19m-165 4h18m202 0h36m-110 4h19m-128 4h18m55 0h18m110 0h18m-238 4h19m73 0h36m92 0h18m92 0h18m-366 4h18m110 0h18m92 0h37m-275 4h37m109 0h19m55 0h18m201 0h19m-458 4h55m91 4h19m73 0h37m183 0h18m-494 4h18m37 0h18m201 0h19m-55 4h36m-183 4h18m55 0h19m55 0h36m-183 4h37m110 0h18m-110 4h37m-128 4h18m73 0h18m74 0h18m-220 4h37m36 0h37m18 0h19m73 4h18m73 0h19m18 0h18m-421 4h19m18 0h18m202 0h18m18 0h19m-165 4h18m18 0h19m421 0h18m-513 4h19m110 0h18m-293 4h18m604 4h37m-348 4h19m-147 4h18m183 0h19m18 0h18m-402 4h18m128 0h18m92 0h18m73 0h19m18 0h18m183 0h37m-622 4h18m256 0h19m-202 4h37m128 0h18m-256 4h55m201 0h19m54 0h55m74 0h18m-531 4h18m293 0h19m54 0h19m18 0h18m-311 4h37m457 0h37m-531 4h37m219 0h19m110 0h18m-330 4h19m91 0h19m54 0h19m-110 4h37m-129 4h19m91 0h19m-165 4h36m74 4h18m-92 4h19m238 0h18m-384 4h18m274 0h19m-110 4h37m54 0h19m18 0h18m-164 4h18m110 0h18m-55 4h18m37 0h18m92 0h18m-403 4h19m457 0h37m-458 4h19m73 0h37m-184 4h19m329 0h37m-366 4h55m91 0h19m164 0h19m18 0h18m-403 4h19m183 4h36m92 0h18m128 0h19m-238 4h18m-220 4h19m311 4h18m-476 4h19m18 0h18m37 0h18m-128 4h18m92 0h18m147 0h18m73 0h18"/>
<path stroke="#f9b2b2" d="M1723 906h19m256 0h36m74 0h36m-457 4h18m238 0h18m55 0h37m55 0h18m91 0h19m-311 4h18m55 0h18m73 0h19m128 0h18m-37 4h37m-604 4h18m275 0h18m-256 4h18m55 0h37m165 0h18m18 0h18m202 0h18m-348 4h19m164 0h19m128 0h18m-586 4h19m109 0h19m311 0h18m-348 4h19m55 0h18m220 0h18m73 0h18m-549 4h19m183 0h18m201 0h37m-366 4h18m110 0h37m164 0h19m-421 4h18m293 0h18m-329 4h18m531 0h18m-586 4h19m18 0h37m36 0h37m274 4h55m55 0h18m-494 4h19m18 0h36m92 0h37m164 0h19m91 0h37m-568 4h19m183 0h18m329 0h37m-512 4h18m55 0h18m37 0h18m18 0h19m183 0h18m-421 4h18m37 0h18m18 0h19m183 4h18m183 0h18m-567 4h37m91 0h37m293 0h18m91 0h19m-586 4h18m110 0h18m74 0h36m-256 4h18m19 0h18m-37 4h19m439 0h18m-457 4h36m513 0h18m-604 4h18m110 0h37m311 0h18m-55 4h55m-439 4h18m73 0h19m311 0h18m55 0h18m-237 4h54m55 0h37m-128 4h18m92 0h18m-146 4h54m202 4h18m-366 8h18m74 4h54m-164 4h18m18 0h19m55 0h18m128 0h18m-476 4h19m-19 4h19m201 0h18m55 0h19m-293 4h18m494 0h18m19 0h18m-146 4h18m-37 4h55m55 0h18m-219 4h18m92 0h18m-476 4h37m329 0h18m-164 4h36m-256 4h18m19 0h18m165 0h55m-275 8h18m421 0h19m109 0h19m0 4h18m-238 4h18m-274 4h18m110 0h18m202 0h18m-384 4h18m366 0h18m55 0h18m-128 4h37m110 0h18m-586 4h19m293 0h18m-311 4h18m55 0h18m92 0h18m110 0h18m110 0h18m55 0h18m-567 4h18m202 0h36m-36 4h36m92 0h36m74 0h36m92 0h18m-55 4h18m19 0h18m-55 4h37m-348 4h18m92 0h18m73 0h19m128 0h18m-220 4h19m110 0h36m-384 12h18m18 0h19m183 0h18m110 0h18m-146 4h18m-256 4h18m330 0h18m-476 4h18m238 0h19m201 0h18m-36 4h36m-531 8h19m457 4h37m-256 4h18m18 0h19m-312 4h19m109 4h19m146 8h19m183 0h18m-531 4h18m19 0h18m329 0h19m91 4h19m-440 4h19m421 0h36m73 0h19m-238 4h18m73 4h19m18 0h18m-439 8h18m256 4h19m110 0h36m73 0h19m-238 4h18m-348 4h19m109 0h19m55 0h36m-256 4h37m402 0h19m18 0h18m-494 4h18m19 0h18m55 0h18m18 0h19m-37 4h37m91 0h19m73 0h18m-256 4h18m92 0h18m110 0h18m110 0h18m-494 4h18m110 0h18m183 0h19m18 0h18m-366 4h37m73 0h18m92 0h18m92 0h18m73 0h19m-220 4h18m183 0h55m-348 4h19m293 0h36m-476 4h19m109 0h19m91 0h19m91 0h18m-274 4h18m128 0h19m183 0h36m-384 4h18m18 0h19m91 0h19m-275 4h37m201 0h18m-219 4h18m55 0h36m220 0h18m55 0h19m18 0h18m-457 4h18m165 0h18m-220 4h19m91 0h18m0 4h19m55 0h36m-256 4h18m220 0h18m73 0h19m18 0h18m55 0h37m-476 4h18m19 0h18m403 0h18m-439 4h18m165 0h18m110 0h36m92 0h18m-457 4h18m73 0h18m220 0h18m55 0h19m-348 4h18m92 0h36m73 0h19m18 0h18m-238 4h19m55 0h18m-110 4h18m92 0h37m-165 4h36m293 4h19m-129 8h19m128 0h18m-274 4h18m91 0h55m-128 8h19m73 4h18m73 0h19m-348 4h36m74 0h18m-220 4h19m18 0h36m165 0h19m54 0h19m110 0h18m-439 4h18m0 4h18m256 4h19m18 0h18m55 0h55m-476 4h19m18 0h36m37 4h18m183 0h37m-18 4h18m73 0h19m-403 4h18m165 0h18m-311 4h18m37 0h18m19 0h18m165 0h18m18 0h19m73 0h36m74 0h18m-220 4h19m54 0h19m91 0h19m-513 8h18m55 0h37m18 0h92m55 0h18m91 0h19m128 0h18m55 0h18m-604 4h19m146 0h18m202 0h36m55 0h19m-476 4h18m73 0h37m238 0h18m-311 4h73m311 0h19m18 0h18m-476 4h37m183 0h18m73 0h19m201 0h18m-622 4h18m19 0h18m55 0h18m55 0h18m110 0h19m54 0h37m183 0h18m-512 4h55m329 0h19m91 0h18m19 0h18m-641 4h19m55 0h18m18 0h37m128 0h18m-238 4h19m18 0h18m73 0h19m274 0h37m73 0h18m-567 4h18m37 0h18m37 0h18m110 0h18m92 0h18m73 0h19m-440 4h37m55 0h18m110 0h18m92 0h18m110 0h18m-494 4h37m183 0h18m110 0h36m-55 4h37m-329 4h18m73 4h18m330 0h18m-476 4h19m91 0h18m220 0h18m165 0h18m-439 4h18m202 0h36m55 0h19m-458 4h37m73 0h18m439 0h37m-494 4h36m220 0h18m-109 4h18m165 0h18m73 4h18m-128 4h19m18 4h18m-494 4h55m183 0h18m-256 4h37m73 0h18m220 0h18m-91 4h18m146 0h55m-366 8h18m-18 8h37m201 0h18m55 0h19m18 0h18m-146 4h18"/>
<path stroke="#f79999" d="M1870 906h36m183 0h19m128 0h18m-604 4h37m238 0h18m18 0h19m-275 4h55m146 0h19m183 0h18m73 0h37m-37 4h18m-530 4h18m18 0h55m110 0h55m18 0h73m74 0h36m55 0h18m-347 4h55m274 0h18m-421 4h19m55 0h36m92 0h18m201 0h19m-586 4h18m92 0h18m128 4h19m201 0h18m92 0h18m-366 4h37m73 0h18m201 0h19m-256 4h18m18 0h18m74 0h18m-458 4h19m-19 4h19m219 0h19m73 0h18m73 0h55m-457 4h18m183 0h37m73 0h18m201 0h19m-549 4h18m183 0h37m91 0h18m183 0h19m-586 4h55m91 0h19m91 4h19m-129 4h19m311 0h18m-476 4h37m73 0h18m74 0h18m348 0h18m-567 4h18m201 0h19m91 0h18m55 0h19m18 0h18m-457 4h18m55 0h18m348 0h18m55 0h18m19 0h18m-586 4h19m311 0h18m201 0h19m-513 4h19m18 0h18m421 0h55m-604 4h18m421 0h37m91 0h19m-586 4h37m36 0h37m36 0h19m55 0h18m-220 4h37m55 0h18m128 0h19m55 0h18m-128 4h18m329 0h19m-476 4h36m293 0h37m-146 8h18m-92 4h19m164 4h19m109 0h19m-366 4h18m110 0h36m-164 4h18m18 0h19m-19 4h19m201 0h18m-55 4h37m-220 8h19m73 0h18m-146 4h18m92 0h18m18 0h18m74 0h18m-37 4h19m109 0h19m-330 4h19m55 0h36m-128 4h18m74 0h18m18 0h18m202 0h18m-567 4h18m165 0h18m110 4h18m110 0h18m-476 4h19m421 0h18m-37 4h19m91 0h18m-347 4h55m55 0h18m-348 4h18m312 0h18m18 0h18m183 0h19m-238 4h18m-238 4h18m110 0h19m274 0h55m-256 4h36m202 0h18m-458 4h19m183 0h18m-220 4h19m-165 4h37m91 0h18m92 0h18m-238 4h19m73 0h18m220 0h36m55 0h55m-494 4h18m238 0h19m164 0h19m109 0h19m-348 4h37m91 0h18m74 0h18m-403 4h19m274 0h18m55 0h19m128 0h18m-458 4h19m55 0h18m18 0h19m91 0h18m92 0h18m55 0h18m-164 4h18m-110 4h19m201 4h18m-128 4h18m92 4h18m-457 8h18m-92 4h19m-19 4h19m494 0h18m-512 4h18m-55 4h18m110 0h18m348 4h19m18 0h18m92 4h18m-659 4h18m110 0h18m-146 4h55m-37 8h19m476 0h36m-549 4h37m476 0h18m-513 4h37m220 4h18m-220 8h19m-92 4h18m19 0h18m366 4h18m-311 4h37m146 0h19m183 0h18m-18 4h18m-147 4h19m110 0h18m-348 4h18m74 0h36m-256 4h18m19 0h18m165 0h18m-238 4h18m19 0h18m73 0h18m-109 4h18m91 0h19m73 0h18m330 4h18m-604 4h55m73 0h37m164 0h19m-330 4h19m-37 4h18m92 0h36m183 0h19m-128 4h36m73 0h55m55 0h19m-458 4h55m165 0h18m91 0h19m91 0h55m-457 4h18m55 0h55m274 0h19m18 0h18m-476 4h19m439 4h18m-494 4h18m19 0h18m274 0h19m18 0h18m-384 4h18m110 0h18m110 0h19m201 0h18m-476 4h19m311 0h18m110 0h18m-384 4h18m18 0h19m183 0h36m202 0h18m-604 4h18m311 0h19m110 0h18m-128 4h18m92 0h18m-458 4h19m311 0h18m73 0h19m-458 4h37m402 0h37m-476 4h18m19 0h18m165 0h18m201 0h19m-129 4h19m18 0h18m-274 4h18m201 0h37m-18 4h36m74 0h36m-494 4h18m128 0h19m201 0h18m55 0h19m-19 4h19m-129 4h37m92 0h18m-238 4h18m183 0h19m-129 4h19m18 0h18m92 0h18m-256 4h18m-256 4h18m19 0h18m36 0h19m366 0h18m-476 4h19m73 0h36m330 0h18m-476 4h19m292 0h55m-36 4h18m-366 4h18m440 0h36m-476 8h19m183 0h18m-165 4h37m219 0h19m-293 4h18m403 0h18m-384 4h36m202 0h36m92 0h18m-403 4h19m110 0h36m293 0h18m-219 4h18m-293 4h18m19 0h18m201 0h19m201 0h18m19 0h18m-604 4h18m37 0h18m37 0h18m18 0h19m91 0h19m292 0h19m-641 4h18m37 0h18m19 0h18m91 0h19m-165 4h18m37 0h18m73 0h19m55 0h18m201 0h37m91 0h19m-586 4h18m19 0h18m165 0h18m238 0h18m73 0h19m-458 4h37m311 0h18m73 0h19m-476 4h36m403 0h55m-476 4h18m-128 4h19m91 0h18m440 0h18m-604 4h18m110 0h18m220 0h18m74 0h18m73 0h37m-549 4h18m91 0h19m164 0h19m91 0h19m91 0h37m-476 4h18m348 0h18m92 0h18m-604 4h18m92 4h18m18 0h19m73 0h18m73 0h19m18 0h18m-347 4h18m55 0h18m92 0h18m91 0h19m110 0h18m91 0h19m-476 4h18m18 0h19m293 0h36m92 0h18m-567 4h18m73 0h37m384 0h18m-238 4h19m110 0h36m73 4h19m-531 4h18m385 4h36m-274 8h18m329 0h19m-549 4h18m73 0h37m164 0h19m18 0h18m74 0h18m110 4h18m-275 4h19m18 0h18m55 4h19m18 0h18m55 0h18m19 0h18m-476 4h37m293 4h18m-330 4h19m384 0h37"/>
<path stroke="#f58080" d="M2217 906h19m-366 4h55m91 4h18m92 0h18m-476 8h19m18 0h18m366 0h19m-128 8h18m18 0h18m-256 4h18m220 0h18m183 0h37m-329 4h18m37 0h18m219 0h19m-37 4h18m19 0h18m-256 4h18m110 0h18m-274 4h18m92 0h18m-348 4h18m202 0h18m128 0h18m183 0h19m-586 4h18m74 0h18m110 0h18m220 0h18m110 4h18m-274 4h36m92 0h36m-494 4h18m19 0h18m73 0h18m92 0h18m-146 4h18m110 0h18m110 0h18m55 0h19m-128 4h18m-128 4h36m202 0h18m-238 4h37m73 0h18m-329 4h18m201 0h19m183 0h18m73 0h18m19 0h18m-586 4h19m109 0h19m73 0h37m73 0h18m110 0h18m-384 4h36m110 0h19m274 0h18m19 0h18m-366 4h18m74 0h18m91 0h55m-256 4h18m92 0h18m201 0h37m-586 4h19m219 0h19m311 0h18m-494 8h18m-128 4h37m183 0h18m18 0h19m-257 4h19m402 0h19m18 0h18m73 0h37m-384 4h55m55 0h36m183 4h18m-237 4h18m18 0h18m55 0h19m91 0h18m19 0h18m-384 4h36m110 4h18m183 0h19m-366 8h18m92 0h18m18 0h18m74 0h18m91 0h37m-256 4h18m110 0h18m-274 4h55m274 0h18m19 0h18m-238 4h18m202 0h18m-384 4h18m0 4h37m55 0h36m183 0h18m-109 4h18m73 0h18m-128 4h19m91 0h18m-311 4h19m201 0h18m73 0h19m-110 4h18m-476 4h19m311 0h18m183 0h18m-347 4h18m18 0h19m55 0h18m-348 8h18m19 0h18m384 0h19m109 0h19m-586 4h18m19 0h18m55 0h18m92 0h18m-238 4h18m110 0h18m-109 8h18m201 0h19m-238 4h18m55 0h18m18 0h19m-165 4h37m73 0h18m18 0h19m55 0h18m238 0h18m-366 4h18m74 0h18m18 0h19m183 0h36m-164 4h18m256 12h18m-347 16h18m-256 4h18m55 0h18m-91 4h18m55 0h18m366 0h19m-19 4h19m18 0h18m-531 4h19m109 0h19m366 0h18m92 0h18m-641 4h19m73 4h18m-110 4h37m-55 8h55m73 4h18m348 0h19m18 12h18m-531 4h19m55 4h18m421 0h18m-531 4h19m91 0h18m458 0h18m-512 4h55m-147 4h19m238 0h36m92 8h18m-110 4h19m183 0h18m-458 4h19m402 0h19m18 0h18m92 0h18m-458 4h19m-55 4h18m348 0h18m55 4h37m-220 4h18m-36 4h18m-18 4h18m92 0h18m-348 4h37m73 4h18m92 0h18m220 0h18m-604 8h18m128 0h19m164 0h37m73 4h37m-366 4h18m-110 4h37m531 0h18m-275 8h19m-19 8h19m128 0h18m-36 4h36m-18 4h18m-146 4h36m74 0h36m-146 4h18m0 4h18m74 0h18m-18 8h18m-18 4h18m0 4h18m-274 4h18m110 0h18m-238 4h18m183 4h37m-18 4h18m73 0h19m-458 4h18m311 0h19m-348 4h18m421 0h55m-403 8h19m219 0h19m18 4h18m-384 4h18m238 0h19m183 0h36m-146 4h36m92 0h18m-421 4h37m128 0h18m183 0h19m91 0h37m-440 4h19m293 0h18m-439 4h54m165 0h19m164 0h19m18 0h18m73 0h19m-330 4h19m91 0h18m-366 4h19m109 0h19m402 0h19m-549 4h18m165 0h18m220 0h36m92 0h18m-586 4h19m329 4h18m202 0h18m-238 4h18m55 0h37m-366 4h18m-128 4h37m109 0h19m-165 4h18m19 0h18m55 0h18m220 0h18m-329 4h18m311 0h18m165 0h37m-147 4h19m128 0h18m-494 4h36m312 0h36m92 0h18m-567 4h18m403 0h18m-458 4h19m421 0h18m-128 4h18m73 0h37m91 0h37m-366 4h37m73 0h18m73 0h19m18 0h18m92 0h18m-55 4h37m-366 4h18m-238 4h18m19 0h18m531 12h18m-18 4h18m-18 4h18m-165 4h19m18 0h18m55 4h18m-457 8h18m330 0h18m91 0h19m-19 8h19m-458 4h18m440 0h18"/>
<path stroke="#f36666" d="M2199 906h18m-347 8h18m-18 8h18m329 0h19m-19 4h19m-531 4h18m147 4h18m18 0h19m55 0h18m201 0h18m-329 4h18m92 0h36m-91 4h18m55 0h18m165 4h37m-458 4h37m73 0h37m91 0h18m-146 4h18m293 4h18m19 0h18m-238 8h18m-238 4h19m201 0h18m-256 4h18m403 0h18m19 0h18m-366 4h37m73 0h36m55 0h37m91 0h19m-366 8h18m92 0h18m128 4h18m-274 4h18m92 0h18m18 0h18m74 0h18m-439 4h18m91 0h19m73 0h18m74 0h18m18 0h18m-128 4h19m73 0h36m165 0h37m-366 4h18m128 0h18m-274 4h18m18 0h19m73 0h18m-238 4h19m-19 4h19m109 0h19m-128 4h18m183 0h18m202 4h18m73 0h18m-201 4h18m147 0h18m-311 4h37m55 0h18m219 0h37m-146 4h36m73 0h19m-128 4h18m37 0h18m18 4h18m19 0h18m-366 4h37m164 0h55m92 0h18m-165 4h19m18 8h18m-274 4h36m220 4h18m73 0h19m-147 4h55m73 0h37m-37 4h37m-256 4h18m110 0h18m-128 4h18m74 0h18m110 0h18m-146 4h18m-439 4h18m165 0h36m-146 4h18m110 0h18m183 0h37m-458 4h19m-19 4h19m91 0h37m-37 4h18m92 0h37m-165 4h18m0 8h18m-18 4h18m-18 4h18m-128 4h37m55 4h18m37 0h36m366 0h19m18 8h18m0 4h37m-641 16h19m-37 4h18m110 0h37m238 0h18m-421 4h18m604 0h19m-128 4h18m-18 8h18m-403 4h37m476 4h18m-549 4h18m-18 4h55m-55 4h18m37 0h18m-146 4h18m55 0h36m-146 4h18m586 0h18m19 0h18m-641 4h19m457 0h37m-531 4h18m19 0h18m73 0h18m-91 4h18m421 0h37m-385 4h19m457 0h19m-641 4h37m-37 4h18m19 0h18m55 0h18m366 0h19m18 0h18m73 0h19m0 4h18m-238 4h18m165 0h18m-128 4h19m18 0h18m92 0h18m-146 4h18m73 0h18m-109 4h18m73 0h18m-219 4h18m92 0h18m73 0h55m-348 8h19m274 4h37m-147 4h19m18 0h18m-128 8h18m165 0h37m-128 4h18m73 0h18m-18 8h37m-476 8h18m421 0h37m-37 8h37m-458 4h37m421 8h18m-567 4h18m73 0h18m220 0h18m-55 4h19m-19 28h19m18 0h18m74 0h36m92 4h18m-238 4h18m-18 4h18m202 0h18m-256 4h18m73 0h37m-439 4h18m293 8h18m73 0h19m0 4h18m-18 8h18m-147 4h19m-311 4h18m512 0h37m-604 4h37m421 0h18m110 0h18m-604 4h18m-18 4h18m0 4h19m402 0h19m91 0h18m-457 8h36m440 4h18m-275 12h19m18 0h18m-384 16h18m421 0h19m109 0h19m-147 4h19m18 0h18m-476 4h37m494 0h18m-567 4h18m0 12h19m402 0h19m109 0h19m-37 4h18m0 8h19m-19 4h19m-37 4h18m-512 4h18m513 0h18m-494 16h18m421 0h18m19 4h18"/>
<path stroke="#f14c4c" d="M1760 914h55m73 20h18m92 0h18m-36 8h18m238 4h18m-494 4h18m330 0h18m-146 8h18m18 0h18m55 0h19m18 0h18m-384 12h18m202 0h36m-366 4h18m312 0h18m219 0h19m-110 4h18m-128 8h18m55 4h19m-330 4h18m293 0h19m-238 4h18m110 0h18m-366 12h18m110 0h18m-146 4h18m-18 4h18m19 0h18m73 0h18m-18 4h37m55 4h36m202 4h36m-146 8h18m73 4h19m-238 8h18m92 0h18m219 0h19m-110 4h18m55 0h18m0 4h19m-403 8h18m366 0h19m-37 4h18m-201 12h18m-164 4h18m92 0h36m73 8h37m73 4h55m-494 8h18m-110 4h19m439 0h18m-348 12h19m-147 4h19m512 0h18m-530 4h18m-55 4h18m128 0h19m-37 4h18m55 0h19m-202 4h19m585 0h37m-37 4h19m-37 8h18m0 8h37m-622 4h18m73 0h37m-19 8h19m439 0h18m19 0h18m-659 4h18m385 0h18m-311 4h18m-128 4h18m19 0h18m549 4h37m-531 4h18m476 0h18m-476 4h19m-19 8h19m18 0h37m-74 4h19m439 0h55m-659 8h18m19 0h18m55 0h36m-36 4h18m18 0h19m439 0h55m-659 4h37m604 4h18m-622 4h18m586 4h18m-55 4h37m-19 4h37m-37 4h19m-19 4h19m-147 4h19m109 0h19m-147 4h19m128 12h18m-37 16h37m-18 8h18m-165 4h55m73 0h19m-19 8h19m-110 4h18m-384 4h18m110 0h37m274 0h37m-19 8h19m-37 4h55m-567 8h18m439 4h18m74 0h18m-275 4h19m36 0h19m146 0h18m19 0h18m-55 4h18m19 0h18m-128 4h18m55 0h37m-220 4h18m183 4h37m-55 4h18m-18 8h18m-201 4h18m183 8h19m-220 4h18m202 8h18m-165 4h19m-458 8h37m512 0h18m-329 16h18m92 8h18m-348 32h19m530 4h37m-604 4h18m531 16h18m19 4h18m-55 12h18m-18 8h18m-73 8h37"/>
<path stroke="#ef3333" d="M1888 914h18m-128 16h18m293 20h19m-128 4h18m-55 4h18m-293 16h37m293 0h18m-329 40h18m55 8h18m513 4h18m-549 24h18m220 0h36m165 0h18m-128 20h19m-128 12h18m219 0h19m-220 8h18m-128 4h19m201 0h18m-18 4h18m-494 4h18m19 0h18m384 28h19m-220 4h18m-238 4h37m549 4h18m19 4h18m-37 8h37m-37 4h19m-37 4h18m-18 8h55m-549 8h36m458 4h37m-531 4h18m476 0h55m-37 8h19m-513 4h18m458 4h18m-18 4h18m-512 8h55m-19 4h19m457 0h19m-37 20h18m19 20h18m-55 12h37m-37 8h18m19 0h18m-37 4h19m-37 12h37m-37 8h18m-238 4h19m238 4h18m-55 12h55m-256 8h18m73 8h19m-37 8h18m128 0h19m-19 4h19m0 4h18m-55 4h55m-55 4h18m0 4h19m-147 4h55m55 0h55m-37 4h19m-19 4h37m-55 4h18m-18 4h18m19 0h18m-37 4h19m-147 4h19m18 0h18m55 4h37m-37 4h18m-457 12h55m-183 8h18m549 44h18m-109 20h18m110 4h18m-55 12h18m0 12h19m-37 8h18m19 0h18m-659 8h18m604 0h37"/>
<path stroke="#ed1919" d="M2126 950h18m-183 12h19m256 120h18m-366 4h18m92 4h18m-256 44h18m-128 4h18m623 20h18m-549 4h18m-128 4h18m604 0h19m-513 8h18m0 4h19m476 0h18m-531 8h37m439 12h55m-37 4h37m-37 4h37m-55 12h18m19 0h18m-622 8h18m55 0h18m476 0h18m-18 8h18m19 0h18m-55 16h18m19 20h18m-55 12h18m19 12h18m-55 16h18m-146 8h18m147 0h18m-604 8h18m440 12h36m55 0h18m19 0h18m-55 4h37m-183 4h18m128 32h18m0 4h19m-348 4h37m311 4h18m-37 12h37m-366 16h18m-36 4h18m201 64h19m109 36h19m-37 12h18"/>
<path stroke="#eb0000" d="M2254 1158h18m-512 8h18m476 0h18m19 0h18m-55 12h37m-513 48h37m457 0h37m-18 76h18m-55 32h55m-37 4h19m0 44h18m-384 4h18m311 4h18m-18 4h55m-128 92h18"/>
</g>
<text x="1211.8" y="91.7" font-size="38.7" text-anchor="middle" fill="#111" textLength="103.7" lengthAdjust="spacingAndGlyphs">PCC-1</text>
<text x="1962.6" y="92.0" font-size="38.7" text-anchor="middle" fill="#111" textLength="101.3" lengthAdjust="spacingAndGlyphs">PCC-2</text>
<text x="1211.8" y="873.3" font-size="38.7" text-anchor="middle" fill="#111" textLength="103.7" lengthAdjust="spacingAndGlyphs">PCC-7</text>
<text x="1975.3" y="873.8" font-size="38.7" text-anchor="middle" fill="#111" textLength="202.6" lengthAdjust="spacingAndGlyphs">Mia PaCa-2</text>
<text x="782.3" y="125.4" font-size="21" fill="#111" textLength="72.0" lengthAdjust="spacingAndGlyphs">Group</text>
<text x="1572.0" y="126.0" font-size="21" fill="#111" textLength="72.0" lengthAdjust="spacingAndGlyphs">Group</text>
<text x="786.0" y="896.7" font-size="21" fill="#111" textLength="72.0" lengthAdjust="spacingAndGlyphs">Group</text>
<text x="1579.8" y="897.0" font-size="21" fill="#111" textLength="72.0" lengthAdjust="spacingAndGlyphs">Group</text>
<rect x="865.8" y="117.3" width="50.8" height="12.9" fill="#000" />
<rect x="916.6" y="117.3" width="51.7" height="12.9" fill="#ff0000" />
<rect x="977.0" y="117.3" width="50.7" height="12.9" fill="#000" />
<rect x="1027.7" y="117.3" width="49.5" height="12.9" fill="#ff0000" />
<rect x="1086.4" y="117.3" width="51.1" height="12.9" fill="#000" />
<rect x="1137.5" y="117.3" width="51.3" height="12.9" fill="#ff0000" />
<rect x="1197.4" y="117.3" width="49.6" height="12.9" fill="#000" />
<rect x="1247.0" y="117.3" width="50.7" height="12.9" fill="#ff0000" />
<rect x="1307.0" y="117.3" width="51.2" height="12.9" fill="#000" />
<rect x="1358.2" y="117.3" width="49.2" height="12.9" fill="#ff0000" />
<rect x="1416.6" y="117.3" width="51.3" height="12.9" fill="#000" />
<rect x="1467.9" y="117.3" width="51.1" height="12.9" fill="#ff0000" />
<rect x="1655.8" y="117.3" width="49.7" height="12.9" fill="#000" />
<rect x="1705.5" y="117.3" width="51.1" height="12.9" fill="#ff0000" />
<rect x="1765.5" y="117.3" width="51.5" height="12.9" fill="#000" />
<rect x="1817.0" y="117.3" width="51.1" height="12.9" fill="#ff0000" />
<rect x="1875.3" y="117.3" width="51.1" height="12.9" fill="#000" />
<rect x="1926.4" y="117.3" width="51.5" height="12.9" fill="#ff0000" />
<rect x="1986.1" y="117.3" width="49.3" height="12.9" fill="#000" />
<rect x="2035.4" y="117.3" width="51.5" height="12.9" fill="#ff0000" />
<rect x="2095.9" y="117.3" width="51.1" height="12.9" fill="#000" />
<rect x="2147.0" y="117.3" width="51.4" height="12.9" fill="#ff0000" />
<rect x="2205.3" y="117.3" width="51.4" height="12.9" fill="#000" />
<rect x="2256.7" y="117.3" width="51.1" height="12.9" fill="#ff0000" />
<rect x="867.6" y="886.0" width="49.3" height="13.0" fill="#000" />
<rect x="916.9" y="886.0" width="51.5" height="13.0" fill="#ff0000" />
<rect x="974.8" y="886.0" width="40.3" height="13.0" fill="#000" />
<rect x="1015.1" y="886.0" width="52.2" height="13.0" fill="#ff0000" />
<rect x="1073.4" y="886.0" width="49.0" height="13.0" fill="#000" />
<rect x="1122.4" y="886.0" width="51.8" height="13.0" fill="#ff0000" />
<rect x="1186.8" y="886.0" width="51.4" height="13.0" fill="#000" />
<rect x="1238.2" y="886.0" width="51.5" height="13.0" fill="#ff0000" />
<rect x="1304.8" y="886.0" width="49.7" height="13.0" fill="#000" />
<rect x="1354.5" y="886.0" width="51.1" height="13.0" fill="#ff0000" />
<rect x="1416.3" y="886.0" width="51.5" height="13.0" fill="#000" />
<rect x="1467.8" y="886.0" width="51.1" height="13.0" fill="#ff0000" />
<rect x="1655.8" y="886.4" width="49.7" height="12.8" fill="#000" />
<rect x="1705.5" y="886.4" width="51.1" height="12.8" fill="#ff0000" />
<rect x="1765.5" y="886.4" width="51.5" height="12.8" fill="#000" />
<rect x="1817.0" y="886.4" width="51.1" height="12.8" fill="#ff0000" />
<rect x="1875.3" y="886.4" width="51.1" height="12.8" fill="#000" />
<rect x="1926.4" y="886.4" width="51.5" height="12.8" fill="#ff0000" />
<rect x="1986.1" y="886.4" width="49.3" height="12.8" fill="#000" />
<rect x="2035.4" y="886.4" width="51.5" height="12.8" fill="#ff0000" />
<rect x="2095.9" y="886.4" width="51.1" height="12.8" fill="#000" />
<rect x="2147.0" y="886.4" width="51.4" height="12.8" fill="#ff0000" />
<rect x="2205.3" y="886.4" width="51.4" height="12.8" fill="#000" />
<rect x="2256.7" y="886.4" width="51.1" height="12.8" fill="#ff0000" />
<line x1="859.4" y1="779.6" x2="963.9" y2="779.6" stroke="#000" stroke-width="2" />
<line x1="969.0" y1="779.6" x2="1073.5" y2="779.6" stroke="#000" stroke-width="2" />
<line x1="1079.9" y1="779.6" x2="1184.8" y2="779.6" stroke="#000" stroke-width="2" />
<line x1="1189.9" y1="779.6" x2="1294.4" y2="779.6" stroke="#000" stroke-width="2" />
<line x1="1300.8" y1="779.6" x2="1405.2" y2="779.6" stroke="#000" stroke-width="2" />
<line x1="1410.3" y1="779.6" x2="1515.3" y2="779.6" stroke="#000" stroke-width="2" />
<text x="910.6" y="817.0" font-size="30" text-anchor="middle" fill="#222" textLength="56.3" lengthAdjust="spacingAndGlyphs">p10</text>
<text x="1019.3" y="817.0" font-size="30" text-anchor="middle" fill="#222" textLength="56.3" lengthAdjust="spacingAndGlyphs">p20</text>
<text x="1128.9" y="817.0" font-size="30" text-anchor="middle" fill="#222" textLength="56.3" lengthAdjust="spacingAndGlyphs">p25</text>
<text x="1241.0" y="817.0" font-size="30" text-anchor="middle" fill="#222" textLength="56.3" lengthAdjust="spacingAndGlyphs">p30</text>
<text x="1349.8" y="817.0" font-size="30" text-anchor="middle" fill="#222" textLength="56.3" lengthAdjust="spacingAndGlyphs">p35</text>
<text x="1459.8" y="817.0" font-size="30" text-anchor="middle" fill="#222" textLength="56.3" lengthAdjust="spacingAndGlyphs">p40</text>
<line x1="1648.2" y1="779.0" x2="1752.9" y2="779.0" stroke="#000" stroke-width="2" />
<line x1="1759.2" y1="779.0" x2="1864.3" y2="779.0" stroke="#000" stroke-width="2" />
<line x1="1869.0" y1="779.0" x2="1973.2" y2="779.0" stroke="#000" stroke-width="2" />
<line x1="1978.3" y1="779.0" x2="2083.0" y2="779.0" stroke="#000" stroke-width="2" />
<line x1="2089.3" y1="779.0" x2="2194.0" y2="779.0" stroke="#000" stroke-width="2" />
<line x1="2199.0" y1="779.0" x2="2303.7" y2="779.0" stroke="#000" stroke-width="2" />
<text x="1700.0" y="817.0" font-size="30" text-anchor="middle" fill="#222" textLength="56.3" lengthAdjust="spacingAndGlyphs">p10</text>
<text x="1809.4" y="817.0" font-size="30" text-anchor="middle" fill="#222" textLength="56.3" lengthAdjust="spacingAndGlyphs">p20</text>
<text x="1920.5" y="817.0" font-size="30" text-anchor="middle" fill="#222" textLength="56.3" lengthAdjust="spacingAndGlyphs">p25</text>
<text x="2030.2" y="817.0" font-size="30" text-anchor="middle" fill="#222" textLength="56.3" lengthAdjust="spacingAndGlyphs">p30</text>
<text x="2139.1" y="817.0" font-size="30" text-anchor="middle" fill="#222" textLength="56.3" lengthAdjust="spacingAndGlyphs">p35</text>
<text x="2251.0" y="817.0" font-size="30" text-anchor="middle" fill="#222" textLength="56.3" lengthAdjust="spacingAndGlyphs">p40</text>
<line x1="859.4" y1="1551.8" x2="965.2" y2="1551.8" stroke="#000" stroke-width="2" />
<line x1="970.3" y1="1551.8" x2="1076.9" y2="1551.8" stroke="#000" stroke-width="2" />
<line x1="1082.4" y1="1551.8" x2="1187.8" y2="1551.8" stroke="#000" stroke-width="2" />
<line x1="1193.3" y1="1551.8" x2="1299.9" y2="1551.8" stroke="#000" stroke-width="2" />
<line x1="1305.0" y1="1551.8" x2="1411.6" y2="1551.8" stroke="#000" stroke-width="2" />
<line x1="1415.9" y1="1551.8" x2="1522.5" y2="1551.8" stroke="#000" stroke-width="2" />
<text x="909.3" y="1588.0" font-size="30" text-anchor="middle" fill="#222" textLength="56.3" lengthAdjust="spacingAndGlyphs">p10</text>
<text x="1020.2" y="1588.0" font-size="30" text-anchor="middle" fill="#222" textLength="56.3" lengthAdjust="spacingAndGlyphs">p20</text>
<text x="1131.5" y="1588.0" font-size="30" text-anchor="middle" fill="#222" textLength="56.3" lengthAdjust="spacingAndGlyphs">p25</text>
<text x="1243.2" y="1588.0" font-size="30" text-anchor="middle" fill="#222" textLength="56.3" lengthAdjust="spacingAndGlyphs">p30</text>
<text x="1354.0" y="1588.0" font-size="30" text-anchor="middle" fill="#222" textLength="56.3" lengthAdjust="spacingAndGlyphs">p35</text>
<text x="1466.2" y="1588.0" font-size="30" text-anchor="middle" fill="#222" textLength="56.3" lengthAdjust="spacingAndGlyphs">p40</text>
<line x1="1652.4" y1="1550.4" x2="1757.1" y2="1550.4" stroke="#000" stroke-width="2" />
<line x1="1763.4" y1="1550.4" x2="1869.0" y2="1550.4" stroke="#000" stroke-width="2" />
<line x1="1873.2" y1="1550.4" x2="1978.3" y2="1550.4" stroke="#000" stroke-width="2" />
<line x1="1983.8" y1="1550.4" x2="2089.3" y2="1550.4" stroke="#000" stroke-width="2" />
<line x1="2093.5" y1="1550.4" x2="2199.0" y2="1550.4" stroke="#000" stroke-width="2" />
<line x1="2203.3" y1="1550.4" x2="2308.0" y2="1550.4" stroke="#000" stroke-width="2" />
<text x="1704.3" y="1588.3" font-size="30" text-anchor="middle" fill="#222" textLength="56.3" lengthAdjust="spacingAndGlyphs">p10</text>
<text x="1814.1" y="1588.3" font-size="30" text-anchor="middle" fill="#222" textLength="56.3" lengthAdjust="spacingAndGlyphs">p20</text>
<text x="1924.7" y="1588.3" font-size="30" text-anchor="middle" fill="#222" textLength="56.3" lengthAdjust="spacingAndGlyphs">p25</text>
<text x="2034.4" y="1588.3" font-size="30" text-anchor="middle" fill="#222" textLength="56.3" lengthAdjust="spacingAndGlyphs">p30</text>
<text x="2146.3" y="1588.3" font-size="30" text-anchor="middle" fill="#222" textLength="56.3" lengthAdjust="spacingAndGlyphs">p35</text>
<text x="2255.2" y="1588.3" font-size="30" text-anchor="middle" fill="#222" textLength="56.3" lengthAdjust="spacingAndGlyphs">p40</text>
<text x="1213.8" y="1644.8" font-size="31.5" text-anchor="middle" fill="#222" textLength="239.6" lengthAdjust="spacingAndGlyphs">Passage number</text>
<text x="1972.2" y="1643.2" font-size="31.5" text-anchor="middle" fill="#222" textLength="238.4" lengthAdjust="spacingAndGlyphs">Passage number</text>
<rect x="1098.0" y="1699.0" width="37.0" height="27.0" fill="#000" />
<text x="1154.0" y="1726.0" font-size="35" fill="#111" textLength="119.0" lengthAdjust="spacingAndGlyphs">Control</text>
<rect x="1334.6" y="1699.0" width="36.0" height="27.0" fill="#ff0000" />
<text x="1389.0" y="1726.0" font-size="35" fill="#111" textLength="96.0" lengthAdjust="spacingAndGlyphs">GemR</text>
<defs><linearGradient id="cb" x1="0" x2="1" y1="0" y2="0"><stop offset="0" stop-color="#ff0000"/><stop offset="0.47" stop-color="#ffffff"/><stop offset="0.53" stop-color="#ffffff"/><stop offset="1" stop-color="#0000ff"/></linearGradient></defs>
<rect x="1630.8" y="1699.0" width="295.5" height="35.5" fill="url(#cb)" />
<line x1="1631.5" y1="1735.0" x2="1631.5" y2="1761.0" stroke="#000" stroke-width="2" />
<line x1="1704.5" y1="1735.0" x2="1704.5" y2="1761.0" stroke="#000" stroke-width="2" />
<line x1="1779.0" y1="1735.0" x2="1779.0" y2="1761.0" stroke="#000" stroke-width="2" />
<line x1="1852.5" y1="1735.0" x2="1852.5" y2="1761.0" stroke="#000" stroke-width="2" />
<line x1="1926.5" y1="1735.0" x2="1926.5" y2="1761.0" stroke="#000" stroke-width="2" />
<text x="1631.5" y="1797.0" font-size="24.7" text-anchor="middle" fill="#222" textLength="13.0" lengthAdjust="spacingAndGlyphs">2</text>
<text x="1704.5" y="1797.0" font-size="24.7" text-anchor="middle" fill="#222" textLength="13.0" lengthAdjust="spacingAndGlyphs">1</text>
<text x="1779.0" y="1797.0" font-size="24.7" text-anchor="middle" fill="#222" textLength="13.0" lengthAdjust="spacingAndGlyphs">0</text>
<text x="1848.0" y="1797.0" font-size="24.7" text-anchor="middle" fill="#222" textLength="38.0" lengthAdjust="spacingAndGlyphs">– 1</text>
<text x="1922.0" y="1797.0" font-size="24.7" text-anchor="middle" fill="#222" textLength="40.0" lengthAdjust="spacingAndGlyphs">– 2</text>
<text x="71.2" y="1878.0" font-size="51" font-weight="bold" textLength="36.0" lengthAdjust="spacingAndGlyphs">C</text>
<text x="514.0" y="1874.0" font-size="33" text-anchor="middle" fill="#222" textLength="107.3" lengthAdjust="spacingAndGlyphs">Control</text>
<line x1="419.0" y1="1890.0" x2="611.5" y2="1890.0" stroke="#000" stroke-width="2" />
<text x="728.8" y="1874.0" font-size="33" text-anchor="middle" fill="#222" textLength="88.0" lengthAdjust="spacingAndGlyphs">GemR</text>
<line x1="635.0" y1="1890.0" x2="825.0" y2="1890.0" stroke="#000" stroke-width="2" />
<text x="426.0" y="1918.4" font-size="23" text-anchor="middle" fill="#111" textLength="29.4" lengthAdjust="spacingAndGlyphs">10</text>
<text x="462.4" y="1918.4" font-size="23" text-anchor="middle" fill="#111" textLength="29.4" lengthAdjust="spacingAndGlyphs">20</text>
<text x="497.2" y="1918.4" font-size="23" text-anchor="middle" fill="#111" textLength="29.4" lengthAdjust="spacingAndGlyphs">25</text>
<text x="533.0" y="1918.4" font-size="23" text-anchor="middle" fill="#111" textLength="29.4" lengthAdjust="spacingAndGlyphs">30</text>
<text x="568.6" y="1918.4" font-size="23" text-anchor="middle" fill="#111" textLength="29.4" lengthAdjust="spacingAndGlyphs">35</text>
<text x="606.5" y="1918.4" font-size="23" text-anchor="middle" fill="#111" textLength="29.4" lengthAdjust="spacingAndGlyphs">40</text>
<text x="643.0" y="1918.4" font-size="23" text-anchor="middle" fill="#ff0000" textLength="29.4" lengthAdjust="spacingAndGlyphs">10</text>
<text x="679.4" y="1918.4" font-size="23" text-anchor="middle" fill="#ff0000" textLength="29.4" lengthAdjust="spacingAndGlyphs">20</text>
<text x="713.2" y="1918.4" font-size="23" text-anchor="middle" fill="#ff0000" textLength="29.4" lengthAdjust="spacingAndGlyphs">25</text>
<text x="749.8" y="1918.4" font-size="23" text-anchor="middle" fill="#ff0000" textLength="29.4" lengthAdjust="spacingAndGlyphs">30</text>
<text x="785.6" y="1918.4" font-size="23" text-anchor="middle" fill="#ff0000" textLength="29.4" lengthAdjust="spacingAndGlyphs">35</text>
<text x="822.7" y="1918.4" font-size="23" text-anchor="middle" fill="#ff0000" textLength="29.4" lengthAdjust="spacingAndGlyphs">40</text>
<text x="864.4" y="1914.8" font-size="23" fill="#111" textLength="183.9" lengthAdjust="spacingAndGlyphs">Passage number</text>
<defs><filter id="b1" x="-20%" y="-100%" width="140%" height="300%"><feGaussianBlur stdDeviation="1.2"/></filter><filter id="b2" x="-20%" y="-100%" width="140%" height="300%"><feGaussianBlur stdDeviation="2"/></filter><filter id="b3" x="-30%" y="-150%" width="160%" height="400%"><feGaussianBlur stdDeviation="3.5"/></filter></defs>
<rect x="403.5" y="1928.7" width="439.5" height="56.3" fill="#d8d8d8" stroke="#cfcfcf" stroke-width="1.5"/>
<rect x="403.5" y="1989.0" width="439.5" height="56.0" fill="#f5f5f5" stroke="#cfcfcf" stroke-width="1.5"/>
<rect x="403.5" y="2053.0" width="439.5" height="55.5" fill="#f6f6f6" stroke="#cfcfcf" stroke-width="1.5"/>
<rect x="403.5" y="2113.0" width="439.5" height="55.7" fill="#f4f4f4" stroke="#cfcfcf" stroke-width="1.5"/>
<rect x="403.5" y="2175.9" width="439.5" height="57.1" fill="#f1f1f1" stroke="#cfcfcf" stroke-width="1.5"/>
<rect x="403.5" y="2235.5" width="439.5" height="57.5" fill="#f5f5f5" stroke="#cfcfcf" stroke-width="1.5"/>
<rect x="403.5" y="2300.0" width="439.5" height="59.0" fill="#d3d3d3" stroke="#cfcfcf" stroke-width="1.5"/>
<rect x="403.5" y="2362.0" width="439.5" height="56.4" fill="#f5f5f5" stroke="#cfcfcf" stroke-width="1.5"/>
<rect x="411.0" y="1965.0" width="30.0" height="6.0" rx="3.0" fill="#0c0c0c" filter="url(#b2)" transform="rotate(-3.0 426.0 1968.0)"/>
<rect x="411.5" y="1956.5" width="29.0" height="5.0" rx="2.5" fill="#878787" filter="url(#b2)" transform="rotate(-3.0 426.0 1959.0)"/>
<rect x="447.4" y="1962.2" width="30.0" height="6.0" rx="3.0" fill="#0c0c0c" filter="url(#b2)" transform="rotate(-3.0 462.4 1965.2)"/>
<rect x="447.9" y="1953.7" width="29.0" height="5.0" rx="2.5" fill="#737373" filter="url(#b2)" transform="rotate(-3.0 462.4 1956.2)"/>
<rect x="482.2" y="1959.4" width="30.0" height="6.0" rx="3.0" fill="#0c0c0c" filter="url(#b2)" transform="rotate(-3.0 497.2 1962.4)"/>
<rect x="482.7" y="1950.9" width="29.0" height="5.0" rx="2.5" fill="#606060" filter="url(#b2)" transform="rotate(-3.0 497.2 1953.4)"/>
<rect x="517.3" y="1956.6" width="30.0" height="6.0" rx="3.0" fill="#0c0c0c" filter="url(#b2)" transform="rotate(-3.0 532.3 1959.6)"/>
<rect x="517.8" y="1948.1" width="29.0" height="5.0" rx="2.5" fill="#4c4c4c" filter="url(#b2)" transform="rotate(-3.0 532.3 1950.6)"/>
<rect x="553.6" y="1953.8" width="30.0" height="6.0" rx="3.0" fill="#0c0c0c" filter="url(#b2)" transform="rotate(-3.0 568.6 1956.8)"/>
<rect x="554.1" y="1945.3" width="29.0" height="5.0" rx="2.5" fill="#383838" filter="url(#b2)" transform="rotate(-3.0 568.6 1947.8)"/>
<rect x="590.2" y="1951.0" width="30.0" height="6.0" rx="3.0" fill="#0c0c0c" filter="url(#b2)" transform="rotate(-3.0 605.2 1954.0)"/>
<rect x="590.7" y="1942.5" width="29.0" height="5.0" rx="2.5" fill="#252525" filter="url(#b2)" transform="rotate(-3.0 605.2 1945.0)"/>
<rect x="628.8" y="1950.2" width="27.0" height="4.5" rx="2.2" fill="#252525" filter="url(#b2)"/>
<rect x="664.5" y="1950.7" width="27.0" height="4.5" rx="2.2" fill="#252525" filter="url(#b2)"/>
<rect x="700.5" y="1951.0" width="27.0" height="4.5" rx="2.2" fill="#252525" filter="url(#b2)"/>
<rect x="736.2" y="1951.5" width="27.0" height="4.5" rx="2.2" fill="#252525" filter="url(#b2)"/>
<rect x="772.1" y="1951.8" width="27.0" height="4.5" rx="2.2" fill="#252525" filter="url(#b2)"/>
<rect x="806.1" y="1952.2" width="27.0" height="4.5" rx="2.2" fill="#252525" filter="url(#b2)"/>
<rect x="630.3" y="1941.0" width="24.0" height="4.0" rx="2.0" fill="#c4c4c4" filter="url(#b2)"/>
<rect x="411.0" y="2026.0" width="30.0" height="8.0" rx="4.0" fill="#c9c9c9" filter="url(#b3)"/>
<rect x="410.0" y="2021.0" width="32.0" height="8.0" rx="4.0" fill="#0c0c0c" filter="url(#b2)" transform="rotate(-2.5 426.0 2025.0)"/>
<rect x="447.4" y="2023.9" width="30.0" height="8.0" rx="4.0" fill="#c9c9c9" filter="url(#b3)"/>
<rect x="446.4" y="2018.9" width="32.0" height="8.0" rx="4.0" fill="#0c0c0c" filter="url(#b2)" transform="rotate(-2.5 462.4 2022.9)"/>
<rect x="482.2" y="2021.9" width="30.0" height="8.0" rx="4.0" fill="#c9c9c9" filter="url(#b3)"/>
<rect x="481.2" y="2016.9" width="32.0" height="8.0" rx="4.0" fill="#0c0c0c" filter="url(#b2)" transform="rotate(-2.5 497.2 2020.9)"/>
<rect x="517.3" y="2019.8" width="30.0" height="8.0" rx="4.0" fill="#c9c9c9" filter="url(#b3)"/>
<rect x="516.3" y="2014.8" width="32.0" height="8.0" rx="4.0" fill="#0c0c0c" filter="url(#b2)" transform="rotate(-2.5 532.3 2018.8)"/>
<rect x="553.6" y="2017.7" width="30.0" height="8.0" rx="4.0" fill="#c9c9c9" filter="url(#b3)"/>
<rect x="552.6" y="2012.7" width="32.0" height="8.0" rx="4.0" fill="#0c0c0c" filter="url(#b2)" transform="rotate(-2.5 568.6 2016.7)"/>
<rect x="590.2" y="2015.7" width="30.0" height="8.0" rx="4.0" fill="#c9c9c9" filter="url(#b3)"/>
<rect x="589.2" y="2010.7" width="32.0" height="8.0" rx="4.0" fill="#0c0c0c" filter="url(#b2)" transform="rotate(-2.5 605.2 2014.7)"/>
<rect x="627.3" y="2013.6" width="30.0" height="8.0" rx="4.0" fill="#c9c9c9" filter="url(#b3)"/>
<rect x="626.3" y="2008.6" width="32.0" height="8.0" rx="4.0" fill="#0c0c0c" filter="url(#b2)" transform="rotate(-2.5 642.3 2012.6)"/>
<rect x="663.0" y="2013.6" width="30.0" height="8.0" rx="4.0" fill="#c9c9c9" filter="url(#b3)"/>
<rect x="662.0" y="2008.6" width="32.0" height="8.0" rx="4.0" fill="#0c0c0c" filter="url(#b2)"/>
<rect x="699.0" y="2013.6" width="30.0" height="8.0" rx="4.0" fill="#c9c9c9" filter="url(#b3)"/>
<rect x="698.0" y="2008.6" width="32.0" height="8.0" rx="4.0" fill="#0c0c0c" filter="url(#b2)"/>
<rect x="734.7" y="2013.6" width="30.0" height="8.0" rx="4.0" fill="#c9c9c9" filter="url(#b3)"/>
<rect x="733.7" y="2008.6" width="32.0" height="8.0" rx="4.0" fill="#0c0c0c" filter="url(#b2)"/>
<rect x="770.6" y="2013.6" width="30.0" height="8.0" rx="4.0" fill="#c9c9c9" filter="url(#b3)"/>
<rect x="769.6" y="2008.6" width="32.0" height="8.0" rx="4.0" fill="#0c0c0c" filter="url(#b2)"/>
<rect x="804.6" y="2013.6" width="30.0" height="8.0" rx="4.0" fill="#c9c9c9" filter="url(#b3)"/>
<rect x="803.6" y="2008.6" width="32.0" height="8.0" rx="4.0" fill="#0c0c0c" filter="url(#b2)"/>
<rect x="411.0" y="2085.0" width="30.0" height="10.0" rx="5.0" fill="#d0d0d0" filter="url(#b3)"/>
<rect x="410.5" y="2078.0" width="31.0" height="10.0" rx="5.0" fill="#000000" filter="url(#b2)"/>
<rect x="447.4" y="2085.0" width="30.0" height="10.0" rx="5.0" fill="#d0d0d0" filter="url(#b3)"/>
<rect x="446.9" y="2078.0" width="31.0" height="10.0" rx="5.0" fill="#000000" filter="url(#b2)"/>
<rect x="482.2" y="2085.0" width="30.0" height="10.0" rx="5.0" fill="#d0d0d0" filter="url(#b3)"/>
<rect x="481.7" y="2078.0" width="31.0" height="10.0" rx="5.0" fill="#000000" filter="url(#b2)"/>
<rect x="517.3" y="2085.0" width="30.0" height="10.0" rx="5.0" fill="#d0d0d0" filter="url(#b3)"/>
<rect x="516.8" y="2078.0" width="31.0" height="10.0" rx="5.0" fill="#000000" filter="url(#b2)"/>
<rect x="553.6" y="2085.0" width="30.0" height="10.0" rx="5.0" fill="#d0d0d0" filter="url(#b3)"/>
<rect x="553.1" y="2078.0" width="31.0" height="10.0" rx="5.0" fill="#000000" filter="url(#b2)"/>
<rect x="590.2" y="2085.0" width="30.0" height="10.0" rx="5.0" fill="#d0d0d0" filter="url(#b3)"/>
<rect x="589.7" y="2078.0" width="31.0" height="10.0" rx="5.0" fill="#000000" filter="url(#b2)"/>
<rect x="628.8" y="2079.0" width="27.0" height="6.0" rx="3.0" fill="#bfbfbf" filter="url(#b2)"/>
<rect x="664.5" y="2078.2" width="27.0" height="6.0" rx="3.0" fill="#b8b8b8" filter="url(#b2)"/>
<rect x="700.5" y="2077.4" width="27.0" height="6.0" rx="3.0" fill="#acacac" filter="url(#b2)"/>
<rect x="736.2" y="2076.6" width="27.0" height="6.0" rx="3.0" fill="#939393" filter="url(#b2)"/>
<rect x="772.1" y="2075.8" width="27.0" height="6.0" rx="3.0" fill="#626262" filter="url(#b2)"/>
<rect x="806.1" y="2075.0" width="27.0" height="6.0" rx="3.0" fill="#3d3d3d" filter="url(#b2)"/>
<rect x="411.0" y="2142.5" width="30.0" height="10.0" rx="5.0" fill="#c9c9c9" filter="url(#b3)"/>
<rect x="410.0" y="2136.0" width="32.0" height="9.0" rx="4.5" fill="#0c0c0c" filter="url(#b2)"/>
<rect x="447.4" y="2141.7" width="30.0" height="10.0" rx="5.0" fill="#c9c9c9" filter="url(#b3)"/>
<rect x="446.4" y="2135.2" width="32.0" height="9.0" rx="4.5" fill="#0c0c0c" filter="url(#b2)"/>
<rect x="482.2" y="2140.9" width="30.0" height="10.0" rx="5.0" fill="#c9c9c9" filter="url(#b3)"/>
<rect x="481.2" y="2134.4" width="32.0" height="9.0" rx="4.5" fill="#0c0c0c" filter="url(#b2)"/>
<rect x="517.3" y="2140.1" width="30.0" height="10.0" rx="5.0" fill="#c9c9c9" filter="url(#b3)"/>
<rect x="516.3" y="2133.6" width="32.0" height="9.0" rx="4.5" fill="#0c0c0c" filter="url(#b2)"/>
<rect x="553.6" y="2139.3" width="30.0" height="10.0" rx="5.0" fill="#c9c9c9" filter="url(#b3)"/>
<rect x="552.6" y="2132.8" width="32.0" height="9.0" rx="4.5" fill="#0c0c0c" filter="url(#b2)"/>
<rect x="590.2" y="2138.5" width="30.0" height="10.0" rx="5.0" fill="#c9c9c9" filter="url(#b3)"/>
<rect x="589.2" y="2132.0" width="32.0" height="9.0" rx="4.5" fill="#3d3d3d" filter="url(#b2)"/>
<rect x="627.3" y="2137.6" width="30.0" height="10.0" rx="5.0" fill="#c9c9c9" filter="url(#b3)"/>
<rect x="626.3" y="2131.1" width="32.0" height="9.0" rx="4.5" fill="#626262" filter="url(#b2)"/>
<rect x="663.0" y="2136.8" width="30.0" height="10.0" rx="5.0" fill="#c9c9c9" filter="url(#b3)"/>
<rect x="662.0" y="2130.3" width="32.0" height="9.0" rx="4.5" fill="#0c0c0c" filter="url(#b2)"/>
<rect x="699.0" y="2136.0" width="30.0" height="10.0" rx="5.0" fill="#c9c9c9" filter="url(#b3)"/>
<rect x="698.0" y="2129.5" width="32.0" height="9.0" rx="4.5" fill="#0c0c0c" filter="url(#b2)"/>
<rect x="734.7" y="2135.2" width="30.0" height="10.0" rx="5.0" fill="#c9c9c9" filter="url(#b3)"/>
<rect x="733.7" y="2128.7" width="32.0" height="9.0" rx="4.5" fill="#0c0c0c" filter="url(#b2)"/>
<rect x="770.6" y="2134.4" width="30.0" height="10.0" rx="5.0" fill="#c9c9c9" filter="url(#b3)"/>
<rect x="769.6" y="2127.9" width="32.0" height="9.0" rx="4.5" fill="#0c0c0c" filter="url(#b2)"/>
<rect x="804.6" y="2133.6" width="30.0" height="10.0" rx="5.0" fill="#c9c9c9" filter="url(#b3)"/>
<rect x="803.6" y="2127.1" width="32.0" height="9.0" rx="4.5" fill="#0c0c0c" filter="url(#b2)"/>
<rect x="412.0" y="2190.5" width="28.0" height="5.0" rx="2.5" fill="#e9e9e9" filter="url(#b2)"/>
<rect x="448.4" y="2190.5" width="28.0" height="5.0" rx="2.5" fill="#e9e9e9" filter="url(#b2)"/>
<rect x="483.2" y="2190.5" width="28.0" height="5.0" rx="2.5" fill="#e9e9e9" filter="url(#b2)"/>
<rect x="518.3" y="2190.5" width="28.0" height="5.0" rx="2.5" fill="#e9e9e9" filter="url(#b2)"/>
<rect x="554.6" y="2190.5" width="28.0" height="5.0" rx="2.5" fill="#e9e9e9" filter="url(#b2)"/>
<rect x="591.2" y="2190.5" width="28.0" height="5.0" rx="2.5" fill="#e9e9e9" filter="url(#b2)"/>
<rect x="629.8" y="2190.5" width="25.0" height="5.0" rx="2.5" fill="#7a7a7a" filter="url(#b2)"/>
<rect x="664.0" y="2189.5" width="28.0" height="7.0" rx="3.5" fill="#141414" filter="url(#b2)"/>
<rect x="700.0" y="2188.5" width="28.0" height="9.0" rx="4.5" fill="#000000" filter="url(#b2)"/>
<rect x="735.7" y="2188.0" width="28.0" height="10.0" rx="5.0" fill="#000000" filter="url(#b2)"/>
<rect x="771.6" y="2188.0" width="28.0" height="10.0" rx="5.0" fill="#000000" filter="url(#b2)"/>
<rect x="805.6" y="2187.5" width="28.0" height="11.0" rx="5.5" fill="#000000" filter="url(#b2)"/>
<rect x="665.0" y="2215.3" width="26.0" height="4.5" rx="2.2" fill="#dcdcdc" filter="url(#b2)"/>
<rect x="701.0" y="2214.8" width="26.0" height="4.5" rx="2.2" fill="#c9c9c9" filter="url(#b2)"/>
<rect x="736.7" y="2214.3" width="26.0" height="4.5" rx="2.2" fill="#b8b8b8" filter="url(#b2)"/>
<rect x="772.6" y="2213.8" width="26.0" height="4.5" rx="2.2" fill="#a7a7a7" filter="url(#b2)"/>
<rect x="806.6" y="2213.3" width="26.0" height="4.5" rx="2.2" fill="#8e8e8e" filter="url(#b2)"/>
<rect x="411.5" y="2267.0" width="29.0" height="6.0" rx="3.0" fill="#000000" filter="url(#b1)" transform="rotate(-1.5 426.0 2270.0)"/>
<rect x="447.9" y="2266.5" width="29.0" height="6.0" rx="3.0" fill="#000000" filter="url(#b1)" transform="rotate(-1.5 462.4 2269.5)"/>
<rect x="482.7" y="2267.0" width="29.0" height="6.0" rx="3.0" fill="#000000" filter="url(#b1)" transform="rotate(-1.5 497.2 2270.0)"/>
<rect x="517.8" y="2266.0" width="29.0" height="6.0" rx="3.0" fill="#000000" filter="url(#b1)" transform="rotate(-1.5 532.3 2269.0)"/>
<rect x="554.1" y="2264.5" width="29.0" height="6.0" rx="3.0" fill="#000000" filter="url(#b1)" transform="rotate(-1.5 568.6 2267.5)"/>
<rect x="590.7" y="2263.0" width="29.0" height="6.0" rx="3.0" fill="#000000" filter="url(#b1)" transform="rotate(-4.0 605.2 2266.0)"/>
<rect x="627.8" y="2262.0" width="29.0" height="6.0" rx="3.0" fill="#181818" filter="url(#b1)" transform="rotate(-4.0 642.3 2265.0)"/>
<rect x="663.5" y="2260.6" width="29.0" height="6.0" rx="3.0" fill="#3d3d3d" filter="url(#b1)" transform="rotate(-4.0 678.0 2263.6)"/>
<rect x="699.5" y="2259.4" width="29.0" height="6.0" rx="3.0" fill="#4a4a4a" filter="url(#b1)" transform="rotate(-4.0 714.0 2262.4)"/>
<rect x="735.2" y="2256.3" width="29.0" height="6.0" rx="3.0" fill="#0c0c0c" filter="url(#b1)" transform="rotate(-4.0 749.7 2259.3)"/>
<rect x="771.1" y="2253.7" width="29.0" height="6.0" rx="3.0" fill="#0c0c0c" filter="url(#b1)" transform="rotate(-4.0 785.6 2256.7)"/>
<rect x="805.1" y="2250.4" width="29.0" height="6.0" rx="3.0" fill="#0c0c0c" filter="url(#b1)" transform="rotate(-4.0 819.6 2253.4)"/>
<rect x="411.5" y="2333.6" width="29.0" height="6.0" rx="3.0" fill="#747474" filter="url(#b2)"/>
<rect x="447.9" y="2333.6" width="29.0" height="6.0" rx="3.0" fill="#747474" filter="url(#b2)"/>
<rect x="482.7" y="2333.6" width="29.0" height="6.0" rx="3.0" fill="#747474" filter="url(#b2)"/>
<rect x="517.8" y="2333.6" width="29.0" height="6.0" rx="3.0" fill="#747474" filter="url(#b2)"/>
<rect x="554.1" y="2333.6" width="29.0" height="6.0" rx="3.0" fill="#747474" filter="url(#b2)"/>
<rect x="590.7" y="2333.6" width="29.0" height="6.0" rx="3.0" fill="#747474" filter="url(#b2)"/>
<rect x="630.3" y="2326.0" width="24.0" height="4.0" rx="2.0" fill="#c8c8c8" filter="url(#b2)"/>
<rect x="664.0" y="2326.5" width="28.0" height="7.0" rx="3.5" fill="#3b3b3b" filter="url(#b2)"/>
<rect x="700.0" y="2324.5" width="28.0" height="7.0" rx="3.5" fill="#353535" filter="url(#b2)"/>
<rect x="735.7" y="2322.5" width="28.0" height="7.0" rx="3.5" fill="#2a2a2a" filter="url(#b2)"/>
<rect x="771.6" y="2321.5" width="28.0" height="7.0" rx="3.5" fill="#2a2a2a" filter="url(#b2)"/>
<rect x="805.6" y="2316.5" width="28.0" height="12.0" rx="6.0" fill="#202020" filter="url(#b2)"/>
<rect x="805.6" y="2333.0" width="28.0" height="14.0" rx="7.0" fill="#bababa" filter="url(#b3)"/>
<rect x="411.5" y="2400.9" width="29.0" height="7.0" rx="3.5" fill="#000000" filter="url(#b1)" transform="rotate(-2.0 426.0 2404.4)"/>
<rect x="447.9" y="2400.9" width="29.0" height="7.0" rx="3.5" fill="#000000" filter="url(#b1)" transform="rotate(-2.0 462.4 2404.4)"/>
<rect x="482.7" y="2399.5" width="29.0" height="7.0" rx="3.5" fill="#000000" filter="url(#b1)" transform="rotate(-2.0 497.2 2403.0)"/>
<rect x="517.8" y="2397.0" width="29.0" height="7.0" rx="3.5" fill="#000000" filter="url(#b1)" transform="rotate(-2.0 532.3 2400.5)"/>
<rect x="554.1" y="2395.8" width="29.0" height="7.0" rx="3.5" fill="#000000" filter="url(#b1)" transform="rotate(-2.0 568.6 2399.3)"/>
<rect x="590.7" y="2393.2" width="29.0" height="7.0" rx="3.5" fill="#000000" filter="url(#b1)" transform="rotate(-4.0 605.2 2396.7)"/>
<rect x="627.8" y="2389.8" width="29.0" height="5.0" rx="2.5" fill="#000000" filter="url(#b1)" transform="rotate(-4.0 642.3 2392.3)"/>
<rect x="663.5" y="2385.2" width="29.0" height="5.0" rx="2.5" fill="#000000" filter="url(#b1)" transform="rotate(-4.0 678.0 2387.7)"/>
<rect x="699.5" y="2382.7" width="29.0" height="5.0" rx="2.5" fill="#000000" filter="url(#b1)" transform="rotate(-4.0 714.0 2385.2)"/>
<rect x="735.2" y="2378.1" width="29.0" height="5.0" rx="2.5" fill="#000000" filter="url(#b1)" transform="rotate(-4.0 749.7 2380.6)"/>
<rect x="771.1" y="2375.0" width="29.0" height="5.0" rx="2.5" fill="#000000" filter="url(#b1)" transform="rotate(-4.0 785.6 2377.5)"/>
<rect x="805.1" y="2369.9" width="29.0" height="5.0" rx="2.5" fill="#000000" filter="url(#b1)" transform="rotate(-4.0 819.6 2372.4)"/>
<text x="381.5" y="1971.0" font-size="39" text-anchor="end" fill="#111" textLength="86.0" lengthAdjust="spacingAndGlyphs">KLK6</text>
<text x="381.5" y="2032.5" font-size="39" text-anchor="end" fill="#111" textLength="129.0" lengthAdjust="spacingAndGlyphs">GAPDH</text>
<text x="381.5" y="2095.0" font-size="39" text-anchor="end" fill="#111" textLength="91.7" lengthAdjust="spacingAndGlyphs">NT5E</text>
<text x="381.5" y="2155.4" font-size="39" text-anchor="end" fill="#111" textLength="129.0" lengthAdjust="spacingAndGlyphs">GAPDH</text>
<text x="381.5" y="2221.5" font-size="39" text-anchor="end" fill="#111" textLength="275.0" lengthAdjust="spacingAndGlyphs">TPD52L1/hD53</text>
<text x="381.5" y="2279.5" font-size="39" text-anchor="end" fill="#111" textLength="143.0" lengthAdjust="spacingAndGlyphs">Vinculin</text>
<text x="381.5" y="2344.8" font-size="39" text-anchor="end" fill="#111" textLength="123.8" lengthAdjust="spacingAndGlyphs">MALT1</text>
<text x="381.5" y="2406.4" font-size="39" text-anchor="end" fill="#111" textLength="143.0" lengthAdjust="spacingAndGlyphs">Vinculin</text>
<text x="866.0" y="1964.3" font-size="28.5" fill="#111" textLength="85.6" lengthAdjust="spacingAndGlyphs">27 kDa</text>
<text x="870.6" y="2026.4" font-size="28.5" fill="#111" textLength="84.9" lengthAdjust="spacingAndGlyphs">37 kDa</text>
<text x="866.0" y="2088.5" font-size="28.5" fill="#111" textLength="85.6" lengthAdjust="spacingAndGlyphs">70 kDa</text>
<text x="866.0" y="2152.0" font-size="28.5" fill="#111" textLength="85.6" lengthAdjust="spacingAndGlyphs">37 kDa</text>
<text x="866.4" y="2214.9" font-size="28.5" fill="#111" textLength="84.6" lengthAdjust="spacingAndGlyphs">25 kDa</text>
<text x="866.4" y="2273.3" font-size="28.5" fill="#111" textLength="99.6" lengthAdjust="spacingAndGlyphs">124 kDa</text>
<text x="864.2" y="2340.3" font-size="28.5" fill="#111" textLength="84.8" lengthAdjust="spacingAndGlyphs">90 kDa</text>
<text x="866.4" y="2395.9" font-size="28.5" fill="#111" textLength="99.6" lengthAdjust="spacingAndGlyphs">124 kDa</text>
<text x="1210.7" y="2269.0" font-size="39.7" fill="#111" textLength="308.0" lengthAdjust="spacingAndGlyphs" transform="rotate(-90 1210.7 2269.0)">Relative intensity</text>
<text x="1465.3" y="1904.0" font-size="33" text-anchor="middle" fill="#222" textLength="194.5" lengthAdjust="spacingAndGlyphs">KLK6/GAPDH</text>
<rect x="1293.3" y="1990.5" width="21.0" height="56.9" fill="#000" />
<rect x="1322.8" y="1972.8" width="21.0" height="74.6" fill="#000" />
<rect x="1352.4" y="1930.3" width="21.0" height="117.1" fill="#000" />
<rect x="1382.0" y="1975.3" width="21.0" height="72.1" fill="#000" />
<rect x="1411.5" y="1979.4" width="21.0" height="68.0" fill="#000" />
<rect x="1441.1" y="1982.0" width="21.0" height="65.4" fill="#000" />
<rect x="1470.9" y="2013.0" width="20.4" height="34.4" fill="#ff0000" stroke="#000" stroke-width="1.5"/>
<rect x="1500.5" y="2017.1" width="20.4" height="30.3" fill="#ff0000" stroke="#000" stroke-width="1.5"/>
<rect x="1530.0" y="2008.8" width="20.4" height="38.6" fill="#ff0000" stroke="#000" stroke-width="1.5"/>
<rect x="1559.6" y="2017.6" width="20.4" height="29.8" fill="#ff0000" stroke="#000" stroke-width="1.5"/>
<rect x="1589.2" y="2010.7" width="20.4" height="36.7" fill="#ff0000" stroke="#000" stroke-width="1.5"/>
<rect x="1618.7" y="2008.8" width="20.4" height="38.6" fill="#ff0000" stroke="#000" stroke-width="1.5"/>
<line x1="1289.0" y1="1917.5" x2="1289.0" y2="2057.4" stroke="#000" stroke-width="3" />
<line x1="1281.0" y1="2047.4" x2="1645.2" y2="2047.4" stroke="#000" stroke-width="3" />
<line x1="1289.0" y1="2047.4" x2="1289.0" y2="2057.4" stroke="#000" stroke-width="3" />
<line x1="1318.6" y1="2047.4" x2="1318.6" y2="2057.4" stroke="#000" stroke-width="3" />
<line x1="1348.1" y1="2047.4" x2="1348.1" y2="2057.4" stroke="#000" stroke-width="3" />
<line x1="1377.7" y1="2047.4" x2="1377.7" y2="2057.4" stroke="#000" stroke-width="3" />
<line x1="1407.2" y1="2047.4" x2="1407.2" y2="2057.4" stroke="#000" stroke-width="3" />
<line x1="1436.8" y1="2047.4" x2="1436.8" y2="2057.4" stroke="#000" stroke-width="3" />
<line x1="1466.3" y1="2047.4" x2="1466.3" y2="2057.4" stroke="#000" stroke-width="3" />
<line x1="1495.9" y1="2047.4" x2="1495.9" y2="2057.4" stroke="#000" stroke-width="3" />
<line x1="1525.5" y1="2047.4" x2="1525.5" y2="2057.4" stroke="#000" stroke-width="3" />
<line x1="1555.0" y1="2047.4" x2="1555.0" y2="2057.4" stroke="#000" stroke-width="3" />
<line x1="1584.6" y1="2047.4" x2="1584.6" y2="2057.4" stroke="#000" stroke-width="3" />
<line x1="1614.1" y1="2047.4" x2="1614.1" y2="2057.4" stroke="#000" stroke-width="3" />
<line x1="1643.7" y1="2047.4" x2="1643.7" y2="2057.4" stroke="#000" stroke-width="3" />
<line x1="1281.0" y1="2047.4" x2="1289.0" y2="2047.4" stroke="#000" stroke-width="3" />
<text x="1265.3" y="2054.9" font-size="21" text-anchor="end" fill="#333" textLength="34.6" lengthAdjust="spacingAndGlyphs">0.0</text>
<line x1="1281.0" y1="1983.1" x2="1289.0" y2="1983.1" stroke="#000" stroke-width="3" />
<text x="1265.3" y="1990.6" font-size="21" text-anchor="end" fill="#333" textLength="34.6" lengthAdjust="spacingAndGlyphs">1.0</text>
<line x1="1281.0" y1="1918.7" x2="1289.0" y2="1918.7" stroke="#000" stroke-width="3" />
<text x="1265.3" y="1926.2" font-size="21" text-anchor="end" fill="#333" textLength="34.6" lengthAdjust="spacingAndGlyphs">2.0</text>
<text x="1896.0" y="1904.0" font-size="33" text-anchor="middle" fill="#222" textLength="198.8" lengthAdjust="spacingAndGlyphs">NT5E/GAPDH</text>
<rect x="1730.6" y="1979.6" width="21.0" height="67.8" fill="#000" />
<rect x="1759.2" y="1982.2" width="21.0" height="65.2" fill="#000" />
<rect x="1787.8" y="1969.2" width="21.0" height="78.2" fill="#000" />
<rect x="1816.4" y="1998.8" width="21.0" height="48.6" fill="#000" />
<rect x="1845.0" y="1996.9" width="21.0" height="50.5" fill="#000" />
<rect x="1873.6" y="1988.1" width="21.0" height="59.3" fill="#000" />
<rect x="1902.5" y="2026.0" width="20.4" height="21.4" fill="#ff0000" stroke="#000" stroke-width="1.5"/>
<rect x="1931.1" y="2032.9" width="20.4" height="14.5" fill="#ff0000" stroke="#000" stroke-width="1.5"/>
<rect x="1959.7" y="2030.4" width="20.4" height="17.0" fill="#ff0000" stroke="#000" stroke-width="1.5"/>
<rect x="1988.3" y="2024.0" width="20.4" height="23.4" fill="#ff0000" stroke="#000" stroke-width="1.5"/>
<rect x="2016.9" y="2019.3" width="20.4" height="28.1" fill="#ff0000" stroke="#000" stroke-width="1.5"/>
<rect x="2045.5" y="2015.4" width="20.4" height="32.0" fill="#ff0000" stroke="#000" stroke-width="1.5"/>
<line x1="1726.8" y1="1915.8" x2="1726.8" y2="2057.4" stroke="#000" stroke-width="3" />
<line x1="1718.8" y1="2047.4" x2="2071.5" y2="2047.4" stroke="#000" stroke-width="3" />
<line x1="1726.8" y1="2047.4" x2="1726.8" y2="2057.4" stroke="#000" stroke-width="3" />
<line x1="1755.4" y1="2047.4" x2="1755.4" y2="2057.4" stroke="#000" stroke-width="3" />
<line x1="1784.0" y1="2047.4" x2="1784.0" y2="2057.4" stroke="#000" stroke-width="3" />
<line x1="1812.6" y1="2047.4" x2="1812.6" y2="2057.4" stroke="#000" stroke-width="3" />
<line x1="1841.2" y1="2047.4" x2="1841.2" y2="2057.4" stroke="#000" stroke-width="3" />
<line x1="1869.8" y1="2047.4" x2="1869.8" y2="2057.4" stroke="#000" stroke-width="3" />
<line x1="1898.4" y1="2047.4" x2="1898.4" y2="2057.4" stroke="#000" stroke-width="3" />
<line x1="1927.0" y1="2047.4" x2="1927.0" y2="2057.4" stroke="#000" stroke-width="3" />
<line x1="1955.6" y1="2047.4" x2="1955.6" y2="2057.4" stroke="#000" stroke-width="3" />
<line x1="1984.2" y1="2047.4" x2="1984.2" y2="2057.4" stroke="#000" stroke-width="3" />
<line x1="2012.8" y1="2047.4" x2="2012.8" y2="2057.4" stroke="#000" stroke-width="3" />
<line x1="2041.4" y1="2047.4" x2="2041.4" y2="2057.4" stroke="#000" stroke-width="3" />
<line x1="2070.0" y1="2047.4" x2="2070.0" y2="2057.4" stroke="#000" stroke-width="3" />
<line x1="1718.8" y1="2047.4" x2="1726.8" y2="2047.4" stroke="#000" stroke-width="3" />
<text x="1705.0" y="2054.9" font-size="21" text-anchor="end" fill="#333" textLength="34.6" lengthAdjust="spacingAndGlyphs">0.0</text>
<line x1="1718.8" y1="1982.2" x2="1726.8" y2="1982.2" stroke="#000" stroke-width="3" />
<text x="1705.0" y="1989.7" font-size="21" text-anchor="end" fill="#333" textLength="34.6" lengthAdjust="spacingAndGlyphs">1.0</text>
<line x1="1718.8" y1="1917.0" x2="1726.8" y2="1917.0" stroke="#000" stroke-width="3" />
<text x="1705.0" y="1924.5" font-size="21" text-anchor="end" fill="#333" textLength="34.6" lengthAdjust="spacingAndGlyphs">2.0</text>
<text x="1465.3" y="2148.5" font-size="33" text-anchor="middle" fill="#222" textLength="211.4" lengthAdjust="spacingAndGlyphs">hD53/Vinculin</text>
<rect x="1472.7" y="2268.0" width="20.4" height="18.3" fill="#ff0000" stroke="#000" stroke-width="1.5"/>
<rect x="1501.2" y="2227.7" width="20.4" height="58.6" fill="#ff0000" stroke="#000" stroke-width="1.5"/>
<rect x="1529.6" y="2184.8" width="20.4" height="101.5" fill="#ff0000" stroke="#000" stroke-width="1.5"/>
<rect x="1558.1" y="2212.7" width="20.4" height="73.6" fill="#ff0000" stroke="#000" stroke-width="1.5"/>
<rect x="1586.6" y="2176.4" width="20.4" height="109.9" fill="#ff0000" stroke="#000" stroke-width="1.5"/>
<rect x="1615.1" y="2163.5" width="20.4" height="122.8" fill="#ff0000" stroke="#000" stroke-width="1.5"/>
<line x1="1297.8" y1="2152.3" x2="1297.8" y2="2296.3" stroke="#000" stroke-width="3" />
<line x1="1289.8" y1="2286.3" x2="1641.0" y2="2286.3" stroke="#000" stroke-width="3" />
<line x1="1297.8" y1="2286.3" x2="1297.8" y2="2296.3" stroke="#000" stroke-width="3" />
<line x1="1326.3" y1="2286.3" x2="1326.3" y2="2296.3" stroke="#000" stroke-width="3" />
<line x1="1354.8" y1="2286.3" x2="1354.8" y2="2296.3" stroke="#000" stroke-width="3" />
<line x1="1383.2" y1="2286.3" x2="1383.2" y2="2296.3" stroke="#000" stroke-width="3" />
<line x1="1411.7" y1="2286.3" x2="1411.7" y2="2296.3" stroke="#000" stroke-width="3" />
<line x1="1440.2" y1="2286.3" x2="1440.2" y2="2296.3" stroke="#000" stroke-width="3" />
<line x1="1468.7" y1="2286.3" x2="1468.7" y2="2296.3" stroke="#000" stroke-width="3" />
<line x1="1497.1" y1="2286.3" x2="1497.1" y2="2296.3" stroke="#000" stroke-width="3" />
<line x1="1525.6" y1="2286.3" x2="1525.6" y2="2296.3" stroke="#000" stroke-width="3" />
<line x1="1554.1" y1="2286.3" x2="1554.1" y2="2296.3" stroke="#000" stroke-width="3" />
<line x1="1582.5" y1="2286.3" x2="1582.5" y2="2296.3" stroke="#000" stroke-width="3" />
<line x1="1611.0" y1="2286.3" x2="1611.0" y2="2296.3" stroke="#000" stroke-width="3" />
<line x1="1639.5" y1="2286.3" x2="1639.5" y2="2296.3" stroke="#000" stroke-width="3" />
<line x1="1289.8" y1="2286.3" x2="1297.8" y2="2286.3" stroke="#000" stroke-width="3" />
<text x="1273.6" y="2293.8" font-size="21" text-anchor="end" fill="#333" textLength="34.6" lengthAdjust="spacingAndGlyphs">0.0</text>
<line x1="1289.8" y1="2242.0" x2="1297.8" y2="2242.0" stroke="#000" stroke-width="3" />
<text x="1273.6" y="2249.5" font-size="21" text-anchor="end" fill="#333" textLength="34.6" lengthAdjust="spacingAndGlyphs">1.0</text>
<line x1="1289.8" y1="2197.8" x2="1297.8" y2="2197.8" stroke="#000" stroke-width="3" />
<text x="1273.6" y="2205.3" font-size="21" text-anchor="end" fill="#333" textLength="34.6" lengthAdjust="spacingAndGlyphs">2.0</text>
<line x1="1289.8" y1="2153.5" x2="1297.8" y2="2153.5" stroke="#000" stroke-width="3" />
<text x="1273.6" y="2161.0" font-size="21" text-anchor="end" fill="#333" textLength="34.6" lengthAdjust="spacingAndGlyphs">3.0</text>
<text x="1320.7" y="2302.3" font-size="19" text-anchor="end" fill="#222" textLength="70.7" lengthAdjust="spacingAndGlyphs" transform="rotate(-90 1320.7 2302.3)">Ctrl P10</text>
<text x="1348.5" y="2302.3" font-size="19" text-anchor="end" fill="#222" textLength="70.7" lengthAdjust="spacingAndGlyphs" transform="rotate(-90 1348.5 2302.3)">Ctrl P20</text>
<text x="1377.6" y="2302.3" font-size="19" text-anchor="end" fill="#222" textLength="70.7" lengthAdjust="spacingAndGlyphs" transform="rotate(-90 1377.6 2302.3)">Ctrl P25</text>
<text x="1405.3" y="2302.3" font-size="19" text-anchor="end" fill="#222" textLength="70.7" lengthAdjust="spacingAndGlyphs" transform="rotate(-90 1405.3 2302.3)">Ctrl P30</text>
<text x="1433.0" y="2302.3" font-size="19" text-anchor="end" fill="#222" textLength="70.7" lengthAdjust="spacingAndGlyphs" transform="rotate(-90 1433.0 2302.3)">Ctrl P35</text>
<text x="1461.6" y="2302.3" font-size="19" text-anchor="end" fill="#222" textLength="70.7" lengthAdjust="spacingAndGlyphs" transform="rotate(-90 1461.6 2302.3)">Ctrl P40</text>
<text x="1491.2" y="2302.3" font-size="19" text-anchor="end" fill="#222" textLength="80.4" lengthAdjust="spacingAndGlyphs" transform="rotate(-90 1491.2 2302.3)">Gem P10</text>
<text x="1518.9" y="2302.3" font-size="19" text-anchor="end" fill="#222" textLength="80.4" lengthAdjust="spacingAndGlyphs" transform="rotate(-90 1518.9 2302.3)">Gem P20</text>
<text x="1547.2" y="2302.3" font-size="19" text-anchor="end" fill="#222" textLength="80.4" lengthAdjust="spacingAndGlyphs" transform="rotate(-90 1547.2 2302.3)">Gem P25</text>
<text x="1576.6" y="2302.3" font-size="19" text-anchor="end" fill="#222" textLength="80.4" lengthAdjust="spacingAndGlyphs" transform="rotate(-90 1576.6 2302.3)">Gem P30</text>
<text x="1604.9" y="2302.3" font-size="19" text-anchor="end" fill="#222" textLength="80.4" lengthAdjust="spacingAndGlyphs" transform="rotate(-90 1604.9 2302.3)">Gem P35</text>
<text x="1633.4" y="2302.3" font-size="19" text-anchor="end" fill="#222" textLength="80.4" lengthAdjust="spacingAndGlyphs" transform="rotate(-90 1633.4 2302.3)">Gem P40</text>
<text x="1896.0" y="2148.5" font-size="33" text-anchor="middle" fill="#222" textLength="237.6" lengthAdjust="spacingAndGlyphs">MALT1/Vinculin</text>
<rect x="1730.6" y="2271.2" width="21.0" height="15.1" fill="#000" />
<rect x="1759.2" y="2265.1" width="21.0" height="21.2" fill="#000" />
<rect x="1787.8" y="2260.2" width="21.0" height="26.1" fill="#000" />
<rect x="1816.4" y="2263.1" width="21.0" height="23.2" fill="#000" />
<rect x="1845.0" y="2263.1" width="21.0" height="23.2" fill="#000" />
<rect x="1873.6" y="2260.2" width="21.0" height="26.1" fill="#000" />
<rect x="1931.1" y="2246.8" width="20.4" height="39.5" fill="#ff0000" stroke="#000" stroke-width="1.5"/>
<rect x="1959.7" y="2229.9" width="20.4" height="56.4" fill="#ff0000" stroke="#000" stroke-width="1.5"/>
<rect x="1988.3" y="2202.1" width="20.4" height="84.2" fill="#ff0000" stroke="#000" stroke-width="1.5"/>
<rect x="2016.9" y="2221.1" width="20.4" height="65.2" fill="#ff0000" stroke="#000" stroke-width="1.5"/>
<rect x="2045.5" y="2187.0" width="20.4" height="99.3" fill="#ff0000" stroke="#000" stroke-width="1.5"/>
<line x1="1726.8" y1="2152.3" x2="1726.8" y2="2296.3" stroke="#000" stroke-width="3" />
<line x1="1718.8" y1="2286.3" x2="2071.5" y2="2286.3" stroke="#000" stroke-width="3" />
<line x1="1726.8" y1="2286.3" x2="1726.8" y2="2296.3" stroke="#000" stroke-width="3" />
<line x1="1755.4" y1="2286.3" x2="1755.4" y2="2296.3" stroke="#000" stroke-width="3" />
<line x1="1784.0" y1="2286.3" x2="1784.0" y2="2296.3" stroke="#000" stroke-width="3" />
<line x1="1812.6" y1="2286.3" x2="1812.6" y2="2296.3" stroke="#000" stroke-width="3" />
<line x1="1841.2" y1="2286.3" x2="1841.2" y2="2296.3" stroke="#000" stroke-width="3" />
<line x1="1869.8" y1="2286.3" x2="1869.8" y2="2296.3" stroke="#000" stroke-width="3" />
<line x1="1898.4" y1="2286.3" x2="1898.4" y2="2296.3" stroke="#000" stroke-width="3" />
<line x1="1927.0" y1="2286.3" x2="1927.0" y2="2296.3" stroke="#000" stroke-width="3" />
<line x1="1955.6" y1="2286.3" x2="1955.6" y2="2296.3" stroke="#000" stroke-width="3" />
<line x1="1984.2" y1="2286.3" x2="1984.2" y2="2296.3" stroke="#000" stroke-width="3" />
<line x1="2012.8" y1="2286.3" x2="2012.8" y2="2296.3" stroke="#000" stroke-width="3" />
<line x1="2041.4" y1="2286.3" x2="2041.4" y2="2296.3" stroke="#000" stroke-width="3" />
<line x1="2070.0" y1="2286.3" x2="2070.0" y2="2296.3" stroke="#000" stroke-width="3" />
<line x1="1718.8" y1="2286.3" x2="1726.8" y2="2286.3" stroke="#000" stroke-width="3" />
<text x="1706.5" y="2293.8" font-size="21" text-anchor="end" fill="#333" textLength="34.6" lengthAdjust="spacingAndGlyphs">0.0</text>
<line x1="1718.8" y1="2242.0" x2="1726.8" y2="2242.0" stroke="#000" stroke-width="3" />
<text x="1706.5" y="2249.5" font-size="21" text-anchor="end" fill="#333" textLength="34.6" lengthAdjust="spacingAndGlyphs">1.0</text>
<line x1="1718.8" y1="2197.8" x2="1726.8" y2="2197.8" stroke="#000" stroke-width="3" />
<text x="1706.5" y="2205.3" font-size="21" text-anchor="end" fill="#333" textLength="34.6" lengthAdjust="spacingAndGlyphs">2.0</text>
<line x1="1718.8" y1="2153.5" x2="1726.8" y2="2153.5" stroke="#000" stroke-width="3" />
<text x="1706.5" y="2161.0" font-size="21" text-anchor="end" fill="#333" textLength="34.6" lengthAdjust="spacingAndGlyphs">3.0</text>
<text x="1751.7" y="2302.3" font-size="19" text-anchor="end" fill="#222" textLength="70.7" lengthAdjust="spacingAndGlyphs" transform="rotate(-90 1751.7 2302.3)">Ctrl P10</text>
<text x="1779.4" y="2302.3" font-size="19" text-anchor="end" fill="#222" textLength="70.7" lengthAdjust="spacingAndGlyphs" transform="rotate(-90 1779.4 2302.3)">Ctrl P20</text>
<text x="1807.1" y="2302.3" font-size="19" text-anchor="end" fill="#222" textLength="70.7" lengthAdjust="spacingAndGlyphs" transform="rotate(-90 1807.1 2302.3)">Ctrl P25</text>
<text x="1836.8" y="2302.3" font-size="19" text-anchor="end" fill="#222" textLength="70.7" lengthAdjust="spacingAndGlyphs" transform="rotate(-90 1836.8 2302.3)">Ctrl P30</text>
<text x="1864.5" y="2302.3" font-size="19" text-anchor="end" fill="#222" textLength="70.7" lengthAdjust="spacingAndGlyphs" transform="rotate(-90 1864.5 2302.3)">Ctrl P35</text>
<text x="1892.2" y="2302.3" font-size="19" text-anchor="end" fill="#222" textLength="70.7" lengthAdjust="spacingAndGlyphs" transform="rotate(-90 1892.2 2302.3)">Ctrl P40</text>
<text x="1921.3" y="2302.3" font-size="19" text-anchor="end" fill="#222" textLength="80.4" lengthAdjust="spacingAndGlyphs" transform="rotate(-90 1921.3 2302.3)">Gem P10</text>
<text x="1949.9" y="2302.3" font-size="19" text-anchor="end" fill="#222" textLength="80.4" lengthAdjust="spacingAndGlyphs" transform="rotate(-90 1949.9 2302.3)">Gem P20</text>
<text x="1978.1" y="2302.3" font-size="19" text-anchor="end" fill="#222" textLength="80.4" lengthAdjust="spacingAndGlyphs" transform="rotate(-90 1978.1 2302.3)">Gem P25</text>
<text x="2006.7" y="2302.3" font-size="19" text-anchor="end" fill="#222" textLength="80.4" lengthAdjust="spacingAndGlyphs" transform="rotate(-90 2006.7 2302.3)">Gem P30</text>
<text x="2035.5" y="2302.3" font-size="19" text-anchor="end" fill="#222" textLength="80.4" lengthAdjust="spacingAndGlyphs" transform="rotate(-90 2035.5 2302.3)">Gem P35</text>
<text x="2064.1" y="2302.3" font-size="19" text-anchor="end" fill="#222" textLength="80.4" lengthAdjust="spacingAndGlyphs" transform="rotate(-90 2064.1 2302.3)">Gem P40</text>
</svg></body></html>
